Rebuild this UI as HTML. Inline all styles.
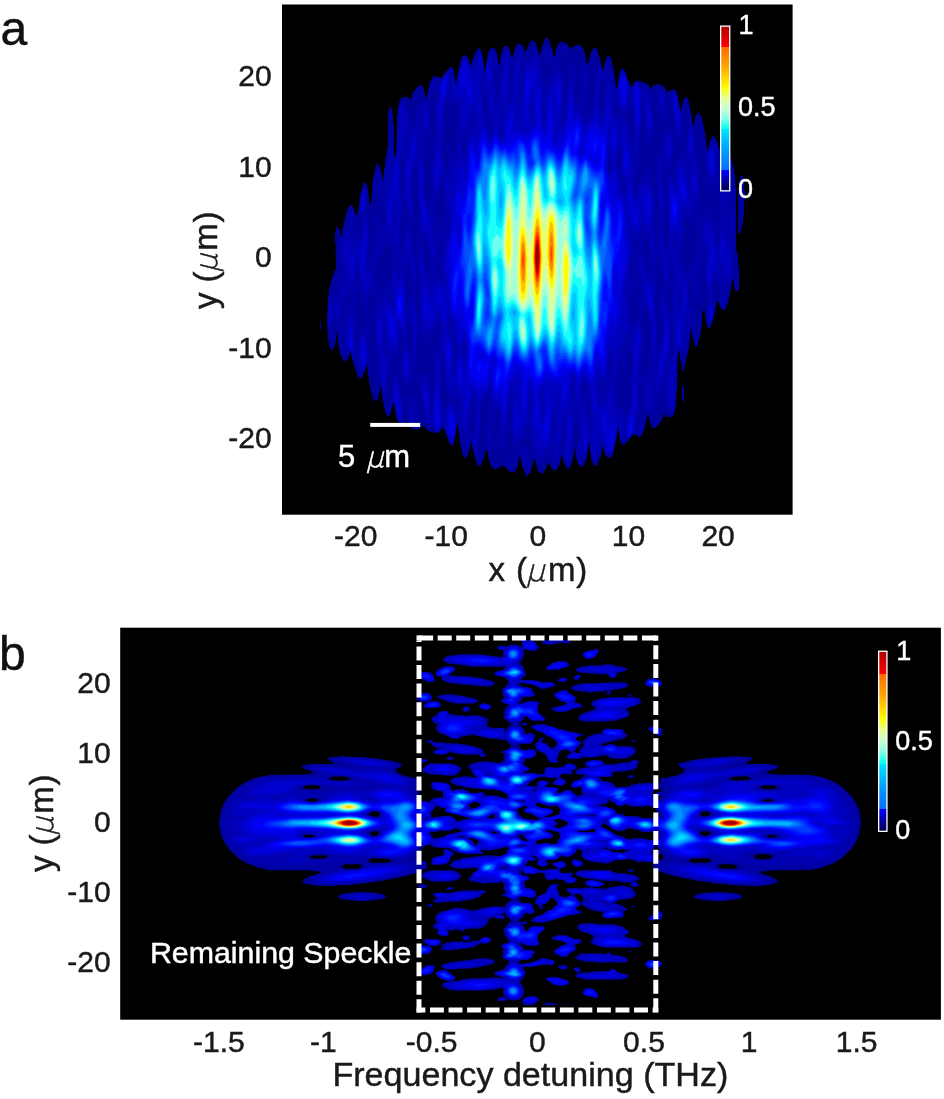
<!DOCTYPE html>
<html lang="en"><head><meta charset="utf-8"><title>Figure: focus intensity and remaining speckle</title>
<style>
html,body{margin:0;padding:0;background:#fff;}
body{width:944px;height:1099px;overflow:hidden;}
svg{display:block;}
svg text{font-family:"Liberation Sans",Arial,Helvetica,sans-serif;}
</style></head><body>
<svg width="944" height="1099" viewBox="0 0 944 1099">
<defs><clipPath id="clipa"><rect x="282" y="4.5" width="510.6" height="510.2"/></clipPath><clipPath id="clipb"><rect x="120.2" y="627.7" width="820.7" height="392"/></clipPath></defs>
<rect x="0" y="0" width="944" height="1099" fill="#fff"/>
<rect x="282" y="4.5" width="510.6" height="510.2" fill="#000"/>
<rect x="120.2" y="627.7" width="820.7" height="392" fill="#000"/>
<g id="heat-a" fill-rule="evenodd" clip-path="url(#clipa)"><path fill="#00009c" d="M528 476l-2 0-1-3-1-1 0-2-1-1 0-2-1-1-0.2-3-0.8-1-0.3-4-0.7-1-1 1-0.5 2-0.5 5-0.9 1-0.1 2-1 1 0 1-2 2-3 0-2-0.8-6-6.2-3 3-2 0-1 1-3 0-3-3 0-1-1-1 0-2-1-1 0-3-1-1 0-4-1-3-2 2 0 4-1 1 0 2-1.9 3-0.1 2-2 2-2 0-1-3-1-1 0-2-1-1-0.3-3-0.8-1-0.5-4-0.7-1-0.3-5-1.4-3-2 10-1 1 0 2-2 3-2 0 0-1-1-1 0-2-1-1-0.1-3-0.9-1-3-24-1.4 2-0.4 5-2.1 10-0.9 2-1.2 1.2-1 0-2.2-3.2-4.9-13-1.9-2-0.7 3-2.3 2.4-5 0.6-1-1-2 0-1-1-3-1-4-5-2 3-1 0-1 1-2 0-1 1-1-1-2 0-1-1-1 0-1-1-0.1-1-1.9-2 0-2-1-1-3 3-5 0.1-3-7.1-1.5-11-1.5-2-1 1 0 4-1 1 0 3-1 1-1 3-1 0-3-5 0-3-1-1-0.1-4-0.9-1-2-17-1 1 0 4-1 1 0 4-1 1 0 2-2 2-1 0-2-3-0.2-2-1.8-4-0.1-3-0.9-1 0-4-1-1-0.2-6-0.8-1-0.5-7-0.8-3-0.7-1-1 6-1 3-1 1 0 2-1 1-2 0-2-2 0-1-2-3 0-2-1-1 0-2-1-1-1.6-7-0.8-1-0.6-6.5-1.4 1.5-0.4 3-2.2 3 0 1-1 1-2 0-1-1 0-1-2-3-2.2-8-1.2-14-0.6-1-0.6 1-0.4 8-1 1 0 3-1 1-1 3-2 0 0-1-1-1 0-2-1-1 0-4-1-1-1.1-22 0.5-1 0.6-21 0.7-1 0.3-7 1-1 0-4 1-1 1-5 1-1 0-1 1-1 0-2 2-3-0.4-26-0.9-1 0.3-10 1-1 0-3 1-1 1 0 1 1 0 2 1 1 0.1 3 1.9 2 1-9 0.8-1 0.2-5 1-1 0-3 1-1 0-3 1-1 0-2 2-3 0-1 1-1 1 0 2.1 2 1.9 5 0.1 2 0.9 1 2-2 0-5 0.8-1 2-15 0.7-1 0.2-3 0.9-1 0.3-3 1.1-2 1 0 2 3 0.2 3 0.8 1 0.3 6 0.7 1 0.1 7 0.9 1 1-1 0.6-2 1.2-21 0.7-1 0.5-6 0.8-1 0.2-4 1-1 0-2 1-1 1 0 1 1 0 1 1 1 0 2 1 1 0.1 3 0.9 1 1 9 0.4-1 0.6-13 0.6-1 1.4-12 0.7-1 0.3-6 0.9-1 0.1-36 1-1 0-3 1-1 1 0 0 1 1 1 0 4 1 1 0.2 11 0.8 1 0 21 0.4 8 0.6 1 1.4-2 0.6-39 0.7-1 0.3-7 0.7-1 1.2-6 3.1-3 5 0 2 3 1-1 0-2 1-1 0-2 1-1 0-1 3-3 0-1 1-1 1 0 2-2 1 0 2 2 0 1 1 1 0.1 3 0.9 1 1 8 4-19 1.9-4 2.1-2 2 0 1 1 2 0 1 1 2-0.3 1.7-3.7 6.3-7.1 1 0 2 2.1 1 3 2 14 2-15 0.8-1 0.2-4 1-1 0-3 0.9-1 0.1-2 1-2 2-2 1 0 4 4 2 8 1-6 0.9-1 0.1-2 1-1 0-2 4-7 1 0 2.1 2 0.9 3 1.4 9 0.6 1 1 9 3-18 2-5 2-2 3 2 1.1 2 1.9 7 0.4 6 0.6 1 0.7-1 0.3-6 0.8-1 0.2-3 1-1 0-2 1-1 0-2 2-2 2 0 1 1 2 4 1.3 6 0.7 1 1-1 0-2 0.9-1 0.1-3 1-1 0-2 1-1 0-1 2-2 3 0 2 2 1 3 2 2 1-1 0-2 1-1 2-5 1-1 3 0 2 2 0 2 1 1 0.1 2 0.9 1 0.4 5 0.6 1 2-3 0-3 1-1 0-2 1-1 0-2 1-1 1-3 1-1 2 0 1 3 1 1 1 5 1 1 0.2 3 0.8 1 0.3 4 0.7 1 1-1 0.5-2 0.5-5 0.8-1 0.2-2 1-1 0-1 2-2 3 0 4 2 1 1 0 1 3 3 1-1 0-1 1 0 3-2 4 0 3 3 0 1 1 1 0 2 1 1 0 3 1 1 0.4 6 0.6 1 2-3 0-3 1-1 1-5 1-1 0-1 3-3 2 2 0 2 1 1 0 2 1 1 0.1 2 0.9 1 1.6 11 1.4 2 2-10 1-1 1-3 2-2 3 5 0 4 1 1 0.3 5 0.7 1 2 17 1 0 0.4-1 1.6-12 1.9-6 1.1-1.1 2.3 2.1 2.7 6 1.1 4 0.9 1 0.2 2 2.8 4 1.6-4 1.4-1.5 2-0.7 3 0.2 1 1 3 0 1 1 1 0 4 4 0 1 1 1 1-1 0-1 2-2 2 0 1-1 5 1 3 3 1 3 1 1 1 0 2-2 2 0 1-1 1-0.1 2.1 2.1 1.9 5 2 13 1 0 1-1 0-4 1-1 0-2 1-1 0-2 1-1 2 0 0 1 1 1 0 2 1 1 0 3 1 1 0.2 4 0.8 1 2 16 1-1 0-4 1-1 0-4 2-3 0-1 2 0 1 1 0 1 2 3 1.2 7 0.8 1 0 4 1 1 0.1 6 0.9 1 0.5 8 0.8 4 0.7 0.9 2-10.9 1-1 0-1 2-2 3 3 0 1 2 3 0 2 1 1 0 3 1 1 0.1 3 0.9 1 0.5 5 0.8 1 0.7 8.6 1.4-1.6 0.3-4 1-1 1.3-4 1-1 2 0 1 1 0 2 1 1 0 2 1 1 0.3 3 0.7 1 0.4 6 0.6 1 0.4 12 0.6 1 0 62 1 1 0 3 1 1 0.4 11 0.9 1-0.3 22-2 3-2-2 0-2-1-1-0.2-5-1.8-2-1 10-0.9 1-0.1 5-1 1 0 3-1 1 0 2-1 1 0 2-1 1-1 3-2 0.1-2.1-2.1-1.9-4 0-2-1-1-1.9 2-0.1 4-0.7 1-0.3 4-1.8 8-3.2 8-2 0 0-1-1-1-0.2-3-0.8-1-0.2-5-0.8-1-0.1-5-0.9-1-1 1-0.6 2-0.4 8-2 16-0.8 1-0.2 4-1 1 0 2-1 1 0 1-1 0-1-1 0-2-1-1 0-2-1-1-2-13-2 21-0.7 1-0.3 4-0.8 1-0.2 3-1 1 0 4-1 1 0 3-1 1 0 3-1 1 0 2 0-2-1-1 0-4-1-1-0.2-5-0.8-1-0.5-7-0.5-0.9-1.3 1.9-0.7 39-0.7 1-0.3 13-0.6 1-0.3 4-2.1 5-1 0.1-1 0.9-5 0-2-3-1 1 0 3-1 1-1 3-3 3 0 1-1 0-2 2-3 0-1-1 0-2-1-1-2-11-1.6 6-1.4 9-3 7-2 2-1 0-3-2-2 0-1-0.8-4.6 5.8-0.2 1-4.2 4.1-1 0-2-2.1-1-3-2-13.9-2 15.9-0.7 1-1.3 8-1.9 5-2.1 2.1-2-0.1-2-2-2-4-1-6-0.6 1-0.4 5-0.9 1-0.1 3-2 3 0 2-1 1-1 3-1 1-1 0.1-2.1-2.1-0.9-3-1-4-0.4-5-0.6-1-1-9-3 18-0.7 1-0.3 2-1 1 0 1-2 2-2-0.9-2.2-3.1-1.8-7-0.4-6-0.6-1-0.6 1-0.4 6-0.8 1-0.2 3-1 1 0 2-1 1 0 2-3 3-2-2-3-6-0.2-4-0.8-1-1 1 0 2-0.9 1-0.1 4-1 1-1 3-2 2-3 0-2-2-1-3-2-2-1 1 0 2-1 1 0 2-2 2 0 1-1 1-3 0-2-2 0-2-1-1 0-2-1-1-0.4-5-0.6-1-2 3 0 3-1 1-1 5zM739 235l0-1-1-1 0-43 1-1 0-8 1-1 0-3 1-1 0-1 1 0 1 1 0 2 1 1 0.1 10 0.9 2 0 9-0.7 1-0.3 16-1 1 0 6-1 1 0 3-1 1-1 5zM320 332l0-12 0 1 1 1 0 7-1 1zM683 403l0-3-1-1 0-13 1-1 0-3 0 4 1 1 0 15z"/>
<path fill="#0000ab" d="M549 68.7l-1 0.1-1-1.3-1.8-6.5-0.4-10 1.2-6.2 1.3 0.2 3.7 5.8 2.1 7.2-0.1 3.4-1-0.2zM566 55.3l-3.3-2.3-1.4-3 0.2-2 2.5-3.6 1 0.1 1 1.1 1.9 6.4-0.9 2.8zM540 466.7l-2-1.9-1-2-1.7-7.8-1.1-2-5.2-29.3-1 1-2.8 15.3-1.2 0.7-2-1-0.9 0.3-1.1 2.2-0.9 4.8 0.6 3-1.3 9-1.4 4.3-1.1 0.7-0.7-4-0.3-12-4.5-16 1.6-19.6-3-6.3-1 2.7-0.5 14.2-3.2 28-1.3 2.1-1 0.6-1-0.3-3-13.4-0.2-7 1.4-15-0.2-5.2-1-2.6-1.2 0.8-2.1 4-1.8 8-0.4 7 1.3 14-0.3 6-1.5 3.5-2-1.1-2-3.4-1.5-8 0-8 1.5-18 2-10-1-5-2-2.1-2-0.1-1 0.5-2 4.7-1 7.9-1.3 25.1-2.7 11.4-1 7.6-1-0.3-1-1.9-3-16.8-1 9-1 2.7-1 0.7-0.4-0.4-1.6-4.3-2-2.2-1 0.3-1 3.5-2-7.6-2-16.5-1 1.1-2.5 15.7-1.5 4.2-1 1.2-1 0.1-1.2-1.5-3.8-11.2-4-8-1.1 6.2-1.9 3-2-0.5-5-4.9-3 0.1-2.3-1.7-2-5-0.7-8-3.6-23-0.3-12 0.9-3.2 1-0.7 3 0.4 1.3-1.5 1.7-4.6 0.6 0.6 1.3 36 1.1 6.7 1 0.2 1-6 1.7-29.9-1.1-23 1.4-5 2-0.2 1.1-1.8 1.9-10.7 0.4-8.3-0.4-3.4-1-2.1-1 0.4-1 2.6-3 13-2 2-2-1.4-1.2 0.9-1.1 3-1.7 10.7-1-0.4-1-4.4-2-18.3-3.3-14.6 1.1-16-1.8-26.3-1 2.7-0.5 7.6-0.1 26 0.6 7.4 2.3 7.6 0.3 5-1.8 16-1 20-1.8 4.4-2.1 1.6-0.8 11-3.1 3.8-2 3.6-1 0.2-2.3-6.6-2.3-11-0.1-9 2.1-18-1.4-6.6-1-2.4-1 0.4-1.5 13.6-1.5 5.9-1 1.7-1 0.3-3-3.2-1.5 3.3-3.5 22.4-2 24-2.3-8.4-1.7-13.5-1-1-1.4-18.5-2.3-13-1-19-0.2-21-2.1-14.9-1-2.4-3 4.5-1.4 5.8-0.7 8-0.9 2.3-1-1.3-2-6.9-3.9-19.1-1.1-12.9-1-1.1-1 1.9-0.3 5.1 0.5 15-1.1 17 0.6 13-0.9 15 0 21-0.5 2-1.3-0.5-1-2.9-1-6.5-1.7 1.9-0.3 1.6-1 0-0.7-1.6-1.1-16-3-9 0.2-6 2.3-12 1.3-4.1 2-2.8 0.8-4.1-0.1-7-0.7-3-1-1-2.6 11-3.1 4-0.6 3-0.6 22 1.4 9 0.5 15-1 2-1-0.8-1-2.5-1-4.9-2-28.2-1 12.8-0.5-6.4-1.5-4.9-2.1 6.9-2.9 5.4-1-1.3-0.6-12.1 0.6-12.7 1-7.3 1-3.2 1-1.2 1-0.2 2 3.8 2-0.7 1 4 1.8-24.5 1.2-3.6 1 0.7 0.6-1.1-0.6-5 0.1-10 1.5-21 1.3-7 1.1-2.2 1 2.2 1 0.5 1-1.7 1.2-5.8 0.2-10 1.6-4 1 0.1 1.1 1.9 1.3 5-0.3 8 1.2 5 3.7 6.2 1 0.5 1-1.2 1.2-16.5-2.4-7-0.2-5 1.8-13 1.6-5 1-0.9 1 0.6 1.2 2.3 1.3 7-1.8 17 1.9 8 2.2 15 0 7-1.8 14 0.2 4 0.8 2 1-0.2 1-1.5 2.6-10.3 2.5-7 0.5-6-1.7-12 0-6 1.1-4.4 1-1.6 2-1.3 1 1.8 1.3 13.5 1.7 3.5 1 0.6 0.5-1.1 0.9-9-0.3-12-1.1-3.1-2-0.2-1-2.7-2.3-19-0.1-6 0.7-3 0.7-0.4 2 4.5 1 9.2 1-13.5 2-14.3 5-14.5 1 0.5 3 13.9 1-1.2 1.8-37.2 1.4-16 1.7-6 1.1-0.6 1 0.7 4.2 5.9 1.6 7 1.6 13 0.6 2 1 0.1 2-4.3 3-15.8 1-2.9 3-4.1 2-7.4 1 0.7 1 2.8 1 6.1 5-21.8 2-3.3 1 0 0.8 0.9 1.2 3-0.2 4-1.5 5-3.4 5-0.9 5 1.2 31-4.7 7-1.2 3-0.6 4-0.5 43 1.8 9.2 3 7.5 1-0.5 2.2-9.2-0.8-28 2-16 0.2-14 1.6-10 0.5-27 0.7-4 1.7-5-0.1-2.6-1.9-7.4 2.9 0.4 6-9.9 6-4.2 1 0.8 2 5.3 2 13.3 1.6-11.7 5.4-18.9 1-0.9 1 0 3 3.1 2 4.5 1 5.3 1-4.3 5.8-12.8 1.2-2.1 1-0.3 2 5.4 3 21.1 2-16.1 2-6.9 1-1 4-1.6 2 2 1.2 4.5 0.8 7.9-3.2 3.1-0.5 9 1.7 12 1 2.6 1 0.4 2-2.7 1-6.7 0.8-13.6-0.4-9 0.5-3 2-5 2.1-3.4 1-0.5 1 0.5 1 1.6 2.2 8.8 0.2 5-1.4 6.7-0.2 5.3 0.2 5.8 1 0.1 2.3-19.9 1.7-8 2-4.8 1-1 2 0.7 4 7.6 5 3.3 1-0.5 1-2.2 3-9.5 1-0.5 1 0.9 2 4.9 1 5.6 1.1 0.5 4.9 29.5 1 0.8 3-15.4 1-1.3 3 0.7 1-1.8 1-4.5-0.6-4 1.2-9 1.4-5 1-0.8 1 0.7 0.5 2.1 0.3 12 0.8 5 4.1 12-1.7 13.2 0 8.8 3 6.2 1.4-23.2 2.6-22.3 1-2 2-1.2 1 2 2.4 13.5-1.1 21 0.7 6 1 0.6 2.8-3.6 1.5-5 0.8-10-1.2-19 1.1-5 1-0.5 1 0.4 2 2.8 0.7 4.3 0.9 1 0.6 3-0.1 8-1.6 19-2 10 1.1 5 2.4 2.3 2-0.3 1-1.2 1.5-4.8 2.2-31 4.3-18.7 2 5 2 11.6 1-8.8 1-2.9 1-0.7 0.8 0.5 1.2 4.7 2 3.3 1 0.4 1-1.5 1-0.3 1.3 6.4 1.7 14.5 1-1.1 3-17.6 1.1-2.8 0.9-1.1 1-0.1 2 2.8 4 12.6 3 6.1 1.6-7.3 1.4-2 2 0.1 5 5.4 4 0.4 1 0.7 1.6 2.4 1 3 4.8 33 0 10-1.4 3.8-1 0.4-2-0.7-1.2 0.5-1.4 3-1.4 6.2-1-0.5 0.1-33.7-1.1-11-1-3.5-1.2 4.5-2 33 0.2 11 1.2 10-1.2 4.7-1 1.2-2 0.7-1 2.4-1.9 18 0.9 5.5 1 0.7 1-1.4 4-15.6 1-1.2 3 1.1 1-1.7 2-12 1-0.3 1.1 3.9 1.9 17.6 3.2 15.4-0.6 22 1.4 20.5 1 2.5 1.2-14 0.1-25-0.3-4.6-2.3-9.4-0.5-5 1.5-16 0.3-17 1-5.2 2-2.6 1.5 1.8 1.5 5.5-0.3-17.5 3.5-8 0.6-3-0.5-3-1.3-2.3-1-0.9-3 0.3-2-2.7-3-18.1-1.4-4.3 0.7-2 0.7-0.6 7-1.1 1.5 1.7 1.2 4 1 12 1.5 8 0.4 8 4.7 21 0 6-2.4 19 1.1 5.6 1 2.9 1 1 1-2.5 0.8-11 1.8-7 1.4-1.7 3 3.2 1-0.4 1-2.5 3.3-19.6 1.8-23 0.9-0.7 1.4 5.7 1.6 12.5 1-0.9 0.1 0.4 1.9 22.6 2.4 13.4 0.9 38 2.3 17 0.4 1.3 1-0.7 2.9-5.6 1.1-5 1-10 1-0.3 2 5.9 4.5 20.4 1.5 14.9 1-0.2 0.5-6.7-0.4-14 1.2-17-0.6-14 1.3-32.4 1-0.6 1 2.8 1 8.5 1.6-2.3 0.4-3.2 1-0.9 0.6 1.1 1 3 0.4 7.4 0.9 3.6 1.1 2.1 1 0.6 0.7-2.7 0.3-8.7 1 0.9 0.5 2.8 1.8 20 0.6 15-1.2 23-2.4 11 0.6 15-2.1 27-0.8 3-2-2.5-1 0.2-0.9 2.3-1 6 0.2 10-1.3 3.9-1 1-1-0.4-1-1.8-1.3-4.7 0.8-10-1.2-6-3.3-4.7-1-0.7-1.2 0.4-1 4-0.7 12 2.9 10-2 12.3-1 3.4-2 2.7-1-0.6-1-1.8-1-5 1.9-17-2.2-9-2.1-13 0-6 1.6-15-0.2-3.7-1-1.2-1 1-1 2.9-1.6 8-2.6 8-0.2 5 1.2 10 0 7-1.2 5-2.6 2.9-1.1 0.1-0.7-2-1.2-14.5-2-4.3-1-0.7-0.3 1.5-0.7 8.2 0.2 11.8 0.8 4.1 3 0.9 0.3 1 2.4 19 0.2 8-0.9 1.7-1-0.5-1-1.9-2-13.7-1.9 19.4-2.1 9.9-5 6.5-1-0.8-1-2.5-1-4.7-1 0.7-1.3 14.9-1.6 41-1 6-1.1 2.3-1 0.1-1-0.9-3.4-5.5-1.8-8-1.8-12.9-1-1.4-1 0.7-1.2 2.6-3.8 18.7-1 2.2-3 3.6-2 7.1-2-4.1-1-6.1-4.8 20.6-1.2 2.4-1 0.8-1-0.4-1.9-2.8 0.1-1 0.8-0.8 1.5-6.2 3.5-4.6 0.8-5.4-1.8-24.8-1-4.8-1-0.5-1 2.4-0.5 4.7-0.8 25-2.3 10 1.3 5-0.5 1-1.2-0.6-1 0.7-6 8.9-3.1 1-2.9 2.1-1-0.6-2-4.6-2-13.4-2.7 17.5-2.7 11-1.6 3.6-1 0.7-1-0.2-3-3.4-2-4.7-1-5.4-1 4.3-5.5 14.1-1.5 2.7-1 0-2.2-6.7-2.8-19-3 19.7-2 3.4-2.6 1.9-1.4 0.5-1-0.8-2-5.1-1.1-8.6 0.1-1.4 1-1.1 3-1.8 0.3-9.7-1.3-10.4-1-3.4-1-0.8-2 2-1 4.5-1.1 13.1 0.2 13-2 6-2.6 5-1.5 1-1.7-2-2.3-10 1.8-13-0.8-10.7-4.9 29.7-2.1 5.1-1 0.8-1-0.2-1.7-1.7-2.3-6.1-5-2.7-1 0.1-1 1.4zM593 61.1l-1 0.6-1.1-2.7 1.1-3.8 1-1.4 1.1 1.2zM600 111l3-3.2 2-11.5 0.2-14.3-0.8-3-0.4-0.7-1-0.2-1 1.2-1 3.1-1 7.5-0.6 13.1zM520.2 92l0.5-1 0.2-5-0.2-5-0.7-1.9-0.3 8.9zM678 141.4l-1.1-0.4-1.1-3-1.8-16.8-2.6-13.2-0.2-11 1.3-4 1.5-2 1 0.3 1.6 3.7 3.4 17.4 1.6 2.6 0.4 2-0.5 17-1.5 5zM486.3 116l0.7-4.2 0-10.8-1-6.4-1-1.8-1 4.2 0 10.1 1 7.4 1 2.2zM447.1 170l1-5-0.7-15 0.6-8.3 1-2.1 1.1 1.4 2.3 12 1.6 3.6 1-0.8 1-5.4 1.1-20.4 1.7-12-1.2-9-0.6-1.1-3-0.4-2-1.3-1.3-2.2-1.7-5.2-1-0.3-3 8.4-1 5.6-0.3 19.5-1.4 15 0.4 9 1.3 8.8 1.7 5.2zM619.4 116l2.6-3-4-7.4-2-1.7-1.2 2.1 0.4 5 2.8 5.3 1 0.3zM632.1 151l0.9-4 1.1-19-0.1-12.2-1-9.8-4-1.2-3.6 11.2 2.8 10 2.8 21.9zM702 128.7l-1.5-3.7 0.5-1.9 1 2.8zM490.8 132l0.5-2-0.3-3.7-1-1.7-1-0.1-0.6 1.5 0.6 4.5 1 1.7zM465.2 155l0.8-4 0.1-5-0.1-3.4-1-2.7-2 2.8-0.5 4.3 0.5 5.7 1 3zM707 196.5l-1-1.7-0.9-5.8 1-15-0.9-27 0.8-1.7 0.5 4.7 1.5 4.1 2-10.6 1-1.5 1-0.2 3 3.2 1.6 5-0.9 28-0.6 3-1.1 2.2-4 1.6-0.8 1.2-1.2 9.8zM620.1 168l1-13-0.1-3-1-3-1 1.3-1 3.9-0.6 6.8 0.6 5 1 2.7 1 0.1zM403.1 192l0.9-6.3 0.7-21.7-0.4-6-0.3-1-1-0.3-1 1-1.1 3.3-0.6 14 0.7 12.8 1 3zM665.6 192l1.4-7.8 0.5-10.2-1.5-8.5-2-6.7-2 24.2 2 7.8 1 1.6zM611.3 167l0.7-2-1-4.4-2.2 5.4 1.2 1.6 1 0.2zM417 258l1-25 1.5-13 0.1-6-1.8-20-0.8-22.3-1-4.5-1-0.3-2 2.6-1 3.8-0.8 9.7 0.3 8 2.3 16 0.1 9-1.9 7.5-2.3 3.5 3.3 22.7 3 9 1-0.2zM372 200.4l1-18.2 1-5.5 1-2.2 1 0 0.4 5.5-1.8 14-1.2 5zM439.1 235l1.4-12 3.5-9.8 0.8-5.2-0.8-15.5-1-5.9-1-1.5-1 1.1-5.4 14.8 1.3 18-0.7 12 0.8 3.1zM726.3 226l0.8-1 1.5-12 2.4-0.9 1-1.1 0.5-2 0.4-6-0.9-8.9-1 1.5-1 4.3-1.6 11.1-0.4 1-2 0.9-1 2.5-0.2 7.6zM403.3 245l0.7-2.3 1.3-14.7 0.7-1.9 2.2-2.1 0.1-1-2.3-20.3-1-4.1-1-1.5-3.4 35.9 0.4 8.2 1 3.5 1 0.8zM689.1 273l2.4-10 3.5-6 1.5-4 2.9-15-0.3-4-2.1-2.9-1.3-4.1-0.2-16-0.5-2.2-1-0.5-1 2.4-2 15.8-1 2.3-4-11.7-1-1.4-0.7 1.3 0.1 15-3.6 23 0.4 6 1.8 5.7 5 6.3 1 0.5zM667.3 248l1-4 0.4-6-1.1-24-0.6-3.5-1-0.2-2.6 8.7-0.7 8 2.3 18.7 1 2.6 1 0.3zM690 246.3l-0.5-5.3 0.5-5.8 0.9 2.8 0.2 3zM429.4 277l0.8-2 0.5-6-0.6-13-4.1-16.8-1-2-1-0.4-1 2.7-0.2 5.5 3 25 1.2 5.3 1 1.6zM650.4 277l1.3-4-0.2-7-3.2-25-1.3-3.8-1-1-1.2 0.8-0.7 4 0.2 15 3.7 17.4 1 2.8 1 1.1zM637.2 250l1.5-4-0.4-4-1.1-2-3.2-2.9-1 0.8 0 1.1 1.7 10 1.3 1.7zM442 258l1.1-4 0.2-8-0.3-2.9-2-4-0.8 2.9 0 11 0.8 5.5zM380.6 304l3.1-21-0.5-11 0.8-6.6 1 2.4 0.2 3.2-0.6 12 4.4 12.8 1-1.8 0.4-15 3.4-19 0-5-1.8-6.3-2-3.1-3-2.2-1 0-0.8 1.6-2.2 7.5-3 3.4-1.7 3.1-2.7 13 0 6 3.3 10 0 15 1.1 1.9zM633 328l5.5-13 0.3-2-1.5-20 0.9-11-0.2-1.7-2-3-0.6-2.3-1.4-21.1-1 0.1-1 2.1-1.2 10.9 1.2 7.6 2.5 6.4 0.2 6-1.2 6-3.2 9-0.6 6 1.3 16.3 1 3.7zM660.2 347l2.1-5 1-12-0.3-6.9-2.3-16.1-0.1-8 1.4-6.5 1-2 2-1.5-4-26.2-3-7.3-1.4 12.5-0.2 14-1.4 19 1.7 18 0.9 25 0.6 3 0.8 0.8zM440.1 277l0.9-0.7 0.1-1.3-1.4-8-0.8-2-0.9-0.7-1 0.1-1.5 2.6 0 5 1.5 2.7zM399.1 273l0.2-5-1.3-2.9 0 5.7zM408.4 305l2.6-8.7 0.7-7.3-1.7-17.7-1-4.5-1-1.7-1 0.8-0.5 2.1-0.9 8 1.3 26 1.1 3.7zM670 315l1-4 2.8-29-0.4-8-1.4-4.2-1 1.2-1.5 15-1.5 3.7-1.8 2.3 1.8 16.5 1 4.8zM645.3 377l2.9-4 1.6-6 0.7-41-1.5-9.7-3-8.4-1-1.2-1 2-1.8 8.3 1.1 25-2.1 23 1.1 11 0.7 1.3zM699 334.3l-0.7-0.3 0-4 2.7-15.5 0.5 4.5-0.5 7-1 6zM363 372.2l-1 0-2-1.5-1.9-3.7 0.7-30 1.2-5.4 1-1.2 3-1 1-1.4 2-11.2 1 0.5 1 2.9 0.6 4.8-0.7 15 0.6 26-0.5 4.5-1-0.3-0.6-4.2-1.4-3.5-1 5.8zM410.4 353l2-22-1.4-7.1-2-4.5-1.1 2.6-1.3 17 1.4 7.9 2 7zM671.2 357l0.8-0.3 1-1.8 1.1-8.9-0.1-15.2-1-5.8-1-1.5-1 1.6-1.1 17.9 0.1 11zM455.1 364l0.9-2.5 1.1-8.5-1.1-6.3-1-1.8-1 2.3-0.6 11.8 0.6 5.5zM626 417l3-7.9 1.5-7.1 0.3-20 1.2-14-1-14.6-1-5.1-1-2.7-1-0.7-1.2 4.1 0.3 17-1.1 6.5-1 1-1-2-3-14-1-0.9-1 2.1-1 10.3-0.2 17-1.7 10 0.9 8 1 1.3 3 0.7 2 2.1zM464.1 352l1.4-4-1.5-2-1 0.8-0.5 2.2 0.5 2.7zM610.1 375l1.6-3 0.4-4-0.7-7-1.4-3-1.1 2-0.7 9 0.6 6 0.2 0.5zM446.1 409l3.5-10-3.2-10-3.4-24.6-1-0.9-1.7 26.5 0.7 15.4 1 2.8 4 1.4zM401 422.4l-1 0.5-1-0.8-1.3-3.1-2-8-1.7-10.7-1.5-4.3 0-10 0.7-7 1.8-4.8 2-1.3 1.5 3.1 1.5 13.4 3.5 16.6 0.1 10zM587.2 393l0.1-3-1.3-4.9-1-2.8-1-0.3-1 2 0.5 5 3.5 4.8zM374 391.9l-1.1-0.9-0.9-3.1 0-2.8 2 4zM413 424.2l-2 0.2-1-1.1-1.6-5.3-0.4-10-1.5-8 0.5-5.3 3 2.4 3-1.4 1 0.1 2 5 3.1 20.2-1.1 1.9zM589.5 416l0.6-4-0.1-7.9-2-8-0.6 4.9 0 9 0.6 4.7 1 2.2zM459.1 409l0.3-3-1.1-4-2.3-3.2-1 0.2-2.2 2 0.2 1 4 7.1 1 0.8zM472.2 435l1.8-6.3 1-11.6 0-13.4-1-0.8-3 4.7-1.6 14.4 0.4 12 1.2 2zM554 438l1.1-11-1.1-6.5-0.8 1.5-0.1 5 0.3 10zM528 469.1l-1-0.5-4-5.6-2.2-8 0.2-2.5 1 0.8 2.4-7.3 1.6-2 1 0.8 1.4 3.2 1.2 7-0.1 9-0.5 3.2zM481 459.3l-0.6-1.3 0.2-2 0.4-2.2 1-1.2 1 1.1 0 1.3-1 3.3zM511 469.2l-1 0.5-1-0.4-1.6-3.3-0.8-4 0.4-1.9 1-1.1 3 1.7 1.8 3.3 0 2z"/>
<path fill="#0000ba" d="M565 50.8l-1.3-1.8 0.3-0.9 1-0.2 0.8 2.1zM567 462.2l-1-0.8-1.1-3.4 1.4-12 0.3-9-0.2-23-0.4-2.9-1-1.3-2 1.7-1 3.1-2 26.4-4 17.3-1-1.4-0.2-4.9 2-23 0.2-17 1.6-10-0.6-7.8-1 0-0.7 1.8-1.2 11-3.1 6.7-0.6 3.3-1.3 25-0.8 5-1.3 1.7-4-1.5-1 1.3-3 9.2-1 0.7-1-0.8-1.7-5.6-1.5-13-1.8-4.8-1.3-6.2-0.3-7 1.6-13 0-7-1-9.3-1-3.2-1-0.5-1 1.9-0.4 3.1-1.1 21-2.5 13.4-1 3.2-2-0.5-1 0.8-4 11.5-1-0.3-1-2.5-2.3-10.6 1.6-33-0.4-5-1.6-4-1.3-0.3-2 5.3-1.3 8-1.7 21.2-1 4.5-2 3.6-1-0.2-0.7-3.1-1.3-21.1-1-2.3-1-0.1-2 1-1-0.1-1-1.3-3-12.6-1-1.9-3 4.6-4 2.6-1.5 3.2-1.2 6-2.1 29-2.4 9-0.8 8.4-1-0.1-1-4.2-0.2-5.1 1.7-5 0.8-5 1.4-22-0.3-9-1.4-6.9-1-2-1-0.5-1 1.3-3.3 20.1-1.7 18.6-1 2.5-2.2-2.1-2.2-5-0.5-5 1.1-12-0.3-8-0.8-3-3.7-6-2.4-10.3-1 2.7-1 8.6-1 2.5-1 0.1-1-1.3-2-6.1-4-36.1-2.6-8.1 0.9-17-0.6-7-1.2-5-1.5-2.3-1-0.1-1 1.3-2.7 13.1-1.3 3-1 0.1-2-2.1-1 0.1-3 4-1-1.3-2.3-9.8-1.1-9 0.3-19-1.9-28 0.1-11 0.9-1.9 2 7.1 2.5 19.8 3.1 8 2.4 8.5 1 1.4 1-1.2 1.4-10.7 1.6-3.7 2-0.1 5 5 1.2-0.2 0.8-2-1.2-19 2.9-29 0.3-1.3 2-1.8 1-3 0.8-8.9-0.5-5-2.3-4.3-1-6.1-1.4-16.6 0.3-7 1.1-1.3 3 1 0.5-0.7 1.5-14.8 1 0.1 2 3.3 1-0.5 2-21.9 1-5.2 3 16.9 2 5.3 1 0.9 1-1.1 0.9-5 1.4-20 1.2-6 0.5-1 1-0.1 4 5.8 1 0.6 1-1.3 1-5 0.1-6-1.1-11.8-1-5.9-1-1.4-2 1.6-3.8 5.5-2.4 10-1.8 4.6-2 2.8-1 0.1-0.3-0.5-0.7-4-0.9-23-1.1-3.8-2-3-3 3.1-1-0.2-1-2-0.5-5.1 0.3-13-0.4-3-1.2-3 0.8-0.7 1 0.2 2 4.4 2 13.6 1-8.8 4.6-18.7 1.4-3.7 1-1.1 1 0 2 2 2 3.4 2 8.2 0.7-0.8 0.3-2.4 1 8.2 1 2.8 1-0.4 1-4.6 2-19.6 1-2.3 1-0.5 1 1.8 1.2 6-2.1 27 1.8 14 1.1 15.5 0.9 4.5 5.1 15.6 2 0.6 1-1.5 1.2-4.7 1-23-0.2-1-1.4 4-1.6 1.8-1-0.9-0.3-1.9-1.1-17-2.6-19 1.4-14 1.6-4.8 1-0.8 0.7 0.6 0.6 4 3.2 44 0.5 1.8 2-1.3 1.5 2.5 1 26 0.4 3 1.1 1.7 1-0.1 1-2.8 1.9-21.8-0.3-5-2.5-8-0.3-7 2.1-29 1.8-11 0.9-1 1.4 0.2 0.4 0.8 1.5 5-1.5 10-0.5 9-0.1 24 1.2 3.4 2-1.3 1.4-4.1 1.6-24 4-18.8 1-0.5 0.5 2.3 0.1 5-1.9 23-0.1 16-1.7 10 0.1 4 1 3 1.3-2 1.1-10 2.6-5.3 1-3.9 2-30.2 1-1.8 1-0.1 3 1.9 1-0.4 4-11.2 1-0.2 1 1.4 1.2 4.8 1.3 13 2.5 7.6 0.7 4.4 0.2 7-1.4 18 0.5 6.5 1 5.2 1 1.8 1-0.7 1-4.7 0.7-18.1 2.3-12.2 1-3.6 1-0.9 1 0.8 1-0.5 3.6-13.6 1.4-2 2 5 2 10-1.8 33 0.5 6 1.3 3.4 1 0.6 1-1 1-2.7 2-11.2 1.7-21.1 1.3-4.9 1-1.6 1-0.4 1.1 2.9 0.8 17 1.1 5.7 1 0.7 3-0.9 1 0.8 1.6 3.7 2.4 10.4 1 0.3 2.4-3.7 3.6-2.5 1.4-2.5 1.3-5 2.2-29 2.8-10 1.3-8.6 1 3.6 0.2 4-1.7 8-1.2 15-0.4 13 0.8 9 1.3 4.5 1 1.3 1-0.4 1-2.5 2.8-15.9 2.2-19.9 1-1.3 2.9 3.2 1.3 5-1.2 15 0.4 8 0.6 2.2 3.5 5.8 3.1 13-4.1 27 4.5 27.3 5 8.9 1-2.4 0.9-10.8-0.7-4-2.7-5-1.1-4 0-26-2.1-11 1.2-13 0.5-2.2 1-1.2 1 0.5 1 1.8 1.5 5.1 4.3 36 2.2 6.5-0.7 18.5 1.7 11.7 1 1.8 1 0.6 1-0.5 4-15.9 1-0.9 3 1.8 3-4.3 1 0.3 2.6 10.4 1.3 10-0.4 19 1.9 30-0.4 9.7-1-0.5-1-3.2-3.1-23-5.9-16.1-1-0.1-1.9 12.2-1.1 3.1-1 0.6-2-0.6-5-6.1-1 0-1 2.2 1.5 14.8-0.1 6-2.6 29-0.6 2-2.2 2.8-1 8.2 0.3 4 1.9 4 0.9 4 2 20-0.1 8.9-1 1.6-3-0.6-1 0.6-1 9.5-1 2.5-3-4.5-1 1.2-2 30.4-1 3.3-2.2-20.9-1.8-5.3-1-1.4-1-0.1-1 2.8-1.8 20-1.2 7.1-1 1.7-1 0-4-5.1-1 0.3-1 4-0.3 7 1.1 14 1.1 5 1.1 0.8 5.4-4.8 4.1-15 1.5-2.7 1-0.8 1 0.6 1 21.9 1 6.4 2 4.2 1-0.3 2-2.7 1-0.3 1.4 2.7 0.1 22-0.5 0.2-1-1.1-1-2.6-2-14.1-2 15.1-3.8 15.5-1.2 2.6-1 0.7-2-1.2-3-4.9-1.9-8.2-1-1-1.1-5.2-1-1.2-1.5 4.4-2.1 21-1.4 3-1 0.1-1-2.1-1.1-6 2-28-3.3-32-4.6-15.4-1-1.3-2 0.3-1.7 5.4-0.8 11-2.1 13-0.4 1.3-1 1-0.4-0.3-0.9-3-0.7-25-0.8-3-1.2-0.9-1 0.9-0.4 2-1.7 23 0.5 4 2.3 8-0.3 14-2 23-2 10zM585 85.9l-1-5.3-0.3-6.6 0.3-3.5 1-0.3 1 2.7 0.4 5.1-0.4 5.2zM624 111.1l-1.5-1.1-1.6-3-3.6-12 0.7-8.5 1.6-8.5 1.4-4.5 1-1.5 1-0.3 1 0.9 1.5 3.4 3.5 13-1.9 15-1.4 5zM437 190.2l-1 0.8-1-1.1-0.5-1.9-1.6-15 4.5-36-0.6-30 2.6-12 1-11 3.6-8.1 1-1.1 2-0.7 2.3 0.9-1.3 5.2-1.4 14.8-3.9 15-0.5 20-1.5 13 1.5 29-3.2 13zM432 88.1l-1 0.3-0.2-2.4 1.2-3.1 1-1 0.8 1.1zM637 152.8l-1 0-1-6 0.1-24.8-1.1-22.6-1.1-8.4 1.1-5.8 1-1.6 1-0.2 2 1.5 2.7 4.1 0.3 5-1.1 29zM661 106.3l-1-0.2-0.6-2.1-0.1-5 1.8-6 0.9-0.9 1 0.1 1.4 2.8-0.1 3-1.3 5.1zM651 133.3l-3-0.5-1.3-4.8-1.3-27 0.6-7 1-0.4 3.3 14.4 1.8 14 0.3 8-0.4 2.3zM679 134.7l-1-0.1-1.1-2.6-3.8-25-0.7-10 1.6-3.6 1 0.2 1.8 4.4 4.2 20-0.2 11-0.8 4zM533.1 125l0.8-6-0.9-18.3-1-3.6-1 0.7-0.8 3.2-0.3 7 1.9 17zM426 129.2l-1 0-0.9-2.2-0.7-7 0.2-11 1.4-6.9 1 4.8 1-4.7 0.9 0.8 0.9 11-0.4 10-0.9 3zM399 253l-4-8.1-1.9-7.9 0.2-4 2.2-8 1.2-9 0.3-11-1-3.5-1 0.2-1 1.7-1 4.1-0.8 10.5-0.3 15-0.4 2-1.5 1.4-1-0.3-1-1.5-0.9-3.6-0.4-17 1.1-16 4.2-15 1.2-21 0.8-1 1 4.1 1-1.4 0.3-1.7 1.7-28.4 2.7-9.6-0.8-15 1.1-4.9 1-0.8 2.6 3.7 2.8 13 0.5 6-0.6 4-2.7 5-1.6 12.7-3 7.3-0.6 4-0.2 32 2 14-2.5 28 0.1 9 1 10zM696 200.2l-3.3-2.2-1.4-4-0.3-14 1.3-20-1.3-2.3-3-1.2-0.7-2.5 2.1-27 0.6-4.1 1-0.9 2.8 16-0.1 20 2.8 9 1.1 9 0.2 18-0.8 5.2zM411 216.9l-1-0.9-1-3.5-3.3-23.5 0.1-22 1-8 2.4-7 1.6-13 3.6-8 2.6-8.9 1 0.7 0.1 5.2-1.8 25-1 6-3.3 8-1.5 12-0.1 11 2.2 19-0.5 6zM669 164.6l-1-0.9-1.2-4.7-1.6-14 0.6-9 1.2-3.1 1-0.6 1 0.9 1.3 3.8 1.4 10-0.6 9zM712 179.3l-2-1.7-1.4-3.6-1.4-13 2.2-13 1.6-3.4 1-0.2 1 1.1 1.6 4.5 0.7 9-0.8 16-0.9 3zM610.5 174l1.5-3 1.7-7-1.8-8-0.9-10.3-3 9.1-1 11.2 1 6.1 2 2.2zM434 256.2l-1-0.2-7-23.4-2-2.4-2.3-0.2-0.6-1-0.2-16-1.9-18-0.6-19 0.7-13 0.9-4.6 1-2 1 0.4 0.4 1.2 1 7-0.3 27 5.9 25 2.5 6 1.5 16.3 2.1 11.7-0.2 3zM661 211.9l-3.4-26.9 1-9 0.1-16 0.3-2 1-1 1 3.2 0.4 5.8-1.3 16 2.9 20-0.4 5zM673 410l-1 0.3-2.1-3.3-3.1-18 0.4-4 2.9-6 1.6-13 2.8-7 0.6-4 0.2-33-2.1-13 2.7-32-1.3-14-1.1-3-2.5-3.4-0.8-3.6 0.8-10-1.5-13 0-21-1.2-20 0.7-8.6 1-2.6 1 1.1 3 8.4 1 1.4 1 0 0.3-0.7 0.5-4-0.1-16 1.1-5 1.2-1.3 3 5.8 1 0.9 2-1 1 2 2 21.1 2.4 8.5 0.4 6-0.8 8-1 1.6-5-8.2-2-1.5-1 0.7-0.6 9.4 2.3 16-1.7 12.8-1 1.7-1-1.2-2-10.2-1-1.9-1 0.3-1 1.9-2 7.3-1 1.3 3.7 16 4.3 9.4 1.8 7.6-0.1 4-2.1 9-1 9-0.4 11 0.8 4.1 1 0.2 1-0.9 1.3-4.4 0.9-8 0.5-17 1.3-4.3 1-0.2 1 1.1 0.9 2.4 0.8 10-0.5 19-1.4 8-3.4 12-1.1 19-0.3 0.7-1-1.4-1-3.9-1 0.8-1.5 10.8-1.1 24-1.5 10 0.4 12zM726 202l-3 0.8-1-0.7-0.2-1.1-1.2-27 0.4-12.7 1 1.8 1 9.2 2-6.2 1 0.1 0.5 1.8 0.6 9 1.9 14-1 7.2-1 2.8zM373 194.3l0-7.7 1-5.9 0.6 3.3zM364 213.1l-1 0.3-1-1.3-1.7-7.1 1.6-12 1.1-2.8 1-0.7 1.7 2.5 0.5 4-0.8 12zM352 216.5l-1-1-0.5-2.5 0.5-1.5 1-0.2 1.1 2.7zM365 294.2l-1-1.3-3-11.7-2-19-1-4.3-1-0.9-1 2.1-2.7 22.9-0.3 1.7-1 1.1-2.7-5.8-2.1-13-2.2 0-1-1.8-1.1-6.2-0.2-6 0.3-11.6 1-7.3 3 6.2 1 0.2 2-1.9 1.3 8.4 1.7 2.6 1 0.3 1-0.5 3-6 2 0.3 1-0.6 1.8-6.1 1-16 0.2-1.1 1-0.5 2 7 1.4 12.6-2.3 23-0.1 7.7 1 2.4 2 0.1 1.3 0.8 0.9 5-0.5 6-1 4-2.7 5.2zM710 294.3l-1-0.7-1-3.3-1.9-13.3 2.1-22-0.1-9-1.1-2.3-3-0.7-0.7-5 0.4-6 1.3-5.3 3-5.6 1-1.4 1-0.1 2 5.2 1.7 7.2 1.8 19 0.5 3.3 1 2.1 1-0.7 1-4.6 2-18.6 1-3.2 1 0.8 2.2 4.9 1.8 9.6 3 3.2 1.7 9.2-0.6 18-1.1 6.1-2-5.7-1-1.2-1-0.1-1 1.1-1-0.8-1.5-7.4-1.5-1.3-1 0-3 5.9-1 0.6-2-0.1-1.7 2.9zM732 228.7l-1 0.1-0.4-0.8-0.2-4 0.6-3.3 1-1.4 1-0.2 0.7 1.9 0 3-0.6 3zM414 281.5l-1-0.6-2.6-19.9-3.9-10-0.3-14 0.8-4.9 1-0.9 1 1.4 1 4 1.5 17.4 3.1 13 0.2 6zM667 283.8l-1-0.4-1.2-3.4-2.2-21-2.7-11-0.1-9 1.2-5.5 1 3.7 2.1 15.8 3.5 7 0.7 3 0.2 15-0.5 3.9zM403 269.5l-2.6-13.5-1.3-3 0.9-0.5 0.3 1.5 2.7 3.1 1 2.8 0 6.4zM653 356.5l-1-1.9-0.7-7.6 0.3-24-5.6-24.1-3.1-9.9-1.6-15-1.9-11 0.4-5 1.2-2.4 1 1.4 6 23.4 2 3 2-0.1 1-1 0.9 1.7-0.1 17 1.9 19 0.3 18-1 12.9-1 4.3zM384 393.6l-1-1.3-2.2-14.3-0.2-21-2.6-9.5-0.8-5.5-0.6-23 0.4-3.2 1-2.3 4 0.8 0.8-1.3 1-12 1.2-3.7 1 0.7 2.6 6 2.4 3.7 2 1.5 1-1.8 0.2-10.4-2-9-0.4-5 1-9 1.2-4.2 1 0.2 0.3 1 2.7 11.2 1 0.2 1-1.3 3-8.9 1 3.9 1 10.9-0.1 18 0.9 14-0.1 9-0.7 5.3-1 1.5-4-9.3-1-0.8-1 1-0.4 20.3-1.3 5-1.3 0.5-3-6.5-1-0.4-2 0.9-0.2-0.5-2.8-22.6-1-2.9-1-0.7-1.4 34.2 1.4 2.6 3 0.4 0.6 5-2.6 29zM342 294.6l-1-0.9-0.1-4.7 0.8-3 1.3-1.3 1 1.2 0.1 4.1-1.1 3.9zM723 305.3l-1-0.4-1.1-2.9 1.1-3.8 1-0.5 1.1 5.3zM329 326.2l-1-1.7 0-11.2 1-10.1 1-3.8 1-0.4 0.8 5-0.1 7-1.1 10zM415 356.2l-1-0.6-0.7-4.6 1-17-3-22 0.7-7.4 1-4.6 1-1.9 1.1 16.9 2.1 14-1.4 11-0.1 11zM657 394.4l-1-2.1 0-5.1 2.5-27.2 1-5 3.1-8 1.3-11 0.2-11-2.1-21 0.8-5 1.2-0.7 1.8 5.7 3.2 22-0.4 23-0.7 6-2.9 9-1.5 12-3.8 8zM338 319.4l-0.9-11.4 0.9-7.9 1 0 0.6 3.9 0.1 9-0.7 5.3zM711 321.2l-1 0.4-0.5-0.6-1.2-3 0.8-12 0.9-4.1 1-1.4 1 0.6 1 2.2 1.1 5.7-1.1 7zM336 314.6l-0.8-6.6 0.8-4.5 0.8 5.5zM454.4 377l4.4-26-2.4-12-1.5-13-4.9-10.5-1-1-1 5.3-0.5 9.2 0.9 4 3 6 0.8 4-0.2 25.7 2 9.2zM353 358.1l-1-2.1-1-6.1-1 0.5-1 2.2-1.1-1.6-0.4-14-1.5-14 1-5.8 1-1.6 1-0.1 3 0.5 0.5 3 1.3 23-0.1 13zM629 437.6l-1 0.2-1-0.8-0.6-2 1.3-15 3.6-13 0.8-6 0.1-17 1.4-16-1.4-27 3.8-14.1 2-3.5 1 0.1 1 2 1 5 0.8 10.5-4.4 37 0.3 30-2.7 12.5-0.7 8.5-3.3 6.4zM363 369.7l-1-0.7-1.6-4-1-8 0.5-17 1-4 1.1-1.1 2.5 1.1 1.5 3 1.7 17-0.2 5-0.5 0.6-1-1.8-1 6.2-1 2.7zM464 368l3-12.2 0.5-7.8-0.5-4.9-1-2.3-2-1.7-1 1.6-2.4 9.3 1.5 5zM341 350.4l-1.4-5.4-0.1-4 0.5-1 1.6 6 0.1 3zM407 381l-1 0-1.7-4-1.6-11 1.3-12.9 1-3.6 1-0.3 2.3 8.8 1.1 11-0.5 8zM439 430.4l-2-0.6-3.5-4.8-0.3-5 3.4-56 0.4-3.7 1-1.4 1 2.4 0.6 6.7-0.3 23 2.2 29-0.8 7-0.7 2.4zM400 420.7l-1-0.7-2-5.9-3.4-18.1 0.2-12 1.2-4 1-0.7 1 1.1 0.9 3.6 3.9 25 0.3 8-1.1 2.8zM428 423.1l-1-2-2.7-14.1-2.1-17 0.1-7 0.7-1.7 2-0.8 2 0.8 1.1 6.7 1.2 26-0.3 5.7zM649 410.8l-1-4.1-1 3.4-1.3-14.1 0.9-8 1.4-3 1-0.7 1 1.1 0.6 2.6 0.4 8-0.5 9zM543.2 416l0.9-3 0.4-7-1.9-16-0.6-1.4-1 0.9-0.4 2.5 0.4 12.6 1 10.7 1 1.2zM584 458.5l-0.8-2.5-2.4-38 0.6-10 1.6-5.4 1 0 0.5 2.4 1.2 13 2.9 17-1.6 16.3-1 4.4zM452 441.4l-1 0.1-1.7-2.5-4.3-14 3.1-17 1.1-3 0.8-1.1 1-0.2 2.7 4.3 3.2 11-2.1 15-1.4 5zM413 421l-1 0.7-1-0.5-1.1-2.2 1.1-5.1 2-4.3 1-0.8 0.9 2.2 0.1 3zM490 443.4l-1-1.4-0.7-5 0.7-8.4 1 0.3 0.5 6.1 0.1 6zM580 459.2l-1-0.1-1-1.7-0.4-2.4 0.4-1.9 2.2 4.9zM510 466.1l-1-0.6 0-2 1 0.4 0.6 1.1z"/>
<path fill="#0000ca" d="M490 83.1l-1-1.1-1-3.5-1-6.5 0-6.3 1-5.5 1-2.1 1 3 0.6 6.9 0.1 9zM470 105.3l-2.2-0.3-1.1-2-0.7-13.3-1-3.4-1 1.5-2 6.6-1 0.6-1.3-2-1.1-4 0-6 3.4-18 2-3.9 1 0 2 2.2 3 6.7 2 13.9 2.2 10.1-1.1 7-1.1 2.4zM505 96.7l-1-1.2-0.3-1.5-0.2-7 1.5-15.9 1-3.2 0.3 21.1-0.3 4.6zM527 124.9l-1-0.3-1-2.2-2-9.4 2.5-38 0.5-2.8 1-1.5 1 0.3 3 2.8 1-0.1 3-6.1 0.9 3.4-1.4 17-0.5 1-1-0.3-1 0.6-2.4 6.7-1.1 9 0.3 15-0.8 3.9zM624 107.3l-1.6-1.3-1.5-4-1.4-7-0.5-6 0-5 1-5.4 1.3-3.6 1.7-1.5 1 0.8 1.6 3.7 2 10-0.8 12-1.3 5zM440 128.9l-1-2.4-1-8.8 0-9.1 2.2-10.6 0.9-14 2.3-6 1.6-1.9 1-0.3 1.3 1.2-0.8 13-1.2 6-3.8 11zM558 116l-1-0.2-0.1-0.8-1.8-23 0.9-9.6 1-3.6 1-1.1 1 1.4 1.2 3.9 0.8 8-1 15.1zM637 133l-3.3-43 1.1-4 1.2-0.9 2 1.5 1.4 2.4 0.5 7-0.6 26-1.3 8.5zM539 447.8l-0.7-4.8 0.9-15-1.2-2-1-0.1-2 1.9-1 0.2-1-4 1.2-22-0.7-9-1.5-8.2-1-2.4-1-0.4-1 1.1-1 3.1-1.5 24.8-1.5 6.6-1 1.1-1.3-2.7-0.9-6-1.6-16 0.3-17-0.5-3.8-1-1.3-1 0.2-1 1.4-2 7.4-1 0.4-2-1.4-1 0.5-1 1.9-2.6 12.7-1.9 22-1.5 5-1-0.2-0.6-2.8-1.2-17-0.8-4-0.4-0.9-1 0-3 1.7-1-0.8-1.8-5-1.6-12-0.6-1.9-1-0.2-3.2 9.1-1.8 2-3.5 2-2.5 6.7-1-0.6-1.6-6.1-2.4-5.5-1-0.9-1 0.4-1.2 3-4.8 28.7-1 2.1-0.8-4.8 0.2-18 2.9-18 0.7-35-2-9-1-1.7-1-0.2-1 1.6-3 9.4-1-1-1.3-7.1-0.6-14-1-2-3.2-3-2.4-8-1.2-9-1.1-18-2.3-10-0.5-7 1.6-16.5 3-9.4 2-11.4 3.3-39.7 3.7-9 1-14.6 1 0.5 4 9.6 1-0.6 1.1-3.9 1.6-22 1.3-7.6 1-1.5 1 0.2 2.3 3.9 1.7 5 1 0.9 4-20.1 1-1.8 1 0.4 2 2.3 4 11.9 1 0.6 1-0.2 3.2-8 0.8-6 1-2.6 1 1.4 0.9 8.2 1.1 3 2 3.1 2-0.5 1.4-2.6 1.1-13 1.5-8.2 1.9-4.8 3.1-3 1 0.8 0.5 3.2 0.5 17 1 0.4 2-1.9 2-0.3 3 4.1 2 1.1 5-3.2 5-1.9 1.3-2.3 0.4-4-1.2-18 0-15 2.5 0.6 3-3 1 1.7 0.3 3.7-0.9 14 0.1 9 2.4 15 1.1 1.5 1-0.4 1.5-4.1 1.5-24 1-4.9 1-1.7 1 0.8 1.1 3.8 2.5 17-0.6 19 0.8 4 1.2 0.7 1.5-1.7 1.8-6 0.7-0.9 2 1.5 1-0.2 2-4.2 2.5-13.2 1.5-19.2 1-4.4 1-1 1 2.9 1.9 20.7 1.1 0.9 3-1.8 1 0.3 1 1.3 1.5 5.3 1.5 11.4 1 1.4 1-0.9 3-8.3 4-2.8 1-1.6 3-9.2 3.9 14 1.1 1.5 1 0.2 0.6-0.7 1.1-3 2.3-12.4 3-10.4 0.7 15.8-2.5 18-0.8 34 1.6 7.8 2 3.4 1.7-2.2 2.3-7.6 1-0.3 1 3 0.8 5.9 0.5 13 0.7 1.5 3 2.4 1 1.7 2.5 9.4 1 9 0.6 15 2.4 12 0.4 6-1.7 18-3.2 10.4-1 5.6-3.7 41-1.3 5-2.8 5-1.2 13.7-1-0.4-3-6.8-1-0.9-1 1.7-0.8 4.7-2.1 24-1.1 3.8-1 0.8-2.2-2.6-2.8-7.8-1 1.2-3.2 22.6 2.2 13 0 10.9-1 0.7-1.2-3.6-1-20-3.8-5.8-2.7-9.2-1.3-1.9-1-0.1-1 0.9-2.6 7.1-1.4 7.2-1 0.9-1-3.2-0.4-5.9-1.6-4-2-2.3-2 1.4-1 2.9-0.6 11-1.4 8.5-2 5.1-3 2.7-1-0.1-0.9-3.2-0.1-15-1-3.2-4 3.1-1-0.3-3-4.1-2-0.7-4 2.7-5 1.7-2 2.8-0.4 5 2 30 0.4 1.5 1 0.4 2-3.9 1.4-6 0.7-8-0.4-15 1-3 1.3-1 1 1.1 1.5 4.9 1.2 8-1.6 13-0.8 21-0.8 6-0.5 1.4-1 0.5-4-3.3-1 0.7-2 5.6zM679 129.7l-1-0.4-1-3.7-3-21.7-0.5-6.9 0.5-1.1 1-0.1 1.1 2.2 3.9 19 0.1 8zM480 118.9l-1.3-7.9 0.3-8.9 1 1.5 0.8 6.4 0 6zM650 127.6l-1 0.4-1-1.3-1-5.5-0.3-14.2 0.3-2.5 1-0.1 2 7.6 0.7 6 0.2 6zM403 115l-2-5.5 1-2.8 1 1.3zM464 119.5l-1-3.4 0-5.2 1-4.2 1-0.3 0.7 1.6 0 4-0.7 5.6zM426 118.6l0-7 1 1.3 0.1 2.1-0.1 1.6zM614 158.1l-1-2.1-0.6-4-0.8-17 0.6-7 0.8-2.7 1-0.9 1 0.6 1.2 3 1.3 11-1.5 13.9-1 4.1zM691 150l-1.2-1-0.6-5 0.8-11.3 1-3.1 1 2.7 0.8 9.7-0.6 6zM669 157.8l-1-0.9-0.5-1.9-1.1-8 0.4-7 1.2-2.6 1 1 0.8 2.6 0.7 6-0.3 7zM410 207.5l-3.4-22.5-0.2-13 1.2-9 3-6 1.4-14.8 2-4.2 1 0.6 0.2 1.4-0.2 8.5-1 6.7-2.9 6.8-1.7 21 0 11 1.6 12zM626 174.3l-2-2.5-1.1-7.8 0.5-11 1.6-12.5 1 0.4 1.8 6.1 1.2 10-0.7 13-0.8 3zM712 175.2l-1-0.8-1.3-3.4-1.1-10 0.4-8.9 1-3.8 1-1.1 2.5 4.8 1 7-0.5 12.2-1 3.5zM437 182.6l-1.1-1.6-0.7-8 2.8-21.6 1 0.7 0.9 12.9-0.9 9.4-1 5.9zM396 193.5l-1 0.4-1.3-0.9-0.2-5 0.8-18 2-4 0.7-6.3 1.1 6.3 0.2 14-0.7 9zM725 187.9l-2-3.4-1.2-5.5-0.6-9 0.8-4.4 1 11.9 2-8.7 1 1.2 0 16zM672 232.5l-1-1.2-0.5-5.3-0.6-39 1.1-1.9 4 7.8 2 1.3 1-0.1 0.5-5.1-0.9-17 0.4-3.6 1-1.5 3 6.8 2 1.5 1 2.1 2.2 18.7 0.1 6-0.3 1.1-1 0.4-2-1.2-3-3.5-1-0.7-0.5 0.9-0.8 26-0.6 1-3.1 1.8zM421 184.4l-1-1.9-0.2-4.5 0.2-5.8 1-4.6 1 1.6 0.3 6.8-0.3 6.3zM695 193.2l-1.8-3.2-0.8-6 0.3-9 1.3-5.2 1 0.3 1 3.6 0.6 7.3-0.2 9-0.4 2.3zM637 229.1l-2-2.1-5-10-1.5-5-0.7-7 0.1-8 1.1-7.3 1-0.9 3.1 14.2 1.9 3.2 3 2.3 1 2.5 0.2 13-1 4zM649 224.8l-2-2.7-3.1-15.1-0.9-2.3-2-1.2-0.5-3.5 0.5-5.4 1-1 2 5.5 4-9.9 1 0.5 2 6 1 8.3-1.7 18-0.3 1.7zM428 229.3l-4-4.1-1.3-3.2-2.1-25 0.4-6 5.4 20 1.9 16zM363 209.7l-1-1.7-1.1-6 1.1-6.7 1-2.5 1-0.6 1 1.8 0.1 8-0.8 6zM389 228.4l-1.2-5.4 0.1-11 1.1-8.1 2-4.9 0.5 3-0.6 18-0.9 7.2zM459.1 233l-0.1-6.2-0.8 2.2 0.8 4.4zM680 236.1l-0.8-6.1 0.8-1.8 0.6 3.8zM363 272.2l-1 0.5-1-4.5-0.8-14.2 0.4-3 3-9 1.4-12.7 1 0.2 1 6.3 0 5.2zM709 283.8l-1.2-3.8-0.2-8 3.3-34 0.1-0.8 1-0.4 1.6 8.2 0.8 16-3.5 11zM722 258.3l-1-0.6-0.5-1.7-0.1-6 1.1-10 0.5-2.1 1-0.8 1.3 3.9 0.3 8-0.8 6zM345 258.2l-1.2-5.2 0.2-9.5 1 0.7 0.7 1.8 0.8 4-0.3 6zM730 271.2l-1.6-3.2-0.8-5 0.3-6 1.1-2.8 1 1.2 0.8 6.6zM352 276.9l-1-0.5-0.7-2.4-0.4-8 1.1-8 1-1.8 1 0 0.9 2.8 0.1 5-1 10zM666 275l0-6.7 0.5 3.7zM396 346.2l-1 0-2-5.4-3-3.2-0.9-2.6-2.7-25 0.6-1.6 1 0.5 6 6.7 1-0.1 1.3-24.5 0.8-2 2.9-3.1 2-3.4 1-0.3 1 7.8 0.3 35-0.3 1.7-1 0.3-3-5.5-2-1.7-1.4 0.2-0.5 4 0.7 17zM445 324l-1-1-3-13.4-1-1.7-3.3-2.9-1.1-3-0.2-11 0.6-3.6 1-1.6 1 0 1.1 1.2 4.9 8.7 1.4 4.3 1 14-0.4 6.5zM654 323l-1-1-5-19-1.4-13 0.4-3.9 4 2.8 1 2.3 2.1 24.8zM684 313.1l-0.8-3.1 0.3-13 0.5-7 1-3.5 1 1 0.3 1.5 0.3 9-0.6 7.9zM427 323l-1 0.9-1-1.2-1.4-4.7-0.9-6 0.3-10 2-13.8 1 0.5 1.7 3.3 3.3 15.2 2.3 2.8 0.7 3 0 4-1 4.3-1-0.6-2-5zM711 319.1l-1.1-0.1-0.5-4 0.6-8 1-2.5 1 0.6 0.7 1.9 0.5 5-1.2 5.2zM665 318.3l-1-9.9 1 2.6zM660 376.2l-0.8-3.2 0.4-8 1.4-7.1 2.4-4.9 2.6-34 2.1 12-0.2 15-0.9 5.5-3.1 5.5-1.7 16-1.2 2.5zM380 345.3l-1.3-3.3-0.9-9 0.1-9 1.1-3.9 1 0.1 1.1 1.8 1.2 8-0.5 10-0.8 4.2zM677 351.3l-0.9-8.3 0.2-12 0.7-6.4 1-2.9 1-0.8 1 0.3 0.8 2.8-0.6 20-0.2 2-0.6-3-0.4-0.4-1 0.9zM353 355.9l-1-1.5-1-6.2-1 0.5-1 1.9-0.6-2.6 0.3-16 0.3-2.4 1-1.3 1 1 1 2.6 0.8 5.1zM636 364.5l-1.1-5.5-0.3-13 1.4-11.2 1-3.4 1-0.6 1.3 4.2 0.5 7-2.8 20.3zM653 343.8l-0.3-9.8 0.3-2.9 1-0.6 0.4 8.5-0.4 3.6zM364 366.4l-1-1-2-4.4-0.8-5 0.2-11 0.6-4.1 1-1.8 1 0 1.6 2.9 1.3 8 0.3 6-1.2 7.8zM449 372.7l-2-4.3-1.5-11.4 0.7-13 0.8-3.4 1-1.2 1 0.3 1.4 2.3 1.1 7-0.5 12.7-1 7.8zM406 376.2l-1.5-4.2-0.7-7 0.7-7 0.5-1.8 1-0.5 1.5 5.3 0.7 8-0.8 6-0.4 0.9zM461 390l-1 0.3-1-1.1-0.8-2.2-1.3-10 0.8-12 1.3-7.4 1-2.3 1 0.7 0.9 4 1 15-0.2 10zM384 385.5l-1-0.4-0.6-3.1-0.8-9 0.4-6.2 1-3.1 1-0.5 1.2 1.8 0.3 4zM439 428.7l-2-0.5-1.7-2.2-0.9-6 0.6-25 2-13.1 1 2 2.7 39.1-0.7 4.1zM629 436.3l-1.6-1.3 0.5-10 1.2-7 3.6-10 1.1-22 0.2-1.5 1-1.1 1.7 12.6-0.1 10-2.1 10-1 13-2.5 5.3zM400 418.4l-1-0.6-1.1-2.8-3.3-19 0-8 0.4-2.5 1-1 1.3 3.5 3.3 22 0.5 6zM427 411.1l-2-5.7-1.3-9.4-0.1-7 1.4-3.4 1 0.2 0.9 2.2 0.7 5 0.4 13zM672 406.8l-0.7-1.8-0.3-10.1 2.1 8.1-0.1 2.6zM610 407.1l-0.7-2.1 0.1-4 0.6-3.5 1-0.1 0.1 7.6zM517 435.1l-1-0.2-1-2.3-1.3-8.6 0.4-11 1.9-11.1 1.1 1.1 2.4 18-0.6 8zM452 439.5l-1 0.3-0.8-0.8-1.2-2.6-1.8-9.4 0.8-12.8 1.1-4.2 0.9-2 1-0.4 1.2 1.4 1.6 5 1.5 11-1 9zM610 452.4l-2-1.4-2.4-5-5.2-26 0.2-4 1.2-4 1.2-1.8 2-0.9 1.8 0.7 1 2 1.2 15.3 1-0.5 2-6.8 1-1.2 2 3.1 0.9 4.1-0.1 5-2.8 15-1.7 5zM569 443.9l-0.9-6.9-0.1-13 0.8-7 0.2-0.7 1-0.3 1.1 4 0.1 7-1.2 12.6zM585 455.6l-1-6.2-0.4-11.4 0.4-7.8 1-1.1 1.1 2.9 1.3 8-0.4 9.1-1 4.8z"/>
<path fill="#0000d9" d="M461 85.8l-0.1-4.8 2.1-15 0.9-3 1.1 0 1.3 4 0 7-4.3 10.9zM526 103.6l-0.1-22.6 1.1-5.3 1-0.3 2 3.6 0.6 5-3.6 18.7zM624 103.2l-1-0.5-1.1-2.7-1.5-11 0.5-11 1.1-2.4 1-0.5 1 0.8 1.4 3.1 1.2 8-0.6 11-1 3.9zM443 98.1l-1 0-0.4-2.1 0-12 2.4-5.9 1-0.9 1 0 0.5 3.8-0.7 9-0.8 3.9zM470 98.5l-1.2-1.5-0.9-6 0.1-9.6 1-1.7 1 2.9 1.2 9.4-0.2 4.8zM559 103l-1 0.4-1.4-9.4 0.4-7 1-2.2 1 1.3 0.9 5.9zM638 123.6l-1-0.5-1.1-10.1-0.4-16-0.8-7 0.3-2 1-1.1 1 0.3 1.3 1.8 0.7 6.8 0 19.2zM537 419.3l-1-0.4-0.8-2.9 0.2-17-0.8-7-1.9-10-1.7-4.1-1-0.1-1 0.9-1.9 5.3-0.9 7-0.6 15-0.6 4-1 0.3-1-5.9-0.9-13.4-0.2-18-0.8-3-1.1-1.1-2-0.6-2 0.9-4 4.6-2 3.6-3.2 14.6-1.8 20.3-1 3.2-1-3.5-1.4-20-0.6-1.2-3.8 4.2-1.2 0.3-1.1-1.3-1.2-4-0.8-17 0.5-4 2.2-7-1.6-3.3-1-0.3-1.5 1.6-0.8 10-3.7 13.3-2 3.5-4-0.6-2 3-1 0.5-5-8.2-1 0.1-3 2.4-1-19 0.9-18-0.9-7.8-2-9.2-2-4.4-1-0.2-2 7.1-1 1.7-0.3-4.2 0.9-12-1.8-3-3.8 0.3-1-0.5-2-4.3-1.8-12.5-0.7-23-2.5-8-0.2-5 1-10 3.2-10.3 3.8-21.7 0.7-20 0.8-7 1-3 1.7-1.2 1.2 1.2 1.8 4.5 1 0.7 1-2.5 4-18.2 1.1-22.5 0.9-5.8 1-2.4 1-0.2 1 1.2 3 10.8 1 1.2 1-2 2.7-16.8 2.3-5.6 1-0.1 1 1.2 3 9.4 1.7 2.1 1.3-0.3 3-7 1-1.7 1-0.3 4 6.6 1 1.1 2-0.4 3.3-3 0.7-13.6 2-7.6 2-2.7 1 3.9-0.5 12 1.5 3.9 1 0.2 4-4.1 1 0.2 4 3.8 2 0.2 2-0.7 7-4.8 2.1-2.7 0.9-4 0.1-5-1.4-17 0.3-4 1-1.8 1-0.2 1.1 3 0.5 20 2.4 13.3 1 2.8 1 0.8 2-2 1.5-4.9 0.9-7 0.6-15 1-3 0.8 2 1.7 17 0.2 18 0.4 2 1.9 2.1 3 0.1 3-2.3 2-2.7 2-5 3.3-16.2 1.7-17.9 1 0.3 1.1 17.6 0.9 4.4 1-0.2 2.1-3.2 1.9-1.5 1.6 1.5 1.2 4 0.9 8 0.2 11-2.8 9 0.9 2.7 1 0.9 1-0.2 0.9-1.4 0.5-10 4.4-14 1.2-2.2 1-0.5 3 0.1 3-5.3 5 9.3 1 0.3 1-0.7 2-2.6 0.4 0.6 1.1 19-0.9 19 1.4 9.9 2 7.6 1 1.8 1 0.4 3-7.2 0.3 0.5 0.5 3-0.8 10 0.4 4 1.6 2.4 4-0.9 1 0.9 1.4 3.6 1.9 14 0.6 23 2.1 6 0.6 6-0.7 9-3.4 12-4 23-1.5 24.9-1 2.8-1 0.8-1-0.3-0.8-1.2-2.2-5-1 0.8-4.5 20.2-1 21-1.5 8.7-1 1.3-1-0.5-0.8-1.5-3.2-11.4-1 0.5-0.8 2.9-1.9 14-2.3 7.2-1 0.5-1-0.6-3.2-9.1-1.8-2.9-1 0-1 1.1-3 7.5-1 1.1-2-2-3-5.8-1-0.6-1 0.2-3.6 4.4-0.9 14-1.5 5.3-2 2.8-1-1-0.2-2.1 0.1-13-0.9-2.7-1-0.8-5 4.5-4-3.6-3-0.7-9 6-1.8 2.3-1 4 0 6 1.9 16-0.5 5-0.6 1.8zM649 121.9l-1-2.1 0-8 1 1.7 0.3 2.5zM614 153.4l-1-4.4-0.4-9 0.4-6.4 1-3.1 1 0.5 0.8 3 0.5 7-0.9 9-0.4 2.2zM669 149.5l-1-0.7 0-4.1 1 1.2zM626 169.4l-1-0.2-0.8-2.2-0.4-5 0.7-9 1.5-4.5 1.3 2.5 0.7 7-0.5 7zM712 171l-1.2-2-0.8-6 0-6.4 1-3.1 1 0.3 1 1.9 0.6 4.3-0.3 8-0.3 1.8zM396 185.8l-0.9-3.8 0.1-6 0.6-6 1.2-0.5 0.2 10.5zM408 180.5l-0.5-5.5 0.5-5.9 0.9 0.9 0.1 2zM685 198.6l-1 0-1-0.9-2.6-5.7-0.8-9 0.4-5.6 3 1.7 1.7 3.9 1.1 11zM674 225.2l-1 0.6-1-0.9-0.5-3.9-0.3-24 0.8-4.2 4.9 5.2 1.3 6-0.7 15-1.5 4zM363 205.4l-1.1-5.4 1.1-4.9 1 1.5 0.2 3.4-0.2 3.3zM649 213.5l-1.1-0.5-0.7-6 0.6-8 1.2-2.4 1.1 2.4 0.7 6-0.8 6.2zM425 220.5l-1-1-1-6.3 0-4.9 1-0.7 1.6 7.4 0.1 3zM637 223.3l-1-0.6-1-2.8-0.6-3.9 0.6-2.4 1 0.1 1.3 2.3 0.4 4zM459.2 242l1.1-5 0.2-9-0.5-5.1-1-3.3-1-1-1.4 1.4-0.2 6 1.5 15 0.4 1 0.7 0.5zM711 260.1l0-2.9 1-3.7 0 4.7zM617.3 294l0.4-8-0.7-9.7-1-4.4-1 1-0.9 5.1-0.1 9 1 6 1 1.8zM402 320.1l-3.5-3.1-1.2-2-1-8 1.2-13 1.5-3.3 2-2 1-0.1 1 5.4 0.1 20-0.1 4zM439 299l-1-0.6-0.6-2.4 0.6-3.8 1.4 3.8zM651 308l-1-2.1-1.3-6.9 0.1-5 1.2-1 1 1.9 0.6 5.1 0.1 6zM426 315.8l-1-0.1-1.1-6.7 1.1-7 1-1.6 1 2.2 0.2 3.4zM711 317.1l-0.4-3.1 0.4-4.4 1 0.8 0.2 1.6-0.2 3zM395 336.8l-1 0-3-2.7-1.3-3.1-1.2-13 0.5-3.2 1-0.2 2.7 3.4 1.5 4 0.8 7zM678 340.9l-0.8-0.9-0.1-2 0.9-8.3 1 0.5 0.3 4.8-0.3 4.9zM666 346.6l-0.5-3.6 0.3-6 0.2-2.3 1-0.3 0 8.6zM352 352.8l-1-6.4-2.1 1.6 0.8-11 0.3-1.5 1-0.4 1 2.8 0.6 6.1 0.1 7zM364 359.1l-1 0.5-1-1.3-0.9-4.3-0.1-5 1-5.2 1-0.1 1.3 4.3 0.3 6zM449 364.7l-1 0.2-1-2.9-0.5-6 0.7-8 0.8-2.9 1-0.8 1.1 1.7 0.6 6-0.5 8zM460 384.7l-1.3-2.7-0.8-8 0.7-9 1.4-5.3 1 1.2 0.3 2.1 0.7 11-0.6 8zM406 370.2l-0.7-4.2 0.7-3.4 0.6 4.4zM468 396.2l-1 0.7 0-3.4 1-4.5zM438 427.2l-2.1-2.2-0.7-8 0.3-19 0.5-5 1-2.3 1.4 8.3 1.6 25-1 2.8zM426 403.2l-1.2-8.2 0.2-3.1 1-0.6 1 7.7zM517 428l-1 0.2-1.1-5.2 0.1-7.7 1-3.3 1 2.3 0.8 5.7 0 4zM547 439.5l-1-0.5-1.5-3-0.8-6 2.3-11.8 2-6.6 0.8 7.4 0 11-0.8 7.8zM451 438.2l-2.2-4.2-0.7-9 0.9-9.4 1-2.8 1-0.6 1 1.5 1.1 4.3 0.9 10-0.9 8-1.1 1.9zM606 431.5l-1 0.4-1-3.3-0.8-6.6 0.3-5 0.5-1.2 1-0.1 1 2.2 0.4 3.1zM629 435.1l-1-1.1 0.7-10 1.3-5.6 2-2.9 1.1 2.5 0 10-2.1 5.3zM610 450.6l-1-0.4-0.5-1.2-0.2-8 4.7-13.2 0.8 3.2-1.8 15-1 3.8zM586 450.7l-0.6-4.7 0.6-3.2z"/>
<path fill="#0000e8" d="M624 98l-1-1-0.6-2-0.9-7 0.4-9 0.5-2 0.6-0.4 1 0.7 1 2.2 0.6 5.5-0.3 9zM443 94.5l-0.9-3.5 0-7 0.9-3.1 2-2.6 0.8 1.7-0.4 8-1.4 5.7zM528 90.1l-1 0.4-0.2-3.5 0.2-4.1 1-1.9 0.7 4zM638 116.2l-1-0.6-0.5-6.6 0.5-18.8 1.2 11.8zM505 392.4l-1-1.4-1-4.9-1-1.9-1 0.6-4 7.4-1 0-1.2-2.2-1.1-7 0.1-8 0.9-6 2.2-7-2.9-5.8-1-0.1-1 0.8-1.9 3.1-0.9 9-2.6 11-1.6 3.4-1 0-3-3-3 3.5-1 0-3-6.3-1-0.7-2 1.1-1-0.4-1-4.2-0.5-7.4 1-17-0.2-5-4.3-27.2-3.5-10.8-1.5-7-1-0.5-1.4 9.5-1.6 3.4-1 0.6-1-0.4-1.5-3.6-1.4-9-0.4-11 2.2-28-1.8-7 2.9-22.2 1-1 2 15.4 1 3.2 1-0.5 1-2.6 1.1-9.3 0.1-9-0.7-7-3.7-12 0.3-11 0.9-2.5 1-0.2 3 7.3 1 0.2 1-2 4.9-23.8 0.5-19 1.2-8 0.4-1 1-0.6 1 1.4 3 11.9 1 1.1 1-1.2 0.8-3.6 2.1-15 2.1-5.7 1-0.4 1 1.1 2.7 8 1.3 2.1 1 0.4 1-0.5 3.6-8 1.4-1.1 1 0.7 3 5.8 2 1 3-1.8 3-0.9 2-3.8 3 1.3 1-0.3 4-5.2 1 0.1 4 3.3 5 1.6 3-4.7 5-4.1 3-5 3 11.8 1 2 1 0.3 2-1.8 1.1-2.2 2.9-9.4 1 3.1 0.6 14.3 2.4 2.9 5 3.5 1 0 2-3.2 3-8 4-14.6 1-0.6 1.9 6 1.1 0.1 3-6.7 2-2 1 0.7 1.1 2.9 0.9 11-0.6 7-2.6 9 2 5 1.2 1 2-1.5 1.4-2.5 0.6-8 4-14.5 1-0.6 3 2.5 1-0.6 2-3.8 1-0.4 4 7.2 3-0.9 0.7 1.1 1.3 12-1 18 0.3 4 4.7 28 3.5 10 1.5 7 1-2.5 1.2-7.5 1.8-3.1 1-0.2 1 1 1.3 4.3 1.2 10 0.2 12-2.6 26 2.1 8-1.7 15-1.5 6.9-1-0.8-1.8-16.1-1.2-2.2-1 1.4-1 4-0.7 7.8 0.7 15.4 3.5 11.6-0.5 11.1-1 1.8-1-0.8-2-5.6-1-1.2-1 0.8-5.6 25.9-0.4 18-1 8.1-1 1.9-1-0.4-3-11.5-1-2.3-1 0.1-1 2.5-2.4 17.6-1.6 4.8-1 1-1-0.4-3-8-2-2.7-1 0.1-1 1.1-3 7.4-1 1.1-1-0.2-3-5.6-2-2.1-4 2.5-3 0.5-2 2.6-3-0.5-4 5.2-1 0.6-5-3.9-4-1.6-1 0.8-2.4 4.3-5.2 4-2.4 3.6-1-0.7-2.3-8.9-1.7-3.2-2 1-1.4 2.2-2.6 8.8-1 0.9-0.8-16.7-2.3-3-5.9-3-2 2.7-4 9.8zM614 145.4l0-5.9 1 2.5zM626 163.7l-1-0.8-0.1-2.9 1.1-5.4 0.7 4.4zM593.2 160l-0.5-2-1.7-2.4-1-0.6-2 1.5 0.4 1.5 1.6 1.7 2 0.7zM597.8 162l0.2-3.4-2.6 1.4-0.3 1 0.9 1.5 1 0.4zM684 194l-1-0.3-1.3-3.7-0.2-4 0.5-2.1 1-0.1 1 2.2 0.4 5zM675 221.1l-1 0.6-1-0.8-0.8-5.9 0.1-14 0.7-3.1 1-0.3 2 1.8 0.7 1.6 0.9 6-0.6 9.1zM401 316l-2-1-1-1.7-1-7.3 1-9.5 1-2.5 1-1.1 1-0.1 1 3.2 0.4 9-0.4 8.7zM392 330.5l-1-0.9-1.1-4.6 0.1-5 1-0.7 1.5 2.7 0.8 4-0.3 3.8zM352 351.2l-0.3-6.2-0.7-0.7-1 0.4-0.2-0.7 0.2-2.5 1-1.6 1 4.1zM449 358.5l-1-0.2-0.2-3.3 0.2-3.2 1-2 0.6 4.2zM485.1 359l1.2-2-2.3-3.2-6-2.3-1 0.4-0.5 2.1 0.5 1.4 3-0.3 3 3.6 1 0.6zM460 378.2l-1-6.2 1-6.9 1 6.9zM438 425.6l-1-0.6-1-10.1 0-12.4 1-5 1 5.1 0.9 21.4zM451 436.5l-1.3-2.5-0.6-7 0.7-7 1.2-1.5 1 2.5 0.7 7-0.6 7zM630 433.6l-1 0.2-0.3-0.8 0.1-5 1-6 1.2-2.5 1 0.4 0.2 1.1 0.3 7zM547 434.2l-1-0.6-0.6-3.6 0.6-5.5 1-2.6 0.8 5.1z"/>
<path fill="#0000f7" d="M444 90.5l-1-0.2-0.2-6.3 0.2-2 1-1.9 1 0.1 0 6zM624 89.6l-1-2.2-0.1-2.4 0.1-2.3 1-1.4zM497 389.5l-1-0.1-1-2.2-0.7-9.2 1.1-8 2.7-8-3.1-7.1-1-1-1 0.1-4 4.4-1-0.5-5-6.9-4-3-2.3 0-1.6 2-0.9 3-1.5 18-1.7 2.9-1-1-1-9.9 1.2-16-3.4-31-4-12-1.8-15.3-1-2.7-1 1.3-1 3.4-1.5 14.3-1.5 3.5-1-0.2-1-2.2-1.1-6.1-0.4-14 1.4-14 3.1-14.9 3-4.9 2.2-9.2 0.6-15-1.2-19 3.4-4.1 2.7-15.9 3-11 0.3-19 1-6.8 1-1 1 1.5 2.4 10.3 1.6 2.4 1-0.9 1-3.2 1.9-15.3 2.1-6.3 1-0.5 1 1.1 3 7.7 2 1.5 2-2.2 3-7.1 1-0.5 5 7.3 5-1.5 3 1.2 5-3.4 3.2-5.3 1.8-1 6 4.3 3 3.2 1-1 3-7.5 6-4.7 1.2 0.7 2.8 11.1 1 1.7 1 0 4-3 2.4 4.2 5.6 4.7 2 2.8 2 0.4 1-0.7 1-2.5 6-17 1-1.5 3 4.4 1-1.3 3-8.9 1-1.8 1-0.5 1 1 0.8 2.9 0.5 9-1 7-2.8 8 3.5 7.8 1 0.4 3-3.2 1-0.7 1 0.1 4 5.1 5 4.4 2 0.9 1-0.5 1.5-2.3 0.7-3 1.2-19 1.6-3 1 0 1 3.2 0.5 7.8-1.2 17 3.4 29 3.9 12 2.4 17.9 1 1.5 1-1.8 1-4.8 1.2-12.8 0.8-2.3 1-0.6 1.2 1.9 1.2 6 0.6 11-0.8 13-3.7 19-3.5 7-1.2 5-1.1 16 0.9 19-0.5 2-2.1 2.4-1 2.4-2.4 15.2-3 11-0.2 18-0.7 6-0.7 2-1-0.4-3-11.8-1-1.6-1 0.1-1.6 4.7-2.3 17-2.1 4.4-1-0.3-3-7.2-2-2.3-2 1.3-4 8.6-1-0.2-3-5.6-2-1.9-4 2-4-1.6-1 0.5-4 3.3-2.8 5-1.2 1.1-1-0.2-5-4.1-3-3.5-1 0.2-3.4 8.5-6.6 4.2-1-1.5-3-10.8-1-0.8-4 2.6-3.5-4.7-4.5-3.5-3-3.2-1-0.2-1 0.5-1 2.1-7 19.1-1 0.8-2-4-1-0.5-3.4 8.9zM595 155.1l-2-1.4-3-5.2-3 2.9-0.3-3.4 2.3-11 1-0.6 2 2.9 1-0.2 4-5.3 1 1 0.8 3.2 0.1 6-1.5 8-1.4 2.5zM603.1 211l2.8-10-0.9-2.8-1-1.1-1-0.2-1 2.1-0.5 5 0.5 4.8 1 2.6zM675 218l-1.1 0-1-5 0.1-9 1-3.4 1 0.1 1 1.5 0.9 4.8-0.4 7zM455 249.3l-1-0.4-0.6-4.9 0.6-6.1 1-0.3 0.5 6.4zM620 277.6l-1.1-6.6 0.1-3 1-2.4 1 4.4zM400 313.1l-1-0.7-0.9-2.4-0.4-5 0.8-6 1.5-2.8 1.1 1.8 0.5 7-0.4 6zM471.1 317l0.9-0.9 0.7-4.1-0.7-8.6-3.7 9.6 0.2 1zM485 378.8l-1-0.4-2-3.4-1 0.3-3 3.6-1 0-0.9-1.9-0.6-5 0.6-6 1-4 1.9-2.6 2 0.9 3 4.5 1-0.2 2-2.6 1-0.2 0 4.7-2 10.3zM630 432.6l-0.6-0.6 0.1-4 0.5-3.3 1-1.9 0.9 5.2-0.9 3.3z"/>
<path fill="#000aff" d="M576 149.2l-1-0.1-1-2.1-0.6-6 2.4-11 1.2-2.7 1-0.6 1 1.6 0.5 2.7 0 7-1.5 7.7zM538 379.2l-2-0.6-0.7-1.6-3.3-14.1-1-0.2-2 3.2-2 0.9-7-4.4-4-5-2 0.2-7 17.7-1 1.4-1-0.4-0.9-3.3-0.5-9-0.9-3-0.7-0.8-3 0.4-1-0.9-3-7.2-1-0.8-1 0.4-3 4.1-1 0.4-1-0.5-5-7.2-5-3.7-2 0.8-2.8 4-0.6 3-0.5 12-1.1 4.4-1-1.6-0.1-8.8 1.4-9-1.9-14-0.5-10 0.3-3 2.8-2.9 1.1-4.1 0.5-9-1.1-11-0.5-1.1-2.3 12.1-2.7 4.2-1-0.7-1-2.2-1.6-6.3-1.3-21-1.1-3.8-1 0.3-1 2.7-2 9.1-1.4 12.7-0.6 2.2-1 0.3-1.2-4.5-0.7-10 0.6-10 1.3-8.6 5-14.7 2.1-8.7 1.1-14 0-20 2.8-7.7 2.8-18.3 3.1-9 0.1-21.1 1-2.5 1 1.8 2 8.9 1 1.9 1 0.3 1-0.9 1-2.4 3-20 1-2.2 1-0.5 5 8.9 1 0.2 1-0.7 4-8.6 1-0.6 1 0.8 3 5.6 1 0.7 4-1.3 4 2.7 1-0.2 5-4.3 2.6-5.5 1.4-1 5.6 4 3.4 5.9 1-0.5 3-10.4 2-2.1 4-1.3 1 1.4 3 13.9 1 1.5 3-3.8 2-0.4 7 4.6 3 4.7 3-0.4 6-16.2 1-1.7 1-0.3 1.4 4.1 0.5 9 1.1 2.2 3-0.4 1 0.6 4 8.7 1 0.2 3-3.8 1-0.6 1 0.2 8 9.3 3 1.9 2-1.4 2.2-3.9 1-17 0.8-3.6 1-0.2 0.9 8.8-1.5 13 1.8 13 0.6 11-0.8 3.6-2 0.7-1 1.7-1 5-0.2 7 1 13 0.2 0.6 2.9-13.6 2.1-4.8 1 0 1.9 3.8 1.5 6 1.4 21 1.2 3.8 1-1.1 2-7.7 2-16.9 1-2.1 1 1.4 0.7 3.6 0.6 9-0.6 10-1.5 10-5.2 15.9-2 9.9-0.9 31.2-2.7 7-2.4 17.1-3.7 10.9 0.2 17-0.5 5-1 0.1-2.5-10.1-1.5-1.9-1.3 0.9-1.3 3-2.2 17-1.2 4-1 1.3-1-0.3-3-6.4-2-1.9-2 1.5-4 8.5-1-0.1-1-1.4-3-5.6-1-0.4-4 1.7-4-3-1 0.3-4 3.6-3 6-1 1.1-1 0.1-4.8-4-3.2-5.7-1-0.4-1 1.8-2.5 9.3-1.5 1.9zM596 150l-1 0.9-1-0.9-0.5-3 0.5-3.4 2-3.5 1 1.1 0.1 1.8zM675 214.5l-1-0.8-0.4-4.7 0.4-4.4 1-0.9 1.1 5.3zM400 309.6l-1-0.8-0.4-3.8 0.4-3.6 1-1.2 0.7 4.8zM478 373l-0.4-5 1.4-4.3 1 0.2 0.5 1.1 0.3 3-0.8 3.1-1 1.6zM497 386.8l-1-0.4-0.7-2.4-0.2-8 1.9-8.4 1-1.7 1-0.5 1.7 3.6 0.1 5-1.6 8z"/>
<path fill="#001fff" d="M577 144.1l-1 0.7-0.4-0.8-0.5-4 0.9-5.9 1-2.8 1-0.3 0.6 6zM540 376.5l-2 0.2-2-2.5-3-15.9-1-1.7-1 0.3-3 6-2 0.7-6-3.5-3-5.3-1-0.5-2 0.1-4 11.4-2 4-1.4 1.2-0.9-1-1.5-9-1.2-2.8-1-0.8-3 0.6-1-1-3-7.9-1-0.4-1 0.9-2.6 4.4-1.4 0.9-2-1.8-4-6.8-3.6-3.3-2.4-0.4-4 3-1-0.8-1.4-5.8-0.5-8 0.6-4 2.3-5.6 1-6.8 0.3-30.6-0.3-1.6-1 1.3-1 3.4-2.7 17.9-1.3 2.6-1 0.7-1-1-1-2.6-1.2-6.7-0.5-23-2.9-7-0.7-3 2.5-20 1-26 0.8-3.8 2.2-4.2 1.8-19 1-3.2 1-1.2 1.2 1.4 0.8 3.9 1-1.6 1-17.6 4-3.1 1-1.9 2.6-17.7 1.4-4.4 1-0.6 1 1 3 5.7 2 1 2-2.5 3-6.7 1-0.7 1 0.7 3 5.6 1 0.5 4-1.3 4 3.8 1 0.1 6-4.2 2-5.9 1-1.2 1-0.1 3 1.8 1.9 2.4 4.1 10.4 1-2.2 2-13.2 2-3 2-0.7 1.5 0.7 1 2 2.5 13.5 1 3 1 0.6 3-5.5 1-1 2-0.2 5 2.7 4 6.5 2 0.1 1-0.6 5-13.7 2-2 3 11.5 1 1.1 3-0.6 1 0.5 3 8.1 1 1.3 1-0.3 4-5.5 2 1.1 5 7.5 4 3.7 2-0.1 3-2.9 1-0.2 1 1.7 1 4.3 0.6 8.4-0.5 4-2.6 6-1 6-0.5 9 0.1 21 0.9 1.5 2-6.5 2.3-15 1.7-3.6 1 0.1 1.9 4.5 1.1 6 0.5 23 2.9 8 0.3 3-2.4 19-1.2 26-1.1 3.7-1 0.4-0.5-1.1-1.5-13.1-1-3.9-1-0.5-1.6 7.5-0.4 7 0.4 6 0.6 1.6 3 0.1 0.5 2.3-0.1 9-0.9 7-1.5 4.7-1 0.5-2-4.7-1.8 17.5-4.2 4.7-1 2.6-3 19.9-1 1.5-1-0.3-3-5.5-2-1.6-2 1.7-3.8 8-1.2 0.3-4-6.8-5 1.2-3-3.3-2-0.5-5 3.4-2.6 6.7-1.4 1.3-3-1.7-2-2.3-4-10.2-1-0.2-2.1 14.1-1.3 3zM469.7 232l1.3-6 0.3-6-0.3-6.3-1-1.3-2.4 1.6-0.8 4 1.2 12.7 1 2.2zM618 242.8l-1-1.2 0-2.8 3-19.5 0.9 3.7-0.4 8-0.5 5.2zM454 296.1l-0.6-7.1 0.6-9.5 1-5.7 1-2.8 1-0.9 0.7 1.9-0.3 6-2.4 15zM497 382.4l-0.9-2.4 0-3 0.9-4.8 1-1.8 1 1.6 0.1 3-1.1 5.7z"/>
<path fill="#0036ff" d="M540 374.5l-2-0.3-1.3-2.2-2.7-14.8-2-4.1-1 0.2-1 1.6-2 5.1-2 1.4-2-0.5-3-1.9-1.6-2-2.4-5.2-3-0.2-4 12.1-2 3.3-1 0.3-3.3-10.3-1.7-1.8-2 0.3-1.3-0.5-3.7-9.5-1 0.2-3.3 6.3-1.7 1.4-2-2-3-6.3-3-3.6-3-1.3-5 1.9-0.8-1.1-1-8 1.8-7.3 1.2-8.7 1.2-37-0.4-2.2-1-0.7-1 1.9-1.9 8-2.1 15.7-1 2.5-1 0.5-1.7-3.7-0.9-6 0.2-24-2.9-11 2.3-34.4 1-2.8 3 12.5 1 2 1-0.9 0.6-2.4 1.4-8.8 3.2-47.2 0.8-3 3-4.4 1-2.8 1.9-14.8 1.1-3.9 1-0.7 1 0.8 3 5 1 0.8 1-0.1 2-2.7 3-6.5 1-0.7 1 0.8 3 5.4 1 0.3 4-1.4 4 4.6 1 0.1 3-2.1 3 0.7 1-0.5 2-8.5 1-1 1 0 2 1.2 1.7 2.4 4.1 16 1.2 1.9 1 0.2 2-2 0.2-1.1-1.8-7 0.3-10 1.3-4.7 2-1.8 1.5 0.5 1.3 2 2.9 15 1.3 3 1 0.6 1-0.8 3-6.5 2-0.7 3 1 1.9 1.4 4.1 7.5 2 0.1 1-0.8 4-12.1 2-2.5 1 0.9 3 9.2 1 0.9 3-0.4 1 0.7 3.2 9.5 0.8 0.6 1-0.9 3-5.8 1-0.8 1 0.1 5 8.2 3.1 3.6 2.9 1.3 2-0.6 2-1.5 1 0.3 1 2.5 0.5 6-2.5 9.6-1 8.3-1 34.4 1 2.9 1-0.8 2-6.6 2.9-18.8 1.1-2 1 0.3 1.5 3.7 0.9 7-0.2 22 2.6 12-1.8 28.8-1 7.1-1-0.7-3-12.1-1-0.7-1 2.2-1 5.4-1 9-2.7 42-1.2 4-3.4 6-2.2 16-1.3 4-1.2 0.2-3-4.8-2-1.5-2 2-3 6.8-1 1.4-1 0-4-6.7-4 1.6-1-0.2-3-3.9-2-0.6-3 1.8-3-0.7-1 1.9-1.3 6.7-0.7 1.2-2 0.1-2-1.7-1.4-2.6-3.6-14-1-2-1-0.6-1.2 0.6-0.8 2 1.2 8-0.5 10-1.3 4zM469 204.1l-0.7-3.1 0.7-6.2 1 3.2zM605 319.1l-0.4-3.1 0.4-4.3 1 2.3z"/>
<path fill="#004fff" d="M539 372l-1-1-1.1-3-2.3-13-2.6-5.1-1-0.1-1 1.3-3 7.3-2 0.7-3-1.4-1.6-1.7-3.4-7.6-2-0.4-1 0.5-3.8 12.5-2.2 3.1-1-0.5-3.4-9.6-1.6-1.3-3-0.8-3-11-1-0.7-1 1.5-3 7.6-2 2.2-2-2.2-3-7.7-1.8-2.6-8.2-2.2-0.8-3.8 1.8-19.5 1.3-35.5-1.3-5.3-1-0.7-1 2-2.4 10-2.1 16-0.5 1.6-1 0.7-1.3-3.3-0.6-6 1-29-2.1-6.4-0.3-4.6 0.3-15.3 1-5.1 1 1.7 2 8.9 1 1.7 1-0.8 1-3.7 2.9-23.4 1.8-34 1.2-5 3.7-7 2.4-16.5 1-1.2 1 0.5 3 4.5 1 0.6 1-0.3 5-9.3 1-0.6 4 6.2 1-0.1 3-1.7 1 0.2 4 5.1 1 0.2 3-1.5 1 0.3 3 3.7 1.2-2.1 1.8-10.5 1-1.2 1 0 2 2 1 2.5 3 14.7 1 1.8 2 0.5 2-2.3 1.5-3.5-1.8-7-0.4-6 0.7-5.1 1-2.1 1-0.5 1 0.4 1 1.6 2.7 13.7 1.3 3.5 2 2.5 1.3-1 2.7-6.7 1-1.1 2-0.3 2 0.8 2 1.8 4 8.3 2 0.2 1-1.3 4-12.6 1-1.4 1-0.2 4 9.4 1 0.7 3 0.2 1 1.3 3 11.3 1-0.4 1-1.9 3-7.1 1-1 1 0.1 6 11.3 2 1.5 6 1.8 1 1-1.7 25.3-1.2 31 0.9 4.6 1 1.7 1-0.8 2.3-8.5 2.6-18 1.1-2.6 1 0.4 0.4 1.2 1.1 6-1 29 0.5 4 1.7 5 0.3 4-0.6 16-0.4 3.2-1 0.8-3-11.4-1-0.6-1.2 3-2.8 21-2.3 38-1.4 5-3.3 6-2 15.6-1 2.7-1 0.2-3-4.3-2-1.1-2 2.3-3 6.7-1 1.3-1-0.1-3-5.8-1-0.7-4 2.2-1-0.5-4-5.1-4 1.2-3-3.6-1-0.1-1 2.4-1.2 8.7-0.8 2.1-1 0.4-2-1.4-1-2-3.4-15.1-1-2-1.6-0.7-2 1.7-2.1 4 1.9 6 0.5 7-1.3 6.9-1 1.1zM587.5 205l1.7-6-0.2-3.2-1-0.6-1 0.8-1 3 0 3.3 1 3.6zM589.6 235l0.5-2-0.2-3-2.9-10.6-1-0.5-0.4 5.1 1.4 7.3 1 3.3 1 1.2zM487.5 320l1.4-2 0.4-2-1.1-14 1-9-2.2-11.5-1-2.6-1-0.1-0.6 4.2 3.4 18-2.8 13-0.1 4 1.1 2.5z"/>
<path fill="#0069ff" d="M540 368.9l-1-0.1-1-1.7-2-12.1-4-7.9-1-0.3-1 1-3 8.2-2 1.2-2-0.7-2-1.8-4-9.4-2-0.6-1 0.8-4 13.8-2 2.3-1-1-3-8.5-4.5-3.1-1.4-5-0.9-13 3.4-12-0.6-3.3-1 0.2-1 1.2-1.7 3.9-0.9 11-3 11-2.4 6-1 0.6-2-2.6-3-10.7-1-1.8-4 0.9-3-1.5-1-2.9-0.2-6 2.5-45-1.3-8.4-2-5.4-1 1-3.6 16.8-1.4 12.2-1 1.3-0.8-5.5 2.3-31 0.5-3.9 2-6.2 3.4-30.9 1.8-35 1.2-5 3.9-7 2.3-15 0.4-0.8 1 0.1 3 4.2 1 0.4 2-2 3-6.5 2-2.1 4 6.3 3-2.2 2-0.1 4 5.6 4-0.6 0.8 0.7 2.2 4.3 1 0.7 1-1 1-2.8 1.6-10.2 1.4-2 1 0.4 1.7 3.6 3.3 15.8 2 1.6 2-1.3 3.4-7.1 0.1-2-1.5-5-0.6-5 0.6-4.4 1-1 1 0.8 1 2.9 1.7 9.7 3.3 7.1 1 0.9 1-0.3 1-1.6 2.6-7.1 2.4-1.2 2 0.8 2 2.1 4 9.4 2 0.2 1-1.8 3.7-12.5 1.3-1.9 1 0.2 3.1 7.7 1.9 1.9 3 1.1 1.3 4 1.3 15-3.7 11-0.1 3 1.2 1.3 1-0.7 2-3.9 0.5-10.7 4.3-14 2.2-4.1 1 0.1 1.3 2 3.7 11 1 1.1 3-0.3 2 0.6 1.6 1.6 0.9 3 0.1 6-2.4 44 0.8 5.9 2 6.4 1 0.2 1-3.6 2.7-11.9 2.3-15.3 1 0.8 0.6 5.5-2.3 29-3.1 15-3.2 29-1.7 33-1.3 5.7-3.8 6.3-2.2 16-1 0.9-3-4-1-0.8-1 0.1-2 2.8-3 6.6-1 1.2-1-0.2-3-6-1-0.4-4 2.8-1-0.6-3-4.7-1-0.7-3 0.6-1-0.4-3-5.2-1 0.1-1.9 4.9-1.4 9-0.7 1.4-1 0.1-1-1-1.4-3.5-2.6-13.6-1-2-2-0.6-2 2.1-3.1 6.1 2.4 11-0.3 4.7zM589 242l1-1.3 1.3-6.7-2.5-18 2.4-19-0.2-7.4-1-2-4 4.5-1.4 2.9-0.5 3 0.7 10-0.2 14 2.4 15.4 1 3.6zM486.1 326l3.7-5 1.3-4-1-8-0.1-15.4-3-19.3-1-2.3-1 0.3-1 2.8-0.9 5.9 2.4 18-2 16-0.2 7 0.7 4.5 1 0.5z"/>
<path fill="#0085ff" d="M579 360.3l-1-0.4-3-6.5-1 0.1-3 3.4-1 0.2-1-0.7-3-5-1-0.7-3-0.2-1-1-2-5.1-1-1-2 2.7-3 13.3-1 1.1-1-0.8-1-2.6-3-14.9-1-1.5-1-0.5-2 1.1-6 10.8-1-0.3-4-7.4-1-0.4-1.5 2-2.5 7.7-2 1.8-2-0.6-2-2.2-4-10.6-2-0.8-1 1.2-4 14.8-1 1.7-1 0.3-1-1.3-2.8-8-3.9-3-1.3-4-0.3-11 3.4-15-0.5-3-1.6-2.3-1 0.4-4.8 8.9-0.4 10-1.5 9-2.3 6.9-1 0.7-1-0.9-1.9-6.7-0.3-7 1.2-4 5.7-9 0.1-1-1.9-9-0.3-15-2.6-25.6-1-4.4-1-0.8-1 0.3-2.8 14.5 2.3 20-1.8 15-0.8 14-0.8 3-1.1 1.6-2 0.4-1.7-2-0.8-4 0-8 1.1-23 1.5-16-4.7-24-0.7-11 0.5-10 2.1-17 1-29 1.7-7.5 4.5-5.5 1.5-13.8 1-0.7 2.8 3.5 1.2 0 2-2.6 4-8.3 1-0.2 0.9 1.1 2.1 4.9 1 0.7 3-3.3 1-0.5 1 0.5 4 5.9 4 0.5 3 6.7 1-0.1 1-1.5 1.8-5.8 1.4-8 0.8-1.9 1 0 1.8 4.9 2.2 12 1 2.5 2 1.3 2-1.6 5-10.7 1-0.3 1 1 3 6.4 1 1.1 1 0 1-1.5 2.8-8.2 2.2-1.5 2 0.8 2 2.4 4 10.7 2 0 4.7-15.4 1.3-1.7 1 0.4 3 7.7 1 1.2 3 1.4 1.6 4 0.5 6-0.3 6-3.5 15 0.7 3.3 1 1.7 1 0.4 5.3-9.4 0.1-9 1.3-8 2.3-7.7 1-1.3 1 0.1 1.1 1.9 1.3 5 0.4 8-1.4 4-5.4 8.5-0.4 1.5 1.4 3 0.7 4 0.2 17 2.8 24 1.3 4.6 1 0.6 1-1.7 2.3-12.5-2.3-19 2-17 0.6-13 0.8-3 1.6-1.7 2 0.4 1 1.5 0.8 3.8 0.1 8-1 24-1.5 15 1.6 9.8 3.3 13.2 0.6 10-0.5 11-2.2 19-1 27-1 6-1.2 3-4.1 3-0.5 1-0.4 12-1 3.3-1-0.4-2-3-1-0.3-1 0.6zM604 248.7l-0.3-5.7 1.3-6.1 0.5 1.1 0 4-0.5 4.2zM470 274.2l-0.7-2.2 0.7-5.2 0.6 2.2z"/>
<path fill="#00a4ff" d="M579 357.3l-1-0.7-3-7.3-1 0.6-3 4.7-1 0.2-1-0.9-3-5.2-4-2.3-3-8.8-1 0.3-2 4.5-4 13.8-1-0.4-1-3.3-3-13.7-1-1.3-1-0.3-2 1.5-4 8.3-2 2.6-1-0.2-1-1.4-3-6.7-1-0.7-1 0.6-3 9.8-1 1.9-2 0.6-2-1.5-1.2-2-3.8-11.9-1-1.4-1 0-1 1.8-4 16.2-1 1.8-1 0.1-3-8.4-4-3.7-1.1-3.5 0-9 3.3-15-0.1-3-1.1-3.7-2-3.2-1 0.6-3 7.4-1 1.5-1 0.4-1-1.1-0.9-2.9-3.1-48.6-2-9-2-0.5-1 3.4-1.5 12.7-2.1 9 2.4 10 0.7 7-2.4 27-0.7 4-1.1 2-1.3 0.3-1-1.3-1-8 0.7-19 1-12 1.9-10-4.9-24-1.2-14 2.5-24 0.8-27 1.2-6.3 1-1.7 1-0.5 1 0.5 0.9 2 2.1 14.8 1 1.3 1.3-6.1 1.5-23 7.2-15.1 1 0.1 0.6 1 2.4 6.2 1 0.2 3-4.7 1-0.6 1 0.5 3 5.3 4 2 0.7 1.1 2.3 8.1 1 0.7 3-6.9 3-12 1-0.9 1 2 3 14.5 1 2.2 2 1 2-2.1 4-8.8 2-2 1.7 2.2 2.3 5.6 1 1.4 1 0.3 1-1.2 3-10 2-1.7 2 0.8 2 2.8 3 10 1 2.5 1 0.7 1-0.7 1-2.6 4-15 1-1 1 0.8 2.7 7.3 3.9 3 1.2 4-0.1 8-2.9 12-0.6 5 0.8 4.2 2 4.6 1 0.4 1-1.5 2-5.7 2-2.8 1 0.5 1.4 3.3 0.7 6 0.1 12 2.8 31.4 1 5.1 1 1.7 2 0.6 3.8-23.8-2.5-13 0-10 2.5-24 1.2-2.7 1-0.4 1.2 1.1 1.2 6-0.3 14-0.9 16-2 13 4.4 22 1.4 15-0.4 8-2.1 17-0.7 26-1.8 8-1 1-1-0.1-1.3-2.9-1.7-12.8-1-3-1 0.9-1 7.8-1.4 21.1-5.6 12.6zM583 187.4l-0.9-2.4 0.2-5 1.3-7 1.4-3.1 1 0.3 1 2.8 0.3 6-1.3 5-2 2.9zM489 344.7l-1.5-3.7-0.2-6 1.6-5 2.1-2.5 1.1 1.5-0.1 6-1 6-1 2.9z"/>
<path fill="#00c5ff" d="M579 354.2l-1-1.3-2-7.6-1-1.1-4 8-1 0.2-1-1-3-5.4-3.3-3-2.7-10.5-1-1.3-1 1.1-6 18.8-1-0.2-4-15.4-1-1.3-1-0.2-2 1.9-4 9.3-2 2.4-1-0.3-1-1.5-3-7.8-1-1.3-1 0.3-3 11.3-2 3.4-2-0.5-2.1-3.2-4.9-17.6-1-0.1-1 3.1-3 14.9-2 5.5-1.2-0.8-2.8-8.5-3-2.2-0.7-1.3-0.6-3 0.2-5 2.9-13 0.5-6-2.3-8.2-2-3.5-1 0.7-4 11.1-1 0.3-1-1.5-0.8-4.9-0.4-12-1.4-15-0.4-17.4-3-15.9-2-5.2-1 0.5-0.1 1-1.8 24-1.1 4.6-1 1.5-1-1.2-2.4-9.9-2.3-19 0.2-9 2.2-17 0.2-21 1.1-8.7 1-2.1 1 0 1.3 3.8 1.7 15.1 2 8.5 1 1.8 1-1.6 0.5-3.8 0.1-15 1.2-20 1.8-6 4.4-9.2 1.3 1.2 2.7 8.7 1-0.6 3-6.8 1-0.7 1 0.6 3 5.5 3 2.2 1 1.6 3 11.4 1 0 1-2.4 5-17.2 1-1.4 1 2 3 12.8 2 3.1 2-0.8 5-11.3 2-1.8 1.6 2.1 3.4 8.7 1 0.8 1-1 3-12 2-2.2 2 0.8 2 3.3 4 15.1 1 1.5 1-1.2 1-3.5 3-13.7 1-2.8 1-0.8 1 1.4 2 6.4 4.1 3.2 0.7 3 0 4-3.3 15-0.4 6 2.9 9.9 1 2.1 1 0.3 3.4-10.3 1.6-2.3 1 0.6 0.9 2.7 2.9 47 3.2 16.4 2 4.2 1-4.3 1.4-20.3 1.6-5.9 1 0 3.4 13.9 1.9 16-0.3 9-2.2 17-0.2 20-1.1 9-0.5 1.8-1 0.9-1-1.1-0.7-2.6-1.5-14-2.8-11.9-1 0.5-1 5.4-0.1 16-1.3 19-4.6 12.8-1 1.8zM594 228.1l-1.7-6.1-0.4-8 2.1-22.2 1-4.3 1-0.8 1.1 1.3 0.7 5-0.3 16-1.5 15.6-1 3.3zM501.3 208l0.7-2.4 0.5-8.6-0.5-4.5-1-0.6-1 2.9-0.4 7.2 0.4 5 1 2zM561.7 203l-0.3-3-1.4-1.8-1 0.9-0.8 2.9 1.8 2 1-0.1zM479 327.4l-1 0.1-1-2.5-0.4-11 1.4-21 1-5.3 1-1.7 1 1.2 1 3.7 0.7 8.1-2.2 23zM573.6 321l0.6-1 0.6-5-0.8-9.9-1 0.8-0.9 8.1 0.3 5 0.6 2.2zM515.6 316l1-4-1.6-1.9-1.8-0.1-0.8 2 0.6 2.6 1 1.8 1 0.6zM489 339.1l0-2.8 1-1.4 0 3.4z"/>
<path fill="#00e8ff" d="M580 349.9l-1 0-1-2.9-1.4-11 0.1-31-0.9-10-0.8-2.4-1-0.5-1 1.7-1 4.6-1.3 14.6 0.1 12 2.6 8 0.4 3-0.8 7-2 5.9-1 0.3-1-1.2-2-4.1-3.3-3.9-2.7-11.4-1-3.1-1-1.2-1 1.1-3.4 14.6-2.6 6.1-1-0.5-4-13.9-2-2-1 0.5-1 1.9-4 11.1-2 2.3-1-0.4-1.4-3.1-3.2-11-1.1-12-1.3-3.3-1 0.1-0.6 2.2 1.5 12-1.6 13-1.9 6-1.4 0.7-1-0.6-1.5-2.1-1.5-4.1-2.3-12.9-0.3-9 1.3-8-2.7-4.7-2-1.6-2 0.3-1 1-1.8 4 0.2 2 3 8 0.6 6-2 15.9-2 5.9-1-1.2-2-8.2-3.1-2.4-0.4-5 3.1-15 0.4-5-4.7-16-1.3-1.4-2 4.3-3 10.8-1 0.3-0.7-2-2.3-28 0-19-4.8-29 0.2-6 2.3-9 0.7-5-0.6-19 0.7-16 2.1-8 2.4-5.4 1-0.9 1 1.4 0.6 2.9 1.6 13-0.5 26 0.8 10 1.5 3.6 1-0.4 1-2.9 2-17.4 0-10.9-0.9-4-1.8-4-0.5-4 1.2-8 1-3.1 1-1 1 0.7 2.8 5.4 3.2 3.7 3 12.7 1 2.1 1 0.2 1-2.4 2.5-12.3 2.5-7.1 1-0.7 1 1.9 3 11.3 2 3.5 1 0.2 2-3.2 4-11.2 1-1.3 1-0.3 2 3.7 2.6 9.2 0.9 5 0.5 10 1 2.7 1 0.6 1-0.6 0.5-1.7-1.5-13 1.3-13 1.7-5.7 1-0.9 2 0.8 2.9 6.8 2.3 14 0.2 7-1.5 8 2.1 4.1 3 2.4 2.4-1.5 1.9-4-0.4-3-3-8-0.4-4 1.1-11 2.4-9.8 1-0.2 2.2 8 0.8 1.1 2 0.2 1 1.6 0 3.4-3.5 16.7-0.1 4 5.6 18.1 1-0.3 1-2.1 3-12.3 1-1.4 1 1.2 2.5 28.8 0.4 18 4.6 29-0.2 6-3 15 0.5 18-0.7 16-1.6 7zM480 269.6l-1-0.9-2-8-2-18.7 0.3-7 2.3-16 0.1-21 0.3-4 1-3.2 1 0.9 0.4 2.3 3 28-1.3 38-0.9 7zM595 223.1l-1 0.2-0.9-3.3-0.3-7 1.7-18 0.5-2.9 1-1.7 1.1 3.6 0.1 10-0.9 13zM575.8 251l-0.8-5.3-1-1.2-0.4 2.5 0.4 3.3 1 1.7zM595 323.1l-1.1-4.1-2.6-29 1.2-37 1.1-7 0.4-1.2 1-0.4 1.3 3.6 1.8 9 1.4 16-2.6 23-0.1 21-0.8 5.1zM500.8 268l-0.8-4-0.7 1 0.7 4zM479 323.5l-1 0.1-0.6-2.6-0.2-9 0.8-13.5 1-5.9 1-1.8 1.3 3.2 0.4 7-1.7 18z"/>
<path fill="#1efffa" d="M525 347.1l-1 0.5-2-1.9-2.7-9.7-0.9-12 0.5-5 1.4-5-0.3-1-4-7.5-2-1.9-2 0.2-4 3.9-1 0.2-1-0.7-1.3-3.2-2-15 0.5-20-1.2-6.7-2-5.2-1 0.2-2.9 4.7 2.5 10 1.2 12-3.8 18.7-1 3.2-1-0.8-2.4-24.1 0.6-19-4.3-28 0.3-5 2.3-10 0.4-5-1.2-20 0.6-15 2.7-8.7 1-1.5 1 0.2 0.9 5 0.7 10-0.8 21 0.2 18 0.9 3 3.1 2.8 1-0.4 1-2.7 1-5.4 2-22.3 0.2-14-2.1-9 0.9-4.8 1 0.9 1.9 3.9 3.1 3 4 15.7 1 2.7 1 1 1.1-2.4 2.5-17 2.4-6.5 1-0.3 1 1.9 4 14.1 2 3.3 1-1 4-15.3 2-3.7 1-0.1 1.7 3.6 1.6 7 1.7 18.2 1 2.6 2 1 2.1-1.8 1.3-3-1.9-12-0.2-8 1.3-9 1.4-2.3 1-0.1 2 2.4 1 2.6 1.9 10.4 0.3 10-1.7 9 3.5 6.7 2 2.6 2 0.2 5-4.7 1 0.2 1 1.3 1 2.9 2.1 17.8-0.6 18 1.5 8.3 1 2.9 1 1 3.9-6.2-3.2-11-0.9-10 0.6-5 3.6-16.1 1-1.6 0.2 0.7 2.6 23-0.1 19 4.2 28-0.3 6-2.8 15 1.1 21-0.7 14-2.2 7.4-2 2.7-1.2-3.1-0.7-10 0.4-21-0.3-21-1.2-3.8-2-2.1-1-0.1-1 1.6-1.6 8.4-1.9 23 0 11 2.1 10-0.6 5.9-1 0.9-2.6-4.8-3.1-4-3.3-14.1-2-4.9-1 0.5-1 3.7-2.5 15.8-1.5 4.2-1 1.1-1-0.8-4-14-2-4-1 0.3-1 2.7-4 14.5-2 2.4-1-0.7-2.7-9.7-1.9-18-1.3-3-1.1-0.6-2 1.4-1.6 3.2 2 17-0.7 9zM566 191l-2-2.5-0.6-3.5 0.5-8 1.1-2.4 2.2 11.4-0.2 3.4zM595 217.6l-1-1.3-0.1-6.3 1.1-11.7 1-2.5 0.4 11.2zM480 265.5l-1-0.6-1.5-5.9-1.8-17 0.3-6.4 4-26.4 1.5 11.8 0.2 31-0.5 9zM595 313.2l-1.9-20.2-0.2-31 0.6-10 0.5-2.6 1-0.9 1 1.9 1.4 6.6 1.4 15-0.4 7-2.8 17zM479 318.2l-1-0.8 0-10.4 1-8.5 1-1.6 0.5 8.1zM509 342.7l-2.5-13.7 0.5-5.9 1-1.7 1 0.2 1 1.4 1.4 6-0.4 8.2-1 4.6z"/>
<path fill="#6effee" d="M553 197.8l-1 0-1.6-2.8-2-11 0.4-11 1.2-3.5 1-0.3 1 0.8 1.8 4 1.4 9-0.2 9.7-1 3.7zM538 340.2l-1 0.6-1-1-1.2-3.8-2.1-21-1.7-6.2-1-1-1-0.1-5 5.8-1 0.4-2-1.7-5-10.3-2-2.5-2 0.5-4 3.3-1-0.3-1-1.6-1.3-9.3 0.1-20-3.8-21.9-1-1.9-4 8.5-2 0.9-1.4-3.6-0.7-8 0.7-6 3.4-4.5 1-0.7 1 0.3 2 3.9 1-0.3 1-3.6 2-14.4 2.9-31.7 1.1-4.8 1-0.4 1 1.6 5 20.5 1 1.9 1-0.8 1-4.4 2.2-22.6 1.8-5 1 0 1.3 3 2.9 12 1.8 17.1 1 0.2 1-1.7 1-5.9 1.8-17.7 1.2-5 2-3.9 1 0.1 0.5 0.8 1.2 4 2.2 22 2.1 5.9 2 0.3 4-4.8 2-0.9 2 2.3 6 11.8 1 0.5 1-0.3 3-3.2 2-1.1 1.4 1.5 1.6 10 0 21 4 27-3 17.8-4 42.9-1 0.9-1-1-5-20.8-1-2.4-1-0.1-1.5 5.7-2.3 21-1.2 3.7-1 0.9-0.5-0.6-1.5-3.6-2.5-10.4-1.5-14.7-1-3.9-2 5.3-2.2 21.3zM493 203.5l-1-1.7-1-5.8-0.3-10 1.3-9 1-1.8 1 0 1 5.2 0.2 8.6-1.2 11.6zM580 249.1l-2.3-5.1-1.2-9 0.4-8 2.1-8 1 0.3 1 4 1.2 10.7-0.5 11-0.7 3.6zM480 260.3l-1 0-1-3.2-1.4-12.1 0.4-8.8 1-4.1 1-1.5 1 4.4 0.8 13-0.1 7zM596 282.5l-1-0.9-1.2-15.6 0.2-10 1-2.7 1 1.7 1 4.8 0.9 9.2-0.3 7zM583 286.1l-2-7.8-1-0.7-3-0.1-1.5-2.5-1.5-5 4-11 2-3.5 1-0.6 1.7 6.1 2 17-0.5 6zM495 296.5l-2-8.1-0.7-8.4 0.4-9 1.3-5.4 1 0 1.7 3.4 1.4 10-0.7 10-1.4 5.9zM581 338.8l-1-1.9-0.6-8.9 1.6-19.4 1 0.1 1 4.4 0.9 11.9-0.9 10.1-1 2.7zM525 344l-1 0.9-2-1.9-2.4-10 0-11 1-4 1.4-1.8 1 0.3 1 1.8 2 9.7 0.3 9z"/>
<path fill="#a5ffd7" d="M553 193.8l-1 0.2-1-1.6-1.6-8.4 0-8 0.6-2.7 1-1.2 1 0.7 1 2 1.3 7.2-0.1 8zM538 337.4l-1 0.5-1.6-3.9-2.1-22-2.3-7.8-1-0.7-1 0.4-4 5.7-2 1.5-1-0.4-2-3.1-5-13.2-1-1.3-1 0.5-4 4.5-1-0.1-1-1.7-0.8-7.3 0.2-14-2.9-18-0.8-11 3.3-40.4 2-12.9 1-1.4 1 1 1 2.7 4 24 1 1.7 1-1.4 1.8-10.3 1.8-26 1.4-4.4 1 0.1 1.8 5.3 1.6 8 1 21 0.6 4.3 1 1.9 2-2.6 1-4 2.2-27.6 1.3-6 1.5-3 1 0.4 1 2.9 2 21.7 1 4.9 1.9 4.1 1.1 0.4 1-0.6 4-5.7 2-0.9 1 0.8 2 3.6 5 13.9 1 0.5 4-5.9 1-0.5 1.5 1.4 1 7 0.1 16 3.1 27-3.6 45-1.1 8.1-1 3.1-1-0.2-1.4-4-3.6-20.9-1-2.8-1 0.3-1 3-1.4 9.4-1.6 21.9-1 4-1 1-2-4.7-1.5-7.2-1.5-24.8-1-3.7-1-0.1-1 1.5-1.4 5.1-2.1 27-1.1 6zM493 190.5l-0.6-3.5 0.6-3.9zM580 244.1l-1.4-2.1-0.9-6 0.3-6.9 1-3.8 1 0.2 1.3 7.5-0.3 8zM479 254.4l-1.1-5.4 0.1-8.4 1 0 0.6 5.4 0.1 5zM596 273l-1-4.1 0-8.3 1 0.8 0.4 3.6zM495 290l-1-2-0.9-9 0.6-7 0.3-1.3 1-0.8 1.3 3.1 0.7 7-0.7 7zM524 341.7l-1-0.1-1-1.6-1.7-8 0.2-8 0.5-2.5 1-1.3 1 0.4 1 2.2 1.3 7.2-0.1 8zM582 330.2l-0.9-3.2 0.9-4.1z"/>
<path fill="#ceffb3" d="M552 188.4l-1-2.5-0.4-4.9 0.4-3.1 1-0.2 1.2 6.3-0.2 3.2zM538 333.1l-1 0.1-1-3-1.8-20.2-2.2-10.9-1-2.1-1-0.5-1 1-4 8.6-2 1.6-1-0.5-2.2-4.2-2.1-8-1.4-17 0.3-33 3.5-33 1.8-27 1.1-0.8 2 7.5 1.1 27.3 0.9 6 1 3.9 1 1.4 2-3.1 1-4.1 1.9-15.1 1.1-20.1 1-5.5 1-1.7 1 1.2 0.4 2.1 1.9 20 2.7 11.7 1 1.4 1-0.1 4-7.9 2-2.4 1 0 1.3 1.3 2.6 7 1.9 14 0.5 36-0.7 12-3.1 26-1.6 24-0.9 2.1-1-1.4-0.9-3.7-0.9-6-0.4-19-0.8-8.3-2-7.3-1 0.1-2 5-1 5.6-1.3 11.9-1.1 20zM510 288.9l-1 0-0.5-3.9 1.1-10-2.6-4.8-1-4-1.4-9.2-0.6-9 2.5-37 1.5-10.2 1-1.9 1 0.9 0.6 2.2 1.3 8 2 33-0.4 11-2.3 20 0 10zM565 235.9l-1-1.4-0.2-3.5 0.2-3.1 1-2.9 1 0.8 0.3 4.2-0.3 3.8zM566 314.5l-1 0.2-0.7-1.7-1.4-7-2.6-35 2.3-24 1.4-6.8 1-0.2 2 1.5 1 3.4 1.7 10.1 0.8 11-2.5 37.1zM523 336.3l-1.3-4.3 0.3-5.7 1 0.3 0.9 4.4 0 3z"/>
<path fill="#eaff73" d="M538 325.8l-1-0.4-1.8-17.4-4.2-25.4-1-0.9-3.8 17.3-1.2 3.1-2 1.8-2-2.4-1.7-6.5-1.2-18 0.6-36 1.2-13 2.5-17 0.6-14 0.8 5-0.2 10 0.6 7 4.8 27.7 1-0.8 1-3.3 1-6.9 2.7-24.7 1.3-18.1 1-4.1 2.5 18.2 4.5 24.5 1-0.5 3.7-17 1.3-2.6 1-1 1 0.1 2 3.4 1.4 6.1 1 19-0.7 37-3.2 27-0.5 9.6-1 2.1-0.7-19.7-4.3-26.8-1-0.8-1 2.1-1 5.3-3.2 28.2zM509 268.3l-1-0.8-1-2.6-1-4.9-1-13 2-31.7 1-6.3 1-2.1 1 1.8 1.1 7.3 0.8 26-0.8 19-1.1 6zM566 306l-1-0.1-1.4-7.9-1.1-26 1.1-20 1-5 0.4-1.1 1-0.4 1 1.6 1.4 5.9 1.1 14-1.5 25.9z"/>
<path fill="#fffa00" d="M537 306.7l-2-8.9-1.5-10.8-1.4-29 1.5-27 2.4-19.3 1-4 1 1.1 1 4 1.8 11.2 1.8 32-2 31-2.6 18.6zM552 288.3l-1-1.3-1-3.6-1.2-6.4-1.8-21 0.8-29 1.2-8.1 2-4.2 1 0.2 1 1.6 1.2 4.5 1.1 22-0.6 31-1.2 10zM509 261.6l-1-0.2-1-3.2-0.9-12.2 0.9-19.2 1-8.2 1-1.8 1.1 6.2 0.5 19-0.4 13zM524 299.1l-1 0.5-1-0.9-1.5-4.7-0.9-8-0.4-13 0.7-33 1.1-9.2 1-3.8 1-0.7 1 2.1 1.8 8.6 1.8 22-1 29-1 7zM566 296.4l-1-1.2-0.6-5.2-0.5-18 0.5-14 0.6-4.5 1-1.8 1 1.5 1 5.3 0.4 9.5-1 19z"/>
<path fill="#ffbd00" d="M537 295.4l-1.3-3.4-1.3-9-1.3-26 1.3-24 1.6-11.4 1-3 1 0.1 1 3.1 1.1 7.2 1.5 28-1.6 26-1.4 9-0.6 2.4zM552 278.9l-1-0.4-1.2-4.5-1.6-17 0.8-25.6 1-7.5 1-2.4 1 0.3 1.3 5.2 1.1 20-0.5 21-0.9 8zM524 292.1l-1 0.8-1-1.6-0.7-3.3-1.2-20 0.7-24 1.2-7.9 1-1.3 1 1.7 1.2 5.5 1.1 15-0.6 23-0.7 8z"/>
<path fill="#ff8000" d="M537 288.3l-1-2.2-1.2-8.1-1-21 1-20 1.2-8.4 1-2.9 1 0.3 1.7 8 1.2 23-1.2 22-1.7 8.4zM551 271.1l-1.3-6.1-0.5-11 0.6-15 1.2-7 1 0.6 0.8 5.4 0.7 15-0.6 13-0.9 4.9zM523 283l-1.3-6-0.8-16 0.6-13 0.5-3.6 1-2.4 1 1.6 0.9 5.4 0.5 11-0.6 15-0.8 6.2z"/>
<path fill="#ff4300" d="M538 282l-1 0.7-1-2.7-1.7-19 0.7-19 1-7.7 1-3 1 0.2 1 3.8 1.4 17.7-0.5 17zM551 262l-0.6-8 0.6-8.4 1 1.8 0.2 6.6-0.2 6.3zM523 270.5l-1-10.5 1-9.7 1 2.7 0.3 7-0.3 7.2z"/>
<path fill="#ff0500" d="M537 278l-1.5-7-0.7-14 0.6-13 1.6-8 1 0.3 1 4.5 0.9 16.2-0.9 15.8-1 4.6z"/>
<path fill="#cc0000" d="M538 273.1l-1 0.7-1-3.8-0.7-9 0.3-13 1.4-7.8 1 0.5 0.5 2.3 0.9 10-0.2 12z"/>
<path fill="#990000" d="M537 270.2l-1-5.1-0.3-8.1 0.3-8.1 1-5.1 1 0.6 0.3 1.6 0.8 11-0.9 11-0.2 1.4z"/></g>
<g id="heat-b" fill-rule="evenodd" clip-path="url(#clipb)"><path fill="#000099" d="M519 1000.1l-8 0.3-4-1.3-2 1.6-7 0-0.7-1.7 2.7-1.7 4 0 1 1 0.8-0.3-2.8-4-0.1-6-0.9-0.3-1 0-1 0.9-4 0.1-1 0.8-7 0.2-1 0.8-34 0-1-0.9-4-0.1-3-1.9-1-0.1-2.5-2.5 2.5-2.5 3-0.1 1-0.9 8-0.1 1-0.9 4-0.1 1-0.9 5-0.1 1-0.9 21-0.1 1-0.9 10-0.1 1 1 3.8-0.4-0.9-1-3.9-0.3-1-0.9-2-0.1-1-1-1 0-0.7-1.7 1.7-1.6 3-0.2 1-0.9 3.7-0.3 0.3-2 4.8-5 0-1-3.1-3-1.7-0.3-1.7-1.7 0.9-1-0.4-5 1-3-2.5-1 0-1 1.7-1.7 2-1 3-0.3 0.9-1 0-1-4-5-0.9-5 0.2-2 1.7-3 5-5 0-1-3.9-3-2.2-4-0.8-0.3-2.4 1.3 0 1 1.4 0.3 1.7 1.7-0.7 1.7-9-0.1-0.6-0.6 0.9-1-0.3-0.4-1 0-1 0.9-2 0.1-2.4 1.4-0.1 3-1.9 2-0.1 1-1.5 0.6-2 1.9-2 0.1-1 0.9-15 0.2-0.4 1.3-1.6 1.6-3-0.9-1-1.1-5 0-1 0.9-6 0.1-0.3 0.4 2 2-0.1 2-0.6 0.6-7 0.1-2-1-1.7-1.7 0-1 1-1-0.3-1.4-3-1-2.5-2.6 2.5-2.6 2.5-0.4-2-3 0-4 2.5-2.6 4-2 2 0 1-1 3 0 1-0.9 3-0.3 1-0.9 12 0.2 1 0.9 3 0 1 1 6 0 1-1 3 0 1-1 3-0.1 1-0.9 6-0.1 1-0.8 7-0.1 1 0.9 4.8-0.3 1.2-3 3-3 1.9-1 0.1-1-1-1.2-2-0.1-1-0.9-2-0.1-1-1-2-0.1-0.6-0.6 0.6-0.6 3.9-0.4-2-5-0.1-5-1.8-1.7-2-1-1 1.4-12-0.1-1 0.9-4 0-1-0.9-4-0.1-1-0.9-5-0.1-2.6-2.5 0.1-1 3.5-2.6 0.3-1.4 1.7-1.7 1-0.1 2-1.9 1-0.1-0.1-2.2-6.9-0.4-1 0.9-15 0-1-0.9-2-0.1-2.5-2.5 3.5-3.5 1-0.1 1-0.9 2-0.1 1-1 2 0 1-1 4 0 1-0.9 8-0.2 1-0.8 6-0.1 1-0.9 14 0 1 0.9 4-0.2 3-1.9 2-0.1 1.2-1.2 0.1-2 1.6-3-0.9-1-2-0.3-1 0.9-3 0.1-1 0.9-3 0-1 0.9-6 0.2-1 0.8-6 0-1-0.9-2 0-0.3 1.4 3 2-0.7 0.7-19 0-1-0.9-4 0-5-1.6-6-3.5-13-0.2-1-0.9-2-0.1-2-2.8-1 1-2 0.1-1 0.9-2.9 0.3-3.1 6-2.9 4-0.1 2 2 1.9 2 0.1 1 0.9 3 0.1 2 1 0.1 6-7.1 4-2 0.1-1 0.9-2 0.2-4 1.8-3 0.2-1 0.8-3 0.2-1 0.8-4 0.2-1 0.9-3 0.1-1 0.8-5 0.3-1 0.8-4 0.1-1 0.8-6 0.3-1 0.8-6 0.2-1 0.7-7 0.3-1 0.7-8 0.3-1 0.7-14 0.3-1 0.7-19 0-1-0.7-7-0.3-1-0.8-3-0.2-2-1-1-1 0-2 7-4 2-0.2 4-1.8 3-0.2 0.9-0.8-1.9-1.8-7-0.2-1-0.7-40-0.1-11-2.1-4-1.8-2-0.2-3-1.8-2-0.3-7-3.9-4-3-8.1-8.1-4.9-7-3-7-2-11 0-4 0.7-1 0.2-5 0.8-1 0.3-3 3-7 3.9-6 10.1-10 6-4 11-5 7-1.4 1-0.7 4-0.2 1-0.8 38-0.3 1-0.6 5-0.2 1-0.8 0-1-4-1.8-2-0.1-1-0.9-2-0.2-2.1-2 0.1-1 1-1 5-0.2 1-0.8 24 0 1-1-4-2-2.1-2 0.1-1 2-1 10-0.3 1-0.7 3 0 2 0.7 18 0.3 1 0.6 16 1.4 1 0.6 11 1.4 9 3 0.1 1-2.1 2-3.9 2 0 2 1.9 1.8 6 2.9 11 2.3 2 1 4 4 0 4-2 3 0.1 7 3 4 4.9 0.3 1 1 2 0 0.5-2.3 2.5-1.6 2 0 1-1 7.3-0.4-0.3-5.3-1 0-1-0.9-5-0.1-3.7-2.7 0-1-1-1 0-3 1.7-0.7 10 0 1 0.9 3 0.1 2.7 1.7 1 2 0 3 1.3 0.6 5-1.6 5-0.1 4 1 6 3.3 6 0 1-0.9 4 0 1.7 1.7-1.7 0.7 0 0.7 12 0 1 0.9 4 0.1 1 0.9 2 0.1 1 0.9 4-0.3 0.2-1-1-1-0.2-2.2-5-2.1-1-0.9-2-0.1-1-0.9-3-0.1-1-0.9-1 0.8-7 0-1-0.8-12-0.3-1-0.8-7-0.1-1-1-7-1.1-1-0.9-2-0.1-1-0.9-1-0.1-1.5-1.5 0-2 4.5-2.6 6 0 1-0.9 8 0 1 0.9 7-0.1 0-0.5-3-1.1-2.7-2.7 0.2-3-1.5-0.5-2.5-2.5 0-1 1.5-1.5 1-0.1 1-0.9 2-0.1 1-0.9 3-0.1 1-0.9 11 0 1 0.9 4 0 1 0.9 2 0 4-1.5 1.9-1.8 0-4 1-3-3.9-0.4-0.6-0.6 0.6-0.6 3-0.1 1-1 1.9-0.3 4-3 0-2-1.9-1-4-4.3-6 0-1-1.1-9 0-1-0.9-5-0.2-1-0.9-3-0.1-1-0.9-3-0.1-1-0.9-3 0-1 0.9-5 0.1-1 0.9-3 0.1-3 2.1-6-0.1-7-4-5-1.1-2.6-2.5-1-1 0.1-4 1.9-2-3.4-0.5-3.6-3.5 0.1-2 3.5-2.5 2-0.1 1.3-2.4 2.7-1.7 7 0.1 0.6 0.6 0.4 2.4 5 0 1 1 8 0 1 1 2 0 1-0.9 12 0 1 0.9 3 0.1 1 0.9 2 0.1 1.5 1.5 0 6-0.9 1 0.4 0.4 1 0.1 1 0.9 3 0.1 1 0.9 5-0.1 1-0.9 1 0.9 4 0 0.7 1.7-1 1-0.1 1 1.2 0 2.2-4 3.9-3 0-1-7.6-7 1.4-1-0.8-3 1-4 3.3-5-3.2-0.3-2-1-1.7-1.7 0-1 0.7-0.7 2-0.1 0.7-1.2-1.8-3-0.1-4-0.6-1 5.8-6.2 0.8-1.8-4.8-5-8-1.3-1.7-1.7 0.7-1.7 1 0 1-1 2-0.1 1-0.9 3.7-0.3 0.2-2 1.8-2-0.7-0.3-1 0.9-35-0.1-1-0.9-5-0.1-1-0.9-8-0.1-1-0.9-5-0.1-3-1.9-1-0.1-0.5-0.5-0.1-2 2.6-2.5 3-0.1 1-1 6-0.1 1-0.8 25 0 1 0.8 8 0.1 1 0.9 6 0.1 1 0.9 3 0 0.9-0.3 0.1-6 0.7-1-3.7-0.3-1-1-1 0-0.7-0.7 0.7-1.7 7 0 1 0.5 3-1.9 7-0.3 3 0.3 4 3 0.2-0.9-0.9-1 0.1-3-1.6-2 2.2-1.1 4-0.2 7 1.2 4.7 6.1-0.1 1-3.6 2.6-6 0.1-1-0.9-2-0.1-1-0.9-1.7 0.2 0.8 1 0 6-2 4-1.8 2-0.1 1 3.9 5 1.6 7-1.7 1.2-2.8 3.8 13.8 0.4 1 0.8 4 0.2 1 0.9 12 0 1.7 1.7 0 2-0.7 0.7-3 0-1 0.9-3 0.1-1 1-5 0-5-3-5-1-1-0.9-5-0.1-1-1-4.9 0.3 2.9 3 0.3 1 5.7 0.3 1 0.9 2 0.2 1.6 1.6 0.1 2 2 2 0 1-1.7 1.6-9 0.4-3.9 5 0 1 0.9 1 3-1.7 2 0 1-1 10 0.1 1 0.9 1 0 0.6 1.7-1.9 2 0.1 5 1.2 2.3 5.7 4.7-0.1 2-0.6 0.6-13 0-5-4.8-0.8 0.2-1.1 3-5 5 0.1 1 1.8 1 3 3 2 5 1 0.2 1-0.9 5 0.1 1.7 1.6 0 1-1 1-0.1 3-1.6 2.7-1 0-1 1-7 0-1-0.6-2.9 1.9 0 2 4 3 3.9 0.2 1-0.9 6 0.1 1.7 1.6 0 4-2.7 2.6-2 0.1-1 1-4.7 0.3-0.2 2-2 3 1.9 2.3 3 1 1.7 1.7-1.7 1.7-2 0.1-1 0.9-2 0.3 3 1.2 10 0.1 1 0.9 6 0.1 2.3-2.3-0.9-1-0.1-1 2.7-2.7 7 0 1 1 1 0 1 0 1-0.9 5-0.1 3-3 2 0 1-1 5 1 2.7 2.7 0 1-1.7 1.6-3.3 0.4 0 2 1 1-1.7 1.7-1 0-1-1-7 0-2.3 2.3 0.3 2.3 2 0 3.7 2.7 0 2-3.7 2.7-3 0-1-0.9-3-0.1-2.7-1.7 2.7-2.7 1 0 1.3-1.3-0.3-1.3-10 0-1-1-4 0-5 1.1-5 2.9-1.7 0.3-0.3 2-3.8 3 8.8 0.3 1 1 1 0 0.3-4.3 1.7-1.7 2-0.1 1-0.9 1 0 1 0.9 3 0.1 1.7 1.7-2.7 2.7-1 0 0 0.6 1 0 1 0.9 8 0.1 1 0.9 2 0.1 0.7 1.7-2.6 2 0.9 0.6 4 0.6 4-2.9 5 0 1 1 1 0 5 5.1 1-0.9 3-0.1 1.5-1.4-0.1-1-1-1 0.4-4-2.8-1.2-1 0-1 0.9-4 0-1.7-1.7 0-2 2.7-2.7 1-0.1 1-0.9 2.8-0.3 3.2-3 2.9-1 0.4-1-7.3-0.5-2.6-1.5 0-2 4.6-2.6 3-0.1 1-0.9 4-0.1 0.5-0.3-1.1-1-2.1-1 0-2 1.7-1.6 3-0.2 1-0.9 3-0.1 6 0.1 1 0.9 2 0.1 0.7 0.7 0.3 2.4 12 0 1-1 3 0 1-1 9 0 2-2 5-0.1 1.7 1.7-0.7 1.7-1.3 0.3 0.8 3-3.5 2.5-3 0.1-1 1-4 0-1 0.9-11 0.1-2.3 1.4 1 1 0 1-1.7 1.7-12.8 0.3 1.8 0.9 3 3.4 4 0.1 1 0.9 3 0.1 1 1 1 0 1.6 1.6 0.4 2.2 11 0.2 1-1 2 0 1-1 2 0 1-0.9 4-0.1 1-1 9 0 1-0.9 3 0 1 0.9 3-0.1 2 1.9 1 0 0.9-0.2 0.1-2 1-1.1 1.5-3.9 1.5-1.2 1 2.1 4-1.9 8-1.3 6-2.9 1.9-1.8 0-2-3.9-2-2.1-2 0.1-1 2-1.1 6-1.2 1-0.7 4-0.3 1-0.7 14-1.4 1-0.7 32-1.9 1 0.7 10 0.3 2 1 0.1 1-2.1 2-4 2 1 1 24 0 1 0.8 5 0.2 1 1 0.1 1-2.1 2-2 0.2-1 0.9-2 0.1-4 1.8 0 1 1 0.8 5 0.2 1 0.6 38 0.3 1 0.8 8 1.2 1 0.7 3 0.4 3 1.6 2 0.3 6 3.1 6 4 10.1 10 3.9 6 3 7 0.3 3 0.8 1 0.2 5 0.7 1 0 5-0.7 1-0.2 5-0.8 1-0.3 3-1.7 3-0.3 2-2.9 5-2 3-8.1 8.2-5 3.9-7 3.9-2 0.3-3 1.8-2 0.2-4 1.8-8 1.2-1 0.7-42 0.3-1 0.7-7 0.2-1.9 1.8 0.9 0.8 3 0.2 4 1.8 2 0.2 7 4 0 2-1 1-2 1-3 0.2-1 0.8-7 0.3-1 0.7-10 0.1-24-1.1-1-0.7-16-1.3-1-0.7-6-0.2-1-0.8-6-0.3-1-0.8-4-0.1-1-0.8-5-0.3-1-0.8-3-0.1-1-0.9-4-0.2-1-0.8-3-0.2-1-0.8-3-0.2-4-1.8-2-0.2-1-0.9-2-0.1-6-2.9-1.1-1.1 0.1-6-1-0.4-12 0-1 1.1-2-2-4-0.2-1-0.9-3-0.1-1-0.9-2 0.2-1 0.9-10 0.1-3 2.7-3 0.1-1 0.9-4 0-1-0.8-7-0.2-1-0.8-5-0.2-1-0.9-2 0-2-1-3.6-3.6 1-5-2.4-1.4-2 0-1-0.9-1.3 0.3 1 1-1 2-5.7 4.7-5 0-1-0.9-1 0-4 1.5-1 1.5-2 0-1 0.9-8 0.1-1 0.9-1 0-0.3 0.3 1.3 1.3 1 0 1.7 1.7-1.7 1.7-3 0.1-1 0.9-1 0-1-0.9-2-0.1-1.7-1.7 0-3 1-1 0-1-2.3-2.3-1 0-1-1-2 0-0.3 0.3 1.3 1.3 1 0 2.7 1.7-2.7 1.7-5.9 0.3-2 5 5.9 0.3 7 4 7 0 1-1 12 0 0.7 1.7 2.3 2.3 7 0 1-1 1 0.1 1.7 1.6-1 1 0 2 4.3 1.3 0.7 1.7-2.7 2.7-5 0.9-1-0.9-2 0-3-3-5-0.1-1-0.9-2 0-1 0.9-7 0-2.6-2.6 0.9-1 0-1-2.3-2.3-6 0-1 1-11 0-3-3.6-0.8 0.9-0.1 3 0.9 1.2 3 0.1 1 0.9 2 0.1 1.7 1.7-1.7 1.7-3 1-1 1.3 2 6 4 0.3 4 2 1.6 1.7 0.1 4-1.7 1.6-3 0.1-3 0-1-1-4 0-1-0.6-2.9 1.9 0 2 4 3 6.9 0.3 2 1 0.7 0.7 0 2 0.9 1 0.1 2 1 1 0 1-1.7 1.6-5 0.1-1-1-1.7 0.3-1.3 3-3 3-1.8 1-0.1 1 1.9 1.3 5-0.9 1.6 1.6-0.6 0.6-4.9 0.4 2 2 1 2 0.2 3 0.7 0.2 2.3-1.2 0-1 2.7-2.6 13 0 0.6 0.6 0.1 2-5.7 4.7-1.2 2.3-0.1 5 1.9 2-0.6 1.6-2 1-10 0.1-1-1-2 0-3-2-0.9 0.3 3.9 5 0.2 2 8.8 0.4 1.7 1.6 0 1-2 2-1.7 3.6-2 0.2-1 0.9-7 0.3-1.9 2 0 1 1.9 1.2 3 0.1 1-1 5-0.1 1-0.9 5-1 5-3 3 0 2 0 1 1 3 0.1 1 0.9 3 0.1 0.6 0.6 0.1 2-1.7 1.7-12 0-1 0.9-4 0.2-1 0.8-11.9 0.4 2.6 6-1.4 2-0.2 2-3.9 5 0.1 1 1.8 2 2 4 0 6-2.1 3.1zM551 644.6l-5 0-1-1-2-0.1-1.4-1.5 1.4-1.2 4-0.9 6-0.2 13 0.2 4 0.9 0.4 1.2-1.4 1.5-4 0-1-0.9-6 0-1 0.9-5 0.2zM591 658.7l-4 0-2-1-2.7-2.7 0-1 3.7-2.7 2-0.1 1-0.8 4-0.2 1-0.9 3 0 1.7 1.7-0.1 1-4.6 5.6-2 0.2zM559 669.6l-11 0.1-2.6-1.7 1.6-1.7 3-1 2-1.9 2-1.1 2-0.1 1-0.9 8 0.1 2 0.9 2.6 2.7-1.6 1.7-2 0.1-1 0.9-2 0zM614 677.7l-3 0-2.7-2.7-0.3-1.4-2 0.1-1 0.8-4 0-1-0.8-11-0.2-1-0.9-9-0.1-3.5-2.5 1.5-1.5 1-0.1 1-1 2 0 1-0.9 5-0.1 1-0.9 14-0.1 1-0.9 10 0 3 1.9 5 0.1 1 0.9 3 0.1 1.6 1.5 0 1-2.6 1.6-2 0-1 0.9-5 0.1-0.5 0.4 1.2 1 0 2zM489 686.5l-6 0-1-0.9-10-0.1-1-0.8-11-0.2-1-0.8-7-0.2-1-0.8-3-0.1-1-1-2 0-1-1-1 0-1.6-1.6 0-1 1-1-5.4-1.4-1.6-1.6-0.1-1 3.7-3.7 4-2 2-0.1 1-0.8 6-0.1 2 1 1.7 1.7-3.7 3.7-4 2.1 0 0.6 6 0.1 1 0.9 16 0.1 1 0.8 6 0.1 1 0.9 4 0.2 1 0.9 3 0 1 1 3 0 3.6 2.6 0 1-1.6 1.6-3 0zM434 681.6l-7 0.1-4-2.9-1-0.1-3.4-3.7 2.4-2.7 8 0 2 1 2.7 2.7 0 2 0.9 1 0 2zM578 679.6l-3 0-1.6-1.6 2.6-2.7 3-0.9 1.7 1.6 0 1zM565 681.7l-6-0.1-0.7-1.6 1.7-1.7 2 0 1-0.9 1 0 1 0.9 2 0.1 0.6 0.6 0 1zM658 686.7l-9-0.1-2-0.9-1.7-1.7 0-2 2.7-2.7 2-0.1 1-0.8 4 0 1 0.8 2 0.1 2 1.1 2.2 2.6 0 1-1.2 1.5-2 0.3zM592 692.5l-3 0-1-0.9-8-0.1-1-0.9-4-0.1-1-0.9-2-0.1-1.5-1.5 3.5-2.5 2-0.1 1-0.9 4-0.1 1-0.9 20-0.1 1-0.9 22 0 3.5 2.5-2.5 2.5-2 0.1-1 0.9-4 0.1-1 0.9-5 0.1-1 0.9-7 0.1-1 0.9-11 0.1zM566 711.6l-10 0-4.6-2.6 1.6-1.6 4-0.1 1-1 3-0.1 1-0.9 2 0 2.3-1.3-0.3-1.3-6-2-5.7-4.7 0.1-2 0.6-0.6 6-3 6-0.1 1.6 1.7 0.4 1.3 1 0.1 2 1.8 3.6 1.8 0.1 3-1 1 0 1 6.3 2.3 1.6 1.7-2.6 1.7-5 0-1 1-2 0-3 1.9-2 0.1zM426 701.6l-6-0.1-2.5-1.5-0.5-1-0.2-4 1.2-3.2 1 0.6 4 0 1 0.8 5 0.1 2.7 2.7 0 3-0.7 0.7-1 1-3 0.1zM609 694.6l-2 0-0.6-0.6 0-1 1.6-1.6 2 0 0.6 0.6 0 1zM474 703.5l-19 0-1-0.9-4 0-1-1-2-0.1-3-1.9-3-0.1-1-0.9-1 0-1.6-1.6 0.1-1 0.5-0.5 4-0.1 1-0.9 11 0 1 0.9 6 0 1 1 4 0.1 1 0.9 4 0.1 1 0.9 3 0 3.5 2.6-1.5 1.6-2 0zM631 696.6l-2 0-0.6-1.6 0.6-0.6 2 0 0.6 1.6zM607 721.5l-24 0.1-1-1-2 0-1-1-0.6-0.6 0-2 2.6-2.5 1-0.1 3-2 2 0 1-1 2 0 1-1 2 0 2.4-1.4 0-1-3.9-3-0.1-2 2.6-2.5 2-0.1 1-1 3-0.1 1-0.9 5-0.1 1-0.9 29 0.1 1 0.9 2 0.1 2.5 2.5-1.5 2.5-1 0.1-3 1.9-2 0.1-1 0.9-3 0.1-3.5 2.4 0.1 1 1.9 2 0.2 4-0.7 0.7-2 0.1-3 1.7-2 0.1-1 1-2 0-1 0.9-9 0.2zM438 707.6l-13 0.1-1.7-1.7 3.7-3.6 2-1 9-0.1 2.7 2.7 0 1-0.7 1.7zM488 709.7l-4 0-2-0.9-2.6-1.8 0-2 3.6-1.7 3 0.1 1 0.8 2 0.2 1.7 1.6 0 2zM467 711.6l-2 0-2.7-1.6 0-1 3.7-2.7 2 0.1 1.6 1.6 0.1 2zM526 725.6l-2 0.1-1-1-2 0-0.7-0.7 0.7-0.7 6 0.1 0.6 0.6zM558 762.7l-7-0.1-2.6-2.6-2.1-5-1.3-1.3-7-3-1.6-1.7-0.1-2-1-1 0.1-3 3.6-1.6 0.4-0.4-1-1 3.6-2.6 1 0 0.6 1.6-2 2 0 1 2.4 1.3 2 0.1 5 4.9 3 0 1-1 0.4-1.3 1.9-2 0-2-1.3-0.3-5-5-3-0.1-2-0.9-3-3-2-1-2 0-5-3-1-0.1-1.7-1.6 0.7-1.7 3 0 1-0.9 9 0 1 0.9 3 0.1 1 0.9 2 0 1 0.9 2 0.1 4 1.9 3 0.1 1 0.9 3 0.2 1 0.9 3 0.1 1 0.9 4 0.1 1 0.9 4 0.1 1 0.9 2 0.1 0.6 0.6-0.6 0.6-4 0.1-3.3 2.3 0 1 1.3 1.2 3.7 1.8 0 2-7.1 8 2.4 0.4 1 0.8 2.4-0.2 0-3 4-4 0-2-0.9-1 0-1 5.5-5.6 1 0 1-1 2 0 1-1 3 0 1-0.9 5-0.1 0.3-2.4 1.7-1.7 2-0.1 1-0.8 2 0 1 0.8 11 0.1 2.7 1.7 0.3 2.4 2 0.1 1.5 1.5-3.5 3.5-2 0.1-1 0.9-2 0.1-1 0.9-4 0.1-1 0.9-4 0.1-1 0.9-3 0.1-3.4 2.4 1 1 1.4 0.2 1-0.9 2-0.1 1-0.8 5-0.1 1 0.9 2 0.1 2 1.1 14 0.1 3.6 2.5 0 3-4.6 4.5-1 0.1-3 1.9-2 0.1-13-0.1-5-2.9-2 0-4 0-1 0.9-5 0.1-1 0.9-10 0.1-1-0.9-1 1-2 0-1 1-11 0-1.7-1.7 2.7-2.7 1 0 1.3-1.3 0.1-1-4.4-2.3-4 0.1-1 0.8-2.3 0.4-0.1 1-0.9 1-0.1 3-1.9 2 0 2 2 2zM662 735.2l-3 0.5-1-0.9-2-0.1-5-3.9-1-0.1-1.7-1.7 0-1 3.7-1.6 2 0 1 0.8 4 0.1 3.4 2.7zM635 741.6l-3 0-0.6-0.6 2.6-1.6 1.6 1.6zM485 756.7l-4 0-2-2.1-18-0.1-1-0.8-5-0.2-1-0.9-3 0-1-1-1 0-1 2-3 0.2-1 0.8-5 0-1-0.8-4-0.2-0.7-1.6 1.7-1.7 2-0.9 5.4-0.4-2.4-0.4-1-1-3-0.1-3-1.9-1-0.1-1-2.8-4-0.1-0.6-0.6 2.6-1.6 4 0 0.6 0.6-0.9 1 0.3 0.4 11 0.1 1 0.9 14 0.1 1 0.9 6 0.1 1 0.9 4 0.1 1 0.9 3 0 1 1 2 0 1 1 2 0.1 2.5 2.5-0.9 3 2.4 0.3 0.7 0.7zM453 759.7l-5-0.1-1.7-1.6 2.7-1.6 1 0 1 0.9 2 0.1 0.6 0.6zM424 762.6l-6-0.4-0.3-2.2 2.3-0.7 6 0 1.6 1.7-0.6 0.6-2 0.1zM455 775.5l-12 0-1-0.9-11 0-1-1-3 0-1-1-1 0-2.6-2.6 0-1 3.6-3.6 1 0 3-1.9 21-0.1 1 0.9 3 0.1 1 1 2 0.1 3.5 3.5-2.5 3.6zM633 777.7l-4 0-0.7-1.7 0.7-0.7 4 0 0.7 1.7zM346 780l3-0.3 0.9-0.7-1.9-1.7-3-0.8-11-0.1-3 0.8-1 0.8 0.1 1 0.9 0.7 5 0.9 9 0zM745 780l4-0.3 0.9-0.7 0.1-1-1-0.8-3-0.8-11 0.1-3 0.8-1.9 1.7 0.9 0.7 4 0.8 9 0zM314 789l5-0.3 1.9-1.7-2.9-1.6-6-0.2-6 0.2-2.9 1.6 0 1 0.9 0.8 5 0.2 1 0.6 3 0zM772 789l3-0.2 1.9-1.8-2.9-1.6-6-0.1-5 0.1-2.9 1.6 1.9 1.7 4 0.3 1 0.6 4 0zM657.9 801l1.9-2 1.1-3-2.9-0.2-1 0.9-1-0.9-1-0.1-0.7-1.7 0.7-0.7 2-0.1 1-0.9 3-0.3 0-2-1-1-0.1-1-0.9-0.2-2.3 0.2-5.1 5 3 4 0 2-1 1 0 1zM534.3 791l3-2-1.3-0.3-3.3 2.3zM317.9 801l1.1-1-4-1.6-4 0-4 0.9-0.8 0.7 1.8 1.5 6 0.2zM658 817l0.9-1 0-2-2.9-4-0.2-2-1.8-0.2-1-1-2-0.1-1-1-4 0-1 0.9-13 0-1-0.9-3-0.1-3-1.8-2 1.9-5 0-3-2.5-4-1.2-4-3.2 0.7 1.2 0 2-2.7 2.7-1 0-1-1.1-3 2-2.5 0.4 7.5 0.3 1 0.9 2 0.1 1 0.9 3 0.1 3.8 2.7 0.2 1.8 6 1.2 4 2.2 12 0.2 1 0.9 3 0.6 14 0zM772.9 801l0.1-1-1-0.7-6 0-2.9 0.7 0.1 1 0.8 0.5 6 0.1zM525.2 802l-0.2-1.2-2.8 0.2 0 1zM472.2 809l0.8-0.8 2 0 1-0.9 2-0.1 3.3-2.2-1.3-0.4-3-2.8-3 0-1 0.9-2 0.1-1.8 1.2 0.9 2 0 3zM550.3 817l0.7-0.7 3-0.1 1-0.9 3-0.1 1.3-1.2 0.9-5-1.9-2-0.3-1.7-3 0.9-7-0.1-7-2.3-1-1-3-0.1-1.3 1.3 0 1 1.3 1.2 1 0.1 1 0.9 2 0.1 1 0.9 7 0.1 1 0.9 2 0.1 1.7 1.7-2.7 2.8-7.3 3.2zM458.5 821l0.5-0.5 3-0.1 1-0.9 4-0.2 1-0.8 4.3-0.5-4.3-0.3-1-0.9-3-0.1-1-0.9-3 0-1-1-11-2-3.7-2.8 1.6-2-5.9-0.4-1-1-3-0.1-1-0.9-0.3 2.4-4 4 0 3 1 1-1 1 0.3 0.6 9-0.4 1-0.9 10 0 1 0.9 1 0.1 2.7 2.7 0.3 1.5zM540.2 819l2.1-1-4.3-0.3-6-3.9-2-0.1-1-0.9-3-0.1-1-0.9-1-0.1-0.7-0.7 3.7-3.7 1.2-0.3-2.2-1.2-2 0-5 3-1.9 0.2 0.1 2 2 4 2.8 2.7 2 0.9 5 1 9 0.2zM378.9 816l0.9-1-0.1-2-2.7-1.5-5 0-2.9 2.5 0.1 1 2.8 1.6 6 0.1zM707 816l2-0.3 1.8-1.7-2.8-2.5-5 0-2.8 2.5 1.8 1.9 2 0.7zM494.9 818l-2-4-0.9-0.2-3 2.9-3.3 1.3zM595.2 816l-0.2-1.2-10.5 0.2 8.5 0.5 1 0.8zM560.3 828l6.7-2.8 1.3-1.2 0-1-1.3-1.2-3-1-1-1-2-0.1-1-0.9-3 0-1 0.9-2 0.1-0.3 1.2 3.3 1.3 0.7 1.7-2.7 1.7-1 0.1-0.2 1.2 2.2 0.3 1 0.9zM653.3 840l0.7-0.7 2.9-0.3 1.9-3 0-1-2.8-2.8-14-0.1-5-2.4-3-0.1-1-0.9-7-0.1-1 2.1-8 0-1-0.9-2-0.1-1-0.9-1 0-2-2-4-1.8-2-1.9-2.4 2.9 0.4 1.2 7 3.1 4 2.9 1 0.1 2 2.3 6 0.4 6 3.3 4 0 1-0.9 11 0 1 0.9 3 0.1 1 0.9zM435.4 839l0.6-0.6 2 0 1-1 4-0.1 5-3 4-0.1 1-0.9 3-0.1 1-0.9 3-0.1 1-0.9 2.3-0.3-2.3-0.5-3-1.9-2-0.1-1-0.8-2 2-2 0.1-1 0.9-8 0.1-1-0.5-4 1.8-7 0.2-0.3 1.7 5.3 5.4zM595.2 832l0-2-1.2-1.2-2 0-1 0.9-3 0.1-1 0.9-10.3 0.3 2.3 1.2zM556.2 844l2-2 0.1-2 2-2-1-5-1.3-1.2-3-0.1-1-0.9-3-0.1-1-0.9-3.7 0.2-1 1 1.7 0.3 5 2.9 0.8 0.8-0.1 2-0.7 0.7-2 0.1-1 0.9-7 0.1-1 0.9-2 0.1-1 0.9-1 0.1-1.3 1.2 0 1 1.3 1.3 4-0.1 1-0.9 7-0.1 1 1zM498 834l-6-3.3-1.3 1.3 1.3 1.2 2 0.1 1 0.9zM378.7 835l0.2-2-1.9-1.7-5 0-1.9 1.7 0 1 1.9 1.7 4 0.1zM709 835l1.8-1 0-1-1.8-1.7-7-0.1-1.7 1.8 0.1 1 1.6 1.5 4 0.4zM313.8 837l0.1-1-0.9-0.8-3-0.8-5 0.9-1 0.7 0.1 1 0.9 0.5zM464.2 836l-6.4 0 0.2 0.8 6 0zM527.3 841l0.9-1-1.2-0.3-4-4.5-3 0.1-0.9 0.7-0.1 1 3 3.2 1 0 1 1zM776.9 837l0-1-0.9-0.7-6-0.1-3 0.2-0.8 0.6 1.8 1.5 8 0zM476.4 845l1-1 0-1 2.1-2-3.5-2.2-3-0.1-1-0.9-3.8 0.2 4.9 3 1 2 0.1 2zM525.2 846l-0.2-1.2-2.8 0.2-0.1 1zM662 859l1-1 0-1-1.1-3-5.9-0.3-1.7-1.7 0.7-0.7 4.9-0.3-3-5-2.3 0 0 2-3 4 0 1 3.4 2.4 2.7 2.6 0.3 1.2 3 0.7zM622.4 853l6-3-4.4-0.8-4 1.1-8-0.2-3-0.9-3-2-2.4 1.8 4.4 0.3 5 2.9 7 0.1 1 0.9zM442 864.7l-10-0.1-0.6-0.6 0-2 0.9-1 0-2 1.7-1.7 2-0.1 1-0.9 4-0.1 2-0.9 1.3-1.3 0-2-1-1 0.7-1.7 3 0 1 1 5 2 0.7 1.7-4 4 0 3-3.7 2.7-3 0.1zM766 859l4-0.3 2-1.7 0-1-3-1.7-7 0-5 0-3 1.7 0 1 2 1.7 4 0.3 1 0.6 4 0zM324.9 858l2.1-1 0-1-1-0.7-14 0.1-2 1.6 2 1.6 12 0.1zM389 862l2-1-0.1-1-0.9-0.7-4-0.9-14-0.1-2 0.8-1.9 1.9 2.9 1.8 17-0.1zM709 862l2-1-0.1-1-0.9-0.8-3-0.9-13 0.1-4 0.9-0.9 0.7-0.1 1 3 1.7 16 0zM579 866.7l-3 0-2-1-2.7-3.7 2.7-2.7 2 0 1 0.9 2 0.1 2 1 1.7 1.7 0 2-0.7 0.7-2 0.1zM561 868.7l-3 0-5.7-4.7 2.7-1.7 3-0.1 1-0.9 3 0 1 1 1 0 1.7 1.7 0 2-1.7 1.7-2 0zM360 868l1.9-1 0-1-2.9-1.8-13 0.1-1 0.7-2 0.1-1 0.9 0 1 1 0.9 2 0.8 10 0.1 4-0.2zM736 868l2-1-2-1.8-2-0.2-1-0.7-12 0-2.9 1.7 0 1 2.9 1.6 14 0.1zM633 871.6l-4 0.1-0.7-1.7 0.7-0.7 4 0 0.7 0.7zM451 881.6l-19-0.1-1-0.9-2-0.1-1-0.9-1 0-1-1-2 0-1.6-1.6 0-3 3.6-2.6 3 0 1-0.9 24 0 3 1.9 1 0.1 2.5 2.5 0 2-2.5 2.5-2 0.1-1 1-3 0.1zM631 882.5l-8 0-1-0.9-4-0.1-1-0.9-7 0.9-1-0.8-9-0.2-1-0.8-13-1.2-1-0.8-3-0.1-1-1-2 0-1-1-1 0-1.6-1.6 0-1 1.6-1.6 2 0 1-0.9 30-0.2 3 2.1 3 0.1 1 0.8 9 0.1 1 0.9 4 0.1 1 1 3 0.1 1 0.9 1 0 2.5 2.6-1.5 1.5-2 0.1-1 1-3 0zM600 886.7l-9 0-1-0.9-2-0.1-2.7-1.7 0-2 0.7-0.7 2-0.1 1-0.9 5 0 2 0.9 4 0.1 1 0.9 2 0.1 0.7 0.7-0.1 2-0.6 0.6-2 0.2zM637 886.7l-4 0-2.7-1.7 0-1 1.7-1.6 4-0.1 2.7 1.7 0 1zM426 887.6l-8-0.4-0.1-2.2 5.1-0.7 1 1 3 0.1 0.6 0.6zM544 922.6l-7 0-1-0.9-4-0.1-0.7-1.6 1.7-1.6 6-3.1 2 0 2-1 3-3 2-0.9 3-0.1 5-4.9 1.3-0.4 0-2-1-1 0-1-2.3-2.3-2-1-1 0.9-1 0.1-0.4 1.3-2.6 2.7-5.4 2.3 0 1 2 2-1.6 1.6-3.6-2.6 1-1-1.4-1.3-2-0.1-0.6-0.6 0-3 0.9-1 0.1-2 1.6-1.6 7-3.1 1.3-1.3 1-3 2-2 0-1 2.7-1.7 6 0.1 0.6 0.6-1.9 2 0 2 1.9 2 0.1 3 1 2 2.3 0.4 1 0.9 4 0 4.4-2.3 0-1-1.4-1.3-1 0-2.7-2.7 1.7-1.6 11-0.1 1 1 1-0.8 2-0.1 1-1 10 0.1 1 0.8 7 0.2 1 0.9 1 0 1-0.9 3-0.1 1-0.9 3-0.1 1-1 6 0 1-0.9 3 0 1 0.9 4 0 1 1 2 0.1 2.6 2.5 0 1 1.9 3 0 1-3.5 3.5-5 0.1-1 0.9-8 0.2-2 2-2.3 0.3 0.3 1.4 3 0.1 1 0.9 2 0.1 3 1.9 1 0.1 2.5 2.5-0.5 1.5-3.3 1.5 0.9 1 0.1 3-2.7 1.7-11 0.1-2 0.8-4-0.9-1.7-1.7 0-1 0-1 2-2-0.3-0.4-7-0.1-1-0.9-3-0.1-1-0.9-2-0.1-3-1.9-1-0.1-4.5-3.5 0-2 2-2 0-1-0.1-1-1.9-2-0.1-1-1.4-1.3-4 0.1-1 0.8-2.4 0.4 1.4 0.4 3.6 3.6 0.1 1 3 3 0 1-0.7 1.7-3.3 1.3-1 1 0 1 3.3 2.3 3 0.1 0.6 0.6-0.6 0.6-1 0.1-1 0.9-4 0.1-1 0.9-5 0.2-1 0.9-3 0.1-1 0.9-2 0.1-1 0.9-3 0.1-4 1.9-2 0-1 1-2 0-1 0.9-4 0.1zM452 889.7l-5 0-0.7-0.7 1.7-1.6 5 0 0.6 0.6zM444 902.5l-10 0-0.5-0.5 0-2 2.5-1.5 2.5-0.5-3.5-1.3-1.7-1.7 0.1-1 0.6-0.6 5-0.2 1-0.8 4 0 1 0.8 4 0.2 1-0.9 4-0.1 1-0.9 6-0.2 1-0.8 17 0 1 0.8 1-1 3 0 1.7 0.7-0.7 1.7-2.4 0.3 0 1-2.6 2.6-1 0-3 1.9-3 0.1-1 0.9-5 0.2-1 0.9-5 0-1 0.9-15 0.1zM368 901l-12 0-1-0.6-9-0.4-1-0.7-4-0.3-2-0.9-1.1-1.1 0-1 3.1-2 4-0.3 1-0.8 16-1 16 1.1 1 0.7 4 0.3 3.1 2 0 1-1.1 1.1-2 0.9-4 0.3-1 0.7-9 0.4zM724 901l-12 0-1-0.6-9-0.4-1-0.7-4-0.3-2-0.9-1.1-1.1 0-1 3.1-2 4-0.3 1-0.7 16-1.1 16 1 1 0.8 4 0.3 3.1 2 0 1-1.1 1.1-2 0.9-4 0.3-1 0.7-9 0.4zM607.4 902l-2.4-0.3-1-0.9-1.5 0.2 2.5 1.4zM432 906.7l-3-0.1-2.6-1.6 0.6-0.6 5 0 0.7 1.6zM634 907.6l-2.6-1.6 0.6-0.6 2 0 0.6 0.6zM654 920.6l-5-0.9-0.7-1.7 7.7-5.6 2-0.2 1-0.9 3 0.5 0.5 4.2-1 2-2.5 1.7-4 0.1zM638 947.5l-34 0.1-1-0.9-4-0.1-1-1-2 0-3-2-1-0.1-1.5-2.5 2.9-3 0.1-2-4.5-2.4-5-1.1-3-1.9-1-0.1-2.6-2.5 0-2 1.6-1.5 5-1.1 12 0.1 1 0.9 18 0.1 1 0.9 4 0.1 3 1.9 1 0 2.5 2.6 2.1 1 0.1 2-0.7 0.7-2.4 0.3-0.1 1-0.9 1 0.4 0.4 1 0.1 1 0.9 2 0.1 1 0.9 3 0.1 1 0.9 2 0 3 2 1 0 1.6 1.6 0 2zM468 940.6l-2 0.1-2-1-1.7-1.7 0-1 2.7-1.6 2 0 2 1 0.6 0.6 0 2zM567 956.7l-6-0.1-6-3-0.7-1.6 0-1 2.7-2.7 1-0.1 4-2.8 2-0.1 2-1 0.3-1.3-2.3-1.3-2 0-1-0.9-3-0.2-1-0.9-4-0.1-1.6-1.6 0.6-0.6 1-0.1 1-0.9 2-0.1 1-1 9 0.1 1 0.9 2 0.1 3 1.9 2 0.1 1 0.9 5 0 1.7 1.7-0.7 1.7-6.3 2.3 0 1 1 1-0.1 3-5.6 2.8zM450 950.5l-3 0-1-0.9-5-0.1-0.5-1.5 2-1-0.1-2 1.6-1.5 2-0.1 1-1 5 0 1-0.9 3-0.1 7 0.1 1 0.8 4 0.1 1-0.9 3-0.1 1-0.9 5 0 1 0.9 1-2 4-2.1 4 0 2.7 1.7 0 2-1.7 1.6-3 0.2-1 0.9-2 0-2-1-2 1.8-1 0.1-5 2.9-5 0.1-1 0.9-7 0.1-1 1-8 0zM438 945.7l-9-0.1-2-1.8-1-0.1-2.7-2.7 1.7-1.7 13 0.1 2 0.9 0.7 1.7 0 1zM418 955.2l-1.1-2.2-0.2-2 0.3-3 1-1.5 2-0.3 1-0.9 5 0.1 1 0.8 3 0.1 1.7 1.7 0 3-2.7 2.7-6 0.1-1 0.9-3-0.1zM630 952.6l-1.6-1.6 0.6-0.6 2 0 0.6 0.6zM625 962.5l-12 0-1-0.9-1 0-1 0.9-15 0-1-0.9-10-0.1-1-0.9-3 0-1-1-2-0.1-1.6-1.5 0.1-1 1.5-0.6 3-2.9 23 0 1 0.9 2 0 2-2 1 0 2 2 2 0.1 1 0.9 6 0.1 1 0.9 2 0 1 1 2 0.1 2.5 2.5zM455 969.5l-9 0-1-0.9-2 0-1.6-1.6 0-1 1.6-1.5 2-0.1 1-1 2 0 1-0.9 5-0.2 1-0.8 7-0.2 1-0.8 7-0.1 1-1 6 0 1-0.9 11 0 1 0.9 3 0.1 1.6 1.5 0 1-1.6 1.6-1 0-1 1-2 0-1 0.9-4 0.1-1 0.9-4 0.1-1 0.9-6 0.1-1 0.9-15 0.2zM655 968.6l-4 0-1-0.8-2-0.1-2.7-2.7 0-2 1.7-1.7 3-1 8 0 1 0.9 2 0.3 1.2 1.5-0.7 2-1.5 1.6zM429 974.7l-8 0-1.7-1.7 0-2 2.7-2.7 1-0.1 4-2.9 7 0.1 0.6 0.6 0 2-0.9 1 0 2-2.7 2.7zM564 969.6l-1 0-1-0.9-2 0-1.7-1.7 0.1-1 0.6-0.6 6 0 2.6 1.6-0.6 1.6-2 0.1zM579 972.6l-3-0.9-2.6-2.7 1.6-1.6 3 0 2.7 2.6 0 1zM622 979.5l-38 0-1-0.9-3 0-1-1-2-0.1-1.6-1.5 0-1 1.6-1.6 3 0 1-0.9 11-0.1 1-1 16-0.1 2-2 3 0 2.7 1.7 0.3 1.4 2 0 1 1 4 0.1 1 0.9 2 0.1 1.5 1.5-0.5 1.5-1 0.1-1 1-3 0zM452 980.7l-6-0.1-1-0.8-2-0.1-4-2-3.7-3.7 0.1-1 1.6-1.6 2-0.2 1-0.9 6 0.1 5 3.8 1 0.1 3.6 3.7-1.6 1.7zM565 985.6l-8 0-1-0.8-2-0.1-4-3-3-1-0.7-1.7 1.7-1.7 10 0 1 0.9 2 0.1 1 0.9 3 0.1 1 1 2 0 1.6 1.7-2.6 2.7zM597 997.7l-3 0-1-0.9-4-0.2-1-0.8-2-0.1-2.7-1.7-1-1 0.1-1 2.6-2.7 2-1 4 0 1 0.9 2 0.2 4.6 5.6 0.1 1zM532 1005.1l-8 0-1.3-1.1-0.3-3 0.9-2 2.7-1.7 2-0.1 1-0.9 6 0.1 2 0.9 1.6 1.7 0 1-3.1 3-0.5 1.2zM566 1005l-19 0.2-2-0.1-2.1-1.1 2.1-0.4 1-1 3-0.1 2 0.1 1 0.9 5 0.4 1 1 6 0.1 1-1.1 4.1 0.1-2.1 0.2z"/>
<path fill="#0000a5" d="M535 650.4l-6 0.1-5.9-2.5-1.3-7 3.2-0.8 4 0.1 6 1.7 1.6 3 1.9 2 0 1-1.5 1.5zM551 644.4l-5 0-1-0.9-2-0.2-1-1.3 5-1.6 6-0.3 13 0.4 2.9 0.5 1.2 1-1.1 1.3-1 0-3 0-1-0.9-6 0-1 0.9-5 0.2zM516 745.4l-2 0-4-1.9-4-4.1-7 0.1-1-1-9-0.2-1-0.8-5-0.2-1-0.8-3-0.2-1-0.9-3-0.1-1-0.9-3 0-1 0.9-5 0.2-1 0.8-3 0.1-3 2.1-6-0.1-7-3.9-5-1.2-3.4-3.3 0.1-4 1.9-2-0.6-0.6-3-0.1-3.3-3.3 0-2 3.3-2.3 2-0.1 1.4-2.6 2.6-1.5 7 0 1 3.1 5 0.1 1 0.8 8 0.1 1 1 1 0 1 0 1-0.9 12 0 1 0.9 3 0.1 1 0.9 2 0.1 1.3 1.3 0 6-1 1 0.7 0.7 1 0 1 0.9 3 0.1 1 0.9 5-0.2 1-0.8 1 0.8 4 0.1 0.6 1.5-1.2 2 1.6 1 1.3-3 1.7-1.9 7-4.1-5-2.3-6.5-4.7 1.7-1-0.4-4 0.9-3 3.4-4-1.1-1.3-3-0.2-3.6-2.5 0.6-1.5 2-0.2 1.1-1.3-1.5-3-0.5-4-0.7-1 6.4-6-0.4-1 0.6-1.9-4.1-4.1-8.9-1.5-1.5-1.5 0.5-1.5 2-1 7-1.5 2.2-4-1.2-0.5-1 1-35-0.2-1-0.8-5-0.2-1-0.8-8-0.2-1-0.9-5-0.1-3-1.9-1-0.1-0.3-2.3 2.3-2.3 3-0.1 1-0.9 6-0.2 1-0.8 23-0.1 2 0.1 1 0.8 8 0.2 1 0.8 6 0.2 1 0.8 3 0 1.7-0.5-0.4-4 0.9-3-4.2-0.5-2-1-0.5-0.5 0.5-1.5 7-0.1 1 0.7 4.8-2.1 6.2 0 4.1 2 2.1 3 0.5 3-0.5 3-3.8 7 3.7 5 1.1 4 1.4 2 0 1-2.1 1-3.4 4 14.9 0.6 1 0.8 4 0.2 1 0.8 12 0.1 1.5 1.5-0.5 2.5-7 1.1-1 0.9-4 0-6-2.9-5-1.1-1-0.9-5-0.1-1-0.9-6.7 0.4 4.5 4 6.2 0.5 1 0.9 2 0.1 1.4 1.5 0.2 2 1.9 2 0 1-1.5 1.5-10.1 0.5-4.4 5-0.2 1 1 1 1.7 0.1 3-1.6 5-1.1 8 0.1 2 1 0.5 1.5-2 2 0.1 5 1.4 2.5 5.5 4.5 0.1 1-0.6 1.4-13 0.1-5-4.8-1.3 0.3-1.7 3-2 2-6 3 7 4 2.4 3 0.8 3 1.8 0.4 1-0.9 5 0 1.5 1.5 0 1-0.9 1-0.2 3-1.4 2.5-3 1-6 0.1-1-0.7-1.2 0.1zM591 658.6l-4-0.1-2-0.9-2.5-2.6 0-1 3.5-2.6 2-0.1 1-0.8 4-0.2 1-0.8 3 0 1.5 1.5 0 1-1.9 2-0.1 1-2.5 2.4-2 0.3zM559 669.4l-11 0.1-2.4-1.5 1.4-1.5 3-1.1 2-1.9 5-2 8 0.1 2 0.9 2.4 2.5-1.4 1.5-2 0.1-1 0.9-2 0.1zM614 677.6l-3-0.1-2.6-2.5-0.4-1.5-2 0-1 0.8-4 0-1-0.8-11-0.2-1-0.8-9-0.2-3.3-2.3 1.3-1.3 1-0.1 1-0.9 2-0.1 1-0.9 5-0.2 1-0.8 14-0.1 1-0.9 10 0 3 1.9 5 0.1 1 0.9 3 0.1 1.3 1.3 0 1-2.3 1.3-2 0.1-1 0.9-5 0.2-0.7 0.5 1.2 1 0 2zM489 686.3l-6 0-1-0.9-10-0.1-1-0.8-11-0.2-1-0.8-7-0.2-1-0.8-3-0.1-1-0.9-2-0.1-2-1.1-1.3-1.3 0-1 1-1-5.7-1.5-1.5-1.5 0-1 3.5-3.6 4-2 2-0.1 1-0.8 6 0 2 0.9 1.5 1.6-3.5 3.5-4.4 2.5 0.4 0.7 6 0 1 0.8 16 0.2 1 0.8 6 0.2 1 0.8 4 0.2 1 0.8 3 0.2 1 0.9 3 0.1 3.4 2.3 0 1-1.4 1.3-3 0.1zM434 681.4l-7 0.1-4-2.8-1-0.1-3-3.6 2-2.6 8 0.1 2 1 2.5 2.5 0.1 2 0.9 1zM578 679.4l-3 0-1.5-1.4 2.5-2.5 3-0.9 1.5 1.4 0 1zM565 681.5l-6 0-0.5-1.5 1.5-1.5 4-0.9 1 0.8 2.4 0.6 0.1 1zM658 686.5l-9-0.1-2-0.8-1.6-1.6 0-2 2.6-2.5 2-0.2 1-0.8 4 0.1 1 0.7 2 0.2 2 1.1 1.9 2.4-0.9 2.2zM592 692.3l-3 0-1-0.8-8-0.2-1-0.9-4-0.1-1-0.9-2-0.1-1.3-1.3 3.3-2.3 2-0.1 1-0.9 4-0.1 1-0.9 20-0.2 1-0.8 22 0 3.3 2.3-2.3 2.3-2 0.1-1 0.9-4 0.1-1 0.9-5 0.1-1 0.9-7 0.1-1 0.9-11 0.2zM566 711.5l-10-0.1-4.5-2.4 1.5-1.4 4-0.2 1-0.9 3-0.1 1-0.9 2-0.1 2.5-1.4-0.5-1.5-6-2-5.6-4.5 0.6-2.4 6-3.1 6 0 2 2.9 6.4 3.6 0.1 3-1 1 0 1 2.5 1.4 2 0.1 2 1 1.4 1.5-2.4 1.5-5 0.1-1 0.9-2 0.1zM609 694.4l-2.4-0.4-0.1-1 1.5-1.4 2.4 0.4 0 1zM426 701.5l-5 0-3.2-1.5-0.7-4 0.9-3.5 11 1 2.5 2.5 0.1 3-0.6 0.6-1 0.9-3 0.2zM474 703.3l-19 0-1-0.9-4-0.1-1-0.9-2-0.1-3-1.9-3-0.1-1-0.9-1-0.1-1.3-1.3 0-1 4.3-0.4 1-0.9 11 0 1 0.8 6 0.2 1 0.9 4 0.1 1 0.9 4 0.1 1 0.9 3 0.1 3.3 2.3-1.3 1.3-2 0.1zM631 696.4l-2 0-0.4-1.4 2.4-0.4 0.4 1.4zM607 721.3l-24 0-1-0.9-2-0.1-1-1-0.3-2.3 2.3-2.3 4-2 5-1.1 1-0.9 2-0.1 2.7-1.6 0-1-4-3 0-2 2.3-2.3 2-0.1 1-0.9 3-0.2 1-0.8 5-0.2 1-0.8 28-0.1 4 1.1 2.3 2.3-1.3 2.3-4 2-2 0.1-1 0.9-3 0.2-3.7 2.5 0 1 2 2 0.3 3-0.6 1.5-2 0.1-3 1.7-5 1.1-1 0.9-9 0.2zM438 707.5l-13 0-1.5-1.5 3.5-3.4 2-1 9-0.2 2.6 2.6 0 1-0.6 1.5zM488 709.6l-4-0.1-2-0.9-2.5-1.6 0-2 3.5-1.5 3 0.1 1 0.7 2 0.2 1.5 1.5 0.1 2zM467 711.4l-2 0-2-0.9-0.5-1.5 3.5-2.5 2 0 1.5 1.5 0 2zM526 725.5l-2 0-1-0.9-2 0-0.6-0.6 0.6-0.6 6 0.1 0.5 0.5zM558 762.5l-7 0-2.5-2.5-2-5-1-1-7.5-3.5-1.5-1.5-0.1-2-0.9-1 0-1 0.1-2 3.4-1.5 0.5-0.5-0.9-1 3.4-2.4 1 0 0.5 1.4-2.1 2 0.1 1 2.5 1.4 2 0.2 5 4.9 3 0 1-1 2.4-3.5 0-2-1.4-0.5-5-4.9-3-0.1-2-1-3-2.9-2-1-2-0.1-6-3-1.5-1.5 0.5-1.5 3-0.1 1-0.8 9 0 1 0.8 3 0.1 1 0.9 2 0.1 1 0.9 2 0.1 4 1.9 3 0.1 1 0.9 3 0.2 1 0.8 3 0.2 1 0.8 4 0.2 1 0.8 4 0.1 1 1 2 0.1 0.4 0.4-0.4 0.4-4 0.1-3.4 2.5 0 1 1 1 3.9 2 0 2-7.1 8 3.6 1.4 2.6-0.4 0.1-3 3.9-4 0.1-2-1-1 0-1 5.3-5.3 1-0.1 1-0.9 2-0.1 1-0.9 3-0.1 1-0.9 5-0.1 0.4-2.6 1.6-1.6 2-0.1 1-0.8 2 0 1 0.8 11 0.2 2.5 1.5 0.5 2.7 2 0 1.3 1.3-3.3 3.3-2 0.1-1 0.9-2 0.1-1 0.9-4 0.1-1 0.9-4 0.1-1 0.9-3 0.1-3.7 2.6 1 1 1.7 0.3 1-0.9 2-0.1 1-0.8 5 0 5 2.1 14 0.1 3.4 2.3 0 3-4.4 4.3-4 2-4 0.1-11-0.1-5-2.9-2-0.1-4 0.1-1 0.9-5 0.2-1 0.8-10 0-1-0.7-1 0.9-2 0.1-1 0.9-11 0-1.5-1.5 5-4 0-1-4.5-2.4-4 0-1 0.9-2.5 0.5-1 2 0 3-2 2 0 2 2 2zM661 735.3l-2 0.2-1-0.9-2-0.1-5-3.9-1-0.1-1.5-1.5 0-1 3.5-1.4 7 0.9 3.1 2.5-0.1 4.4zM505.4 738l-0.4-1.6-1.5 1.6 0.5 0.4zM635 741.4l-3.4-0.4 2.4-1.4 1.4 1.4zM485 756.5l-4 0.1-2-2.3-18 0-1-0.8-5-0.2-1-0.9-3-0.1-1-0.9-1 0-1 2.1-3 0.1-1 0.9-5-0.1-1-0.7-4-0.2-0.6-1.5 1.6-1.6 2-0.9 5.7-0.5-0.7-0.6-2-0.1-1-0.9-3-0.1-3-1.9-1-0.1-0.3-2.3-0.7-0.5-4.4-0.5 2.4-1.5 4 0.1 0.4 0.4-0.9 1 0.5 0.7 11 0 1 0.9 14 0.1 1 0.8 6 0.2 1 0.9 4 0.1 1 0.9 3 0.1 1 0.9 2 0.1 1 0.9 2 0.1 1 1 1.3 1.3-0.9 3 2.6 0.5 0.5 1.5zM516 898.5l-5 0.3-1-1.1-2-0.1-1-1-2-0.1-1-1-2.5-0.5 5.4-1-1.9-3.8-0.3-6.2-4.7-3.2-1.2 0.2 0.8 1-0.6 0.6-12-0.2-1 0.9-4 0-1-0.9-4-0.1-1-0.9-5-0.1-2.3-2.3 0-1 3.3-2.3 0.5-1.7 1.5-1.5 4.3-2.5 0.5-1-0.8-1.1-7-0.4-1 0.8-15 0-1-0.9-2-0.1-2.3-2.3 3.3-3.3 2-1 2-0.1 1-0.9 2-0.1 1-0.9 4-0.2 1-0.8 8-0.2 1-0.8 6-0.1 1-0.9 14 0 1 0.9 4-0.3 3-1.9 2-0.1 1.3-1.3 0.1-2 1.7-3-1.1-1.1-2-0.3-1 0.9-3 0-1 0.9-3 0.1-1 0.8-6 0.2-1 0.8-6 0-1-0.9-2 0-0.4 1.6 2.9 2-0.5 0.5-19 0.1-1-0.9-4-0.1-1-0.9-5.4-1.7-2.7-2-1.9-0.4-13-0.3-1-0.9-2-0.1-2-2.7-1 0.9-2 0.2-1 0.9-4.3 0.4-5.7 7.7-6.5 5.3 0.1 1 10.6 3 2.8 2-0.2 2-2.2 2-7.6 3.5-22 5.8-27 4.4-28 2.3-20-0.6-7-1.8-1.6-1.6 0.2-1 2.3-2 3.1-1.5 11.2-3.5 0.7-1-0.9-0.7-5-0.9-14-0.7-29 0-10-1-7.4-1.7-8.3-3-6.3-3.3-6.8-4.7-6.2-6-3.9-5-5.1-10.5-1.9-11.5 0.3-5 1.6-7.5 4-8.7 6-7.9 9-7.9 10.8-6 9.3-3 13.9-1.8 31-0.2 11.8-1 0.4-1-1.3-1-6.5-2-3.6-2-0.5-1 1.1-1 4.6-1 13-0.2 29.5 2.2-16.5-5-4.1-2-0.5-1 2.6-1.3 7-0.7 14 0.3 16 1.3 18 2.9 7.4 2.5 0.5 1-0.6 1-5.3 3-0.7 1 2.5 2 6.1 3 12.2 4 3.9 2.2 1.8 1.8-1.2 1-3 6 2.4 7 3.8 4 6.2 0.4 1 1 2 0.1 0.6-0.5 0.1-2 2.3-1.4 2-0.1 1-0.8 7-0.2 0.4-0.5-0.4-5.4-2-1-5-0.1-3.6-2.5-0.9-2 0-3 2.5-0.6 9 0.1 1 0.8 3 0.2 2.5 1.5 1 2 0.1 3 1.4 1 5-1.5 5-0.1 4 1 4.2 2.6 7.8 0.3 1-0.8 4 0 1.5 1.5-2 1 0.5 0.6 12 0.1 1 0.8 4 0.2 1 0.8 2 0.1 1 0.9 5 0.5-1.6-3-0.4-2.4-6-2.9-2-0.1-1-0.9-3-0.1-1-0.9-1 0.8-7-0.1-1-0.7-12-0.4-1-0.8-7-0.1-1-0.9-7-1.2-1-0.9-2-0.1-2-1-1.3-1.3 0-2 4.3-2.3 6-0.1 1-0.9 8 0 1 0.8 7 0 0-0.9-3-1.1-2.5-2.5 0.2-3-1.7-0.7-2.3-2.3 0-1 1.3-1.3 1-0.1 1-0.9 2-0.1 1-0.9 3-0.1 1-0.9 11 0 1 0.8 4 0.1 1 0.8 4-0.3 3-1.1 1.8-2 0-4 0.8-3-5.1-1 3.5-0.6 1-1 2-0.3 1-1 7-2.7 3 1 4 2.6 5 0.4 1-0.9 6 0 1.5 1.5 0 4-1.5 1.5-4 2-5 0-0.8 2.5-2.2 2.9 1 0.3 2 2.2 3 1.1 1.5 1.5-1.5 1.5-6.1 1.5 2.1 1.2 12 0.3 1 0.9 6 0.1 2.5-2.5-1-1 0-1 2.5-2.5 7 0 1 0.9 1 0 2-0.9 5-0.1 3-2.9 2-0.1 1-0.9 5 1 2.5 2.5 0 1-1.5 1.5-3.5 0.5 0 2 1 1-1.5 1.5-1 0-1-0.9-7 0-2.4 2.4-0.1 2 0.5 0.4 2 0.1 3.6 2.5 0 2-3.6 2.6-7-1.1-2.5-1.5 5-4-0.5-1.4-10-0.1-1-0.9-4-0.1-5 1.1-5 3-2 0.4-1.8 3-2.8 2 9.6 0.5 1 1 1 0 0.5-0.5-0.1-4 1.6-1.6 4-0.9 1 0.8 3 0.2 1.6 1.5-2.6 2.5-1.4 0.5 0.4 0.4 2 0.9 8 0.2 1 0.9 2 0 0.6 1.6-2.7 2 3.1 1.3 2 0 4-2.9 5 0 2 1.1 5 5.1 1-0.9 3-0.1 1.7-1.6 0-1-1-1-0.2-3 0.5-1.4-2-1.6-3 1.6-4-0.1-1.5-1.5 0-2 2.5-2.6 2-1 3.5-0.4 3.5-2.8 4.2-1.2-1.2-0.1-1-1.4-7-0.2-2-1-0.4-1.3 0.4-1.3 4-2 3-0.2 1-0.8 4-0.2 0.7-0.5-3.2-2-0.1-2 1.6-1.4 3-0.3 1-0.8 9 0 3.5 1.5 0.5 2.6 12 0 1-0.9 3-0.1 1-0.9 9 0 2-2.2 5 0 1.6 1.5-0.6 1.5-1.5 0.5-0.2 1 1 1 0 1-3.3 2.3-3 0.1-1 0.9-4 0.2-1 0.8-11 0.2-2.5 1.5 1 1 0 1-1.5 1.5-13.8 0.5 3.2 2 1.6 2.4 5 0.2 1 0.9 3 0.1 2 1.1 1.3 1.3 0.1 2 0.6 0.3 11 0.2 1-0.9 2 0 4-1.9 4-0.2 1-1 9 0 1-0.8 3 0 1 0.9 3-0.1 2 1.8 3-0.2 0.9 0.9-1 1-3.4 1-5.1 5 3 4 0 2-0.9 1-0.1 1 5.6 0.2 4-4.2 2.4-7-0.4-1.6-2.4-3.4-0.4-3-1.2-0.2-0.5-0.8 1.3-3 1.2-0.3 1 3.3 4-2.5 11.1-3.5 7.7-4 0.9-1-0.7-1-5.3-3-0.6-1 0.9-1.2 8-2.5 17-2.7 17-1.4 15-0.1 6 0.9 1.6 1-0.5 1-4.1 2-16.5 5 29.5-2.2 14 0.3 3.6 0.9 1.1 1-0.5 1-3.6 2-6.5 2-1.3 1 0.4 1 11.8 1 31 0.2 8.6 0.8 8.8 2 8.1 3 5.6 3 5.5 4 8.3 8 5.1 7.5 3.7 9.5 1 6 0.1 6-0.9 6-1.9 6.2-2.3 4.8-4 6-9.1 9-6 4-5.9 3-8.3 3-7.4 1.7-10 1-24-0.2-16 0.7-7.5 0.8-1.4 1 0.7 1 9.9 3 5.8 3 1.1 2-0.6 1-4 1.7-7 1.1-11 0.4-27-1.7-32-4.8-22.5-5.7-9.1-4-2.6-3 0.2-1 2-1.6 11-3.2 0.5-1.2-6.5-5.3-5.7-7.7-3.8 0-0.1 2-3 4 0 1 4.6 3.5 1.5 1.5 0 1 2.4 1 0 1-0.9 0.9-19-0.5-1 1.1-2-2-4-0.2-1-0.9-3-0.1-1-0.8-2 0.2-1 0.9-10 0-3 2.7-3 0.2-1 0.8-4 0-1-0.8-7-0.2-1-0.8-5-0.2-1-0.8-2-0.2-2-1-3.3-3.3 1-5-2.7-1.6-2-0.1-2-0.9-0.4 0.6 0.9 1-0.9 2-5.6 4.6-5 0-3-1.5-3 1.9-1 1.6-2 0.1-1 0.9-8 0.1-2.4 1.3 3.9 3-1.5 1.5-3 0.2-1 0.8-4-0.9-1.6-1.6 0.1-3 1-1 0-1-2.5-2.4-1-0.1-1-0.9-2 0-0.4 0.4 1.4 1.4 3.5 1.6-2.5 1.5-6.6 0.5-0.8 3-1.5 2 6.9 0.5 7 3.9 7 0 1-0.9 12 0 0.6 1.5 2.4 2.4 7 0 1-0.9 1 0 1.5 1.5-1 1 0 2 2.5 0.5 2.5 1.5 0 1-2.5 2.5-5 1-1-0.9-2-0.1-3-2.9-5-0.2-1-0.8-2 0-1 0.9-7 0-2.5-2.5 0.9-1 0.1-1-2.5-2.5-6 0.1-1 0.9-11 0.1-2.6-2.6-0.4-2 1-1-2.8 3-0.2 3 1 0.1 1 1.2 3 0.1 1 1 2 0.1 1.5 1.5-1.5 1.5-3 1.1-1.1 1.4-0.3 1 1.6 5 4.8 0.5 4 2 1.5 1.5 0 4-1.5 1.4-4 0.1-2 0-1-0.9-6-0.6-1 0.9zM453 759.5l-5 0-1.5-1.5 3.5-1.4 1 0.8 2 0.2 0.5 1.4zM424 762.5l-5.7-0.5-0.1-2 2.8-0.6 5 0.1 1.5 1.5-2.5 0.6zM455 775.3l-12 0-1-0.8-11-0.2-1-0.9-3 0-2-1-2.4-2.4 0-1 3.4-3.4 4-1.9 21 0 1 0.8 3 0.2 1 0.9 2 0.1 3.3 3.3-2.3 3.4zM489 774l-4-0.5-0.4 0.5 0.4 0.9zM633 777.5l-4 0.1-0.6-1.6 0.6-0.6 4 0.1 0.5 1.5zM350.3 780l2.5-1-0.7-1-7.1-1.8-11-0.1-6.6 0.9-0.9 1 3.5 1.7 6 1.1 9 0.1zM748.9 780l3.3-1 1.2-1-0.8-1-6.6-0.9-11 0.1-7.1 1.8-0.6 1 7.7 1.8 9 0zM320.8 789l3.5-1-0.2-1-6.1-1.9-8-0.2-7 1.1-1.8 1-0.2 1 2 1.2 7 0.7zM776.9 789l2.2-1 0.2-1-1.4-1-3.9-0.9-11 0-4.4 1.9 0.3 1 2.1 0.9 6 1zM534.5 791l3-2-1.5-0.5-3.5 2.5 0.5 0.4zM657 796.6l-2.6-1.6 0.6-1.6 2-0.1 1-0.9 2 0.1 2.8 1.5 0.1 1-0.9 0.8-4-0.1zM313.9 802l3.1-0.3 4.2-1.7-1.1-1-7.1-0.9-6 0.8-1.9 1.1 0.8 1 2.1 0.7zM658.9 818l1.1-1 0.5-2-3.9-7-2.6-0.4-4-2-4-0.1-1 0.8-13 0-1-0.8-3-0.1-3-1.8-2 2-5 0-3-2.8-5-2.2-2-2.5-1.4 0.9 1 1 0 2-2.6 2.5-1 0-1-1.1-3 1.9-2.7 0.7 7.7 0.4 1 1 2 0 1 0.9 3 0.1 3.6 2.6-0.6 2.3 6 1 3.1 1.7 13.9 0.6 1 0.9 4 0.7 5-0.3 8 0.9zM774.1 801l0.5-1-4.6-1.2-6 0.3-2 0.9 0.2 1 3.8 0.9 6-0.2zM525.3 802l-0.3-1.3-3 0.2-1-0.9 0 2zM472.4 809l3.6-1.6 2-0.1 3.4-2.3-4.4-3.3-3 0-1 0.9-2 0.1-2.5 1.3 0.9 3-0.3 2zM550.4 817l0.6-0.6 3-0.1 1-0.9 3-0.1 1.4-1.3 1-5-2-2-0.4-2-4 0.9-5-0.1-8-2.1-1-1-3-0.1-1.4 1.4 0 1 1.4 1.3 1 0.1 1 0.9 2 0.1 1 0.9 7 0.1 1 0.9 2 0.1 1.6 1.6-2.6 2.6-7.4 3.4zM458.7 821l3.3-0.5 1-0.8 4-0.2 1-0.8 4-0.2 0.4-0.5-4.4-0.4-1-0.9-3-0.1-1-0.9-3-0.1-1-0.9-11-2-3.6-2.7 2.3-2-6.7-0.7-1-0.8-3-0.2-1-0.9-0.4 2.6-4 4-0.1 3 1.1 1-1 1 0.4 0.9 9-0.6 1-0.9 10 0 2 1 2.6 2.6 0.4 1.7zM538 820l4.4-2-4.4-0.4-6-3.9-2-0.1-1-0.9-3-0.1-2.6-1.6 3.6-3.6 1.4-0.4-2.4-1.3-2 0-8.2 4.3 2.1 2-0.1 2 1.2 2.2 4 2.4 5 1.2zM378 817l2.3-1 0.3-2-1.6-1.9-2-0.9-5 0-4.2 2.8 0.1 1 4.1 1.8zM709.2 816l2.2-1 0.6-1-0.5-1-3.5-1.8-5 0-2 1-1.4 1.8 0.4 1.5 2 1 4 0.3zM495.8 818l-1.5-2-0.5-2-1.8-0.3-3 2.9-3.4 1.4 0.4 0.5 3 0zM595.4 816l-0.4-1.4-10.7 0.4 0.7 0.5 8 0.2 1 0.8zM429.7 818l-7.7 0-1-1.1-1 0.1 3 1.4zM560.4 828l6.6-2.7 1.4-1.3 0-1-1.4-1.3-3-1.1-1-0.9-2-0.1-1-0.9-3 0-1 0.9-2 0.1-0.4 1.3 3.4 1.4 0.6 1.6-3.6 1.6-0.4 1.4 2.4 0.4 1 0.9zM653.4 840l0.6-0.6 4.2-0.4 1.8-4-0.9-2-1.1-0.9-3-0.6-11 0.4-6-2.1-4-0.4-1-0.9-7-0.1-1 2.1-8 0.1-1-0.9-2-0.1-2-0.9-3-3-4-2.6-1.4-3.1-2 0 2.3 2-0.4 2-2.1 2 0.2 1 9.4 4.4 2 1.9 1 0.1 2 2.5 6 0.7 5 2.7 5 0.2 1-0.9 10 0 2 0.9 3 0.1 1 0.9zM435.6 839l2.4-0.5 1-0.9 4-0.1 5-3 4-0.2 1-0.9 3 0 1-0.9 3-0.2 1-0.9 2.4-0.4-0.4-0.6-2-0.1-3-1.9-2-0.1-1-0.7-2 2-2 0-1 1-8 0-1-0.6-5 1.8-6 0.2-0.4 2 5.4 5.6zM595.4 832l0-2-1.4-1.4-2 0.1-1 0.9-3 0.1-1 0.9-10.4 0.4 2.4 1.3 14 0.2zM556.3 844l2.1-2 0-2 2-2-1-5-1.4-1.3-7-1.1-1-0.9-4.3 0.3-0.7 1 6 2.4 1.7 1.6-0.1 2-0.6 0.6-2 0.1-1 0.9-7 0.1-1 0.9-2 0.1-1 0.9-1 0-1.4 1.4 0 1 1.4 1.4 4-0.1 1-0.9 7 0 1 0.8zM377.1 836l2.7-2-0.4-2-1.4-1-6 0-3.3 2 1.1 2 2.1 1zM499.3 835l-0.3-1.3-5.3-2.7-1.7-0.4-1.4 1.4 1.4 1.3 2 0.1 1 0.9 3-0.1 1 1.1zM707.9 836l3.6-2 0.5-1-0.5-1-2.5-1.2-5-0.7-3 0.7-0.9 1.2-0.1 2 2 1.8zM314.5 837l0.8-1-1.3-1-4-0.9-5 0.7-2.5 1.2 0.4 1 2.1 0.7 6 0.1zM527.4 841l1-1-1.4-0.4-3.7-3.6 0.7-0.9 2 0.2 0-1.1-8 0.6-1 1.1-2.1 0.1 0 1 1.1 0.1 1 0.9 2 0.1 5 3.2zM778.4 837l0.4-1-0.8-0.5-4-0.9-5 0.2-3.4 1.2 0.4 1 4 0.9 6-0.1zM476.6 845l1-1 0-1 2.1-2-3.7-2.3-3-0.1-1-0.9-4 0.2-1-1.2-2 0.2-1-1.2-6.4 0.3 0.4 1.1 6 0.2 4 1 4.1 2.7 1.9 4.1zM605 841l0.6-1-3.1 1 0.5 0.4zM521.1 847l0.9-0.9 3 0.2 0.4-1.3-4.4 0-0.8 2zM622.6 853l6-3-3.6-0.3-1-0.8-5 1.1-6-0.2-7-2.9-2.6 2.1 4.6 0.4 5 2.9zM442 864.5l-10 0-0.4-2.5 0.8-1 0.1-2 1.5-1.5 2-0.1 1-0.9 4-0.1 2-1 1.4-1.4 0-2-0.9-1 0.5-1.5 3-0.1 1 1 5 2.1 0.5 1.5-3.9 4 0 3-3.6 2.6-3 0.1zM662 853.7l-6-0.1-1.6-1.6 0.6-0.6 6-0.3 1.9 1.9zM771 859l3.9-2 0.2-2-3.1-0.8-11-0.4-8.8 0.2-4.1 1 4.3 3 4.6 1.4 8 0.5zM324.2 859l10.1-2-7.4-2-6.9-0.6-8 0.6-3 1-0.9 1 1 1 2.9 0.9 6 0.5zM388.5 863l4.8-1 1.9-1-0.8-1-3.5-1-4.9-0.8-8-0.3-11 0.9-2.8 1.2-0.4 1 1.2 1.5 4 0.8 10 0.3zM711.9 863l3.3-1 0.6-1-0.3-1-2.5-1.3-5-0.7-14 0.2-8.4 1.8-0.8 1 5.2 1.8 5 0.5zM579 866.5l-3 0-2-0.9-2.5-3.6 2.5-2.5 2-0.1 1 0.9 2 0.1 2 1 1.6 1.6-0.1 2zM561 868.5l-3 0-5.5-4.5 2.5-1.5 3-0.1 1-0.9 3 0 2 0.9 1.5 1.6 0 2-1.5 1.5-2 0.1zM357.6 869l4.6-1 1.8-1 0.5-1-0.3-1-1.2-0.9-3-0.7-13 0.1-7 0.8-3.2 1.7 0 1 2 1 5.2 0.9zM735.6 869l5.6-1 1.6-1-0.8-1-4-1.4-12-1.2-8 0.4-2 1.1-0.5 1.1 0.5 1 1.8 1 3.2 0.9zM633 871.5l-4 0-0.5-1.5 0.5-0.5 4 0 0.5 0.5zM451 881.3l-19 0-6-2.9-2-0.1-1.4-1.3-0.1-3 3.5-2.5 3 0.1 1-0.9 22-0.1 2 0.1 4 2 2.3 2.3 0 2-2.3 2.3-2 0.1-1 0.9-3 0.2zM631 882.3l-8 0-1-0.9-4-0.1-1-0.9-7 0.9-1-0.8-9-0.2-1-0.8-13-1.2-1-0.8-3-0.2-1-0.8-2-0.2-2-1-1.4-1.3 0-1 1.4-1.3 2-0.1 1-0.9 30-0.2 3 2.1 3 0.1 1 0.8 9 0.2 1 0.8 4 0.2 1 0.8 3 0.2 2 1 2.3 2.3-1.3 1.3-2 0.1-1 0.9-3 0.1zM600 886.5l-9 0-1-0.8-2-0.1-2.5-1.6 0-2 3.5-1.6 5 0 9 2.1 0.4 2.5zM637 886.5l-4 0-2.5-1.5 0-1 1.5-1.5 4 0 2.5 1.5 0 1zM426 887.4l-6 0.1-1.7-0.5-0.2-1 0.9-1.2 4-0.3 1 0.9 3 0.2 0.4 0.4zM544 922.4l-7 0-1-0.8-4-0.1-0.5-1.5 1.5-1.5 6-3 2-0.1 2-1 3-2.9 2-1 3-0.1 5-4.9 1.4-0.5 0-2-1-2-2.4-2.5-2-1-2 1-0.5 1.5-2.5 2.5-5.5 2.5-0.1 1 2 2-1.4 1.4-3.4-2.4 1-1-1.6-1.5-2.4-0.5-0.1-3 1-1 0-2 1.5-1.5 7-3 1.5-1.5 1-3 2-2 0-1 2.5-1.5 6 0 0.5 0.5-2 2 0 2 1.9 2 0.1 3 1 2 2.5 0.6 1 0.8 4 0 4.6-2.4-0.1-1-5-4 1.5-1.5 11 0 1 0.9 1-0.7 2-0.1 1-0.9 10 0 1 0.8 7 0.2 2 0.9 1-0.9 3-0.1 1-0.9 3-0.1 1-0.9 6-0.1 1-0.9 3 0 1 0.9 4 0.1 1 0.9 2 0.1 2.3 2.3 0.1 1 1.9 3 0 1-3.3 3.3-5 0.1-1 0.9-7 0-3 2.3-2.5 0.4-0.2 1 0.7 0.6 3 0.1 1 0.9 2 0.1 3 2 1 0 2.3 2.3-0.3 1.3-1 0-2.5 1.7 0.9 1 0.1 3-2.5 1.5-11 0.2-2 0.8-4-0.9-1.6-1.6 0-1 0-1 2.1-2-0.5-0.6-7-0.1-1-0.9-3-0.1-1-0.9-2-0.1-4-2-4.3-3.3 0-2 2-2 0-1 0-1-2-2-0.1-1-1.6-1.4-4 0-1 0.9-2.6 0.5 1.6 0.5 3.4 3.5 0.2 1 2.9 3 0.1 1-0.6 1.5-3.5 1.5-0.9 1 0 1 3.4 2.5 3 0.1 0.4 0.4-0.4 0.4-1 0.1-1 1-4 0.1-1 0.8-5 0.2-1 0.9-3 0.1-4 1.9-3 0.1-4 1.9-2 0.1-1 0.9-2 0.1-1 0.9-4 0.1zM452 889.5l-5 0-0.5-0.5 1.5-1.4 5-0.1 0.5 0.5zM444 902.3l-10 0 0-2.6 4.7-1.7-3.7-1.4-1.6-1.6 0.2-1 5.4-0.7 1-0.7 4 0 1 0.8 4 0.2 1-0.9 4-0.2 1-0.8 6-0.2 1-0.8 17 0 1 0.8 1-1 2-0.1 2.5 0.6-0.5 1.5-2.7 0.5 0 1-2.3 2.3-4 2-3 0.2-1 0.8-5 0.2-1 0.8-5 0.2-1 0.8-15 0.1zM371 900l-11 0.4-10-0.7-7.4-1.7-1.5-1 0-1 1.9-1.2 5-1.3 14-1 14 1.1 5 1.2 1.8 1.2 0 1-1.8 1.2zM727 900l-11 0.4-10-0.7-7.4-1.7-1.4-1 0-1 1.8-1.2 5-1.2 14-1.1 14 1 5 1.3 1.9 1.2 0 1-1.9 1.2zM516 1000.1l-6-0.3-4-2.3-2.5-4.5 0.2-5-1.7-0.5-1 0-1 0.9-4 0.1-1 0.8-7 0.2-1 0.8-34 0-1-0.8-4-0.2-3-1.9-1-0.1-2.3-2.3 2.3-2.3 3-0.1 1-0.9 8-0.1 1-0.9 4-0.1 1-0.9 5-0.2 1-0.8 21-0.2 1-0.8 10 0 1 0.8 4.4-0.5-0.6-1-4.8-0.5-1-0.9-2-0.1-2-1-0.5-1.5 1.5-1.5 8-1.5 4.1-6 0.9-0.9 1.1-0.1-0.1-1-1.2-1-2.5-2-2.3-0.4-1.6-1.6 1.3-2-0.4-3 0.8-4-2.1-0.4-0.6-1.6 3.6-2.6 3-0.3 1-1 1.6-0.1-4.9-6-1.3-7 4.6-5 6-3-7-4.1-2.2-2.9-0.8-2.5-2 1.9-1.6 0.6 0.1 1 1.5 0.5 1.5 1.5-0.5 1.5-9-0.1-0.4-0.4 0.9-1-0.5-0.6-2 0.9-2 0.1-2.7 1.6 0 3-1.9 2-0.1 1-1.3 0.4-2 1.9-2 0.1-1 0.9-15 0.2-2 2.9-3-0.9-1-1.1-5 0-1 0.9-6 0.1-0.4 0.6 1.9 2-0.5 2.5-7 0-3.5-2.5 0-1 0.9-1-0.4-1.6-3-1.1-2.3-2.3 2.3-2.3 2-0.1 0.7-0.6-2-3-0.1-3 0.1-1 2.3-2.3 4-2 10-2.3 1-0.9 12 0.2 1 0.9 3 0.1 1 0.9 5 0 2-0.9 3-0.2 1-0.9 3-0.1 1-0.8 6-0.2 1-0.8 7 0 1 0.8 4-0.1 1.4-0.4 1.6-2.9 2-1.9 6-2.8 3 1 4 2.6 8 0.5 2.5 1.5 1 5 1 1 0 1-1.5 1.4-5 0.1-3-1.4-1.2 2.9-1.8 2-7 4 4 1.7 3 2.2 2.3 3.1 0.7 3 1 0.3 2.4-1.3 0.1-1 2.5-2.5 13 0.1 0.5 2.4-5.5 4.5-1.4 2.5-0.1 5 1.9 2-0.4 1.5-2 1-10 0-1-0.9-2-0.1-3-1.9-2.5 0.4 3.8 4 1.4 3 9.3 0.6 1.5 1.4 0 1-1.9 2-1.6 3.4-2 0.2-1 0.9-8.3 0.5-2.4 2 0.2 1 1.3 1 2.2 0.3 9-0.9 1-0.9 5-1.1 5-2.9 3-0.1 2 0.1 1 0.9 3 0.2 1 0.8 3 0.1 0.5 2.5-1.5 1.5-12 0.1-1 0.8-4 0.2-1 0.8-12.8 0.6 1.9 4 1.5 1 0 1-6.2 9 3.8 7 0.3 5-0.7 2-1.7 2-2.1 1.3zM607.6 902l-2.6-0.4-1-0.9-1.7 0.3 2.7 1.6 2 0.1zM432 906.5l-3-0.1-2.4-1.4 5.4-0.5 0.5 1.5zM634 907.4l-2.4-1.4 2.4-0.5 0.5 0.5zM654 920.4l-5-0.9-0.5-1.5 7.5-5.5 2-0.1 1-0.9 2.7 0.5 0.5 4-0.9 2-2.3 1.5-4 0.2zM527 923.4l-6 0.6-0.9-1 0.9-0.6 2 0 1-0.9 2 0 1.4 1.5zM638 947.3l-34 0-1-0.8-4-0.2-1-0.8-2-0.1-4-2.1-1.3-2.3 2.9-3 0.1-2-4.7-2.6-5-1.1-4-2-2.3-2.3 0-2 1.3-1.3 2-0.1 1-0.9 4-0.1 10 0.1 1 0.8 18 0.2 1 0.8 4 0.2 4 2 2.3 2.3 2.2 1 0 2-0.5 0.5-2.7 0.5 0 1-1 1 0.7 0.6 2 1 2 0.1 1 0.8 3 0.2 1 0.9 2 0.1 4 2 1.3 1.3 0.1 2zM468 940.5l-2 0-2-1-1.5-1.5 0-1 2.5-1.4 2 0 2 0.9 0.4 2.5zM567 956.5l-6 0-6-3.1-0.6-1.4 0-1 2.6-2.5 1-0.1 4-2.9 4-1 0.5-1.5-2.5-1.4-2-0.1-1-0.9-3-0.1-1-0.9-4-0.2-1.5-1.4 0.5-0.5 1 0 1-1 2-0.1 1-0.9 9 0 9 3.9 5 0.1 1.5 1.5-0.5 1.5-2 1-2 0.1-2.5 1.4 0 1 1 1-0.1 3-5.4 2.6zM450 950.3l-3 0-1-0.9-5-0.1-0.3-1.3 2-1 0-2 1.3-1.3 2-0.1 1-0.9 5-0.2 1-0.8 3 0 7 0 1 0.8 4 0 1-0.8 3-0.1 1-0.9 5 0 1 0.9 1-2.1 4-2 4-0.1 2.6 1.6-0.1 2-1.5 1.4-3 0.3-1 0.8-2 0-2-0.9-2 1.7-1 0-5 3-5 0.2-1 0.8-7 0.2-1 0.8-8 0.1zM438 945.6l-9-0.2-2-1.7-1-0.1-2.5-2.6 1.5-1.5 13 0 2 1 0.6 1.5 0 1zM422 954.5l-4 0-0.9-3.5 0.2-3 0.7-1.2 3-1.3 5 0 1 0.8 3 0.2 1.6 1.5-0.1 3-2.5 2.5-6 0.2zM630 952.4l-1.4-1.4 0.4-0.4 2.4 0.4zM625 962.3l-12 0-1-0.9-1 0-1 0.9-15 0-1-0.8-10-0.2-1-0.9-3-0.1-1-0.9-2-0.1-1.3-1.3 0-1 1.3-0.3 3-3 23 0 1 0.9 2 0 2-2 1 0 2 2.1 2 0 1 0.9 6 0.1 1 0.9 2 0.1 1 0.9 2 0.1 2.3 2.3zM455 969.3l-9 0-1-0.9-2-0.1-1.3-1.3 0-1 1.3-1.3 2-0.1 1-1 2-0.1 1-0.8 5-0.2 1-0.8 7-0.2 1-0.8 7-0.2 1-0.8 6-0.1 1-0.9 11 0 1 0.9 3 0.1 1.3 1.3 0 1-1.3 1.3-1 0.1-1 0.9-2 0.1-1 0.9-4 0.1-1 0.9-4 0.2-1 0.8-6 0.2-1 0.8-15 0.2zM655 968.4l-4 0-3-0.9-2.6-2.5 0-2 1.6-1.6 3-1 8 0.1 3 1.3 0.8 1.2-0.5 2-3.3 2.5zM429 974.5l-8 0.1-1.5-1.6 0-2 2.5-2.6 1-0.1 4-2.8 7 0.1 0.4 2.4-0.8 1-0.1 2-2.5 2.5zM564 969.4l-4-0.9-1.5-1.5 0-1 0.5-0.5 6 0 2.5 1.5-0.5 1.4-2 0.1zM579 972.4l-3-0.9-2.5-2.5 1.5-1.4 3 0 2.5 2.4 0 1zM622 979.3l-38 0-1-0.9-3-0.1-1-0.9-2-0.1-1.3-1.3 0-1 1.3-1.3 3-0.1 1-0.9 11-0.2 1-0.8 15-0.2 1-0.1 2-1.9 3-0.1 2.5 1.6 0.5 1.6 2 0.1 1 0.8 4 0.2 1 0.9 2 0.1 1.3 1.3-0.3 1.3-1 0.1-1 0.9-3 0.1zM452 980.5l-6-0.1-1-0.7-2-0.1-4-2-3.5-3.6 0-1 1.5-1.4 2-0.3 1-0.8 6 0.1 6 3.9 3.5 3.5-1.5 1.6zM565 985.4l-8 0.1-1-0.9-2-0.1-4-2.9-3-1.1-0.6-1.5 1.6-1.5 10 0 4 1.8 3 0.2 1 0.9 2 0.1 1.4 1.5-2.4 2.5zM597 997.5l-3 0-1-0.8-4-0.2-1-0.8-2-0.1-2.6-1.6-0.9-1 0-1 2.5-2.6 2-0.9 4-0.1 1 0.9 2 0.3 4.5 5.4 0 1zM534 1004l-4 0.8-5-0.1-2-1-0.4-2.7 0.8-2 2.6-1.6 2-0.1 1-0.8 6 0.1 2 0.9 1.5 1.5 0 1zM505 1000.5l-7 0-0.5-1.5 2.5-1.5 4 0 2.8 1.5zM554 1004.4l-5 0.4-4.3-0.8 1.3-1 4-0.2 2 1 2.8 0.2z"/>
<path fill="#0000b1" d="M535 650.2l-6 0.1-5-1.8-1.4-2.5-0.1-4 1.8-1 3.7-0.2 4 0.6 3 1.4 3.3 4.2-0.1 1-1.2 1.3zM551 644.2l-5 0-1-1-1.8-0.2 0.4-1 1.4-0.5 6-0.9 13 0.5 4.4 0.9 0.1 1-1.5 0.1-2-0.1-1-0.9-6 0.1-1 0.8-5 0.4zM516 722.1l-4-0.4-4-2.7-3-0.6-1.4-1.4 2.4-1-0.5-3 0.6-3 1.9-2.9 2.6-2.1-1.6-0.2-1-1.2-3-0.3-3.4-2.3 0.4-1.4 2-0.1 1-1.3 1.1-0.2-1.7-3-0.4-3-1.5-2 1.5-1.7 1.5-0.3 2.5-2.5 3-1.5-2-0.2-0.5-0.8 1.5-1.9 1-0.1-3-1.7-2.2-2.3-9.8-1.7-1.4-1.3 0.4-1.3 2-1 7.8-1.7 3.5-5-1.3 0.9-2-0.6-1 1-35-0.3-1-0.7-5-0.2-1-0.8-8-0.3-1-0.8-5-0.2-4-2-0.1-2 2.1-2 3-0.2 1-0.9 6-0.2 2-0.7 24 0 1 0.7 8 0.2 1 0.8 6 0.2 1 0.8 5-0.5 1 0.8-0.9-5 1.6-4-0.7-0.2-1 0.9-4-0.4-2.3-1.3 0.3-1.3 7-0.2 2 1.1 3-1.6 4-0.7 4 0.8 3 1.9 1.5 3 0.1 4-1.1 3-3.7 5 4.4 5 1.1 3 2.2 3-0.1 1-2.9 1-2.5 3.1-3.3 1.9 2.3 0.3 1-1.1 13 0.4 7 1.2 1 0.7 12 0.2 1.3 1.3 0 2-3.3 0.4-1 0.8-3 0.2-1 0.9-5 0-5-2.8-5-1.2-1-0.8-5-0.2-1-0.8-9 0.4 0 0.6 5.7 3.5 7.3 0.6 1 0.9 2 0.3 1.2 1.2 0.2 2 1.9 2 0 1-1.3 1.2-11 0.7-2 2.4-4 2.6 1 2.1 4 0.3 3-1.6 2-0.1 2-1 9 0.1 2 1 0.2 1.3-1.9 2 0.2 5 1.5 2.6 5.4 4.4-0.4 2.2-13 0.1-5-4.7-2-0.4-1.3 2.8-1.7 1.9zM591 658.4l-4 0-2-1-2.3-2.4 0-1 3.3-2.4 7-1.1 1-0.8 3 0 1.3 1.3 0 1-1.8 2-0.2 1-2.3 2.2-2 0.4zM559 669.2l-11 0.2-2.2-1.4 1.2-1.3 3-1.2 2-1.7 5-2.1 8 0.1 2 0.9 2.2 2.3-1.2 1.3-2 0.2-1 0.8-2 0.2zM614 677.4l-3 0-2.4-2.4-0.6-1.8-2 0.1-1 0.7-4 0-1-0.7-21-1.2-3-2.1 3-2.1 2-0.1 1-0.9 5-0.1 1-0.8 14-0.1 1-0.9 10 0 3 1.8 5 0.2 1 0.8 3 0.2 1.1 1 0 1-2.1 1.1-2 0.1-1 0.8-5 0.2-1 0.8 1.3 1 0 2zM489 686l-6 0-1-0.8-10-0.2-1-0.7-11-0.3-1-0.7-7-0.3-1-0.7-3-0.2-1-0.9-2-0.1-2-1-1.1-1.1 0-1 1-1-5.9-1.8-1.3-1.2 0-1 3.3-3.4 4-2 4-1 5 0.1 2 0.9 1.3 1.4-3.3 3.3-4.5 2.7 0.5 0.9 6 0.1 1 0.7 16 0.3 1 0.7 6 0.2 1 0.8 4 0.2 1 0.9 3 0.1 1 0.9 3 0.1 3.1 2.1 0 1-1.1 1.1-3 0.1zM434 681.2l-6 0.2-3-1.1-4.5-3.3-1.2-2 0.4-1 1.3-1.4 2-0.1 6 0.1 2 1 2.3 2.4 0.2 2 0.7 1zM578 679.2l-3 0-1.3-1.2 2.3-2.3 3-0.9 1.3 1.2 0 1zM565 681.3l-6 0-0.3-1.3 1.3-1.3 4-0.9 1 0.8 2.2 0.4 0.1 1zM658 686.4l-9-0.2-2-0.8-1.4-1.4 0-2 2.4-2.3 3-0.9 3-0.2 4 1 2 1.3 1.4 2.1-0.6 2zM592 692l-3 0-1-0.8-8-0.2-1-0.8-4-0.2-1-0.9-2 0-1-1.1 3-2 2-0.1 1-0.9 4-0.2 1-0.8 20-0.2 1-0.8 19-0.1 3 0.1 3 2-2 2-2 0.1-1 0.9-4 0.2-1 0.9-5 0.1-1 0.8-7 0.2-1 0.8-11 0.2zM566 711.3l-10-0.1-4.3-2.2 1.3-1.2 4-0.2 1-0.9 3-0.2 5.7-2.5 0.1-1-0.8-0.7-6-2-5.4-4.3 0.4-2.2 6-3.1 6 0 2 2.9 6.2 3.4 0.1 3-1 1 0 1 2.7 1.6 2 0.1 2 1 1.2 1.3-2.2 1.3-5 0.2-1 0.8-2 0.1zM609 694.2l-2.2-0.2-0.1-1 1.3-1.2 2.2 0.2 0 1zM426 701.2l-5 0.1-2.8-1.3-0.8-4 0.9-3 2.7-0.4 3 0.9 5 0.2 2.4 2.3-0.4 3.4-1 0.9-3 0.3zM474 703l-19 0-1-0.8-4-0.1-6-2.9-3-0.2-2-0.9-1.1-1.1 0.1-1 4-0.2 1-0.8 11 0 1 0.7 6 0.2 1 0.9 4 0.2 1 0.8 4 0.1 1 0.9 3 0.1 3 2.1-1 1.1-2 0.1zM631 696.2l-2 0-0.2-1.2 2.2-0.2zM607 721l-24 0.1-1-0.9-2-0.1-1-1-0.1-2.1 2.1-2 4-2.1 5-1.1 1-0.9 2-0.1 2.9-1.8 0-1-3.9-3-0.1-2 2.1-2 2-0.2 1-0.9 3-0.2 1-0.8 5-0.2 1-0.8 26-0.1 3 0.2 1 0.8 2 0.1 2 2.1-1 2-7 3.1-3 0.1-4 2.8 0.1 1 1.9 2 0.4 3-0.4 1.3-7 1.9-1 0.9-2 0.1-1 0.8-9 0.3zM438 707.3l-12 0.1-1-0.1-1.3-1.3 3.3-3.2 2-1 8-0.3 1 0.1 2.4 2.4-0.1 2zM488 709.4l-4-0.1-2-0.8-2.3-1.5 0.1-2 4.2-1.3 5 1.1 1.4 1.2 0 2zM467 711.2l-2 0-2-0.9-0.3-1.3 3.3-2.3 2 0 1.2 1.3 0.1 2zM530 743.3l-7 0.2-1-0.7-6 1.1-4-0.4-4-2.7-1.3-1.8-1-3-0.7-0.2-0.4 1.2-1.2 1 2.4 1-0.8 0.4-6-0.1-1-1-9-0.2-1-0.8-5-0.3-1-0.8-3-0.2-1-0.8-3-0.1-1-0.9-3 0-1 0.8-5 0.2-1 0.9-3 0-3 2.2-6-0.1-7-3.9-5-1.3-2.1-2-1-1 0.1-4 1.9-2-0.9-0.9-3-0.1-3.1-3 0.1-2 3-2 2-0.2 2-3.2 2-1 2-0.1 5 0.2 1 3.1 5 0.1 1 0.9 8 0 1 1 1 0 2-0.8 12 0 1 0.8 3 0.1 1 1 2 0.1 1.1 1-0.1 6-0.9 1 0.9 0.9 2 1 3 0.1 1 0.8 5-0.2 1-0.8 1 0.8 4 0 0.4 1.4-1.2 2 1.8 1.3 0.9-0.3 1.4-3 1.7-1.8 3-1.8 3-0.5 3 0.5 3 1.7 2.5 2.9 0.9 3 2.6 0.5 1-0.8 5 0.1 1.3 1.2 0 1-0.9 1-0.2 3-0.9 2zM526 725.3l-2 0-1-0.9-2.4-0.4 6.4-0.2zM558 762.3l-7-0.1-2.2-2.2-2.1-5-1-1-7.7-3.7-1.3-1.3-0.1-2-0.9-2 0.1-2 3.2-1.3 0.8-0.7-1-1 3.2-2.2 1 0 0.2 1.2-2 2 0.1 1 2.7 1.6 2 0.2 5 4.9 3 0 1-1 2.6-3.7 0-2-1.6-0.7-5-4.8-3-0.2-2-1-3-2.9-4-1.1-6-3-1.3-1.3 0.3-1.3 3-0.1 1-0.8 9 0 1 0.8 3 0.1 1 0.9 2 0.1 1 0.8 2 0.2 4 1.8 3 0.2 1 0.8 3 0.3 5 1.8 4 0.2 1 0.8 4 0.1 1 1 2 0.1-4 0.6-3.6 2.6 0 1 1 1 3.6 1.7 0.4 1.3 0 1-3 3-0.2 1-4 4 3.8 1.5 2.9-0.5 0-3 4-4 0-2-0.9-1 0-1 5-5.1 2-1 2-0.1 1-0.9 3-0.1 1-0.8 5-0.2 0.6-0.8 0-2 1.4-1.4 3-0.8 2-0.1 1 0.7 11 0.3 2.3 1.3 0.7 2.9 2 0.1 1 1-3 3-2 0.1-1 0.9-2 0.1-1 0.9-4 0.1-1 0.9-4 0.2-1 0.9-3 0.1-2 0.9-1.9 1.9 1 1 1.9 0.5 4-1.7 5-0.1 5 2.1 14 0.2 3.1 2 0 3-4.1 4-4 2-7 0.2-8-0.2-5-2.9-2 0-4 0.1-1 0.8-5 0.3-1 0.8-10 0-1-0.7-4 1.9-11 0-1.3-1.3 5-4 0.1-1-4.8-2.6-4 0.1-3.7 1.5-1 2 0 3-2 2 0 2 2 2zM660 735.2l-4-0.9-5-3.8-1-0.2-1.3-1.3 0-1 3.3-1.2 7 0.9 2 1.3 0.9 2-0.4 3zM635 741.2l-3.2-0.2 2.2-1.2zM485 756.4l-4 0-2-2.3-18 0-1-0.8-5-0.3-1-0.8-3-0.1-1-0.9-1 0-1 2-3 0.3-1 0.7-5 0-1-0.6-4-0.3-0.4-1.3 1.4-1.4 2-0.8 5.9-0.8-3.9-1.8-3-0.2-4-2 0-2-1-0.7-4.2-0.3 2.2-1.3 4 0.1-0.7 1.2 0.7 0.9 11 0.1 1 0.8 14 0.1 1 0.8 6 0.3 1 0.8 8 1.1 4 1.9 2 0.2 2 2 0 1-0.9 1 0.1 1 2.8 0.7zM514 898.8l-3-0.2-1-1-2-0.2-1-0.9-5.3-1.5 5.3-0.8 0.1-1.2-1.4-3 0.1-6-0.5-1-5.2-3-1.5 1 0.8 1-0.4 0.4-12-0.2-1 0.8-4 0-1-0.8-4-0.2-1-0.8-5-0.2-2.1-2 0.1-1 3-2.1 0.7-1.9 1.3-1.3 4.5-2.7 0.6-1-1.1-1.4-7-0.3-1 0.7-15 0-1-0.9-2-0.1-2-2 3-3.1 2-0.9 2-0.2 4-1.9 4-0.2 1-0.7 8-0.3 1-0.7 6-0.2 1-0.8 14-0.1 1 0.9 4-0.4 3-1.8 2-0.2 1.5-1.4 0.1-2 1.6-3-1.2-1.3-2-0.3-1 0.9-3 0-1 0.8-3 0.2-1 0.7-6 0.3-1 0.7-6 0-1-0.8-2-0.1-0.6 1.9 1.6 1.6 1 0.1 0 0.6-19 0.2-1-0.9-4-0.1-1-1.3-4-1.2-3.1-2-2.9-0.6-13-0.4-1-0.8-2-0.2-2-2.6-4 2.1-5.8 0.5-8.2 8.6-5 2.6-5 1.3-6 0.2-18-1.4-14-0.1-6.4 0.8-2.6 3-4 0.8-15 0.3-16 2.5-44 1.1-8-0.4-10.1-2.3-13.9-6.7-4.5-3.3-4.3-6-5.2-4.5-2-3.5-2.4-8 0.1-4-1-5 0.9-7 3.8-10 5-5 2.8-5 9.8-8.3 6.1-3.7 5.9-2.5 8-1.8 8-0.9 34-0.7 9 0.4 10 2.7 8 1.2 8 0.1 12-0.8 3-0.7-0.5-1-1.9-1-7.6-1.7-23.8-1.3 0-1-1.8-1-8.9-3-3-2 0.4-1 3.1-0.9 8-0.4 13 0.9 24 3.1 11.3-0.7-1.3-1-23.6-5-5.7-2-1.2-1 0.6-1 5.9-0.9 13 0.1 15 1.3 14 2.4 6.4 2.1 0.8 1-1.2 1.3-9.4 2.7 0.7 1 23.8 9 3.2 2 1.1 2-0.2 1-4.1 4 0 1 2.9 3.5 2.4 4.5 5.6 4.9 1-0.7 6 0.4 1 1 2 0.1 0.9-0.7 0.1-2 2-1.1 2-0.1 1-0.9 7-0.1 0.6-0.8 0-5-0.6-0.6-2-0.9-5-0.2-3.4-2.3-0.9-2 0-3 2.3-0.4 9 0.1 1 0.8 3 0.2 2.3 1.3 1 2 0.2 3 1.5 1.1 8-1.2 4 0.5 5.1 2.6 2.9 0.4 6 0.1 1-0.8 4 0 1.3 1.3-1.9 1 0.6 0.8 12 0.1 1 0.8 4 0.2 1 0.8 2 0.1 1 0.8 5 0.6-1.5-3.2 0-2-6.5-3.4-6-1.2-1-0.8-1 0.6-7 0-1-0.6-20-1.5-1-0.8-7-1.2-1-0.9-2-0.2-2-1-1-1 0-2 4-2.1 6-0.1 1-0.8 16 0.7 0.5-0.7-0.5-0.5-3-1.2-2.3-2.3 0.3-3-2-1-2.1-2 0.1-1 1-1 2-1 2-0.1 1-0.9 3-0.2 1-0.8 11 0 1 0.7 4 0.1 1 0.8 3-0.3 1 0.5 2.3-0.8 2.5-1 0.8-1-0.1-5 1-3-5.7-1 3.2-0.4 1-1 5-1.5 1-0.9 4-0.4 4 1 3 2.2 1-0.7 4 0.2 1-0.8 2-0.1 4 0.1 1.3 1.3 0 4-2.3 2.2-2 0.2-1 0.9-5.7-0.3-1 3-1.5 2 0.2 1.2 7.4 4.8-1.4 1.4-6.3 1.6 0.2 1 2.1 0.9 1-0.6 9 0.3 2 0.1 1 0.8 6 0.1 2.6-2.6-0.9-1 0-1 2.3-2.3 7 0 2 0.9 2-0.9 5-0.1 3-2.9 2-0.2 1-0.8 5 1 2.4 2.3 0 1-1.4 1.2-3 0.2-0.7 0.6 0.1 2 0.9 1-1.3 1.3-1 0-1-0.9-7 0-2.6 2.6-0.1 2 0.7 0.6 2 0.1 3.4 2.3 0 2-3.4 2.4-7-1-2.4-1.4 5.1-4 0-1-0.7-0.6-10-0.1-1-0.9-5-0.1-4 1.2-5 3-2.9 0.5-2.1 3.2-5.8 2.8 2.8 0.3 1-1.1 10 0.5 1 1 1 0 0.7-0.7-0.1-4 1.4-1.4 4-0.9 1 0.8 3 0.2 1.4 1.3-2.4 2.3-1.6 0.7 0.6 0.6 2 0.9 8 0.1 1 0.9 2 0.1 0.4 1.4-2.6 2 0.1 1 3.1 1 2-0.6 4-2.8 5 0 2 1.1 5 5.1 1-0.8 3-0.2 2-1.8-1.2-3 0.5-4-2.3-1.1-3 1.5-4-0.1-1.3-1.3 0-2 2.3-2.4 2-1 3-0.4 1 0.6 2-2.2 3-1.5 4-0.8 5 0.3 0.2-0.6-8.2-0.3-1-1.4-7-0.3-2.1-1 0-2 4.1-2.1 3-0.2 1-0.8 4-0.2 1-0.7-3.3-2-0.1-2 1.4-1.2 3-0.4 1-0.8 9 0 3.3 1.4 0 2 0.7 0.9 12-0.1 1-0.9 3-0.1 1-0.9 9 0 2-2.1 5-0.1 1.4 1.3-0.4 1.3-1.7 0.7-0.2 1 1 1-0.1 1-3 2-3 0.2-1 0.9-4 0.1-1 0.8-11 0.2-2.6 1.8 0.9 1 0.1 1-1.4 1.3-15.6 0.7 3.9 2 2 3 5.7-0.1 1 0.8 3 0.2 2 1 1.1 1.1 0 2 0.9 0.4 11 0.4 1-0.9 2-0.1 4-1.8 4-0.2 1-1 9 0 1-0.8 7 0.7 2 1.8 3-0.1 0.6 0.6-0.9 1-3.4 1-5.2 5 3.1 4 0 2-1 2 4.8 0.2 1.9 0.8 5.7-5 2.4-4.5 2.9-3.5 0-1-4.1-4-0.2-1 1.1-2 3.2-2 23.8-9 0.7-1-9.4-2.7-1.2-1.3 0.8-1 7.4-2.3 14-2.3 16-1.3 12 0 4.9 0.9 0.6 1-1.2 1-5.7 2-23.6 5-1.3 1 11.3 0.7 24-3.1 13-0.9 8 0.4 3.1 0.9 0.4 1-3 2-8.9 3-1.8 1 0 1-21.8 1.1-6.2 0.9-5.2 2 0 1 3.4 0.6 11 0.7 9-0.2 8.1-1.1 7.9-2.4 9-0.5 34 0.7 15.1 2.2 5.6 2 2.3 2 9 4.6 4.5 3.4 10.5 13.5 3 6.5-0.1 4-3 2 3.1 2 1 2 0 2-1.9 3 1.5 2 0 2-5 11-6.9 9-5.7 4.6-6 2.8-14 4.5-14 1.8-48 0.5-26.2-3.2-3.8-1.2-5.5-3.8-3.5-0.9-32 2.6-5 0-6-1.5-5-2.6-6-5.7-3-3.9-1 0.8-3.8 0.2 0 2-3.1 4 0 1 4.9 3.7 1.3 1.3 0 1 2.3 1-0.6 1.7-19-0.6-1 1.2-2-2-4-0.3-1-0.8-3-0.1-1-0.9-4 1.3-9 0-3 2.6-3 0.1-1 0.8-4 0-1-0.7-7-0.3-1-0.7-5-0.3-5-1.9-3.1-3.1 1-5-2.9-1.8-4-1-0.5 0.8 0.8 1-0.9 2-5.4 4.4-5 0-1-0.8-3-0.7-2 1.4-1 2.2-2 0.1-1 0.9-8 0.1-2.6 1.4 4 3-1.4 1.3-3 0.2-1 0.8-4-0.9-1.4-1.4 0.1-3 1-1 0-1-2.7-2.6-2-1-2 0-0.6 0.6 1.6 1.6 3.3 1.4-2.3 1.3-7.5 0.7-0.9 3-6.6 6-0.5 2 0.4 2 2.1 0.4 1 1 3 0.2 1 0.9 2 0.1 1.4 1.4-1.4 1.3-3 1.2-2.4 2.5 1.5 3 0.3 3 1.6-0.6 4 0.3 4 2 1.2 1.3 0.1 4-1.3 1.2-4 0.2-9-1.6-1 0.9-5 1.2zM453 759.3l-5 0-1.3-1.3 3.3-1.2 1 0.8 2 0.2zM424 762.2l-4.9-0.2-0.2-2 7.1-0.3 1.3 1.3-2.3 0.4zM455 775l-12 0-1-0.8-11-0.1-1-0.9-3-0.1-2-1-2.1-2.1-0.1-1 3.2-3.1 4-1.9 21-0.1 1 0.8 3 0.2 1 0.9 2 0.2 3 3-2 3.1zM486.6 775l2.4-0.4 0.3-0.6-4.3-0.8-0.5 0.8 0.4 1zM633 777.3l-4 0.1-0.4-1.4 4.4-0.3zM504.1 780l0.3-3-1.4 0.9-2 0-1-1-0.9 0.1 1.7 2 1.2 0.1 1 1zM663 782.1l-2.2-1.1-0.1-1 1.3-1.8 1 1.6zM324.1 794l14.9-4.6 26 1.2 4.8-0.6 4.2-1.7 7.4-1.3 1.4-1-3.1-1-8.7-1.1-2 0.6-3 2.4-3 0.6-13 0.6-13-0.3-17-3-9-0.5-9 1.1-3.5 1.6-0.5 1 1 1.6 3 1 19.7 0.4-7.4 3 4.7 0.6zM710.7 787l2.4-2 0-1-1.1-0.7-8.5 0.7-6.8 2 1.9 1 4.4 0.4zM778.2 790l3.2-1 1.4-1-0.1-1-4.7-1.9-9-0.8-8.2 0.7-4.7 2-0.1 1 1.3 1 4.2 1 9.5 0.6zM534.6 791l1.4-0.4 1.7-1.6-1.7-0.7-3.7 2.7 0.7 0.6zM657 796.4l-2.4-1.4 0.4-1.4 4-1 3.3 1.4-0.3 1.2-4 0.3zM316.8 802l4.1-1 3.3-2-4.2-1.2-9-0.3-6 1-1.7 1.5 1.1 1 3.6 1zM659.6 819l2-2 0.5-2-3.8-6-1.3-1.1-3-0.4-4-2-4-0.2-1 0.8-2 0.1-11-0.1-1-0.8-3-0.2-3-1.6-2 1.9-5 0-2.8-2.4-0.2-0.8-4-1.8-2-2.4-1-0.1-1.6 1.1 1 1 0 2-2.4 2.3-1 0-1-1.1-3 1.9-2 0.1-1 0.8 1 0.6 7 0 4 1.8 3 0.1 3.5 2.5-0.5 2.9 4 0.4 3.8 1.7 15.2 0.8 5 2 5-0.4 9 1.3zM771.8 802l3.8-1 0.8-1-2.4-1.2-5-0.5-6 0.6-2.5 1.1 0.3 1 3.1 1zM525.5 802l-0.5-1.4-3 0.1-1-0.8-2.1 0.1 0.1 2 4 0.5zM472.5 809l5.5-1.6 3.6-2.4-4.6-3.5-3 0.1-1 0.9-2 0.1-1 0.9-2 0.4 0.1 5.1zM550.5 817l3.5-0.5 1-0.9 3-0.1 1.6-1.5 0.9-5-2-2-0.3-2-8.2 0.4-9-1.9-1-0.9-3-0.1-1.5 1.5-0.1 1 1 1 2.6 1.4 2 0.1 1 0.9 7 0.1 1 0.9 2 0.2 1.4 1.4-2.4 2.5-7.6 3.5 0.6 0.5zM459 821l8-1.3 1-0.8 4-0.1 0.6-0.8-4.6-0.6-1-0.8-3-0.1-1-0.9-3-0.1-1-0.9-11-2.1-3.4-2.5 2.4-2.1-7-0.8-1-0.9-3-0.2-1-0.8-0.6 0.8 0 2-4 4 0 3 1 1-1.4 1.8-8-0.1-1-1-2 0.1-1.1-0.8 2.1 2.6 3 0.7 10-0.9 2-0.9 5 0 1-0.9 10 0 2 1 2.4 2.4 0.6 1.9 2-0.1zM538.2 820l4.4-2-0.6-0.5-4 0-6-3.9-2-0.2-1-0.8-3-0.2-2.5-1.4 3.5-3.4 1.5-0.6-2.5-1.4-2 0-5 3-2 0.2-1 1-3.1-0.8 2.1 2 2 0.2 0.8 0.8-0.8 3.6 1 1.4 3 0.2 2 1.9 2 0.1 1.2 0.8 9.8 0.5zM381.2 817l0.8-2-1-2-4-2.1-5.4 0.1-5.5 3-0.1 1 5 2 6 0.7zM707.6 817l3.6-1 2.1-1 0.6-1-0.7-1-3.2-1.6-5-0.8-4.9 1.4-1.6 2 0.2 2 1.5 1zM497 818l-1.6-2-0.6-2-2.8-0.4-3 2.8-3.6 1.6 0.6 0.7 3 0zM595.5 816l-0.5-1.5-11 0.5 1 0.7 8 0.3 1 0.7 1 0.1zM240 819l-1-0.9-1.6 0.9 1.6 0.6zM560.6 828l6.4-2.5 1.5-1.5 0-1-1.5-1.5-4-2-2 0-1-1-3 0-1 0.9-2 0.1-0.5 1.5 3.5 1.5 0.5 1.5-3.5 1.5-0.5 1.5 2.5 0.6 1 0.9zM653.6 840l6-1 1.9-4-1.5-3-2-1.1-2-0.3-11 0.9-4-0.9-2.9-1.6-4.1 0.2-2-0.9-6-0.2-1 2.2-8 0.1-1-0.8-2-0.1-2-1-2.8-2.5-0.2-1-3-2-1.2-2 0-2-3.3 1 2.1 2-0.3 2-2.2 2 0.3 1 9.6 4.6 4 2.9 1 1.9 6 0.8 5 2.9 1-0.5 4 0.1 1-0.8 5-0.1 6 0.1 1 0.8 3 0.2 2 0.9zM435.9 839l2.1-0.3 1-0.8 4-0.2 5-3.1 4-0.2 1-0.8 3-0.1 1-0.8 3-0.2 1-0.9 2.6-0.6-0.6-0.9-2-0.1-3-1.8-3-0.8-2 2-2 0.1-1 0.9-8 0.1-1-0.7-6 1.6-5.2 0.6-0.4 2 5.6 5.8zM595.5 832l0-2-1.5-1.5-6 1.1-1 0.8-10 0.1-0.6 0.5 2.6 1.4 14 0.2zM709.5 836l3.6-2 0.9-1-0.2-1-4.7-2-4.1-0.7-4-0.3-2.2 1 0.4 4 1.8 1.7 4 1zM378.4 836l1.6-1 1-2-0.5-2-1.5-1.1-7 0.3-3 1-2.1 1.8 1.5 2 3.6 1.5 3 0.3zM556.5 844l2-2 0.1-2 1.9-2-0.9-5-1.6-1.5-7-1-1-0.9-5.3 0.4 0.3 1.2 6 2.3 1.5 1.5-0.5 2.4-2 0.1-1 0.9-7 0.2-1 0.8-2 0.2-2 0.9-1.6 1.5 0 1 1.6 1.6 4-0.1 1-0.9 7-0.1 1 0.8zM499.5 835l-0.5-1.9-4.3-2.1-2.7-0.5-1.6 1.5 1.6 1.4 2 0.2 1 0.8 3 0 1 1.1zM312 838l3.9-1 1-1-0.5-1-3.4-1.3-5-0.5-5 1.3-2.2 1.5 0.5 1 3.5 1zM527.5 841l1-1-1.5-0.6-3.5-3.4 0.5-0.7 2 0.1 1-1.3 2 0 0-0.4-11 0.2-1 1.9-2.3 0.2-0.1 1 2.4 1.1 2 0.1 5 3.2zM777.4 838l3.5-1 0.4-1-3.3-1.6-5-0.5-6 0.6-2.8 1.5 0.6 1 3.2 1zM476.8 845l1.1-2 2.1-2-4-2.4-3-0.2-1-0.8-4 0.1-1-1.1-2 0.1-1-1.1-6-0.1-0.5 0.5 0.5 1.2 6 0.6 4 1.2 3.1 2 2.9 4.2zM605.5 842l1.1-2-1.6-0.2-1 0.9-1.8 0.3zM521.3 847l0.7-0.7 3 0.1 0.5-1.4-2.5-0.5-4 0.5-1.4 2zM622.9 853l6-3-3.9-0.5-1-0.7-10 0.7-4-1.1-3-2-3.8 2.6 0.8 0.6 4-0.1 5 3 7 0.1 1 0.8zM442 864.3l-10-0.1-0.2-2.2 0.8-1 0-2 1.4-1.4 2-0.1 1-0.8 4-0.2 2-0.9 1.6-1.6 0-2-0.9-1 0.3-1.3 3-0.1 6 3 0.3 1.4-3.9 4 0 3-3.4 2.4-3 0.2zM662 853.3l-6 0.2-1.4-1.5 6.4-0.6 1.4 1.6zM767.5 861l4.5-0.6 4-1.4 1.7-1 2.6-3 4.6-2-0.9-0.7-11 0.9-22-0.2-6 0.7-2.7 1.3 6.7 3.4 6 2 7 0.8zM326.8 860l17.2-1.6 2.3-0.4 0.4-1-26.7-3.5-10 1.2-3.8 1.3-0.8 1 1.6 1.4 5 1.4 7 0.6zM272.8 857l5.5-1-4.3-0.4-5.2 1.4 1.2 0.6zM289.8 856l-2.8-0.6-4.5 0.6zM804.6 858l-1.6-0.7-2.3 0.7 2.3 0.6zM579 866.3l-3 0-2-0.9-2.4-3.4 2.4-2.4 2 0 1 0.9 2 0.1 2 1 1.4 1.4 0 2zM561 868.3l-3 0-5.3-4.3 2.3-1.3 3-0.2 1-0.8 3-0.1 2 1 1.4 1.4 0 2-1.4 1.3-2 0.2zM337 884l-18-0.6-5.3-1.4-1.2-1-0.2-1 1.9-2 2.8-1.4 11.9-3.6 2.9-2-2-1 2.2-0.4 25-0.1 7.8-1.5 6.2-3.2 19-1 10-1.1 10 0.7 4 1.2 2 1.4-0.4 2-4.7 3-7.9 2.9-10 2.6-28 5.1zM754 884l-23-0.7-30-3.9-15-3.1-11.8-3.3-7.1-3-3.1-2.8-0.2 1.8-1.8 0.6-1.8-2.6 2.8-2.6 0.9 0.6 0.1 1.3 1.1-1.3 2.4-1 8.5-1.3 32 1.9 3 0.7 4.2 2.7 5.8 1.3 8 0.6 16-0.5 5.2 0.6-2 1 2.9 2 12.8 4 3.8 3-0.7 1.5-3 1.3zM417 865.9l-0.9-0.9 0.9-1.4 0.7 1.4zM505.5 869l0.9-1-2.3-3-1.1 0.8-2.6 0.2 1.3 3zM571 883.3l-5-1-3-2.9-5-0.2-1-0.8-2 0-1 0.8-7 0.1-2.2-2.3 0.9-2-2.7-2.7-6 0.2-1 0.8-11 0.1-2.5-2.4-0.3-2 2.8-2.8 6 0.4 7 3 1 1 7 0 2-1 10 0 1 0.1 0.4 1.3 2.6 2.6 7 0 1-0.9 1 0 1.3 1.3-0.9 1-0.1 2 4.7 1.7 0.3 1.3-2.3 2.3-2 0.2zM633 871.2l-4 0.1-0.4-1.3 4.4-0.3zM451 881.1l-19-0.1-6-2.8-2-0.1-1.1-1.1-0.1-3 3.2-2.3 3 0.1 1-0.8 21-0.2 3 0.2 4 2 2 2 0.1 2-2.1 2-2 0.2-1 0.9-3 0.2zM631 882l-8 0-1-0.8-4-0.2-1-0.8-7 0.8-1-0.7-9-0.3-1-0.7-13-1.3-1-0.7-6-1.2-3-2-0.1-1.1 1.1-1.1 2-0.1 1-0.8 30-0.3 3 2.2 3 0.1 1 0.7 9 0.2 1 0.8 4 0.2 1 0.9 3 0.2 2 0.9 2 2.1-1 1-2 0.2-1 0.9-3 0.1zM600 886.3l-8 0.1-4-1-2.4-1.4 0.1-2 3.3-1.4 5 0 9 2.1 0.2 2.3zM637 886.3l-4 0-2.3-1.3 0-1 1.3-1.2 4-0.1 2.3 1.3 0.1 1zM426 887.2l-6 0.1-1-0.3-0.2-1 0.5-1 3.7-0.3 1 0.9 3 0.2zM544 922.2l-7 0-1-0.8-4-0.1-0.3-1.3 1.3-1.2 6-3.1 4-1.1 3-2.9 2-0.9 3-0.3 5-4.8 1.6-0.7 0-2-2.6-3.7-3-2-2 1-0.8 1.7-2.2 2.3-5.8 2.7 0 1 2 2-1.2 1.2-3.2-2.2 1-1-1.8-1.7-2.2-0.3-0.1-3 0.9-1 0.2-2 1.2-1.3 8-4 1.7-3.7 1.9-2 0.1-1 2.3-1.3 6.3 0.3-2 2 0 2 1.9 2 0.1 3 1 2 3.7 1.5 4 0.1 4.8-2.6 0-1-5.1-4 1.3-1.3 11 0 1 0.9 3-0.8 1-0.9 9 0 2 0.8 7 0.3 2 0.8 1-0.8 3-0.2 1-0.9 3-0.1 1-0.9 6-0.1 1-0.8 3 0 1 0.8 4 0.1 1 0.9 2 0.2 2.1 2 1.9 4 0 1-3 3-5 0.2-1 0.8-7 0-3 2.4-2.7 0.6-0.3 1 1 0.9 3 0.1 1 0.9 2 0.1 3 1.9 1 0.1 2 2 0 1-3 1-0.7 1 0.9 1 0.1 3-2.3 1.3-11 0.3-2 0.7-4-0.9-1.4-1.4-0.1-1 0.1-1 2.1-2-0.7-0.8-7-0.2-1-0.8-3-0.2-1-0.8-2-0.2-4-2-4-3 0-2 1.9-2 0.1-1-0.1-1-1.9-2-0.1-1-1.9-1.6-4 0.1-3.8 1.5 1.8 0.8 2.3 2.2 1.1 2 3 3 0 1-0.4 1.3-3.6 1.7-1 1 0 1 3.6 2.6 3 0.2 0 0.4-1 0.1-1 0.9-4 0.2-1 0.8-5 0.3-1 0.8-3 0.2-4 1.8-3 0.2-7 2.8-2 0.1-1 0.8-4 0.2zM452 889.3l-5.3-0.3 1.3-1.2 5 0zM444 902l-10 0 0-2 1-0.1 1-0.9 2-0.1 1-0.9-4-1.6-1.4-1.4 0.2-1 7.2-1.3 8 1.1 1-0.8 4-0.2 1-0.8 6-0.3 1-0.7 17 0 1 0.7 1-1.1 4.4 0.4-0.4 1.3-2.9 0.7 0 1-2.1 2.1-4 1.9-3 0.2-1 0.8-5 0.3-1 0.8-5 0.2-1 0.8-15 0.1zM372 899.1l-9 0.6-10-0.5-6-1.2-1.8-1 0-1 1.7-1 4.5-1 10.6-0.7 10.5 0.7 4.5 1 1.8 1 0 1-1.8 1zM728 899.1l-9 0.6-10-0.5-6-1.2-1.8-1 0-1 1.8-1 4.5-1 10.5-0.7 10.6 0.7 4.5 1 1.7 1 0 1-1.8 1zM607.8 902l-2.8-0.6-1-0.9-2 0.5 3 1.9 2 0zM448 935.2l-7 0.1-2-0.9-1.3-1.4 1-3-0.7-0.9-3-1-2-2.1 2-2.1 2 0 1-0.9-2-3-0.1-2 0.1-2 2-2.1 4-2 6-1.2 1-0.8 3-0.4 1-0.9 12 0.4 1 0.8 3 0.1 1 0.9 4 0.1 6-1.2 1-0.8 3-0.2 1-0.8 6-0.2 1-0.8 7 0 1 0.8 5-0.4 1 0.5 1.3-2.8 1.7-1.7 3-1.8 3-0.5 3 0.5 3.9 2.5 1.1-0.7 6 0.3 3 1.1 1.4 5.3 0.9 1 0 1-1.3 1.2-5 0.1-1-0.8-2.7-0.5-1.5 3-1.8 1.9-3 1.7-3 0.5-3-0.5-3.9-2.6-1.9-3-0.5-4-0.7-0.2-0.4 3.2-3.5 2 0.1 1 1.8 0.6 1.4 1.4-0.4 1.3-9-0.1 0.7-1.2-0.7-0.9-4 1-2.9 1.9 0 3-2 2-0.1 1-1 0.1-2 1.9-2 0.1-1 0.9-15 0.3-1 0.7 0 1.2-1 1-1 0-3-2.1-5 0.1-1 0.8-6 0.1-0.6 0.9 1.9 2zM432 906.3l-3-0.1-2.2-1.2 5.2-0.3zM634 907.2l-2.2-1.2 2.2-0.3zM654 920.2l-5-0.9-0.3-1.3 7.3-5.3 2-0.2 1-0.8 1.9 0.3 1 3-0.9 3-2 1.3-4 0.2zM527 923.2l-6 0.5-0.7-0.7 4.7-1.3 1 0.1zM537 945.2l-10 0.1-1-0.9-2-0.1-3-1.8-3 0.3-2-1.3-3 0-3-1.8-2.8-2.7-1.1-2-0.5-4-1.1-1 0-1 2-1 3.5-3.7 5-1.5 3 0.6 3 1.7 2.3 2.9 1 3 1.7 0.4 2.6-1.4 0.1-1 2.3-2.2 13 0 0.4 2.2-5.4 4.3-1.5 2.7-0.2 5 1.9 2 0.1 1zM638 947l-33 0.1-9-2-4-2.1-1-2 2.9-3 0.1-2-5-2.8-5-1.2-4-2-2.1-2 0-2 1.1-1 2-0.2 1-0.8 6-0.1 8 0.1 1 0.7 18 0.3 1 0.7 4 0.3 4 1.9 2 2.1 2.3 1-0.3 2.3-2.9 0.7-0.1 1-0.9 1 0.9 0.9 4 1 1 0.9 6 1.1 5.1 3.1 0 2zM468 940.2l-2 0.1-2-1-1.3-1.3 0-1 3.3-1.2 3 0.9 0.2 2.3zM567 956.3l-6-0.1-6-3-0.4-1.2 0-1 2.4-2.3 5-3 4-1 0.8-0.7-0.1-1-5.7-2.5-3-0.2-1-0.9-4-0.2-1-1.4 2-1 2-0.2 1-0.9 9 0.1 9 3.7 5 0.2 1.4 1.3-0.4 1.3-2 1-2 0.1-2.7 1.6 0 1 1 1-0.1 3-5.2 2.5zM450 950l-3 0-1-0.8-5-0.2 0-1 2-1-0.1-2 1.1-1.1 2-0.1 1-0.9 9-1 7 0.1 1 0.7 4 0.1 1-0.9 3 0 1-0.9 5 0 1 0.9 1-2.1 5-2.2 3 0 2.4 1.4 0 2-1.4 1.2-3 0.4-1 0.7-4-0.8-8 4.5-5 0.3-1 0.7-7 0.2-1 0.9-8 0.1zM438 945.4l-9-0.2-3-1.8-2.3-2.4 1.3-1.3 1-0.1 12 0.2 2 0.9 0.4 1.3 0 1zM516 961.1l-2 0.6-2-0.2-4.6-2.5-3.4-0.6-1.5-1.4 1.6-2 0.7-6-0.8-1.2-2.4-0.8 0-1 1.4-1.4 2-1 3-0.3 1-1 6-0.3 5.4 4 2.4 4 10.2 0.8 1.3 1.2 0 1-1.9 2-1.4 3.2-2 0.3-1 0.8-9 0.2zM422 954.3l-3-0.1-1-0.7-0.6-3.5 0.8-3 2.8-1.3 5 0.1 1 0.6 3 0.3 1.4 1.3-0.1 3-2.3 2.3-6 0.3zM625 962l-12 0-1-0.8-2 0.8-15 0-1-0.7-10-0.3-1-0.8-3-0.1-1-1-2-0.1-1.1-1 0.1-1 1-0.1 3-2.9 23-0.1 1 0.9 2 0 2-2 1 0 2 2.1 2 0.1 1 0.8 6 0.2 1 0.9 2 0 1 1 2 0.1 2 2zM455 969l-9 0-1-0.8-2-0.1-1.1-1.1 0-1 1.1-1 2-0.2 4-1.8 5-0.3 1-0.7 7-0.3 1-0.7 7-0.2 1-0.9 6-0.1 1-0.8 11-0.1 1 0.9 3 0.2 1.1 1 0 1-1.1 1.1-2 1-2 0.1-1 0.8-4 0.2-1 0.9-4 0.1-1 0.8-6 0.3-1 0.7-15 0.3zM517 999.2l-5 0.4-5-2.2-2.7-4.4 0.3-5-2.6-0.7-2 0.9-4 0.1-1 0.7-7 0.3-1 0.7-34 0.1-1-0.9-4-0.1-4-2-2-2.1 2-2 3-0.2 1-0.8 8-0.2 1-0.8 4-0.2 1-0.8 5-0.2 1-0.8 21-0.2 1-0.8 10-0.1 1 0.8 5-0.5 1 0.9-1.3-2.1-5.7-0.7-1-0.8-2-0.2-2-1-0.3-1.3 1.3-1.3 8.8-1.7 1.8-3 2.4-2-0.7-1 0.7-0.7 5-0.3 2.7 1 7.3 0.5 1-0.8 5-0.2 1-0.8 5-1.2 6-2.9 4 0.1 1 0.9 7 1.1 0.3 2.3-1.3 1.3-12 0.2-1 0.7-4 0.3-2 0.8-12.8 0.7 2 4 1.8 0.4 0.5 1.6-7.7 9 4.2 6 0.8 4-0.6 3-1.2 2zM655 968.2l-3 0.2-4-1.1-2.4-2.3 0-2 1.4-1.4 4-1.1 7 0.1 2.8 1.4 0.6 2-1.3 2zM429 974.3l-8 0.1-1.3-1.4 0-2 2.3-2.4 5-2.9 7 0.1 0.2 2.2-0.7 1-0.2 2-2.3 2.4zM564 969.2l-4-0.9-1.3-1.3 0.1-1 6.2-0.3 2.2 1.3-0.2 1.2-2 0.2zM579 972.2l-3-0.9-2.2-2.3 1.2-1.2 3 0 2.3 2.2 0 1zM622 979.1l-38-0.1-1-0.8-3-0.1-1-0.9-2-0.2-1.1-1 0-1 1.1-1.1 3-0.1 1-0.8 11-0.3 1-0.8 15-0.1 1-0.2 2-1.9 3-0.1 2.3 1.4 0.7 1.8 2 0.1 1 0.9 4 0.2 1 0.8 2 0.2 1 1 0 1-2 1.1-3 0.1zM452 980.3l-5 0-4-0.9-4-2-3.3-3.4 0.1-1 1.2-1.2 3-1.1 6 0.1 6 3.9 3.3 3.3-1.3 1.4zM565 985.2l-7 0.1-4-1-4-2.8-3-1.2-0.4-1.3 1.4-1.3 10-0.1 4 1.9 6 1.2 1.2 1.3-2.2 2.3zM597 997.3l-3 0-1-0.8-7-1.1-2.4-1.4-0.9-1 0-1 2.3-2.4 2-0.9 4-0.1 3 1.2 2.3 2.2 0.2 1 1.7 2 0.1 1zM531 1004.1l-4 0.2-3-0.8-1.2-2.5 0.8-2 2.4-1.4 5-1 4 0.2 3.2 2.2 0.1 1-3.3 2.9zM505 1000.4l-7-0.1-0.3-1.3 2.3-1.3 4-0.1 2.6 1.4z"/>
<path fill="#0000c0" d="M534 650.1l-5 0-5-1.8-1.2-2.3 0.3-3 1.9-1.4 3-0.2 4 0.7 3 1.5 3 3.4 0 1-1 1.1zM550 644.1l-3.2-0.1-1.9-1 1.2-1 3.9-0.6 6.5 0.6zM517 680l-2 0.6-3-0.1-4-2.1-2-2.4-1 0.6-5-0.5-1-0.7-3-0.3-1.1-1.1 0.1-1.1 2-1 8.5-1.9 1.8-3 3.4-3-0.7-0.1-1 0.9-1-0.2-1 0.9-2-0.4-1 0.9-31-0.3-22-3.3-3.5-1.4-0.9-2 2.9-2 4.5-1 18-0.7 10 0.2 17 2.4 5-0.3 1 0.7 0.8-0.3-1-3 0-2 2.2-4.5 4-2.2 3-0.4 3 0.5 3.8 2.6 0.9 2 0.3 3-1.3 4-4.7 5 4.5 4 4.8 7-0.3 1.2-3.3 0.8-1.7 2.2zM504 649.5l-4-0.4-2-1-0.1-1.1 7.1-0.3 1.8 1.3zM591 658.2l-4 0-2-1-2-2.2-0.1-1 3.1-2.2 7-1.2 1-0.7 3 0 1.1 1.1-0.1 1-1.9 3-2.2 2zM558 669.2l-9 0.1-2.7-1.3 0.7-1.1 3-1.2 2-1.7 5-2 7.8 0 2.2 0.9 2 2.1-1 1.1zM445 676.8l-5-0.7-3-1.1-1-1-0.1-1 3.1-3.2 4-2.1 7-1 2 0.2 2.2 1.1 0.8 1-2 2.2zM614 677.2l-3 0-2.3-2.2 0.3-2.1-8 0.3-16-1.4-4.4-0.8-1.2-1 0.6-1 3-1.2 9-1.1 24 0.7 4.4 0.6 2.3 1-0.1 1-2.2 1-5.4 1.1-0.8 0.9 1.9 1 0 2zM433 681.2l-5 0-3-1.1-4.3-3.1-0.8-1 0-2 1.1-1.2 3-0.2 5 0.2 2 1 2.1 2.2 0.9 3 0 1.8zM577 679l-2-0.1-1-0.9 2-2.1 3-0.9 1.1 1 0 1-2.1 1.9zM487 685l-33-2.3-7.1-1.7-2.7-2 0.4-1 1.4-0.7 4-0.6 24.1 1.3 13.6 3 3.8 2-0.5 1.1zM565 681l-6 0-0.1-1 1.1-1.1 2-0.1 1-0.8 3.9 1 0.1 1zM658 686.2l-9-0.2-3.2-2 0-2 2.2-2.1 3-0.9 3-0.2 4 1 1.9 1.2 1.1 2-0.7 2zM546 688.1l-5 0-5-2.8-6-2-5-0.3-1-0.7-9 0.4-1 1.1-5-0.3-0.3-0.5 1.3-1.6 1-0.1 8 0.2 1-1 11 0.2 8.9 1.3 1.1 0.7 12 0.2 1.1 1.1-0.1 2.1-7 1.1zM594 691l-10-0.4-6.4-1.6-1.8-1 0.4-1 1.9-1 9.9-1.7 17-0.4 7 0.5 7-0.6 4.4 1.2-0.6 1-2.8 1.1-15.6 2.9zM517 721.1l-5-0.3-3-1-1-1-3-0.5-1.2-1.3 2.4-1 0.1-4 1-3 2.7-2.8 2.4-1.2-3.4-0.5-1-1.1-3-0.3-3.2-2.1 0.2-1.2 2-0.2 1-1.1 2-0.5-1.5-2-0.8-3-2.1-3 1.4-1.5 2.3-0.5 2.7-2.3 4-1.3 3 0.4 3.7 2.2 8.3 0.8 3 1.2 1 1.3 0.2 1.7 1.9 2 0 1-1.1 1-10 0.6-1.4-0.6-2.4 3-3.2 1.8-0.2 1.2 1 2 4.2 0.5 3-1.6 5-1.1 8 0.2 2 1 0 1-1.9 2 0.2 5 1.7 2.8 5.2 4.2-0.2 1.9-1 0.3-12-0.2-5-4.6-1 0.2-1-0.7-0.6 0.1-2.5 4zM566 711l-9 0.1-5-2.1 1.3-1 3.7-0.2 1-0.8 6-1.3 2.9-1.7 0.3-1-1.2-0.9-6-2.1-5.2-4 0.2-2 6-3 6-0.1 2 2.9 6 3.3 0.1 2.9-1 1 0 1 2.9 1.8 4 1.1 0.8 1.1-1.8 1.1-5 0.2-1 0.8-2 0.2zM426 701l-5 0.1-2.3-1.1-0.9-4 1.2-2.8 2-0.4 3 0.8 5 0.3 2.2 2.1-0.2 3.2-1 0.9zM609 693.6l-1 0.2-1-0.8 2-0.9 0.8 0.9zM472 702.2l-8 0.5-9.6-0.7-11.8-4-0.8-1 2.3-1 2.9-0.3 10 0.5 17.3 3.8 0.3 1zM611 720l-24 0.5-4-0.8-2.1-1.7 1-2 3-2 14.8-5-0.4-1-4.3-2.5-1.3-1.5 0.9-2 3.4-1.6 9-1.9 7.7-0.5 17.3 0.2 4 0.7 2.2 1.1 0.8 1-0.2 1-2.6 2-13.5 4-1.1 1 3.7 4 2.7 0.6 0 2.5-3 0.9-3 0-5 2.1zM438 707l-11 0.3-2-0.2-1.1-1.1 2.1-2.2 3.1-1.8 7.9-0.3 1 0.1 2.2 2.2-0.1 2zM488 709.2l-3 0.1-3-1-2-1.3 0-2 4-1.1 5 1.1 1.2 1 0 2zM466 711l-3-0.9-0.1-1.1 3.1-2.1 2 0.1 1 1 0 2zM505 739.3l-6-0.2-1-1.1-11.7-1-13.3-3.3-13 1.9-0.1 1.4-1.9 1.1-5.9-0.1-13.4-7-1-3 2.2-4-4.8-3-0.9-2 1.8-2 2-0.8-0.1-2.2 1.1-1.2 4-1.1 5 0.3 0 3.2 12 1.5 2.5-0.7 2.5 1.2 9-0.5 7 1 2.7 1.3 0.6 1 0.1 4-4.4 3.4-5 0.6-1.4 1 1.4 0.5 4-1.3 3-0.1 12 1.3 5-1.2 1 0.6 4 0 0.2 1.2-1.6 2 3.1 2 0.1 1-2.6 3 0.8 0.8 1-0.2 0.5 0.4zM526 725l-2 0.1-1-0.9-2.2-0.2 6.1 0zM558 762.1l-7-0.1-2-2-2.1-5-1-1-7.9-4-1-1-1.1-4 0.1-1.8 4-2.1 1 0.3 1 1.4 4 1.3 5 4.9 2 0.1 1-0.2 1.8-1.9 2-3 0-2-1.8-1-5-4.7-3-0.3-2-0.9-3-2.9-4-1.1-6-3.1-1.1-1 0.1-1 3-0.2 2-0.8 7.1 0 7.9 1.9 7 2.8 3 0.2 1 0.8 8 2 9 1.3 1 0.9 1.2 0.1-3.2 0.2-3.8 2.8 0 1 1 1 3.8 1.9 0.2 1.1 0 1-3 3-0.2 1-4.6 4 4.6 1.7 4.6-0.7-0.5-2 0.4-1 5.9-5-1-3 2.9-4 4.7-2.3 9-1.4-0.2-3.3 1.2-1.2 3.1-0.8 13.9 0.9 2.1 1.1-0.1 2.9-1 1.6-2 1.2-3 0.3-2.5 2-16.6 5-0.8 1 1 1 2.9 1.1 7-2.1 5-0.1 5 2.2 12 0.4 3 1.1 1.1 1.4-0.3 2-1.8 1.8-8 3.3-6 0.4-4-0.4-6-3.1-3-0.5-11 2.7-6 0.5-5-0.5-4 1.9-8 0.1-3-0.1-1.1-1.1 5.1-4 0-1-5-2.7-4 0-3.9 1.7-1 2-0.1 3-1.9 2 0 2zM530 743.1l-7 0.2-4-1.1-4 1-4-1-2.8-2.2-1.6-3-0.2-3 1-3 3.6-3.3 5-1 3 0.9 3 2.4 1.2 2 0.6 3 1.2-0.6 2 0.3 1-0.8 5 0.1 1.1 1 0 1-0.9 1-0.3 3-0.8 2zM659 735.1l-3-1.1-6-3.9-1.1-1.1 0-1 4.1-1 6 0.9 1.6 1.1 0.8 3-0.6 2zM542 740l-2 0.9-0.7-0.9 0.7-1.1 2-0.8 1 0.9zM432 742.2l-4.8-0.2 1.8-1 3.6 0zM473 754l-11-0.5-13-3-1 2.5-4 1-9-0.8-1-0.2-0.2-1 3.2-2 8.3-1-9-4 0.3-1 19.4 0.5 18 3 4.2 1.5 2.2 2-0.4 1-1.5 1zM514 898.6l-3-0.2-1-1-5-1.3-1-1-2-0.1 5-0.6 0.9-1.4-1.7-4 0.5-5-1.4-2-5.3-2.2-1.6 1.2 0.6 1.2-7-0.2-2-0.6-6 0.2-10-1.8-1.6-0.8-0.1-1 0.8-1-0.2-3 5.7-4 0.7-1-1.3-1.7-18-0.1-4-0.6-2.7-1.6-0.1-1 2.4-2 4.9-2 5.5-1.3 21-2.3 10 0.7 4-0.5 3-1.9 2-0.2 1.6-1.5 0.1-2 1.7-3-1.4-1.4-2-0.4-1 0.8-15 2.3-9-0.6-0.7 2.3 2.7 2.1-19 0.2-1-0.8-4-0.1-1-1.7-4-1.2-2.2-1.5-15.8-1.6-3-1.1-1.1-1.3-1.9-0.8-4 2.1-5 0.4-1.5-0.7-2.5 3.2-7 5.8-5 2.3-5 1.2-8 0.1-29-2.5-13 0.7-10-0.6-17-2.8-6-0.3-16.9 3.9 0 1 1.5 1 6.6 3-4.2 0.8-10-0.3-8.3-1.5 0.8-1 7.5-1.2 4.7-1.8-5.7-2.1-20 0.5-12 2.3-7 0-6-1.5-3.8-2.2-1.9-3 2.1-4-1.3-1-8.1-2.2-3.2-2.8-0.3-2 1.5-1.6 10.3-1.4 0.1-1-9.2-3 5.8-1.1 1.7-0.9-0.2-1-2.5-1.2-7.4-1.8-1-1 0.3-2 2.1-0.8 7 0 2-1.2 2.3-3-2.3-0.7-9 0.2-1.5-1.5 0.2-2 3.6-3-1.5-3 0.2-1 3.3-3 5.7-1.8 13-2 7.1-2.2-13.1-1-2-0.7-0.3-0.3 1.4-2 0.9-3 1.8-2 12.3-6 5.9-1.5 7-0.9 36-0.7 22 3.5 15 0 4.4 0.6 2.1 1 0.1 1-1.6 0.6-5 0.8-10-1.2-10-0.1-15-1.4-12 0.6-5 1.2-2.8 1.5-1.2 4-4 2.5-22.1 3.5 10.1 3 5.2-1 6.8-2.9 5-0.4 6 1.2-0.3 2.1 2 2 6.3 1.4 7-0.1 6.6-1.3 4.8-2 0.3-1-1.5-2 1.9-1 11.9-3.3 10-0.7 13 1.4 19-3.6 15-1.3 5 1.1 5 2.4 2.3 2 2.5 4 6.9 5 1.3 0.2 1-0.8 6 0.4 1 0.9 3 0.6 1.4-0.3-0.4-2 2-1.6 9-1.4 0.8-1-0.1-5-0.7-0.7-2-1-5-0.3-3.2-2-0.8-2-0.1-3 5.1-0.3 6 0.2 6 2.1 1.1 2 0.2 3 2.7 1.7 3-1 4-0.4 5 0.9 3.2 1.8 3.8 0.5 6 0.1 1-0.7 4 0 1.1 1.1-1.9 1-0.7 1 0.5 0.5 9-0.5 18 3.4 0.3-0.4-1.6-3-0.1-2-6.6-3.6-6-1.2-1-0.7-1 0.5-7 0-1-0.6-6-0.1-14-2-9-2.8-2.3-1.5-0.3-1 2.6-1.9 4-0.9 18-0.3 0.7-0.9-0.7-0.7-3-1.2-2.1-2.1 0.1-2.4 1.2-0.6 0.5-1-2-2 0.5-1 4.8-2.5 4-0.9 13 0.5 1 0.7 3-0.2 1 0.5 5-1.4 1.2-0.7 0.5-1-0.5-5 0.9-3-6.1-1 3-0.2 1-1 2-0.4 4-2.1 3-0.1 7 2 1 1 1-0.7 4 0.2 1-0.8 2-0.1 4 0.2 1.1 1 0 4-2.1 2-2 0.3-1 0.8-6.4-0.1-1.1 3-1.5 1.8 1 1.6 1 0.2 2 2.1 3 1.2 1.2 1.1-1.2 1.2-6 1.4-1.7 1.4 2.7 1 2-0.6 8 0.3 3 0.2 1 0.8 6 0.1 2.8-2.8-0.8-2 2-2.1 7 0.1 2 0.7 2-0.7 5-0.2 3-2.9 2-0.2 1-0.8 5 1 2.2 2.1 0 1-1.2 1-3 0.2-0.9 0.8 0.1 2 0.9 1-1.1 1.1-1 0-1-0.9-7 0-2.8 2.8-0.2 2 1 0.8 2 0.1 3.2 2.1 0 2-3.2 2.2-3-0.1-6.2-2.1 5.1-4 0-1-0.9-0.8-10-0.1-1-0.9-5-0.1-4 1.2-5 3-3.6 0.7-1.1 2-2.3 1.9-6.6 2.1 5.6 0.4 1-0.9 10 0.4 1 1 1 0 0.9-0.9-0.1-4 1.2-1.2 4-0.9 1 0.7 3 0.3 1.2 1.1-4 3 0.8 0.8 2 0.8 8 0.2 1 0.9 2.2 0.3 0 1-2.2 1.5-1 1.8 4 0.8 2-0.6 4-2.7 5 0 2 1.1 5 5.2 9.7-2.1 0.5-1-4.8-3-0.5-2 1.2-2-1.1-1-2-0.3-3 1.5-4-0.1-1.1-1.1 0-2 2.1-2.3 2-0.9 3-0.4 1.7 0.6 1.8-2 2.5-1.4 7-0.8 6 2 2.4 3.2 4.3 0 6.3 1.8 1.5 1.2 0.5 2 2 0.6 11 0.4 11-3 1-1 1-0.1 2 0.7 14-0.7 2 1.7 3 0.1 0.3 0.3-1.3 1.4-2 0-4 3.3-1-0.3-0.9 0.6-1.4 2 3.6 4 0.2 2-0.9 2 1.4 0.5 4-0.1 1 0.8 2 0.1 7.2-5.3 3.8-5.3 4-2.3 6-1.9 31 2.6 5-1.5 3.5-4.6 1.5-0.9 5-1.1 19-0.4 22-2.9 14 0.2 20 1.2 7.3 0.9 2.7 1-0.1 1-1.2 1 0.3 1 13 1.7 8 3.4 4.9 4.9 3.8 10 3.4 2 3.4 5-0.3 2-5.3 2-1.2 1 0.7 1 6.6 3 1.3 2-0.4 1-1.9 1.3-4 1.1-12.9 0.6 0.7 1 2.2 0.8 11-0.6 3.7 0.8 1.1 1 0.2 1-1 1.7-4.7 3.3 1.2 3-1.4 3-5.1 2.4-21.9 3.6-1.2 1 4.1 0.6 13-0.2 3 0.6 0.4 1-1.4 2-3.2 2-4.8 1.7-6 1-7 0-3.9-0.7-4.1-2-4-0.3-14 1.9-1-0.6 0.3-1 4.5-3 0.3-1-3.1-0.2-16 1.5-21-0.6-9 0.6-4 0.9-3.5 1.8-0.6 1 0.3 1 1.8 1.5 1.8 0.5-0.8 0.2-8-0.8-5.3-3.4-7.7-2-3 0.4-9 3-23 1.3-7-1.4-5-2.3-7-5.8-3-4.2-2 1.6-3-0.1-1 0.5-1 2.8-3.2 3.2 1 2 4.2 2 2.1 2 0 1 2.3 1-0.4 1.5-18-0.7-13-2.8-4 1.4-9-0.1-5 2.5-5 0.5-13-1.5-5.8-1.8-2.6-2-0.4-2 3.7-4-1.5-1-9.4-2.1-0.7 1.1 0.8 1-0.9 2-5.2 4.2-5 0-4-2.2-2.7 2 0.4 1-0.7 1.4-2 0.1-1 0.8-8 0.1-2 0.8-0.8 0.8 4 3-1.2 1.1-3 0.3-1 0.7-4-0.9-1.2-1.2 0-1 0.1-2 1-1 0-1-2.9-2.8-2-1-2 0-0.8 0.8 1.8 1.8 3.1 1.2-2.1 1.1-8.3 0.9-0.3 2-1.4 2-6.9 5-0.3 1 1.1 3 3.1 0.6 1 1 6 1.3 1.2 1.1-1.2 1.1-3 1.2-2 2.3-1 0.4 1.4 3 0.3 3 6.3-0.1 4 2 1 1.1 0 4-1.1 1-3.9 0.2-9-1.5-1 0.8-5 1.2zM485 756.2l-4 0-1.2-1.2 2.2-1 3 0.9zM453 759.1l-5-0.1-1.1-1 3.1-1 1 0.8 1.9 0.2zM382 767l-10-0.4-14-2.1-10-2.5-2.1-1-0.4-1 3.5-0.9 5-0.2 16 1 13.8 2.1 6.3 2 0.7 1-2.8 1.4zM701 767l-8-0.4-2.5-0.6-1.3-1 0.7-1 6.3-2 13.8-2.1 16-1 5 0.2 3.5 0.9-0.4 1-2.1 1-8 2.1-14 2.3zM423 762.1l-3-0.1-0.3-2 6.3 0 1 1zM611 776.1l-16 0.6-1-1-8-0.3-1-1.3-5-0.6-2.3-1.5 0.4-1 1.5-1 2.6-1 10.6-2-3.8-0.4-3.1-1.6 0.1-2.2 5-2 8-0.1 4 1.3 0 2.4-2 0-0.8 0.6 0.8 0.9 6-0.8 9 0.1 8-1.5 7 0.7 0.4-0.4-0.9-1 0.3-1 2.2-1.2 4 0.1 1.2 1.1-0.1 1-1.1 0.3-1 1.1-3.3 0.6 1.1 1 0.1 1-3.3 2-5.6 1.2-9 0.4-5 1-0.4 0.4 1.6 3zM453 774l-6 0.5-16-1.4-5-1.6-1.6-1.5 0.1-1 2.5-2.3 6-2.5 10-0.3 7 0.5 6 1.8 2 1.3 1 1.5-1.5 3zM403 786.1l-6 0.4-20-4.3-20-5.5-25-2.8-13.3-3.9-1.8-1-0.3-1 4.4-1.1 9 0.1 12 1.3 18 3.2 19-0.2 9 1.1 15.2 5.6 5.4 3 0.6 2-0.7 1zM684 786.3l-4 0.3-6-1.3-2.5-1.3-0.7-2 1.8-2 4.2-2 11.2-4.4 8-1.9 7-0.5 16 0.4 21-3.6 11-1.1 9 0.1 3.4 1-0.3 1-1.8 1-12.3 3.7-27 3.1-17 4.8zM505.3 780l0.4-3-1.7-0.2-1 0.8-2 0.1-1-0.9-2 0.1-2-2.2-6 0.1-1-1.5-5-0.9 0.7 2.6 1.3 0.6 4-0.5 4 0.4 3 1.1 2.6 2.4 2.4 0.4 1 1zM633 777.1l-4 0.1-0.2-1.2 4.2-0.1zM781.2 791l6-2 1-1-0.6-1-1.8-1-3.2-1-13.6-1.3-11 1.1-3.6 1.2-2.1 2 0.3 1 2.4 1 6 0.9 14 0.7zM534.8 791l1.2-0.2 1.9-1.8-0.9-0.9-1 0-3.9 2.9 0.9 0.8zM657 796.2l-2.3-1.2 0.3-1.2 4-1.1 2.7 1.3-0.2 1-3.5 0.4zM800.2 796l4.8-1.9 0-1.1-3-0.3-5.9 3.3zM372.5 800l-1.3-2-4.2-1-4-0.1-0.8 1.1 4.8 2 3 0.5zM658.1 820l0.9-0.8 2.3-0.2 1.7-2 0.4-2-0.9-2-2.9-4-11.6-4.3-5 1-7 0.1-6-0.9-5-1.6-2 1.9-5 0-2.6-2.2 0.6-1.2-4-1.5-2.2-2.3-1.8-0.3-1.7 1.3 1 1-0.1 2-2.2 2.1-1 0-1-1.3-8.9 3.2 3.9 0.8 7 0 4 1.7 3 0.2 3.3 2.3-1.3 3.4 4 0.2 3.7 1.4 4.3 0.6 12 0.7 3 0.6 2 1.2 6-0.1 8 1.6 1 0zM773.8 802l3.5-1 1.1-1-2.4-1.5-7-0.7-7 0.7-2.9 1.5 0.4 1 4.5 1.3zM525.6 802l-0.6-1.6-3 0.2-1-0.8-6 0.2 1 1 2 0.1 1 1 5 0.5zM467.1 810l0.9-0.8 4 0.3 1-0.8 5-1.2 3.8-2.5-2.9-3-1.9-0.6-3 0.1-1 0.8-2 0.2-1 0.8-2 0.4-1 1.3 0.5 3-1 2zM550.7 817l3.3-0.4 1-0.8 3-0.2 1.7-1.6 1-5-2-2-0.4-2-1.3-0.8-7 0.7-9-1.5-1-0.9-3-0.2-1.7 1.7 0 1 0.9 1 2.8 1.6 2 0.1 1 0.9 7 0.1 1 0.9 2 0.2 1.2 1.2-2.2 2.4-7.7 3.6 0.7 0.7 6-0.1zM458.4 822l13.8-3 0.5-1-8.7-1.7-1-0.8-3-0.2-4-1.5-8-1.4-3.3-2.4 1.3-1.5 1.4-0.5-0.4-0.4-4.4-0.6-7.6-2.3-0.8 1.3 0 2-4 4 0 3 1 1-1.2 1.5-8 0-1-1-2 0-1-1-1.4 0.5 2.2 3 3.2 1.2 11-1.3 2-1.3 5 0 1-0.8 10 0 2 1 2.2 2.2 0.8 2.6zM538.4 820l4.3-2-0.7-0.7-4 0-6-3.9-6-1.2-2.3-1.2 3.3-3.3 1.7-0.7-2.7-1.6-2 0.1-8 4.1-1 0.1-1-0.9-2.2 0.2 0.7 1 1.5 0.2 1 0.9 2 0.3 0.6 0.6 0.1 1-0.9 1 0.1 2 1.1 1.2 3 0.2 2 1.8 6 1.5 7 0.3zM381.8 818l1.4-1-0.5-3-1.8-2-3.9-1.6-3-0.2-4 0.8-5.8 3-0.2 1 5 2 4.9 1zM703.2 818l6.6-1 5.6-2 0.7-1-3.2-2-3.9-1.4-4-0.4-3 0.5-3.9 2.3-1 3 1.9 1.7zM498.2 818l-1.9-2-0.4-3-0.9-0.1-1 0.8-2-0.2-3 2.7-3.7 1.8 0.7 0.9 3 0zM595.1 817l0.6-1-0.7-1.7-16.4 0.7 0.4 0.5 10.4 0.5zM650.5 841l2.5-0.4 1-0.8 6.8-0.8 2-4-0.5-2-2.3-2.2-2-1-12 1.3-4-0.7-4-1.6-1 0.5-2.7-0.3-1.3-0.9-7-0.5-1 2.5-8 0.1-1-0.8-4-1-2.6-2.4-0.4-1.6-2-1.4-1.4-2 0.5-3-4.7 2 1.9 2-0.2 2-2.4 2 0.6 1 12.7 6.7 1.3 1.3 0.7 1.8 5 0.6 6 2.9 1-0.5 13-0.5zM560.7 828l2.3-0.4 4-2 1.7-1.6 0-1-1.7-1.6-4-2-2-0.1-1-0.9-3 0-1 0.8-2 0.2-0.7 1.6 3.7 1.7 0.3 1.3-3.3 1.3-0.7 0.7 0 1 3.7 1.6 3 0zM435.1 840l3.9-1.4 6-1.1 1-1.6 2-1.1 4-0.2 1-0.8 7-1.2 1-0.8 2-0.2 1-1.4 0.8-0.2-4.8-1.4-4-2.1-3 2.7-2 0.1-1 0.9-8 0.1-1-0.6-10 1.4-1.4 0.9-0.3 2zM707.4 837l7.3-3 1.6-1 0.2-1-8.9-3-7.6-1.2-4.2 0.2-0.1 1 3.4 6 3.9 1.9zM376.9 837l2.6-1 2-2 1.1-4-0.3-1-4.3-0.3-7 1.1-3.8 1.2-1.8 1-0.4 1 2.1 2 3.9 1.8zM595.7 832l0-2-1.7-1.7-6 1.2-1 0.8-10 0.1-0.7 0.6 2.7 1.5 14 0.3 2-0.1zM556.6 844l2-2 0.2-2 1.9-2-1-5-1.7-1.6-7-1.1-1-0.8-6 0.5 1 1.3 6 2.3 1.4 1.4-0.4 2.2-2 0.2-1 0.9-7 0.1-1 0.9-4 1-1.8 1.7 0.1 1 1.7 1.8 4-0.2 1-0.8 7-0.2 1 0.8 6 0.1zM499.6 835l-0.6-2.4-3.3-1.6-3.7-0.7-1 0.7-2.1 0 1.1 0.1 2 2.4 2 0.2 1 0.9 3 0 1 1zM314.1 838l3.2-1 1.2-1 0.1-1-0.6-0.8-5-1.7-7-0.5-5 2.3-2 1.7 0.5 1 4.5 1.3zM781 838l2.8-1 0.1-1-3.8-2-5.1-1.1-8 0.6-3 1.3-1 1.2 1 1.2 5 1.2 7 0.2zM527.7 841l1-1-1.7-0.7-3.4-3.3 0.4-0.5 2 0 1-1.2 2 0 0-1.1-11 0.2-1 2.2-2.5 0.4-0.2 1 2.7 1.2 2 0.2 5 3.1 3 0.1zM842.8 835l-4.8-1.9-1-0.1-1.2 1 3.2 1.6zM478 845l2.3-3 0.1-1-4.4-2.5-3-0.2-1-0.8-4-0.1-1-0.9-2 0-1-1.1-6 0-0.7 0.6-0.1 1 0.8 0.4 7 1 3 1.1 3 2.4 0.9 2.1 2.1 1.3 2 0.3zM267.1 840l5-1-3.1-0.5-2.7 0.5zM606.2 843l0.5-2 2-2-0.7-0.1-1 1-2-0.3-3 1.4zM521.5 847l0.5-0.5 3 0.1 0.7-0.6-0.1-1-1.6-0.6-5 0.5-1 1-2 0.1-1.1 1zM624.8 853l6.2-2-0.1-1-5.9-0.6-3-1.1-5 0.9-4-0.4-4-1.6-2-1.8-3 2.6-4.8 2 0 1 0.8 0 3-1.7 5 0.4 5 2.9 7 0.2 1 0.7zM442 864.1l-10-0.1 0.8-5 1.2-1.2 2-0.1 1-0.8 4-0.2 2-0.9 1.8-1.8-0.8-4.1 3-0.1 6 3 0.1 1.2-3.9 4 0.1 3-3.3 2.2-3 0.2zM661 853.1l-5 0.2-1.2-1.3 5.2-0.4 1.2 0.4 0.4 1zM579 866.1l-3 0-2-0.9-2.2-3.2 2.2-2.2 1 0 6 2 1.2 1.2 0 2zM561 868.1l-3 0-5.1-4.1 6.1-2.1 3-0.1 2 1 1.2 1.2 0 2-1.2 1.1-2 0.2zM340 883l-16-0.3-5-1-2.3-1.7 1.5-2 4.3-2 15.5-4.5 23-1.9 14-4 25-1.1 6 0.8 3.2 1.7-0.6 2-3.1 2-8.2 3-9.3 2.4-23 4.2zM505.4 870l2.7-1 0.1-1-3-3-1.2-0.2-1 0.7-3.2 0.5 0.3 3zM752 883.1l-11 0-13-0.9-30-4.5-11.7-2.7-9.5-3-5.4-3-0.6-2 3.2-1.7 6-0.8 25 1 14 4.1 23 1.9 15.5 4.5 4.3 2 1.5 2-0.8 1-2.4 1zM662 869.1l-1.4-2.1 1.4-1.4 1 0.2 0.2 1.2-0.2 1.6zM571 883l-5-0.9-3-2.9-4.8-0.2-1.2-0.7-2 0-1 0.7-7 0-2-2 0.9-2-2.9-2.9-6 0.2-2 0.9-10 0-2.3-2.2-0.2-2 2.5-2.6 6 0.3 7 3.1 1 1 7 0 2-1 10 0 1 0.1 0.2 1.1 2.8 2.8 7 0 1-0.9 1 0.1 1.1 1-0.9 1-0.1 2 0.9 0.8 4 1.1 0.1 1.1-2.1 2.1-2 0.2zM632 871.2l-3-0.1-0.2-1.1 4.2 0 0 1zM629 881.1l-6-0.2-6-1.3-5 0.6-7-0.2-17-2.3-8-2.1-2.2-1.6 0.1-1 1.9-1 4.2-0.6 26-0.5 2 1 0 1.1 1 0.5 15.1 1.5 4.1 1 3.8 2 0 1-1.6 1zM446 881l-8.8 0-4.2-0.8-8.5-3.2-1.2-1-0.2-2 2.9-2 2 0.4 5-0.8 15-0.4 6 1 4 2.8 0 2-2.6 2-4.4 1.4zM600 886.1l-8 0.2-4-1-2.2-1.3 0.2-2 3-1.2 5-0.1 6 1.1 3 1.1-0.1 2.1zM637 886.1l-4 0-2.1-1.1 0-1 1.1-1 4-0.1 2.1 1.1 0.1 1zM425 887.1l-5 0-0.4-1.1 1.4-1.2 5.6 1.2-0.7 1zM543 922l-5.4 0-1.6-0.8-4-0.2-0.1-1 7.1-4.1 4-1.1 3-2.8 2-1 3-0.3 5-4.7 1.8-1 0-2-2.8-3.9-3-2-2 1-3 4-7 3.4-4-1.9 0-2.6 0.8-1 0.2-2 1-1 8-4.1 0.9-0.9 1-3 2-2 0-1 2.1-1.1 6 0.1-1.9 2 0 2 1.9 2.2 0.1 2.8 1.9 2.8 3 0.9 4 0 5-2.6 3 1.8 5.2 6.1-0.1 2-3.1 1.3-1.8 1.7 0 1 1.8 1.8 2 1 2.8 0.2-1.8 1-10 1.3-8 2.8-3 0.2-10 3.7-4 0.2zM452 889.1l-5-0.1 1.3-1 4.7 0zM609 918l-5-0.8-1.2-1.2 0-2 2.1-2 0.1-1 0.6 0-10.6-1.5-9.4-4.5-1-2 4.4-4-5.8-5-3.2-0.8-4 0.1-1 0.7-3 0.2-5-4.2 2-1.1 9 0 2 0.9 2-0.1 3-1.1 4-0.3 17 2.4 6.5-2.7 7.5-0.9 6 0.4 4.2 1.5 3.1 5 0 1-1.3 1.5-5 1.5-8-0.1-3 3.3-2 0.2-1 1-4 0.1-5-2.1-2-0.3-3-1.9-3.5 0.8-0.2 1 6.9 3 11.8 2.6 3.4 1.4 0.7 1-2.7 2 4.6 0.4 3 2.8 0 2.8-2 1.1-11 0.4zM485 892.1l-5 0.6-0.6-0.7 1.6-1.2 2-0.1 2 0.2zM461 900l-10 0.9-9-0.7-0.6-0.2 0.2-1 0.9-1-3.5-0.4-4-1.4-1.2-1.2 0.2-0.9 8-1.1 7 1.3 10-2.2 10-0.9 7.9 0.8 2 1 0.5 1-1.4 2-3 1.4zM372 898l-7 0.8-8-0.1-6-1-1.7-0.7 0-1 4.7-1.4 8-0.5 8 0.5 4.7 1.4 0 1zM728 898l-7 0.8-8-0.1-6-1-1.7-0.7 0-1 4.7-1.4 8-0.5 8 0.5 4.7 1.4 0 1zM517 918.1l-5-0.3-2.9-1.8-1.7-2-0.8-2-0.2-3 1.1-3 1.5-1.8 3-1.8 3-0.6 3 0.5 2.8 1.7 1.2 0.2 1-0.7 6 0.3 3.1 1.2 1.1 5 0.8 1 0.1 1-1.1 0.9-5 0.2-3-1.4-1.4 0.3-2.6 4zM432 906l-2.9 0-1.6-1 4.5 0zM542 908.7l-2-0.7 0-1.5 2 0.6 0.7 0.9zM448 935l-7 0.1-3.1-2.1 1-3-1.9-4 0.2-1 2.6-2-2.3-3-0.5-3 1.1-2 2.9-2 13-4.3 4 0.2 15 2.8 12-3.1 7-1.1 13 0 0.7 0.5-1.4 1-0.1 3-8.2 3.2-12 2.3-8-0.5-2 0.5-0.5 0.5 1.5 0.6 6 0.8 3.3 1.6 0.7 2-3 2.8-6 1.6-12 0.8-1.4 0.8 1.2 1-1.6 1-2.3-1 0.8-1-0.7-0.5-13 0.6-0.8 1.9 1.9 2zM659 919.1l-7 0.8-3-0.8-0.1-1.1 7.1-5 3-1.1 1.8 1.1 0.6 2-0.8 3zM504 918.1l-8.7-0.1 0.7-1.3 2-1.3 3-0.4 3.2 2zM526 923.1l-5 0.3-0.4-0.4 4.4-1 1 0 0.8 1zM537 945l-10 0.1-6-2.8-3 0.3-2-2.2-2 0.1-3-1.1-3.7-3.4-1.2-5-1.1-0.4-0.3-1.6 2.7-1 3.6-3.4 4-1 3 0.6 3 1.9 1.5 1.9 1.5 4.1 4-1.4 3-3.7 12.7 0 0.5 2-5.2 4.1-1.7 2.9-0.2 5 1.8 2 0.1 1zM634 947l-25.9 0-10.3-2-3.7-2-0.8-2 1.5-2 3-2 0.2-1-13.8-5-3.1-2-1-2 0.7-1 2.2-0.9 6-0.6 23 0.9 8.1 1.6 5 3 2.9 1 0.2 1-0.2 1.1-6 0.9-1.9 2 1.7 1 13.2 3.4 4.5 2.6 0.4 1-0.9 1.3zM468 940l-2 0.1-2-1-1.1-1.1 0-1 3.1-1 3 1 0 1.9zM567 956.1l-6-0.1-5.9-3-0.3-1 0-1 2.2-2.1 5-2.9 4-1.1 1.4-0.9-0.5-1-2.9-1.7-6-1.3-1-0.8-3.4-0.2-1.6-1 4-1.2 1-0.9 8 0 10 3.8 5 0.2 1.1 1.1-0.1 1.1-4 1.1-2.9 1.8 1 2-0.1 2.8-5 2.6-1.9 1.6zM485 943.1l-2-0.1-2.9-1-0.1-2 5-2.3 3 0.1 2.2 1.2 0 2-1.2 1zM438 945.2l-8.8-0.2-3.2-1.8-2-2.2 1-1.1 2-0.2 11 0.3 2 0.9 0.3 1.1-0.1 1zM460 948l-7 0.7-5-0.3-1.3-0.4-0.6-3 3.9-1.7 6-0.7 14 0.5 3.4 0.9 0.2 1-2.6 1.4zM516 960.2l-4 0.3-4-1.9-4-0.4-1.3-1.2 2.2-3-0.2-2 0.8-3-1.5-1.4-2.2-0.6 0-1 1.2-1.2 5-1.4 1-0.8 6-0.4 1 2 4.3 2.8 1.7 3 10.9 1 1.2 1-0.1 1-1.8 2-1.3 3-3.9 1.3-7 0.3-1.6-0.6zM422 954.1l-2.7-0.1-1-1-0.5-3 0.9-3 2.3-1.1 5 0.1 4 0.9 1.2 1.1-0.1 3-2.1 2.1-6 0.3zM619 961l-6-0.6-9 0.9-12-0.3-7.4-1-3.1-1-1.1-1 1.3-2 2.3-1 7-0.8 7 0.2 11 1 8 1.5 5.1 2.1 0.4 1zM514 999.1l-4-0.7-3.4-2.4-1.8-4 0.5-4-1.3-0.5-3-0.4-10 1.9-10 0.9-22-0.2-6-0.5-4-1.1-1.9-1.1-1-2 0.8-1 3.1-1.1 18-3.1 7-0.5 31-0.8 2.8 1.5-0.2 1 1.4 2 1.1-1-0.4-1-4.2-4-6.5-0.9-1-0.7-2-0.3-2-1-0.1-1.1 1.1-1 9.5-2 1.1-2 2.4-2.2 0.2-0.8-0.7-1 0.5-0.5 5-0.3 1 0.9 9 0.6 1-0.7 5-0.3 6-2 6-2.9 4 0.1 1 0.9 7 1.2 0.1 2-1.1 1-12 0.3-7 1.8-10 0.2-3.8 0.7 2.3 4 2.5 0.6 0.3 1.4-3.3 3.8-6 5.2 5.2 6 0.7 5-2 4-2.9 1.6zM457 968l-10 0.2-2.8-1.2-0.1-1 3.9-2 4.6-1 27.4-3.3 8.7 0.3 2.4 1 0.3 1-3.8 2-10.6 2.4zM654 968.2l-6-1.1-2.2-2.1 0-2 1.2-1.2 4-1.1 7 0.1 2.3 1.2 0.6 2-1.1 2-1.8 1.1zM429 974.1l-8 0.1-1.1-1.2 0-2 2.1-2.2 5-2.8 6.8 0 0.2 1.7-0.9 3.3-2.1 2.2zM566 968.1l-3 0.8-3-0.8-1.1-1.1 0.1-1 6 0 2 1-0.3 1zM580 971.1l-2 0.8-2-0.8-2-2.1 1.7-1 2.3 0.2 2.1 1.8zM602 979l-15-0.5-5-1-2.7-1.5 0.2-1 3.5-1 15.5-2 9.5 0 3-2.1 2-0.2 3 1.2 1 2.4 6.4 1.7 1.5 1-0.9 1.3-4 1.1zM452 980.1l-5 0-4-0.8-4-2.1-3.1-3.2 0.1-1 4-2.1 6 0.1 6 3.9 3 3.1-1 1.2zM564 985.1l-6 0-4-1-4-2.8-3-1.2-0.2-1.1 1.2-1.1 1-0.1 9 0 4 1.8 6 1.3 0.9 1.1-1.9 2.1zM597 997.1l-3 0-1-0.7-7-1.2-2.2-1.2-0.9-1 0.1-1 2-2.2 2-0.9 4-0.1 2.9 1.2 2.2 2 1.9 3 0.1 1zM532 1003.2l-4 0.5-3-0.6-1.9-2.1 0.7-2 2.2-1.2 5-1 4 0.3 3 1.9 0 1-2 1.8zM505 1000.2l-7-0.1-0.1-1.1 2.1-1.1 4-0.1 2.4 1.2z"/>
<path fill="#0000cf" d="M536 649l-5 0.9-5-0.8-2.1-1.1-0.7-2 0.4-2 1.4-1.4 2-0.5 6 1.2 3.9 2.7 0.2 2zM504 649.2l-5.3-1.2 0.1-1 6.2-0.1 1.5 1.1zM507 665.1l-3-1.2-15 1.4-17-0.5-18-3-3-1.3-0.8-1.5 1.1-1 4.7-1.2 18-0.8 12 0.5 15 2.3 3-0.8 1 0.6 1.5-0.6-0.9-2-0.2-3 1.3-3 1.3-1.5 2-1.2 3-0.8 3 0.3 2.7 1.2 1.8 2 0.8 3-0.4 3-1 2-3.9 3.3-3 0.7-2 1.7-3 0.6zM590 658.1l-2.5-0.1-2.5-1-1.6-2 0.6-2 6.1-2 4.9-0.9 2 0.4 0.4 0.5-0.4 2-2.2 3zM557 669.1l-8 0-1.8-1.1 2.1-2 5.4-3 2.3-0.6 6-0.3 3.5 0.9 1.2 1 0.3 1-0.9 1zM517 679.3l-3 0.7-3-0.5-2.5-1.5-1.8-2-5.3 0-4.2-1-1.7-1 0.2-1 4.7-2 5.8-1 1.1-2 2.7-2.4 3-1.3 2 0.1 4.6 2.6 5.5 7-0.1 1-4 0.9-1.8 2.1zM445 676.2l-5-0.3-2.3-0.9-1.3-2 2.6-3 4-2.1 7-0.9 4 1 0.5 1-1.5 2zM607 672l-8.7 0-13.1-2 0.2-1 1.6-0.5 7-0.7 19 0.8 2.7 0.4 0.8 1-2.8 1zM432 681.1l-4-0.1-6-3-1.7-2 0-2 0.8-1 3.9-0.3 3.6 0.3 2.2 1 1.8 2 0.9 3-0.5 1.8zM613 677.1l-3-1-1-1.1 0-1.2 3-1 3.6 1.2 0.4 1-0.5 1zM578 678l-2 0-0.3-1 1.4-1 1.7 0 0.3 1zM483 683l-12 0.2-15-1.2-5.3-1-2.2-1-0.5-1 4-1.1 21 0.9 6.5 1.2 5.1 2zM564 680.3l-2 0.4-2-0.7 1.2-1 1.8-0.2 1.3 0.2 0.4 1zM657 686.1l-6 0-3.9-1.1-1.1-1 0.1-2 2.2-2 3.7-1 5.8 1 2.4 2 0.2 2-0.6 1zM547 687l-4 1-13-4.8-6-1.1-9 0.3-1 1.1-5.1-0.5 1.1-1.3 1-0.1 8 0.2 1-0.9 11 0 10 2 9 0.2 2.9 0.9 0.1 1-1 0.8zM516 704.8l-7-0.6-1-0.9-4.8-1.3-1.1-1 0.3-1 5.5-2-1.6-2-0.9-3-2.6-3 1.2-1.2 3.2-0.8 2.8-2.1 3-0.8 3 0.4 3 1.7 8.5 0.8 2.6 1 3.1 6-2.4 1-10 0-1.8 2.3-3.3 1.7-0.2 2 1 2zM602 689l-8 0.9-6-0.2-4-0.8-1.9-0.9 0-1 4.9-1.4 10-0.5 8 0.4 1.9 0.5 0.7 1-1.4 1zM564 711l-5.1 0-2.7-1-1-1 1.3-1 7.5-2.1 5.9-2.9-9.2-3-4.7-2.9-1-1.1 0-1 2.4-2 6.6-1.9 2 0.3 2.9 2.6 5.3 3 0.8 2-3.1 3 0.3 1 5.8 1.3 1.9 0.7 0.5 1-2.5 1-2.9 0.1zM429 700.1l-7 0.8-2.8-0.9-1-3 0.8-3 2-1 8 1.3 1.8 1.7 0.3 2-0.2 1zM468 701.2l-5 0.3-5.8-0.5-7.9-3 2.7-0.8 4 0.4 12.6 2.4 0.2 1zM612 719.1l-22 0.4-4-0.6-1.5-0.9-0.3-1 1.7-2 4.5-2 18.7-4-8.1-2.3-3.7-1.7-1-2 3.7-2.3 7-1.5 9-0.5 16 0.6 2.9 0.7 1.3 1 0 1-1 1-2.2 1-20.9 5 7.9 2.4 1.7 1.6 0 1 1.3-0.6 3 0.1 1.5 0.5 0.5 1-0.8 1-2.2 0.6-2 0.1-2-0.9-4 2.2zM437 707l-10 0.2-1.3-0.2-1.1-1 1.4-2 4-1.9 7-0.2 2.1 1.1 1 2-0.5 1zM542 720l-9 0-7-4.7-2-0.6-1.3 0.3-2.7 3.8-4 1.8-3-0.2-3-1.4-1 0.6-1-0.9-3-0.6-0.8-1.1 1.8-0.5 1.2-1.5-0.3-2 0.6-3 3.5-3.7 2-0.8 3-0.1 1-1 4 0.3 8-2.6 5.1-0.1 3.4 1 0.1 1-1.4 3 0.9 4 1.6 3 5.1 4 0 1zM487 709.1l-5-1-1.6-1.1-0.4-1.1 0.7-0.9 2.3-0.7 5.3 0.7 1.7 1.3 0 1.7zM468 710l-3 0.3-1.1-0.3-0.2-1 1-1 2.3-0.6 1.1 0.6 0.4 1zM457 738l-3.6 0-2.6-1-5.8-3.7-3.2-1.3-2.1-2-0.1-3 1.8-3-2.4-1-0.8-1-0.2-3 1.3-2-0.9-3 0.7-1 2.9-1.1 5 0.1 1 1-1.5 3 0.5 0.3 16 1.8 12 0.4 4 1.1 2 1.6 0.7 1.8-1.7 1.7-8.6 2.3-1.4 0.9 0.9 3.1-0.7 1-6.2 2.1-6 0.6-0.5 0.3 1.3 1 0.1 1zM573 750.1l-6-1-4 0-6 1.5-0.8-0.6-0.2-2 2-4 0-2-7-5.9-4.1-1.1-3.9-3-5.1-2-4.3-3 1.6-1 2.8-0.2 10 0.7 19 5.4 10.2 2.1 1.1 1-2.6 2-0.8 2 4.5 3 0.6 1.4-2 2.6zM528 743l-5 0.1-4-1.2-5 0.5-3-1-2-1.6-1.7-2.8-0.2-3 1.1-3 2.8-2.6 5-1 3 0.9 2.2 1.7 1.3 2 0.6 3 0.9 0.3 5-0.9 3.9 0.6-1.2 6-0.7 1zM660 734.1l-1 0.6-4-1.6-4.6-3.1-0.9-1 0.2-1 4.3-0.6 5 0.8 1.9 2.8zM503 731l-3 0.4-2.5-1.4 1-1 3.5 0 2 0.7zM498 737.1l-5 0.1-7.6-1.2-6.3-2-2.7-2 1.1-1 3.5-1 8-0.3 10 1.6 0.4 0.7 3.6 1.9 2.2 0.1 0 1-1.2 0.9zM600 741l-6 0.5-1.3-0.5-0.4-1 1.1-2 1.7-1 3.9-1 6-0.5 0.3-0.5-1.3-0.5-1-1.6 0-1.9 1.1-1 3.9-0.7 11.8 0.7 2.5 1 0.6 1-0.9 2.5-2.1 1.5-7.5 1-3.4 2zM555 762l-3.7-1-2.4-3-2-4-8.4-5-1.6-3 0.2-2 2.9-1 3 0.5 3.3 1.5 3.7 4.8 3 0.9 3-0.4 1.3 3.7-2.4 5 1.2 2-0.4 1zM623 755.1l-7 0.2-12-3.4-5.7 1.1-4.5 2-5.8 0.4-2.1-0.4-2.1-4 1.4-2 3.8-1.5 5-0.2 6 1.5 5.1-2.8 5.9-1 4.9 1 2.1 2 9 0.1 3 0.7 1.8 1.2-0.1 2-1 1-2.7 1.2zM472 753.1l-7-0.1-10-1.9-6.1-2.1-1.9-2 4-1.3 8 0.2 12.5 2.1 4.9 2 0.6 1-0.8 1zM514 898.3l-3-0.2-5-2.1-1-1 2-0.3 1.7-1.7-1.8-4 0.7-5-0.8-2-4.8-2.2-2-0.2-1.9 1.4-0.1 0.9-6-0.9 0-1.6-6-1.7-11-0.1-2-2.6 1-1.6 4-2.6 1.5-1.8-1.5-2-3-1.1-14 0.1-3.4-1-0.6-1 0.6-1 3.7-2 5.7-1.5 20-1.9 8 0.5 6-1.4 3-1.8 2-0.3 1.8-1.6 0.1-2 1.7-3-1.6-1.6-2-0.4-16 2.4-4-0.1-4-0.9-1.9 2.6 0 1 1.8 2-16.9 0.1-6-0.9-1-1.9-5.4-2.3-6.6-1.4-8-0.8-2.7-0.8-1.2-1-0.1-1 1.9-2 4.1-1.6 6.5-1.4-0.5-1.4 2.4-1.6 3.6-0.3 1-0.7 7-1.2 5-2.2 3.3-0.6-6.6-2-3.6-2-0.7-2 1.3-1 5.3-1.8 8-1.5 20-0.2 7.4-1.5-2.2-2-0.5-3-1.7-0.3-1 0.8-2-0.1-7 5-7 0.4-4-0.2-2-1.2-4-0.4-12-3.4-8-1.4-3.1-2.2 1.1-1.3 1.6-0.7-0.6-0.6-10.9-3.4-2.1-2 0.3-1 1.7-1.1 10.5-1.9-2.5-0.8 0.3-4.2-1.3-1.9-2-0.9-7-1.2-1-1-0.5-4 0.6-1 3.9-0.1 4.8 0.1 4.5 1 2.7 1.6 1.1 4.4 2.9 2.1 7-1.3 4 0.6 3.2 1.6 4.8 0.7 10-0.2 1.1 0.5-2.5 2 0.4 2.1 4-1.1 5-0.2 19 2.8 0.5-0.6-1.7-3 0-2-6.8-3.7-7-1.9-15-0.4-3-1.2-10-1.4-7.6-2.4-1.3-1-0.1-1 1.4-1 4.6-1 11 0 4-0.7 0.8-1.3-4.5-3-1.3-2 2-2.5 3-0.6 3 0.4 1.5 1.7 2 4 1.5 1 4-0.4 4 0.5 3 1.3 1.6 1.6 3.4 0.8 1 0.9 2-0.2 1.3 0.5 0.4-5-3.7 1.4-2 0-1-0.8-2 0-2-2.1-6-0.4 0.2-1.1-3.9-3 0.2-1-5.5-2.4-0.8-0.6 0.1-1 3.7-1.2 15 0 1 0.5 6.3-1.3 1.3-1-0.7-5 0.4-4-3.5-1 7.2-3.4 4-0.2 3.3 1.6 2.7 0.4 1 0.9 1-0.5 9-0.5 1.7 0.7 0.7 1 0.2 2-1.3 2-4.9 2-2.4 0.1-1-0.6-2.1 0.5-2.1 4-0.1 1 1.3 1.6 6.5 4.4-3.5 2-3 0.4-1 1.1-2.6 0.5 4.6 1.5 2-0.9 9.8 0.4 4.3 1 0.6 1-7.7 4.1-4.3 0.9-1.7 2.5-3 1.9-6.2 1.6 7.2 0.7 1-0.9 7.2 0.2 2.1 1-3.8 3 1.5 0.9 2 0.1 2-1 5.7-4-3.6-2-0.1-2 1-1 4-0.8 3.3 0.8 1.4 1-0.7 1-3.6 2 0.4 1 3.2 0.8 7.1 0.2 3.6 1 0.3 1-3.3 3 0.3 0.8 3 1 7-3.8 5 0 5 4 0.8 1 0.2 2.3 9-1.6 11-0.4 5 1.2 2 2.2 0.7-1.7-6.7-3.5-2-2.1-7 0.2-3.8-1.6-1.5-2 0.6-2-1.3-1.9-5 1.9-3.1 0-1.5-1-0.3-1 0.8-2 3.1-2 5.5 0 2-2 2.5-1.2 6-0.5 5 1.5 1.5 1.2 1.2 2 2.3 0.6 1-0.3 5.5 1.7 1.7 1 0.6 2 4.2 0.7 8 0 5 0.9 11-3.2 7-0.4 6 0.7 1-0.8 6.9 1.1-0.9 1.2-4.2 0.8-1.8 1.2-1-0.2-5.3 3-0.3 1 4.7 4 0.4 2-0.8 2 3.3 0.7 4-0.1 2.8 1.4 0.2 0.9 3-2.9 7.1-4 1.8-3 2.1-1.9 6-2.1 7-0.6 12 0.7 6 1.2 8 3.1 3 0.5 5.4-1.9 4.2-4 0.7-4 2.7-1.5 22-1.1 17-2.1 15 0.5 9.2 2.2-3.2 0.7-21-1-10 0.5-6 1.4-9.9 4.4 0.7 1 5.5 1 25.7 2.4 4 1 5 2.9 9 0.7 9-0.7 7-2.2 1.5-2.1-0.4-3 2.9-1.8 6-0.4 6 1.1 4.2 2.1 3.5 4 0.5 4 2.3 4-1.1 4 1.3 5 0.2 4 1.9 2 6.5 3 1.6 2-0.9 1.1-4 1.3-15.9 0.6 1.9 0.5 4.5 3.5 0 4 6.9 6 0.1 1-0.8 1-6.7 2.4-28 3.8-31 3-13.9-1.2-1.6-1 1.6-3-4.7 0-16.8 2-3.9 1-0.8 2-1.9 0.9-1-0.9 0.1-2-2.6-1-10.7-2-10.4-1-2.9 1 0.2 1 4.3 2.1 2 1.9-0.1 1-1.9 2.5-6 1.5-16 0.9-6-0.7-5-1.7-10.8-7.5-1.5-2-0.7-3 2.7-6 0.3-2-1.2-2-2.8-2.5-3-0.7-7 1.7-4 0.2-8-2.1-1.5 0.4-5.5-1.9-5-0.4-1 0.3-0.3 2-0.7 0.5-7 0.5-5-1.8-2.4-2.2-0.6-2.3-2.5-2.7 0.5-3-1-0.2-4.8 2.2-0.5 1 1 2-2.1 2 0.4 1 2 1.8 7 3.1 5 3 1.5 2.1-0.5 1.3 5 0.3 3 1.1 2 1.5 2 0.4 1-0.6 3 0.5 11-0.5 8 1.9 4-1.9 6-0.6 0.8 0.6 0.2 3-3 2.4-6 0.4-1.6 3.2-3.7 3 0.1 1 5.2 3.1 2 0.5 2 2.4 3 0.9 0.2 1.1-5.2 0.2-2-1.2-4 0.5-6-0.3-5.8-1.2-2.2-1.2-6-0.9-3 2.1-10 0.2-4 0.6-3 1.3-4 0.2-13-1.5-3-0.9-2.7-1.9-0.2-2 1.9-1.4 4-0.9 6-0.2 7-2.6 4 0 5 2.9 7 0.2 6 1.1 9.4-2.1-0.3-1-4.1-2.2-6 0.4-3-1.3-6 0.8-5-1-2.6-1.7-1.3-2 0.4-3 2.2-2-1.7-0.3-1 0.9-2-0.2-1 0.8-8.1-0.2 6.1 2.2 2-0.1 2.9 1.9-0.4 2-1.5 0.8-2-0.1-6 1.4-10 0.5-11-1.5-0.9 0.9 0.6 2-0.7 2-5 3.9-5 0.1-4-2.2-0.9 0.2-2.1 1.6 0.5 1.4-0.5 1.2-2 0.2-1 0.7-8 0.2-3 0.9-0.8 0.8 3.7 2 0.6 1-1.3 1-3.2 0.7-4-0.7-1-1.4 1-2.2 2.9-1.4-6.9-4.5-3-0.6-1.6 1.1 3.5 3-1.9 1-6 0.7-1.2-0.7-0.2 3-1.6 2.2-3 2.2-5.7 2.6 2.6 4 4.1 0.9 1 0.8 2.7 0.3 3.7 2-6.6 5 1.2 6 2 0.5 1-0.6 1.9 0.1 4.1 1.3 2.1 1.7 0.2 3-1.3 1.3-2 0.5-10-1.3zM446 753.1l-7 0.5-4.2-0.6-0.7-1 1-1 3.6-1 6.3-0.3 2.4 1.3 0.3 1zM575 758l-5.1 0-1.8-1 1.7-2 3.2-1.5 9.5 0.5 1.6 1-3.3 2zM484 756l-2.6 0-0.9-1 3.9 0 0.1 1zM424 761.1l-3 0.8-0.6-0.9 0.2-1 2.4 0 1.5 1zM383 765.2l-7 0.3-9-0.7-10.1-1.8-4.5-2 6.6-1 13 1 6.2 1 6.1 2zM594 766.3l-6-0.6-1.6-0.7-0.4-1.8 1.7-1.2 6.3-1.2 5.6 0.2 3.4 1.8-0.5 1.2-2.5 1.1zM637 763.1l-2 0.7-2-0.1-1.6-0.7 0-1 2.4-1 1.9 0 2 1zM711 765l-11 0.5-3.8-0.5-0.5-1 6.1-2 10.2-1.4 10-0.6 5.6 1-4.5 2zM452 773l-7 0.4-11.3-1.4-2.9-1-0.8-1 0-2 1.4-2 4.6-1.3 8-0.2 7 0.9 4.1 1.6 1.7 2-0.8 2.1zM557 777l-8.7 0-3-1-0.6-1 2-2-0.6-3 0.6-1 2.3-0.7 8 0.6 6-0.9 3.9-3 3.1-0.6 3.4 0.6 2.2 2-0.3 1-5.7 2 0.9 3-5.5-0.6-3 0.6zM609 776l-14 0.3-1-0.8-8-0.4-1-1.9-3.9-1.2 0-1 4.8-2 16.1-2.7 9-0.4 4.7 1.1 0.3 1-0.8 1-5.5 2 0 1 1.8 3zM627 768.3l-5 0.7-2.9-1 0.2-1 1.6-1 4.1-0.5 3.2 0.5 0.8 1zM403 783.3l-6 0.7-12-1.6-21-6.1-28.5-3.3-8.9-2-2.9-1-1.1-1 4.4-1 10 0.7 22 4.8 18-0.8 9 0.6 7 1.9 8.9 3.8 2.5 2 0.2 1zM690 783.1l-10 0.8-3-0.6-1.6-1.3 1.1-2 3.7-2 7.4-3 6.4-1.7 9-0.6 18 0.8 22-4.8 10-0.7 4.4 1-1.1 1-2.9 1-8.9 2-27.5 3.1-17 5.1zM632 777l-2.8 0 0.1-1 2.9 0zM564 784l-2 0.9-2 0-6.5-1.9 0.5-1 3-1.8 3-1 3.3 0.8 1.5 1 0.2 1.6zM272 794l-7 0.4-5-0.4-2.3-1-1.1-2 0.2-1 2.2-1.6 7.7-2.4 5.2-3 5.1-1.2 28-1.2 11 0.4 6 1-15 0.7-11 1.6-6.6 2.7-1.8 3-1.6 1zM401 856.2l-7 0.7-15-0.9-6.2-1-4-2-0.7-1 0.9-1.7 8-3.3-2-0.6-4.3 0.6-6.8 4-5.1 2-8.8 1.5-10.7-0.5-6.7-1-6.2-2-2.4-2.2-4-0.5-24.3 0.7-8.7 3.2-17 1.1-9 1.5-5 0-4.3-0.8-2.7-1.2-1.7-1.8 0-1 1.7-1.6 12-3 8-4.2 10.8-2.2-0.7-1-4.1-1-11-0.5-4.2 0.5-0.8 0.6-0.8 2.4-6.2 1.9-9 0.5-6-1.6-1.3-1.8 1.3-1.4 4-1 8.8-0.6 0.6-1-5.9-3-0.3-1 1.3-2-0.5-1-4.6-3-0.2-1 3.4-2 2.4-3 4-2.4 9-3.2 12.8-2.4-28.8-2.4-3-1-1.2-1.6 2.4-2 5.8-1.5 19-2 8 1.5 4-0.3 14-2.5 4 0.2 11 3 9 0.2 8.6-1.6 6.4-2 4-3.4 4-1.6 11-1.3 4 1.3 1.4 3 3.8 2 10.8 3 4 0.1 3.8-1.1 0.4-1-9-5-0.6-1 0.9-1 6.1-2 6.4-1.1 13-0.4 6 0.9 3.8 1.6 2.3 2 1.8 3 9.1 5.6 2-0.2 1-0.8 6 0.4 1 0.9 5.3 2.1 0.7 2-0.3 1-3 3-1.9 3 1.6 2-0.4 1.1-8 0.1-1-0.9-2-0.3-3-2.6-0.7 1.6 0.4 2 3.3 3.3 4 0.6 4-1.1 6-0.5 2-1.5 5 0 1.8-0.8 4.2-0.1 4.6 0.1 2.4 1 1.9 2 0.2 6-2.1 3-2 0.2-1 0.8-8 0.2-1-0.7-10 1.2-1.6 1.3-0.3 2 4.2 5 0.2 1-0.8 2-5.7 2.2-1 0.9-5 0.4-2.3-1.5-2.7 3.8-5 3.7-5 3zM660 795.1l-3 0.8-2-0.8 0-1.1 4.6-1 1.1 1zM658.1 821l0.9-1.6 3-0.2 1.6-1.2 1.1-2-0.7-2.6-3.3-4.4-2.7-0.5-1-1-3-0.3-6-3.1-6 0.9-5 0.1-11-2.2-3.2 2.1-4.8 0-2.4-2 0.7-1-0.3-0.7-4-1.8-2-2.6-2 0.6-1.9 1.5 1 1 0 1-0.1 1-1 0.8-1 0.2-1-0.8-1-2-0.2 0.8-2.8 2-7.7 3 4.7 0.9 7.5 0.1 4.5 1.7 3 0.2 2 1 1.1 1.1 0.1 1-2.2 3-1 0.2 5-0.2 13 2.4 11 0.9 3 1.2 6 0 7 2 1 0.1zM710.1 801l3.4-2-0.5-1-3-0.1-6.1 1.1-3.2 1-0.1 1 4.4 0.8zM775.7 802l3.7-1 1.8-1 0.5-1-0.7-0.9-2-0.6-11-0.4-7 1-2.5 0.9-1 1 0.5 1 2 0.9 4 0.8zM525.8 802l0-1-0.8-0.7-3 0-1-0.7-6.2 0.4 1.2 1.2 2 0.1 1 1 6 0.4zM467.4 810l0.6-0.6 4 0.2 6-1.9 2-1 2.7-2.7-2-2-1.7-0.6-5-0.1-1 0.8-2 0.2-1 0.8-2 0.4-1.2 1.5-0.1 3-1.1 2zM550.9 817l7.1-1.2 1.9-1.8 1-5-2-2-0.9-2.4-1-0.7-7 0.5-13-2.3-1.9 1.9 0 1 0.9 1 3 1.7 2 0.2 1 0.8 7 0.2 1 0.8 2 0.3 1 1-2 2.2-7.9 3.8 0.9 0.9 6-0.2zM536.2 821l6.7-3-0.9-0.9-4 0-6-3.8-8-2.2 3-3.2 1.8-0.9-0.8-0.9-2-0.8-2 0-8 4.1-4-0.7-1.1 1.3 3.1 0.3 1 1 2 0.2 0.5 1.5-0.8 1 0 2 1.3 1.3 3 0.3 2 1.7 5 1 1 0.8zM382.3 819l1.7-0.6 0.9-1.4-1.1-3-2.8-2.5-4-1.6-3-0.2-4 0.8-8 3.5-0.4 1 9.8 3zM707.4 818l10.7-3 0.8-1-8.9-3.6-6-0.6-5.9 2.2-1.8 2-0.7 2 0.8 2 1.6 0.6zM813.9 815l-1.8-1-6.1-1-4 0-1.9 1 9.9 1.3zM595.6 817l0.2-2-1.8-1-15 0.6-2.6 1.4 11.6 0.5 7 1.3zM778 815l-7.5 0 4.5 0.5zM560.9 828l2.1-0.2 4-2 1.9-1.8 0-1-1.9-1.8-7-3-3 0-1 0.8-2 0.2-0.9 0.8 0 1 3.9 1.9 0.1 1.1-3.1 1.2-0.9 0.8 0 1 3.9 1.8 3 0zM824.2 825l-6.2-2.7-2.2 0.7 0.5 1 1.7 0.9zM378.5 837l3.2-2 2.3-3.8 3.1-3.2-0.4-1-3.7-0.1-11.6 2.1-9 3-0.1 1 1.5 1 6.2 3 4 0.8zM709.3 837l9.8-4 1-1-9.9-3-9.5-2-5.7-0.7-2.6 0.7-0.1 1 7.2 8 4.5 1.5zM594 833l1.8-1 0.1-2-1.9-1.8-7 1.8-10 0.2-0.9 0.8 2.9 1.7zM419.2 831l0.8-0.9 3 0.1 0-0.8-3 0.4-1.8 1.2zM499.8 835l-0.8-2.9-2.3-1.1-8.9-1 4.2 3.7 2 0.2 1 0.8 3 0.2 1 0.9zM556.8 844l2-2 0.2-2 1.9-2-1-5-1.9-1.8-7-1.1-1-0.8-6.2 0.7 1.2 1.5 6 2.3 1.2 1.2-0.3 2-1.9 0.2-1 0.9-7 0.2-5 1.9-2 1.8 1 2.5 1 0.5 4-0.2 1-0.8 7-0.2 1 0.8 6 0zM776.9 839l8.7-1 1.7-1-1.9-2-3.4-1.6-12.5-3.4-16.5 0.1-9.2 0.9 3.8 1 12.4 0.6 2 1-0.4 2.4 0.9 1 2.3 1 5.2 0.8zM315.9 838l4.4-2 1.4-2-0.1-1-10.1-2-7.5-0.1-3.4 1.1-3.8 4 0.5 1 1.7 0.7 5 1 6 0zM527.9 841l1-1-1.9-0.9-3.2-3.1 2.2-0.3 1-1.2 2-0.1 1-1.2 2-0.1 0-0.4-10 0.4-5-0.4 0.4 2.3-2.4 0.5-1.4 1.5 5.4 1.6 5 3.1 3 0zM480.3 845l1.8-3-6.1-3.6-8-1.2-1-0.9-2-0.1-1-0.9-6-0.1-1 1.5-2.2 0.3 12.2 2.6 3 2 1.2 2.4 2.8 1.5 5 0.1zM521.7 847l3.3-0.3 0.9-0.7-0.1-1-0.8-0.8-6 0.5-1 1-2 0.1-1.3 1.2 6.3 0.4zM441 864l-7.2 0-0.9-1 0.4-4 1.2-1 6.5-1.1 3-1.5 1.2-2.4-0.3-2 1.1-0.8 2.9 0.8 3.5 2 0 1-3.2 3-0.1 4-1.1 1.1zM660 853.1l-4 0-1-1.1 5.5 0 0.1 1zM823 855l-6 0.4-2-0.4-0.4-1 1.7-1 5-1 4 0 1.6 1zM581 865.1l-3 0.8-3.9-0.9-1.1-1-0.7-2 1.7-1.8 5 0.8 2.9 2 0.1 1.6zM563 867l-4 0.6-4.9-2.6-0.4-1 2.1-1 6.2-0.8 1.9 0.8 1.1 1.8-0.3 1.2zM508.8 870l2.2-1-5-4.2-2-0.3-1 0.7-3 0.2-1.3 1.6 0 3 1.3 0.2 1-0.8 5 1.1zM343 882l-16-0.3-4-0.9-1.4-0.8-0.1-1 4.5-2.8 8-2.3 10-2.1 19-1.9 14-3.3 18-0.3 5 0.7 1.8 1 0.2 1-0.9 1-3.6 2-13.4 4-20.1 3.8zM534 873l-9 0-2.1-2-0.1-2 2.2-2.3 6 0.2 8.4 4.1-0.6 1zM750 882l-21-0.6-25-3.6-18.8-4.8-6.3-3-0.9-1 0.2-1 1.8-1 5-0.7 18 0.3 14 3.3 19 1.9 10 2.1 8 2.3 4.5 2.8-0.1 1-1.8 1zM573 882l-3 0.6-3-0.6-3-2.6-7-1.3-9 0.4-1.8-1.5 0.7-3-1.8-2 0.6-1 3-1 7.6 0 1.7 0.6 3 2.9 2 0.8 3 0.4 4.1-0.7-0.8 3 5.8 2 0.4 1-0.7 1zM631 871.1l-1.3-0.1 0-1 2.2 0 0 1zM631 879.1l-6 0.6-8-1.7-6 1.3-8-0.3-17-2.6-4.1-1.4-0.9-1 1-1.1 7-1.2 19-0.7 3.2 1-0.2 2.3 16.8 1.7 3.1 1 1.2 1zM448 880l-6 0.3-6-0.6-8-3.8-1 0.1-0.8-1 0.8-1.3 1 0.7 4-1.5 14-0.8 6 0.7 3.7 2.2-0.1 2-1.1 1zM599 886.1l-8-0.2-4.8-1.9-0.2-1.3 3-1.7 3-0.2 8 1.2 2.4 1 0.6 1-0.8 1zM637 885.3l-3 0.6-2.4-0.9 0-1 3.4-0.7 2.2 0.7 0.3 1zM422 887l-1.2 0-0.3-1 0.5-0.6 3 0.6zM544 903l-4 0.9-2.7-0.9-0.3-2 1-2.2 1.7-1.8 7.4-4 1.9-3.9 2.6-3.1 3.4-0.9 0.8 0.9-1.2 2 2.5 4-0.5 3-0.6 0.8-6 1.2-2.7 4zM602 895.1l-3 0.8-5-1.1-5-0.3-5-2.1-2.4 0.6-8.6 0.4-3.1-1.4-1.6-2 2.4-1 5.3 0.1 4.5 0.9 2.5 1.4 1.5-1.4 2.5-0.7 8 0.4 4.9 1.3 1.2 1zM611 902.1l-5.8-1.1-4.2-2-0.7-1 3.7-2.7 7.9-2.3 0.8-3 4.3-1.4 9 0.5 1.9 0.9 0.8 2 2.1 2-0.8 1.6-2 0.9-10 0.1-0.1 2.4-1.9 1.9zM484 892l-3.4 0 1.1-1 1.3-0.1 1.2 0.1zM462 899l-11 0.7-3.7-0.7-0.8-1 2.1-2 2.3-1 10.1-2.3 10-0.4 3.6 0.7 1.4 1 0 1-1.1 1-2.3 1zM445 897.4l-7-0.6-2.8-0.8-1-1 0.7-1 5.1-0.6 6.7 0.6 1 2-0.7 0.9zM369 897.1l-9 0.8-5.3-0.9 0-1 9.3-0.9 5.3 0.9zM725 897.1l-9 0.8-5.3-0.9 0-1 9.3-0.9 5.3 0.9zM541 921.1l-5.4-0.1-1.9-1 4.3-3 6-2.6 3-2.4 4-1.1 7.1-5.9 0.2-1-2.1-5 0.8-2 9 0.9 7-0.8 6.8 5.9 0.2 1.1-0.6 0.9-4.5 3 0.7 2 2.5 2-1.1 1-11 2.1-15.3 4.9zM518 917.1l-5 0.3-2.9-1.4-1.9-2-1-2-0.1-3 2.1-4 2.8-1.9 3-0.6 5 1.5 8.2 0 2.8 1.1 2 5.9-0.2 1-4.8 0.5-5-1.3-1.8 3.8zM609 909.2l-6 0.2-5-0.8-6.4-2.6-2.6-2 0.7-1 1.3-0.4 5.2 0.4 12.7 4 1.5 1-0.6 1zM446 935.1l-4.4-0.1-2.5-1-0.6-1 0.9-4-1.1-4 0.7-1 2.5-1-2.2-3-0.6-3 2.4-3 11.9-4.8 4-0.2 3 1.7 4 0.5 5.1 1.8 1.9 1 0.4 1-1.2 3 0.7 1 8.8 2 1.8 1 0.5 1-0.5 1-2.5 1.4-7 1.4-16 0.7-9-1-1.4 3.5 2.4 4zM492 915.1l-10 0.5-3.7-0.6-2-1 0.3-1 3.4-2 10-2.5 7-0.3 3 0.5 2.9 1.3-0.2 1-3.4 2zM619 917l-12 0.6-3-0.7-1-0.9 0-1.8 3-2.6 5-1.2 8 0.3 3 1.8 0.9 2.5-0.7 1zM658 919.1l-6 0.4-2.2-0.5-0.3-1 5.5-4 4-1.7 1.6 1.7 0.3 2-0.9 2zM500 918l-2.3-1 3.3-1.1 2.2 1.1zM533 945l-5-0.3-7-2.6-3 0.2-1.5-1.3-0.5-1.4-3-0.1-2-0.8-2.9-2.7-1.2-4-0.9-1.4-1-0.3-0.2-1.3 3.4-1 2.8-2.6 4-1 2 0.2 3 1.6 2.3 2.8 0.6 3 1.1 0.3 4-1.5 2.8-2.8 2.2-1 7-0.1 3 0.5 0.7 1.6-5 4-1.6 3-0.9 4 1.4 3-0.2 1zM613 935.1l-5 0.8-14-2.7-6.6-2.2-3.1-2-0.6-1 1.3-1.5 3-0.6 18 0 10 1 4.4 2.1 0.5 1-0.7 2-2.2 1.5zM627 933.1l-4 0.2-1.9-1.3 0-1 0.9-0.6 2-0.1 3.2 0.7 0.8 1zM566 955.5l-3 0.3-5.5-1.8-2.5-1.9 0-1.1 2.3-2 4.7-2.6 8.8-2.4-6.8-2.9-7.4-2.1-1.2-1 0.9-1 2.7-1 5 0 11 3.9 2.7 0.1 2.6 1-0.5 1-2.8 1-5.8 1 3.1 3 0.6 2-1.9 2-3 1.2zM468 939.1l-1 0.5-2.2-0.6-1.1-1 0.3-1 4 0 0.5 1zM634 946l-19 0.6-8-0.4-9-2.2-1.5-1-0.6-2 2.1-1.9 4-1.6 5-1.3 4 0 23 4.9 3 1.7 0.5 1.2-0.8 1zM488 942.1l-5 0.6-2.3-0.7-0.7-1 2-2.1 3-1 2.7 0.1 2.3 1 0.1 1-0.3 1zM437 945.1l-7-0.2-3.9-1.9-1.4-2 1.1-1 1.2-0.1 10.2 0.1 2.3 1 0.6 1-1 2zM527 959l-7 0.4-1-0.6-6 1.1-4.8-1.9-1.2 0.5-3-0.5-1.1-1 2.7-3-0.1-3 0.8-2-2.3-1.6-1.9-0.4-0.1-1 3.2-2 2.8-0.4 1-0.8 6-0.3 1 2.6 4.2 2.9 1.3 3 1.5-0.5 7.7 0.5 2.5 1-2.2 5-0.9 1zM459 947l-6-0.2-1.7-0.8-0.1-1 2.7-1 5.1-0.3 6.8 0.3 2.8 1-1.6 1zM421 954l-2-1-0.5-1-0.2-3 1-2 1.7-0.8 4 0 4.5 0.8 1.4 1 0.1 2.5-2 2.2zM602 960l-13-0.7-3.1-1.3 0.1-1 3-1.1 7-0.2 9.5 1.3 2.5 1-0.5 1zM516 980.2l-2 0.6-2-0.3-3-1.8-2-2.1-6.4-0.6-4.8-2-0.2-1 5.6-2 4.8-0.2 1.4-2.8 2.6-2-1-2.2 5-0.3 1 0.8 9 0.6 6-1.1 13-4.7 8.3 1.9 1.6 1-0.1 1-1.8 0.7-7 0-11.7 2.3-12.3 0.7-1-1.1-1.3 0.4 2.5 2 1.6 3 3.2 0.9 0.1 1.1-3.1 3.6-1.5 0.4zM657 967.2l-4 0.8-4.7-1-2.2-2-0.1-2 1.1-1 3.1-1 7.8 0.1 1.8 0.9 0.7 2-1 2zM458 967l-7 0.4-2.3-0.4-1-1 1.2-1 3.3-1 15.8-1.7 6 0 5 1.7-1.8 1-4.9 1zM428 974.1l-6.8-0.1-0.9-1 0-2 1.7-2 5-2.6 5.6-0.4 0.9 1-0.9 4-1.8 2zM564 968l-2.6 0-1.3-1 2.9-0.5 1.5 0.5zM578 971.1l-2.2-1.1 0.5-1 1.7 0.1 1 0.8zM611 978l-18-0.1-6.2-0.9-1.5-1 2.4-1 10.3-2 10-0.1 3-2.7 2-0.3 2.5 1.1 0.5 0.8-1.1 2.2 5.2 2-0.7 1-1.4 0.3zM450 980l-4-0.3-5-1.6-4.1-3.1-0.3-2 1.1-1 3.3-1.1 4 0.1 2 0.9 6 4.1 1.5 2-0.5 1zM561 985l-6.3-1-6.9-4-0.5-1 1.7-1 8.4 0 9.7 3 0.9 1-1.6 2zM516 998.2l-5-0.1-3.5-2.1-2.1-4 0.2-3 0.9-2-0.5-0.3-1 0.7-4-1-14 2.4-13 0.5-18-0.9-4-1.1-1.4-1.3 0.4-1 2.1-1 16.9-3.4 24-0.5 10 1.6 1.4-0.7 0.6-2 2.4 1-0.2 1 1.8 2.3 4-0.3 2 0.7 3 2.3 1.5 2 0.8 3-0.8 4-1.8 2zM597 996.4l-2 0.5-9-1.9-2-1-0.6-2 1.6-2 2-0.8 4-0.2 2.4 1 2.3 2 1.6 3zM533 1002.3l-4 0.7-3-0.3-2.3-1.7 0.3-1.9 2-1.1 5-0.9 4 0.6 2 1.2 0.2 1.1-0.8 1zM504 1000l-5.1 0-0.1-1 4.2-0.8 3.1 0.8z"/>
<path fill="#0000de" d="M534 649l-4 0.3-4-0.7-2-1.3 0-2.4 1-1.3 2-0.6 5.9 1 1.8 1 1.5 2-0.3 1zM509 664l-5-2.2-11 2.5-18 0-18.5-3.3-2.1-1-0.3-1 1.9-1 4-0.6 19-0.8 12 1.2 12 2.7 1.8-1.5 2.4-1-1-2-0.2-3 2.3-4 1.7-1.2 3-0.7 4.6 0.9 2.1 2 0.8 2 0.1 3-0.8 2-2.8 2.9-4 1.3-2 2.1-1-0.1zM592 657.1l-2 0.7-3-0.3-2.5-1.5-0.6-2 0.8-1 2.2-1 8.9-1 0.6 1-1.3 3zM555 669l-4 0-2.3-1 0.4-1 7-4 5.9-0.5 3 0.5 1.5 1 0.2 1-1.3 1zM516 679.1l-4 0.1-2.6-1.2-2-2-3.8 0-4.6-1-1.9-1 0.1-1 4.4-2 5.2-1 1.2-2 3-2.2 2-0.6 3 0.3 3 1.8 5.6 6.7-0.6 1-2 0.4-1.2-0.4-1.8 2.5zM443 676l-4.6-1-1.2-1 0.2-2 2.2-2 4.1-2 5.3-0.8 4.2 0.8 0.7 1-1.4 2-5.6 4zM432 680.4l-3 0.3-5-1.9-3-2.1-0.2-2.7 1.6-1 2.6-0.1 2.4 0.1 2.6 1 2.4 3 0.5 2zM614 676.3l-2 0.3-1.5-0.6-0.9-1 0.2-1 2.2-0.6 2.7 0.6 0.7 1zM473 682l-7.2-1 0.1-1 6.1-0.2 4.8 1.2zM656 686l-4.1 0-4-1-1.3-1-0.1-2 2.4-2 2.1-0.5 3-0.2 3.2 0.7 2.7 2 0 2-0.6 1zM514 683.2l-4.4-0.2 0.4-1 8 0-3 0.2zM546 686.1l-4 0.3-14.5-4.4 3.5-0.4 5 0.4 6 1.9 6.7 1.1zM516 704.3l-6.6-0.3-6.1-3 0.3-1 1.6-1 3.5-1-1.8-2-0.9-3-1-0.4-2-2.6 1-1 3.9-1 2.1-1.5 3-0.8 3 0.4 3 1.9 1-0.6 6 0.6 3 1 1 1 1.7 4-0.4 1-5.7 1-2.6 0.1-1-0.6-1.8 0.5-2.2 2.3-3 1.3zM596 688.1l-6-0.1 1-1.1 7.3 0.1zM570 701.3l-5-0.3-3.3-1-5.2-3-0.8-2 1.3-1.2 3-1.2 5-0.2 7.1 3.6 1.9 2-1 2zM428 700.1l-5 0.5-3-0.5-1.3-2.1 0.3-3 2-1.6 8 1.6 1.1 1 0.6 2-0.7 1.1zM619 706.1l-8 0.7-6-0.4-4.8-1.4-1.3-1-0.2-1 0.9-1 3.4-1.3 9-1.2 18 0.8 2.7 0.7 0.4 1-3.6 2zM435 707.1l-7.7-0.1-1.7-1 0.1-1 3-2 3.3-1 4.3 0 2.3 1 1 2-0.7 1zM542 719.3l-3 0.6-5-0.4-5-3.2-5-1.8-2 0.5-1 2-2 1.8-3 1.1-6-1.1-1 0.5-1-0.8-2.4-0.5-0.5-1 2.7-2-0.3-3 1.3-3 3.2-2.5 4-0.5 1-1.4 7 0.4 5.1-2 3.9-0.2 1.4 0.2 1.1 1-0.4 3 2.3 6 1.6 1.9 3.1 2.1 0.7 1zM489 708.1l-2 0.7-3-0.2-2-0.7-1.4-1.9 0.9-1 1.5-0.4 4.3 0.4 2.4 2zM565 710.2l-5 0.2-2.2-1.4 3.7-2 8.5-2.3 6 0.2 1.3 1.1-5.3 1.3zM612 718.2l-17 0.6-6-0.8-1.6-1 0.2-1 3.1-2 11.3-2.5 10-0.5 4 0.8 2.2 1.2 0.3 1-1.1 2zM457 737.1l-2 0.4-2.7-0.5-11.1-7-0.1-3 2.4-3-3.5-1-1-1 1.3-4-1-4 0.8-1 3.9-1 3.1 1-2.3 4 0.1 1 1.1 0.7 3-0.5 22 1.4 5 1.1 2.3 1.3 0.2 1-1.1 1-8.5 2-1.6 1 0.2 4-1.5 1.3-5 1.4-6.3 0.3 2.5 2zM625 716.1l-2.4-0.1-0.5-1 1.9-1 2.1 0 1 1zM448.1 721l0-1-1.1-0.6-0.5 0.6 0.5 1.6zM529 742.1l-6 0.6-4-1-4 0.2-3-0.6-2.9-2.3-1.1-2-0.4-3 0.6-2 1.5-2 2.3-1.5 3-0.6 3 0.5 3.3 2.6 1.2 4 8.5 1-0.1 4zM573 748.2l-12 0.7-3-0.7-0.5-1.2 1.5-5-7-5.8-5-2-9.5-6.2 1.5-0.6 12 0.3 24 6.9 0.7 0.4-1.6 4 5.2 4-0.2 1-2.1 2.2zM659 734.1l-3.3-1.1-5.2-4 1-1 1.5-0.2 6 0.8 1.4 2.4-0.4 2zM618 736.1l-5 0.2-6-0.9-2.5-1.4-1.1-2 0.3-1 1.3-0.9 3-0.5 10 0.7 3 0.7 1 1-0.3 2-0.9 1zM498 736.1l-5 0.3-7-1.2-3.7-1.2-1.5-1-0.1-1 2.3-1 3-0.3 9 0.8 4.9 2.5 0.1 1zM553 757.5l-1 0.3-1.5-0.8-1-3-1.5-1.5-4.2-1.5-3.8-2.4-1.3-1.6-0.2-2 1.5-0.8 2 0 3.9 1.8 2.1 5 2 1.4 4.4 1.6 0.1 2zM622 754.1l-5 0-3.4-1.1-6.6-0.7-4-1.9-1.5-1.4 0.5-1 4.3-2 5.7-0.7 4 1.2 2 2.8 8-0.2 3 0.9 0.6 1-0.3 1-1.5 1zM470 752.1l-4.8-0.1-5.8-1-6.1-2-1-1 2.5-1 4.2 0.1 9 1.3 4.8 1.6 0.3 1zM514 898.1l-4.8-1.1-2.5-2 2.8-2-2-4 1.1-6-0.5-1-6.1-2.9-3 0.5-5-1.8-8.2-1.8-1.8-1.3-1 0-3 2.7-4-0.1-2.1-1.3-0.2-1 5.9-6-1.6-3.8-3-0.7-10 0.6-3.7-1.1 0.1-1 1.3-1 6.7-2 16.6-1.3 7 0.4 8-2.2 5-2.1 2-1.8 0.9-4 0.9-1-1.8-1.8-2-0.9-14 2.2-7-0.4-2.2-1.1-0.5-1 0.9-3-3.2-1.9-4-1.8-8-1.5-4-1.7-3-0.2-3 0.2-4 1.9 1 0.7 4 0.1 2 1 5 0.8 3 1.8 1.6 2.6 3.4 1.6 6.4 1.4-1.4 5.3-3 0.7-9 0-8-1-1-2.1-4.6-1.9-7.4-2.1-7.1-0.9-2.2-1-0.3-1 1.6-1.5 3-1.3 10.7-2.2-4.5-1 0.6-1 2.2-0.9 9-1.6 10.6-3.5-9-4-0.8-1 0.1-1 1.4-1 5.7-1.7 7-1.2 17 0.2 4-0.5 5-1.6-2.5-3.2 0-2-2.5-0.5-1 0.7-2 0.1-7 4.4-7 0.8-30-6.5-2.4-2 0.4-1.1 1.9-0.9-0.9-0.9-9-3.6-1.6-1.5 1.6-1.4 8-1.4 4.6-2.2-1.6-0.5-1 1.5-2.4-1-0.6-1 0.3-3-0.8-2-8.7-2-1.6-1-0.4-2 0.5-2 1.7-0.7 8.9 0.7 3.6 2-0.4 3 0.7 1 4.2 2.3 8-1.1 7 2.1 11 0.7 0.9 1-0.1 2 1.2 2.8 3.8-1.8 4.2-0.4 17 2.7 3-0.5 0.7-0.8-1.6-3-0.1-2-2-1.6-5-2.3-7-1.9-13.4-0.2-3.6-1.9-11.8-2.1-4.3-2 0.2-1 2.9-0.9 10 0 4-1 1-1.1 0-1.1-4.9-3.9-0.5-1 0.3-1 1.3-1 2.8-0.6 3 0.7 3.3 4.9 1.7 1.2 7 0.1 3 1.1 1.8 1.6 5.2 1.9 2-0.1 1 0.7 1-0.5 0.8-5-0.4-1-4.4 2.2-5-0.8-3-3.2-3.6-2.2-1.8-3-2.9-2 12.3-1.8 3 0.5 6.2-1.7 0.5-1-1.3-5 0.7-3-1.1-1.6-1.6-0.4 0.8-1 4.8-2.2 4-0.2 7 2.9 1-0.5 7-0.1 2.9 1.1 0.5 2-1.4 1.8-3 1.3-6.7 0.9-2.3 4 2 2.9 4.5 4.1-0.9 1-3.6 1.2-1 0.9-4.6 0.9 6.6 2 2-1.2 7 0.2 4.4 1 1.1 1-5.9 4-4.5 1-1.2 2-1.9 1.4-3 1.3-4 0.6-0.4 0.7 0.4 0.5 4 0.3 7-0.2 2.1 0.4-0.3 1-3.8 1-6 0-1.8 1 1.8 0.6 6 0 5.6 2.4 0.3 1-1 5 2.8 3-0.7 3 9 2.9 7 0.4 3.1 1.7-1.1 2-8 3.4-3 0.5-3.3-0.9-4.7-2.9-7.3-2.1 0.3-1 4.2-3 0.5-1-3.7-0.9-2 0.1-5 3-2 0.2-1 0.8-4-0.6-2.6 1.4 4.6 0.5 1 0.9 2 0.3 0.3 1.3-0.8 1 0 2 1.5 1.5 3 0.2 2 1.8 5 1 2 1.1 6-0.4 5-2.2 9-1.1 10.5-2.9 1.4-5-2.9-3.4-0.3-1.6-1.3-1-6.4 0.1-10-1.1-1-0.8-3-0.9-2.2-2.3-0.3-5 0.7-1 5.8-3.5 5-1.5 9.9 1 0.9 1-2.8 4 3.3 1 7.7-3.3 3-0.3 2 0.5 5.1 4.1-0.6 3 0.5 0.4 9-1.7 14 0.4 1.8 0.9 0.4 1-0.5 1-2.6 2-5.2 2-0.6 1 4.7 1.4 11 0.8 6.7 1.8 1.2 2-1.9 2.6-1.3 0.4 0.3 0.6 5-0.2 16 3.3 9 0.3 2 1 5-0.2 9 2.8 1-2.9 5-0.9 1.8-2.8-0.3-2-4.2-6-0.1-2 0.8-2 4-3.3 8.4-3.7 2.4-4 5.2-2 5-0.5 9 0.1 6 1.1 3.7 1.3 1.9 2-0.7 1-13.3 4 1 1 9.4 1.9 6-0.7 6.7-2.2 13.3-7.6 23 0.4 14 1.2 3.2 1-1.9 1-9.3 1.8-2.5 1.2-0.6 1 0.7 1 2.2 1 8.2 1.1 10.8-1.1 9.2-2 12-0.8 10.4-2.2 4.7-2 1.5-4 4.4-0.8 3.2 0.8 3.1 2 1.4 2 0.8 4 4 4-0.6 8-2.6 4 3.8 3 7.9 3.3 1.2 1.7-1.2 1-3 0.6-9 0-3.2-0.6-7.8-3.7-4.6 2.7 4.6 2.7 8 2.1 2.7 2.2-0.2 5 4 4 1 2-2.9 2-3.9 1-18.7 1.9-18 2.8-17 1.3-8.1-1-1.8-1-1.4-2-2.7-0.7-29 2-22-3.4-4 0-7 2.1-0.4 1 7.4 3.1 0.9 0.9 0.4 2-0.7 1-6.6 1.7-12 0.4-5-0.5-5-1.6-8-4.4-4-3.1-1.7-2.5-0.3-2 0.5-2 2.3-4 0.3-2-1.1-2-4-3.6-3-0.5-4 1.5-7 0.9-9-1.8-4-2.2-4-0.5-4.4 0.2-1.6 2.2-2 1-3 0.3-3.3-0.5-2.7-1-2.3-2-0.7-2.9-1.8-2.1 0-2 1.7-2-0.9-0.2-1 1-1-0.2-7 2.9-0.4 0.5 1.2 2-2 3 0.2 1 4 1.1 8.5 3.9 4.5 3.1 0 2.6 6 0.6 4 2.7 1-0.4 5 0.8 11-0.7 4 0.7 3 1.5 6.2-2.9 4.8-0.3 0.6 3.3-2.6 2.2-5 0.1-2-0.6-1.5 3.3-1.5 1.3-3 1.3-3 0.3-10-2.7-6 0.8-5-1.3-4 0.6-4-0.4-3-1.3-2.3-2.6 0.5-3 2.5-2-2.7-0.4-1 0.8-2-0.2-1 0.7-8-0.5-2.3 0.6 6.4 3 1.1 1-0.3 1-2.9 1.2-11 1.5-12-1-0.7 1.3 0.7 3-5 4-5 0.5-2-0.4-2-1.4-1 0.1-2 1.2 0 3-3.8 1-8.2 0.4-4-1-6.7-4.4-0.6-2 0.6-4 2.7-2.2 5-1.4 5.9-0.4 1.1 0.7 6 0 2.5-1.7 1.2-3 2.3-3-1-2 0-2.1-1-1.2-10-2.5-6 0.4-0.4 0.4 1.4 1.7 6 2.3 1 1 0 1-3 1.6-7 0.5-10 2.9 1.4 2-0.4 1.5-2.7 2.5 1.3 5-0.4 1-3.3 2-0.5 1 3.1 2 0.3 1-2 1-2.8 0.4-1-0.7-0.8 0.3 0.1 2-1.9 3-2.4 1.7-4 1.5-2 0.2-3-0.8-5-3.6-5 0.6-3.1 2.4 0.1 2-1.3 2 1.3-0.9 2 0.3 1-0.8 2 0.1 3 1.4 6-0.3 2 0.8 2 2.4 4.5 1 5 2 1 1-5.5 6 1.3 3 0.1 2 5.6 0.7 3.5 1.3 1.8 2-0.3 1.7-3 1.3-9-0.7zM444 753.2l-7.7-0.2-1.1-1 1.3-1 4.5-0.8 5.1 0.8 0.3 1zM577 757.1l-6 0-0.7-1.1 3.7-1.7 6.8 0.7-0.5 1zM599 765l-8 1-3.9-1-0.7-1 0.4-1 1.7-1 5.1-1 5.4 0.3 2.4 0.7 0.9 1-0.6 1zM374 763.3l-7 0-4.8-1.3 7.5 0 4.8 1zM715 763l-7 0.7-2.5-0.7 5.5-1.1 6.8 0.1zM571 768l-2.8 0-1.1-1 0.4-1 2.4-1 3.4 1 0.5 1zM451 772.2l-6 0.3-7-1-4-1.5-1.4-2 1.4-1.7 4-0.9 7-0.1 5 0.7 2.8 1 2.1 2-1 2zM609 775.2l-13 0.8-2-0.7-7-0.3 0.5-2-2.7-2 2.2-1.1 14-2.7 9.6-0.2 1.9 1-0.7 1-6 2 2.2 0.6 1.6 1.4 0.5 1zM555 776l-4.7 0-1.2-1 2.8-3-0.4-1 0.5-0.4 10-1.6 2 0.1 1.5 0.9-0.4 1-4.1 1.4-4 3zM397 782l-9-0.6-6.9-1.4-8-3-2.4-2 8.3-0.9 8.9 0.9 6.2 2 4 2 1.3 2zM686 782.1l-4-0.3-1.4-0.8 0.2-1 5.1-3 8.1-2.4 8-0.5 7.3 0.9-2.4 2-6.9 2.6zM644 804l-9 0.2-8-2.1-5 2.5-4-0.1-2.1-1.5 0.9-2-3.8-1.4-1.9-2.6-1.1-0.3-3.3 1.3-9.5-4-2.2-2.5-4 0.4-4-0.5-3.2-2.4-0.6-1 0.6-2-1.1-1-5.7 1.5-2 0-1.4-0.5-0.5-2 0.9-1.4 2-1.2 6.2-0.4 1.8-1.7 3-1.3 3-0.4 4 0.5 3 1.3 2 2.6 8.7 3 0.9 1-0.9 2 17.3 0.1 3 2.1 2 0.5 0 3.3 1 1.9 1 0.4 10-2 3 0.2 3 1.2 2 2.3-0.2 2-1.8 2.5zM562 784.1l-4.1-0.1-2.4-1 0.2-1 3.3-1.6 3 0.1 1.9 1.5-0.2 1zM542 785.1l-2-0.4-0.9-0.7-0.1-1 1.3-1 1.7-0.3 2.7 0.3 1.4 1-1.1 1.2zM643 791.1l-5-0.7-2.4-1.4-0.4-1 1.8-1.1 6-0.9 5 0 2.8 1 0 1-1.8 1.4zM659 787l-4 0.1-0.2-1.1 4.2 0zM270 792l-3.5 0-1.8-1 1.2-1 3.1-0.6 8-0.1 0 1.3-0.6 0.4zM395 856.1l-13-0.5-7.1-1.6-1-1 1.1-2 9-4-1-1-7-1.4-7.9 1.4-18.1 7.1-13.3-1.1-2.2-1-0.4-3-2.8-1-5.3-0.5-35 2-14 3.2-9 0.1-9 1.2-5-0.8-1.5-1.2 0.3-1 1.9-1 8.3-1.4 2-1 3.7-3.6 1.9-1 14.3-3 0.5-1-3.4-1.6-6-1.5-18-0.3-6.8-1.6-1.6-1-0.5-3-3.4-4 3.5-6 4.8-2.2 12-2.5 6 0.3 6 2.2 3 0.4 9-1.2 3.2-1-12.2-2.5-4-1.8-3-2.5-21 0-8.6-1.2-0.9-1 2.5-1.5 5-0.6 15 0.1 8 0.7 3-1.5 15-2.8 4 0.2 12 2.3 7.5 0.1 6.7-1 23.8-5.8 4 0.5 2.2 1.3 18.7 5 4.1 0.1 8.3-2.1 0.7-1-9.5-4-1.7-2 0.9-1 8.3-2.2 12-0.3 8 1.8 2.2 1.7 1.8 3.3 8 3.4 3.2 2.3 0.8 0.3 3-1.5 4.7 0.2 6.1 4 0.1 2-4.9 5.8-3 1.9-3.4 0.3-4.7-4-1.4 2-0.3 2 1 2 3.8 3.4 3 0.4 5-1.5 6-0.6 2-1.7 13-0.6 3.2 0.6 1.5 1 0.7 2-0.8 1-4.8 1 0.1 1 5.1 1.5 0.2 1.5-1.2 1.3-5 1.4-5 0.3-1-0.7-10 1-2 2.3-1.1 0.4 0 1 3.8 6-0.5 1-3.2 1.8-0.9 1.2-1.8 1-4.3 0.3-2-1.7-1 0.2-4 4.4-8 4.8-5 2.1zM659 795.1l-2.7-0.1 0.1-1 2.6-0.6 0.8 0.6-0.2 1zM526 802l0.2-1-1.2-0.9-3 0-1-0.6-6.5 0.5 1.5 1.3 2 0.2 1 0.9 6 0.5zM467.6 810l4.4-0.3 6-1.9 5.9-3.8-2.9-3.9-10 2.1-3.6 1.8-2.7 6 2.3 0.4zM660 808.5l-6-1.6-3.3-1.9-1.9-2 4.2-1.3 5 0.1 2 0.9 0.7 1.3 0.2 3-0.1 1zM385.8 819l0.2-3-2.1-3-2.9-2.1-4-1.4-3-0.2-4 0.7-10.1 4-0.6 1 16.7 4.2 7 0.8zM703.9 819l16.9-4 0.9-1-11.7-4.1-6-0.6-4 1.1-2.8 1.6-2.9 4-0.1 2 1.8 1.5zM819 817l1.8-1 0.1-1-2.7-1-12.2-1.9-7 0.1-11 1.6-21-0.1-8.4 1.3 18.4 1.8 21-1.7 18 2.3zM596.1 818l-0.1-3-0.7-1-1.3-0.5-15 0.9-3.9 1.6 1.9 0.8 6-0.2 6 0.6 6 1.5zM322.4 815l-19.3 0 5.9 0.5zM562 828l5-2.1 2.4-1.9 0-1-2.4-1.9-7-3-3 0-4.5 1.9-0.5 1.2 4.2 1.8 0 1-4.1 2 0.6 1 4.3 1.9 3 0zM706.6 838l18.9-6-30.5-6.9-3 0-1.7 0.9 0 2 4.7 3.9 3.6 4.1 3.4 1.6zM376.7 838l3.3-1.2 2.4-1.8 2.6-3.4 4.6-3.6 0.5-1-0.4-1-1.7-0.8-3 0.1-26.5 6.7 0.7 1 10.8 4.5 4 0.8zM595.6 833l0.8-4-0.4-1.2-4 0.4-6 1.8-9 0.1-2 0.9 4 1.8 15 0.8zM416.4 837l1.6-4-0.9-1 1.9-0.2 1-1.3 3 0 1.4-1.5-4.4-0.3-3 2.3-2.1 3 0.3 2 0.8 1.4zM784.5 839l6.3-1 0.3-1-4.7-3-5.4-2.4-11.3-2.6-25.4 1-6.5 1-2.4 1 21.6 1.6 2 0.6 3 3.1 6 1.7 8 0.4zM311 839l6.5-1 7.5-3.6 8.7-2.4-5.9-1-24.8-1.1-6.8 2.1-2.4 4 0.5 1 4.7 1.4 5 0.7zM500 835l-1-3.3-1.4-0.7-8.6-1.8-2 0.2-0.5 0.6 5.5 3.8 7 2.1zM530.4 841l-6.4-5 2-0.2 1-1 5-1.4 0-1-10 0.4-5-0.6 0 3-2 0.2-1 0.9-6.7 0.7 5.6 1 3.1-0.2 3 0.9 5 3.1 3 0.1zM248 840.1l-4 0.2-1.6-0.3-1.1-1 2.7-1.1 5.7 1.1zM606 846.2l-1.3-0.2-0.3-1 0.6-1.3 1.3 0.3zM521.9 847l3.1-0.1 1.6-0.9-1.6-1.9-2-0.1-4 0.6-1 0.9-2 0.2-1.6 1.3 6.6 0.5zM607 860l-15-0.8-3.8-1.2-1.6-2 0.7-1 1.7-0.7 7-0.3 5-2.5 5-1.3 2 0.3 5 2.5 11 0.9 3.2 2.1-0.9 2-2.1 1-14.2-0.1zM659 853.1l-2-0.1-0.1-1 2.5 0 0.2 1zM449 855.1l-2 0.7 0-1.9 1-0.8 1 0 1.1 0.9zM651 859.1l-5 0.6-6-0.7-3-1-1.6-2 0.3-1 2.3-0.8 5-0.4 4 1.1 4 2 0.8 1.1zM632 856l-1 0-0.7-1 2.2 0zM444 863l-8 0.5-1.2-0.5-0.7-3 0.5-1 1.8-1 9.6-1.5 2 2.7 0.2 1.8-1 1zM658 861.1l-3.4-0.1 0.3-1 1.1-0.3 2.4 0.3 0.2 1zM580 865l-4.4 0-1.6-1-0.8-2 1.8-1.2 4 0.7 2.1 1.5 0.3 1zM544 865l-3.5 0-1.3-1 0.1-1 1.7-0.9 3 0.4 1.9 1.5zM562 866.4l-4-0.2-2.1-1.2-0.2-1 2.5-1 4 0 1.3 1 0.2 1zM529 873l-4-0.6-1.6-1.4-0.3-2 1.9-2 6 0.4 3.8 1.6 2.4 2-2.2 1.3zM346 881l-14.7 0-4.4-1-1-1 2.1-2 9.7-3 25.3-3.4 15-2.9 6-0.3 6.8 0.6 3.4 1 0.3 1-5.2 3-10.4 3-16.9 3.2zM748 881.1l-16-0.2-20-2.6-18.4-4.3-5.4-2-2.7-2 0.3-1 3.4-1 6.8-0.6 6 0.3 15 2.9 25.3 3.4 9.7 3 2.1 2-1.1 1.1zM565 877.2l-3 0.6-5.9-0.8-2.7-1-3.8-4 2.1-1 4.3 0.4 4 2.8 4.7 1.8zM611 878l-7 0.3-9.8-1.3-5.8-1-3-1-0.5-1 6.1-2 17-0.3 1.2 0.3 0.6 1-0.3 2 2.3 1 0.7 1zM448 879.2l-5 0.3-5-0.5-2.4-1-2.6-3 2.6-1 10.4-0.9 5 0.6 2.4 1.3 0.4 1-0.8 1.3zM573 881.1l-3 0.8-2.4-0.9-0.3-1 1.7-1 2 0 2.6 1zM596 886l-7.4-1-1.7-1-0.4-1 0.7-1 1.8-0.6 4-0.3 5.9 0.9 2.7 1 0.6 1-0.9 1zM551 894.1l-1.6-0.1 0.8-3 0.8-1.2 2-0.1 1.2 1.3-0.1 2zM580 892.1l-6 0.5-3.5-1.6 0.6-1 5.9 0 3.1 1 0.4 1zM596 893.2l-7.7-0.2-1.9-1 0.1-1 3.5-0.7 5 0.6 2.2 1.1zM626 895.2l-7 0-2.9-1.2 0.4-1 1.5-0.6 5 0 2.9 0.6 1.4 1zM445 896.4l-6 0.1-2.4-0.5-1.3-1 1.1-1 7.6-0.1 2.3 1.1-0.4 1zM462 898l-8 0.3-2.1-0.3-0.6-1 3.9-2 8.8-1.7 6 0.1 2.2 0.6 0.5 1-4.2 2zM615 901l-4 0.7-4.6-0.7-4.3-2-0.5-1 5.4-3.2 4-0.7 4 0.4 2.5 3.5-0.9 2zM544 902.2l-4 0.5-1.3-0.7-0.2-1 2.5-3.2 6-2.8 0.6 1-1.3 4zM552 919.1l-5 0.5-9.3-0.6 2.2-2 3.1-1.3 4-2.8 5-2.1 7-5.7-1.4-5.1 1.4-1.6 13 0.2 4 1.5 3.1 2.9 0.2 1-0.8 1-4.4 3 1.5 4-0.6 0.4zM516 917.1l-4-0.6-2.3-1.5-1.5-2-0.5-4 2.3-4 2-1.3 3-0.6 4 1.1 8 0.1 2.4 0.7 1.1 1 0.4 5-4.9 0.7-3.5-0.7-2.1 4zM492 914.1l-8 0.3-2-0.4-1.3-1 2.4-2 7.9-2 5-0.1 3.4 1.1 0.2 1-0.9 1zM447 934.1l-2 0.8-2-0.1-2.9-0.8-0.7-1 1.1-3-1.5-5 1-1 3.6-1-2.7-3-0.7-3 1.3-2 1.5-1 5-1.7 4.4-2.3 3.6-0.4 1.2 0.4-0.1 1 0.9 0.5 7.3 1.5 2.4 2 0.1 4 1.2 1 8 1.7 1.9 1.3-0.5 1-2.1 1-8.3 1.2-13 0-8-1.5-2.3 5.3 2.2 3zM614 917l-8.7 0-1.6-1-0.3-1 0.6-1.4 2-1.4 7-1.4 5.4 0.2 3.3 2 0.3 2-1 1zM656 919.1l-4.4-0.1-1.1-1 5.2-4 3.3-1.1 1.4 2.1-0.3 2-1.1 1.4zM534 944.1l-4.8-0.1-6.2-2.6-5 0.5-1.2-0.9 0.2-2.2-4 0.1-3.3-1.9-1.5-2-0.7-3-2.5-2 0.1-1 3.8-1 3.1-2.4 4-0.5 4.1 1.9 1.5 2 0.8 3 1.6 0.5 5-1.8 5-3.2 5-0.4 3 0.6 0.8 1.3-0.7 1-3.1 2-1.6 2-2.3 6 0.3 3zM613 933.2l-7 0.5-10-1.2-7.2-2.5-1-1 0.2-1 4-1 15-0.2 7 0.8 3.5 1.4 0.5 1-0.4 1zM626 933l-2 0-1.8-1 0.5-1 2.9 0 1.4 1zM576 942.1l-6 0.2-8.4-2.3-3.7-2 0.9-1 2.2-0.5 4.8 0.5 6.2 2.8 5.2 1.2zM487 942l-4 0.3-1.4-0.3-1-1 1.4-1.9 2-0.6 3-0.3 2.3 0.8 0.4 1-0.6 1zM615 946l-7-0.3-6-1.2-3.2-1.5-0.7-1 0.2-1 1.7-1.3 3-1.1 9-0.5 15 1.9 5 1.4 2.8 1.6 0.1 1-2.9 1.3zM436 945l-3.7 0-3.3-0.9-2.2-1.1-1.2-2 1.8-1 4.6-0.2 3.8 0.2 3.1 1 0.7 1-0.6 1.6zM525 959l-5 0.2-3-0.8-4 0.9-3.8-1.3-2.2 0.3-3-0.8-0.6-0.5 0.5-1 2.3-2-0.1-3 0.8-2-3.8-2-0.1-1 1-1 5.3-2 5.7-0.2 1 2.9 3.5 2.3 1.4 3 5.1 0 5.3 1 0.4 1-1.7 4-1.1 1zM565 954.5l-3 0.2-3.1-0.7-2.9-1.6-0.3-1.4 4.3-3.1 5-1.9 5-0.3 2 0.7 1.8 1.6 0.2 1-1.9 2zM425 953l-4 0.6-1.3-0.6-1.1-3 1.2-3 1.2-0.6 4 0.1 3.4 0.5 1.7 1 0.6 1-0.7 2-2 1.4zM535 965.1l-7.5-0.1 15.5-4.5 5.4 1.5zM657 967l-4 0.7-4-0.7-1.7-1-1-2 1.6-2 3.1-0.9 7 0.4 1.3 0.5 0.8 2-1 2zM517 979l-2 0.8-3-0.2-3-1.7-1.7-1.9-1.3 0.5-4.1-0.5-4.6-2-0.1-1 5.8-2 3.5 0 1.7-3 3.3-2-1.5-0.4-0.8-1.6 4.8-0.3 1 0.8 6.4 0.5 0.4 1-1.8 0.2-1-0.9-2.8 0.7 3.3 2 1.7 3 3.1 1 0.3 1-2.6 3.3-2.3 0.7zM461 965.1l-6 0.8-0.7-0.9 4.7-0.5 2.9 0.5zM427 974l-4.6 0-1.4-0.7-0.5-1.3 0.5-1.7 6-3.5 3-0.5 2 0.3 0.8 1.4-0.8 3-2.1 2zM453 979l-4 0.8-6-1.1-4.7-2.7-1.3-2 0.3-1 1.2-1 3.5-1 4 0.7 7.5 5.3 0.4 1zM614 973.4l-4 0.1-0.3-1.5 1.3-1.2 3-0.1 1.3 1.3zM610 977l-11 0.1-5.2-1.1 1.1-1 3.1-0.8 6-0.5 6 0.6 2.9 0.7 1.3 1zM564 984.2l-4 0.3-3.9-0.5-7-4-0.4-1 2.5-1 3.8 0 10.4 3 1.2 1-0.2 1zM487 988.1l-9 0.6-9-0.3-10-1-2.1-0.4-1.3-1 1.2-1 11.2-2.9 8-1.1 18 0.5 4 1 2.2 1.5-0.6 1-2.4 1zM517 997.3l-5 0.5-3-1.2-1.6-1.6-1.5-4 1.3-4-1.2-0.7-1.1 0.7-0.2-1 0.1-1 1-1 3.2-1.9 0.2 0.9 1.8 1.2 4-0.1 4 2.7 1.6 3.2-0.1 3-1.5 2.9zM595 996.1l-8-1.1-2.3-1-0.8-2 1.9-2 2.2-0.7 4.7 0.7 2.4 2 1 2-0.1 1.7zM531 1002.2l-5-0.3-1.5-0.9-0.3-1 1.8-1.5 4-0.8 4 0.3 1.9 1 0.3 1-1.1 1z"/>
<path fill="#0000ed" d="M534 648.1l-4 0.6-4-0.7-1.2-1 0.1-2 2.1-1.3 4 0.3 3.5 2 0.4 1zM512 662.2l-1 0.7-1-0.3-3.6-2.6-0.2-1 1.7-1-1.2-2-0.1-3 1.4-3 2-1.6 2-0.7 3-0.1 2 0.7 2 1.7 0.9 2 0.1 3-2 3.5-2 1.4-3 0.7zM591 657.2l-4.2-0.2-1.8-1.2-0.5-1.8 1-1 3.2-1 6.1 0 0.4 1-0.8 2zM495 663.1l-10 0.9-11-0.5-11.7-2.5-2.6-1 0-1 13.3-1.7 13 0.4 7.5 1.3 4.9 2-0.2 1zM557 668l-5 0.3-1.2-0.3 0-1 4.6-3 2.6-0.9 4.5-0.1 2.5 1 0.1 1-1.7 1zM517 678.2l-2 0.6-3-0.1-2-0.9-2-1.8-7-1-2-1-0.1-1 4.1-2 4.3-1 1.4-2 2.3-1.6 3-0.6 2 0.3 3 1.9 1.4 2 1.6 0.7 1.6 2.3-0.7 2-2.6 0zM446 675l-5 0.5-2-0.7-1.3-1.8 2.6-3 4.5-2 5.2-0.4 2.1 0.4 0.9 0.8-1.1 2.2zM430 680.1l-3-0.4-3.7-1.7-2.2-2-0.1-1.3 1-1 2-0.5 5 0.8 2 1.6 1.1 2.4-0.1 1zM614 675.3l-2 0.6-1.3-0.9 1-1 1.3 0 1.3 1zM658 685.2l-4 0.6-5-0.8-1.8-1-0.3-2 2.1-1.7 2-0.6 5.4 0.3 3.1 2 0 2zM515 704.1l-3.9-0.1-6.4-3 0.2-1 1.3-1 3.4-1-2.1-2-1-3-1.5-0.6-1.4-2.4 1.2-1 8.2-2.8 3 0.5 3 1.5 1-0.6 4 0.4 3.6 1 1.2 1 1.1 4-1.4 1-5.5 0.8-3-0.7-2 2.6-3 1.3-0.4 1 1 4zM427 700l-6.7 0-1.2-2 0.4-3 1.5-1.2 6 1 2 1 1 2.2-0.7 1zM571 700.1l-4 0.5-4-0.7-5.6-2.9-0.9-1 0.1-1 1.4-1.1 3-0.8 4 0.5 7.4 3.4 0.5 1-0.3 1zM619 705.1l-12 0.6-4-0.9-1.6-0.8-0.4-1 1-1 2.8-1 7.2-0.9 15.8 1.9-0.5 1zM433 707l-5-0.4-1.2-0.6-0.1-1 3.1-2 3.2-0.7 4 0.4 1.7 1.3 0.2 1-0.9 1zM488 708.2l-2 0.3-3.1-0.5-1.4-1-0.2-1 1.8-1 3.9 0.4 2 1.6zM540 719.2l-5.4-0.2-4.7-3-7.9-2.1-2 3.4-4 2.1-6-0.8-1 0.5-2.4-1.1-0.6-1 2.4-2-0.3-3 0.6-2 3.3-3 4-0.5 1-1.6 7 1.2 7-1.2 2 1.2 2 2.7 2.1 5.2 3.9 3 0.6 1zM565 709.3l-3 0.3-1.5-0.6 0.9-1 3.6-1 3.4 0-0.8 1zM443 716.5l-2-1.3-0.4-1.2 1.4-1.1 3.7 0.1 0.1 1zM603 718l-9-0.4-2.5-0.6-0.7-1 3.3-2 9.9-1.6 7-0.1 3 0.7 1.1 1-0.9 2-2.2 1zM444 723.2l-2.3-0.2-1.6-1 0.3-2 1.6-1.8 2 0.4 1.6 2.4 0.1 1zM451 734.2l-0.7-0.2 0.3-1-3.6-0.6-3.2-1.4-1.5-2 1-3 3.7-3 7-2.2 5-0.6 10 0.4 5.2 1.4 0.2 1-1.4 0.6-6 1.1-2 1-0.3 1.3 0.6 3-1.6 2-3.7 1-7 0.4zM527 742l-7 0.1-3-1-3 0.2-2-0.6-2.3-1.7-1.2-2-0.3-3 0.6-2 1.6-2 2.6-1.4 3-0.2 3 1.1 2.3 2.5 0.6 4 3.1-0.2 3.6 1.2 0.9 1 0.2 2-0.6 1zM570 748.1l-10-0.2-1.2-0.9-0.1-1 1.3-4-0.7-1-3.5-2-2.8-3-5-2.1-4.8-3.9 1.8-1.1 6-0.4 22.1 6.5 0.7 1-0.7 3 4.5 3 0.8 1-0.1 1-3.3 2.8zM659 733.5l-4.1-1.5-2.6-2-0.4-1 3.1-0.7 4 0.8 0.9 1.9zM619 735.3l-4 0.6-7-0.9-2.6-1-1.3-2 0.9-1.3 3-0.8 11 1 1.9 1.1 0.3 1-0.4 1zM496 735.3l-6.7-0.3-4.6-2 2.3-1.1 6 0.2 3.1 0.9 1.2 1-0.5 1zM543 747.6l-1.7-0.6-0.4-1 2.3 0 0.6 1zM614 752.3l-3 0.3-3.5-0.6-3.9-2-0.8-1 0.4-1 1.7-1 2.9-1 6 0 2.1 1 1.1 2-1.1 2zM516 897.1l-4 0.3-2-0.7-2-1.7 0.2-1 2-1-1.6-2-0.6-2 0.3-3 1.2-3-1.5-1.9-5.3-2.1-3.4 0-5.3-2.7-6-1.4-3-1.6-2 0.5-3.4 3.2-3.6-0.2-1.2-0.8-0.3-1 4.6-4 0.7-2-0.7-2 0.8-2-0.3-1-2.6-0.8-9.9-0.2 0.3-1 4.6-1.2 14-1.1 6 0.3 8-2.5 6-2.6 2.8-1.9 1.2-5-0.3-1-3.7-2.6-12 2.2-7 0-2.8-1.6 0.1-3-1.6-1-6.7-2.9-9.3-2.1-4.6-2 0.1-1 1.8-1 8.9-3-5.5-1-4.6-2-0.8-1 0.1-1 1.6-1 11.3-2.4 17 0.4 5-0.9 3-1.4 0.2-0.7-2-3 0-2-3.2-0.7-1 0.7-2 0.1-6 3.6-3 1-4 0.5-5-0.5-25.2-5.7-2.4-2 0.3-1 1.8-1-1.5-1.7-7.2-3.3-0.6-1 1.6-1 6.2-1.3 4.2-2.7-0.2-1.1-3 1.1-1.3-1 0.3-3.8 2-0.9 2 0 3 1.5 3-1 4-0.2 4.6 1.4 12.4 2 1.2 3-0.2 1.6-11 3.5-1.5 1.9 0 1-1.2 1-0.5 2-2.6 2 0.8 0.2 1-1.2 3 0.6 1-0.7 4-0.1 10.4-3.8 2.9-2-1.6-3 0.3-1.1 2-1.1 7-0.1 14 2.7 2.1-1.4 0.8-1-0.9-1 0.1-4-0.5-1-1.9-1-6.7-2.6-6-1.3-13-0.7-1.2-0.4-0.8-1.2-7-2.8 6-3 1.6-2 0.3-2-4.8-3-0.7-1 0.6-1.2 3-1 1.7 0.2 1.3 1 1.7 3 3.3 2.3 6 0.2 3 0.9 2.1 1.6 3.2 1 2.7 3.1 2 0.1 0.3-1.2 1.7-0.6 1 0.6-0.5-3 1.4-4-3.9-1.1 1.6 1.1-1.6 1.2-3 0.6-4-0.7-2-2.1 0.3-1-3.2-3-0.3-3 1.4-1 4.8-1.4 3.5 0.4 7.4-2-1.8-5 0.5-4-2.1-2 2.2-2 2.4-1 2.9-0.3 7 2.2 1 0.8 8.2 0.3 1.6 1 0.1 1-1.9 1.7-3.6 1.3-3.4 0.5-1.1-0.5-0.9 3-1.8 2 0.8 0.4 4.5 6.6-4.5 3-5 0.9-1.3-0.9 0.3 0.8 9 2.3 2-1.1 3 0 6.2 1 1.5 1-0.4 1-4.5 3-4.2 1-1.3 2-2.3 1.6-3 1-5.1 0.4 1.1 0.2 1 1.6 2.1 0.2-3 2-0.7 1 0.4 1 11.2 1 2 1 0.7 2-0.7 2.4-2 1.4-5 0.1-1-0.5-6 0.1-0.7 0.5 1.7 1.4 7 2.2 2 0.1 4-1.5 2 0.7 0.3 1.1-2.3 0.8-4-0.3-6 3.5-3 1-4-0.6-4.6 1.6 6.6 0.7 1 0.9 2 0.3-0.7 4.1 1.7 1.6 3 0.3 2 1.7 5 1 2 1.4 4 0 7-2.5 10-0.6-2.4 4.1 3.2 5-0.8 1-6 0.3-1.6 0.7 1.6 1.8 5.9 3.2-0.1 1-0.8 0.5-17 3.4-5-1.2-2.4-1.7-0.2-1 6.6-2.4 1-1.6 1 0-12 0.4-5-0.6-0.5 1.2 0.7 1-0.2 1-3 0.8-6 0.3-6-0.8-2-1.4-1-2.6-8-2.5-3-0.4-6.5 0.6 3.5 0.7 7 4.3 7 2.8 1.1 1.2 10.9 0.5 5-0.5 3 0.9 6 3.6 4-0.1 1.9 0.6-0.1 1-1.8 0.6-4-1.3-2 0.1-7 2.1-1.8 1.5 0.8 0.6 11-0.3 2 0.6 1 1.1 0.5 2-0.7 2-4.2 2 0.1 1 3.3 2 0.3 1-1.4 1-1.9-0.5-1.3 0.5-0.3 3-1.6 2-3.8 2.1-4 0.6-4-1.2-3.3-2.5-6.7-0.3-0.9 0.3-0.1 2-1.8 1 0.1 2-1.7 2 1.4 0.3 1-0.9 2 0.2 2-0.7 3 0.6 1 1.1 6-0.1 3.3 2.5 4 1 5.3 3-3.8 6 1 3-0.1 3 1.3-0.4 6.1 1.4 1.9 1 0.7 1-0.1 1-1.6 0.9-5-0.3-4 0.5zM441 753l-4.2-1 1.9-1 2.3-0.2 2.8 0.2 0.7 1zM625 752.1l-5 0.7-3.4-0.8 0.6-1 4.8-0.6 3.8 0.6zM597 765.1l-7 0.4-2-0.5-0.9-1 0.5-1 2-1 4.4-0.7 5 0.4 2.3 1.3-0.8 1zM451 771.1l-4 0.6-6-0.6-3.7-1.1-2.1-2 0.7-1 3.1-0.8 9 0.2 3 0.9 1.9 1.7-0.2 1zM605 775l-10 0.5-5.5-0.5-0.7-1 0.4-1 2.8-1.8 4.5-0.2-2.6-1 8.7-2 4.5 0 0.7 1-8 2 6.2 0.8 2 1.2 0 1.1zM391 779.2l-6.1-0.2-4.5-2 1.6-0.9 4 0.4 4.5 1.5 1.2 1zM694 779.1l-5.7-0.1 3.4-2 3.3-0.7 3-0.2 1.6 0.9zM621 804.1l-4-0.6-0.6-0.5 0.3-1 1.3-1.2-4-1.2-2.2-2.6-1.8-0.5-1 0.7-2 0-8.8-3.2-1.3-1-0.2-2-0.7-0.5-5 0.8-4-0.7-3-2.8 0-1.2 0.7-0.6-1.7-1.5-4 1.4-2.9 0.1-2-1-0.1-1 2-2 3-0.9 1 0.5 2.9-0.6 4.1-2.6 6-0.2 3 1.1 2.3 2.7 2.9 1 4.7 3-0.3 1-2.7 1-0.9 1-1-0.4-1.4 0.4 0.4 0.2 2-0.2 1-0.9 5 0.5 15.7-0.6 3.5 2 0 2 1.6 3 0.3 2 1.9 1.1 12-2.6 3 0.6 2.4 1.9-0.6 3-3.8 2.2-8 0.3-7-2.2-3 0.5zM561 783.2l-2.8-0.2-0.1-1 2.9-0.4 0.8 0.4zM444 789.1l-4.4-0.1-3.6-1-0.7-1 0.4-2 1.3-0.9 2-0.2 7 1.1 1.2 1 0.1 1-1.3 1.4zM646 789.2l-5 0.2-1.4-0.4-0.5-1 5.9-1.1 1.5 0.1 1.5 1zM550 859l-6-0.7-6-3.3-1.4-2-0.2-3 0.7-2 2.6-2 3.3-1 5-0.6 8 0.5 3-1.4 1.6-3.5 3.1-3-1.3-3 2-3-2.1-1 0.3-1 7-4 1.2-1 0-1-8.4-5-0.6-1 2.3-1-1.8-3 1.3-3-6-6-2.6-0.6-6 0.4-6.9-0.8-4.9-3-0.9-3 1-4 3.7-2.5 5-1.8 6 0.1 3 1 0.3 1.2-1.5 3 2.5 1 1.7 0.2 8-3 4 0.6 4.2 3.2-0.6 3 0.4 1.2 8-1.7 8 0.5 5 3-0.5 1-1.9 1-3.7 1 2.1 1.4 6 1.8 12.2 0.8 3.3 1 1.2 1 0.1 2-2.8 2.7-1-0.1-1 1.2-1-0.2-1 0.9-4 1.3-3 0.1-2-0.7-1.5-4.2-1.5-1.2-16 1.3-5.9 1.9 0.9 1.1 10 0 8 1.3 3.8 1.6 2.5 3-3.3 3.5-5.8 2.5-5.2 0.9-10-0.1-0.8 0.2-0.3 1 6.1 1.9 9 0.4 7 1 1-0.2 0.7-1.1 1.3-3.8 3-0.6 7 2.5 6 3.9 1 1-1 1.7-1.3 0.3 0.3 0.5 3-0.5 4 0.4 5 2.9 1.6-0.3 3.4 1.5 8-1.1 6 0.2 3.6 1.4 1.4 2-0.4 2-0.9 1-4.7 1.5-7-1-7-2.5 0.5 1-1.2 1-2.3 0.5-3-0.3-2-1-6 0.7-4-1.2-2.7-2.7 0.6-3 2.7-2-3.6-0.6-1 0.7-10-0.5-4.8 1.4 5.2 3 0.3 1-1.6 1-10.1 2-11-0.9-1.3 0.9 0.4 4-4.1 3.2-5 0.7-2-0.3-2-1.1-2 0-2 1.5 1.1 2-1.1 0.9zM396 855.1l-10 0.2-7.5-1.3-1.2-1 0.2-1 1.2-1 9.7-3 1-1-1.3-1-3.8-1-8.3-1.4-5 0.6-16.7 4.8-4.3 1.8-5-0.5-8.4-3.3-9.6-1.4-19 1.7-24.3 0.7-5.7 0.6-1 0.7-4-0.2-2-1.3-0.5-1.8 0.3-2 1.2-1.1 4-1.4 16-3 12 0.9 10-0.4 5.1-1 9.9-3.5 17.2-2.5-19-2-21.2-0.9-8.8 0.9-11.2 2.4-28.5-0.4-2.9-1-4.8-6 1.4-4 1.8-2 12-2.1 16 1.3 11-1.3 34-0.8 11.3-1.1-0.5-1-6.8-0.5-30 0.1-11-0.8-9-2.3-2.8-1.5-1.6-2 0.9-2 2-1 9.5-2.3 7-0.4 12 1.7 7 0.3 24-4 10-0.9 26 5.7 19-2.7 3.8-1.4 0.9-1-13.7-1-4-1.1-3.6-1.9-0.3-1 1.9-1.3 8-1.4 8 0.2 5 1.1 2.3 1.4 0.5 1-0.8 3 11 2.6 5 3.4 4-2 3 0.1 3 1.7 2.5 4.2-2.5 4.5-6 2.3-5-4.1-2.6 3.3-0.2 2 1 2 5.8 4.9 7-2.2 6-0.7 2-1.6 12 0.6 2.5 1-3.7 3 0.2 1.1 3.2 1.9 0.5 1-1.4 1-6.3 1.3-13 0.4 0 0.8 1-0.2 0.3 0.7-5 2 2.7 3 1.1 3-3.6 5-2.4 1-2.1 0-2-1.7-2 0-1.5 2.7-3.5 2.6-11 5.3zM697 855.1l-10 0.3-6-0.9-4.2-1.5-10.8-5.7-2.3-2.3-0.9-3 3.3-7-0.3-2-4.8-5-3-1.7-5 2.6-7 1-8.7-1.9-4.3-2.5-5-0.7-4 0.5-2 2.2-2 1.1-4 0.2-4-1.3-2.1-1.5-0.9-3.6-1.1-1.4 0-2 3.1-2.6 5-0.7 8.9 1.3 9.1 3.5 8-1.1 2 0.8 6 0.1 3 0.9 5 2.8 2-0.3 0-0.8-1-0.1-0.6-0.8 0.5-2 5.1-0.2 2.8-3.8-0.2-2-4.4-6-0.1-2 0.9-2 5-3.4 11-2.6-0.8-2 0.5-2 3.3-1.7 5-0.9 11.6 0.6 3.1 1 1.5 1 0.3 1-1.5 1.2-5 1.5-14.7 1.3 0.9 1 5.8 1.8 14 1.9 5-0.3 8.6-2.4 13.4-5.6 15-1.2 13 0.8 1.1 1-4.1 2.4-0.8 1.6 3.1 2 4.7 1.1 10 0 14-1.8 11 0.1 11-2.5 9-1.1 4 0.5 3 1.2 4 1.9 1.7 1.6-0.4 7-1.3 1.6-3 1.4-23-1.7-17 1.6-41 0.9-3.1 0.2-1.3 1 37.4 2.4 23-1.2 11.1 1.8 2.4 1 0.8 1-2.4 3 1.1 0.9 5 2.6 5.5 1.5 2.9 2 0.2 1-1.7 4 0.2 1 3.5 4 0 1-1.6 1.2-5 1.3-14 1.3-16 2.9-15 1.3-8-0.8-6.1-3.2-1.9-0.3-31 2.1-10-1.1-16-2.8-12 3.1-1.4 1 1.4 1 7.8 2 2.4 2 0.2 1-1 1zM660 808.2l-2-0.2-1-0.8-4-1.3-2-1.9 0.1-1 1.9-0.9 3-0.1 2 0 2 1 0.6 3zM541 816.1l-3-0.3-5-2.5-6.8-2.3-0.3-1 3.1-2.2 4-0.8 10 2.3 6 0.6 2 1.1 0 1-1.1 1zM386.8 821l0.8-3-1.8-4-3.8-3.1-5-1.9-6 0.3-13.6 4.7-0.7 1 28.3 6.6zM695.5 821l28.7-6 1-1-17.2-5-6 0.2-5 2.3-3.4 3.5-1 4 1.4 1.9zM836 823.1l-4 0.4-4.5-0.5-1.9-1-1.4-2 0.9-1 1.9-0.5 7.8 2.5 1.9 1zM378.5 838l3.6-2 3.9-4.2 5.1-3.8 0.4-2-1.5-1.9-2-0.9-2-0.1-9 3.5-16 4-9.6 1.4 9.6 2.3 11 4.3 3 0.2zM794.4 839l2.8-1-14.2-7-8.4-2-6.6-0.5-16 0.5-22 2.3-14-1.8-15-3.8-7-2.5-3 0.4-2.5 2.4 0.4 2 5.1 4 3.9 4 3.1 1.7 3 0.8 4-0.3 14-4.6 9-1.1 24 1.6 2.7 0.9 4.5 3 6.8 1.5 7 0.3zM417.2 838l2.8-7.1 3-0.1 1-1.3 2-0.5-4-1.4-2 0-5 4.4-1.1 2 0.4 2 1.7 2.8zM454 836l-3 0.6-0.7-0.6 2.7-0.4zM477 852.1l-10 0.5-6.8-0.6-1.2-0.4-1-2-11-4.1-6.9-1.5-0.7-1 2.6-1.7 7.6-2.3 9.4-0.9 8 2.4 2 1.5 1 2 8.3 3 0.7 1-0.1 1-0.7 2zM657 845l-4-0.3-1.4-0.7-0.2-1 2.6-2 3.2-1 2.8 0 0.3 3-2.3 1.9zM622 859l-9-0.9-7 0.2-7-1.2-2 1.2-4 0.2-3-0.8-1.1-0.7-0.1-1 2.6-1 4.6 0.4 3-2.6 4-1.3 3-0.3 7 2.8 7-0.4 3.3 0.4 2.3 1 0.9 1-0.5 1.6zM649 858.2l-2 0.6-3 0-3.6-0.8-1.3-1 0.9-1.2 4-0.4 4.8 1.6zM440 863l-3.9-1-0.5-1 0.4-1.4 2-1.1 4-0.4 3 0.4 1.9 1.5 0 1-1.3 1zM580 864.1l-2 0.6-2-0.4-1.5-1.3 0.2-1 1.3-0.5 2.7 0.5 1.4 1zM561 865.2l-2.4-0.2 0.2-1 2.4 0zM533 872.1l-4 0.4-3.3-0.5-1.2-1-0.2-2 0.8-1 1.9-0.5 4.2 0.5 3.8 2 0.4 1zM348 880l-14 0-3.3-1-0.1-1 3.7-2 10.7-2.4 33-4.5 5-0.1 3.9 1 0.1 1-1.2 1-12 4-12.8 2.5zM746 880l-13 0.1-17.2-2.1-16.7-4-4.9-2-1.2-1 0.1-1 3.9-1 5 0.1 35.8 4.9 7.9 2 3.7 2-0.1 1zM607 877.1l-6 0-8-1.4-3-1.7 0.4-1 5-1 10.6 0.3 1.7 0.7 0 1-1.4 1 1.4 1-0.1 1zM448 878.1l-4 0.4-3.8-0.5-1.7-1 0-1 1.5-1 5-0.9 5.5 0.9 0.8 1-0.5 1zM599 885.2l-4 0.5-4-0.4-3.3-1.3-0.5-1 0.9-1 2.9-0.6 6.4 0.6 3 1 0.7 1zM443 896.1l-4.1-0.1-2-1 3.1-0.9 4.3 0.9zM466 896.1l-5 0.5-2.3-0.6 4.3-1.3 4.9 0.3zM613 901.1l-6-0.4-3.7-1.7-0.4-1 2.4-2 2.7-1.1 3-0.4 3 0.4 1.9 1.1 1 2-1 2zM553 918.1l-5 0.5-3.5-0.6-1.2-1 4.7-3.8 5-2.2 2.9-3 3.5-2 0.7-1-1.4-4 0.2-1 1.1-0.9 5-0.4 7 0.5 4 1.6 2.3 2.2 0.1 1-0.8 1-4.6 3 0.8 3-0.8 1zM542 901.1l-0.6-0.1 0.2-1 1.9 0-0.6 1zM518 916l-2 0.6-3-0.2-3.5-2.4-1.4-4 0.4-2 1.5-2.3 2-1.4 3-0.7 4 1.2 4-0.5 3 0.4 3.2 1.3 0.6 2-0.8 1.7-3.5 1.3-3.5 0-1.3 3zM492 913.1l-5.7-0.1-1.1-1 1.7-1 5.1-1.2 3.9 0.2 1 1-1 1zM470 925l-14 0.2-7-0.9-5-2.5-2-2.8-0.3-2 2.3-2.5 7-2.3 10.9 0.8 3.2 2 0.2 4 0.7 1.4 9 2.6-0.6 1zM610 917l-5-0.8-0.9-1.2 0.3-1 3.6-2 7-0.9 4.7 0.9 1.5 2-0.3 1-1.8 1zM658 918.2l-4 0.5-2.1-0.7 0.4-1 2.7-2 4-1.4 0.9 2.4-0.9 1.9zM444 928.3l-2 0.5-1.6-1.8-0.3-2 1.9-1.1 3 0.4 0.6 1.7zM532 941.7l-2 0.2-7-1.7-6 0.5 0-2.4-4 0.1-3-1.7-1.7-2.7-0.3-2-2.5-2 0.4-1 3.6-1 3.5-2.2 4 0 2.3 1.2 1.7 2 1 4.1 7.9-2.1 4.8-3 5.9 0 0.9 1-0.5 1-4 3-2 5.2zM611 932.1l-5 0.4-7-0.6-4-0.9-2.1-1-0.3-1 3.1-1 8.3-0.3 6.5 0.3 3.4 1 0.7 1-0.7 1zM445 934.2l-3.3-0.2-1-1 0.2-1 2.1-1.3 2.8 2.3-0.1 1zM568 940l-5-0.6-2.4-1.4 1.4-0.5 3 0.3 2.5 1.2zM485 942l-3-0.4-0.7-0.6 0.3-1 3.4-1.4 3.4 0.4 0.6 1-0.8 1zM621 945l-13.8 0-4.3-1-2.5-2 0.6-1.2 3-1.3 8-0.6 14 1.7 4.7 1.4 1.4 1-0.4 1-1.7 0.5zM437 944.3l-3 0.4-4-0.6-2.3-1.1-1-1 0.1-1 3.6-1 6.6 0.7 1.9 1.3-0.2 1zM521 959l-4-1-3 0.8-6-1.1-1 0.4-2.8-1.1-0.2-1 1-1.2 1.7-0.8-0.1-3 0.9-2-2.3-1-1.1-1-0.1-1 1.1-1 4.9-1.8 4.7-0.2 1.3 3.2 2.7 1.8 1.7 3 8 1 1.4 1-0.6 3-1.2 1.6zM422 953.1l-1.5-0.1-1.4-2 0-2 1.2-2 6.7 0 2.3 1 0.7 1-0.1 1-1.9 1.8zM565 953.4l-3 0.5-3-0.5-2.4-1.4-0.1-1 4.3-3 4.2-1.4 5 0 2.5 1.4 0.4 1-0.9 1.3zM656 967.1l-3 0.4-3.4-0.5-1.8-1-1-2 2.1-2 3.1-0.7 4 0 3 0.9 0.5 2.8-0.9 1zM518 965.1l-4 0.8-4.1-0.9 1.1-1 2-0.1 5.6 1.1zM428 973.3l-5 0.3-1.5-0.6-0.4-2 2.2-2 2.7-1.3 3-0.8 2 0.2 1 1.3-0.7 2.6zM515 979.1l-4-0.5-3.1-2.6-4.2 0-3.1-1-1.6-1 0-1 5-1.8 3-0.2 1.9-3 2.1-1.3 2-0.5 3 0.2 3.7 2.6 1.1 3 2.5 0 0.4 1-1.7 3.1zM452 979l-5 0.3-4.9-1.3-4.1-3 0-2 1.4-1 2.6-0.6 4.1 0.6 6.7 5 0.3 1zM612 973l-1.2-1 1.2-0.8 2.3 0.8zM562 984l-3.3 0-3.3-1-4.5-3-0.1-1 6.2 0 8.1 3-0.1 1zM479 988l-10-0.5-6.2-1.5 0.6-1 5.3-2 7.3-1.1 13 0.2 5 0.8 2.1 1.1-0.4 1-4.7 1.6zM516 997.1l-5-0.1-2-1-1.7-2-0.8-4 1.4-3-1.7-1 1.8-1.9 1-0.6 1.4 0.5-0.4 1.3 2-0.8 3 0.2 2.4 1.3 1.8 2 1 3-0.3 2-1.8 3zM594 995.3l-7-0.7-2-1.1-0.5-1.5 2.5-2.1 4.8 0.1 1.7 1 1.4 2 0.1 1.5zM533 1001.2l-5 0.5-2.4-0.7-0.4-1 2.8-1.4 4-0.2 2.2 0.6 0.7 1z"/>
<path fill="#0000fc" d="M531 648l-4.8-1-0.1-2 1.9-0.7 3.6 0.7 1.6 2zM512 661.8l-3-0.9-1.8-1.9 0.8-0.5 1 1 0.7-0.5-2.5-3-0.1-3 0.9-2.2 2-1.9 2-0.8 3 0 2.3 0.9 1.7 2 0.5 4-0.8 2-1.7 1.8-2 1-3 0.1zM589 657l-3-1-0.7-1 0-1 1.4-1 3.3-0.7 3.8 0.7 0.2 1-1.4 2zM489 663.1l-14-0.2-4.9-0.9-4.5-2 1.2-1 4.2-0.7 10-0.4 9 1.1 5 2-0.7 1zM556 667.1l-2.2-0.1 3.7-3 5.4 0 0.1 1.1zM516 678.1l-4 0.1-3.4-2.2-5.6-1-2.1-1-0.2-1 3.7-2 3.4-1 3.2-3.1 2-0.6 3 0.3 2.3 1.4 1.7 2.1 2 0.8 0.9 2.1-0.9 1.8-2.3 0.2-1.7 2zM445 675l-5-0.2-1.2-0.8-0.1-2 3.3-2.5 4-1.4 4.4-0.1 1.8 1-1 2zM430 679.3l-3-0.1-2.8-1.2-2.3-2-0.1-1 1-1 2.2-0.4 4 1 2 2.4 0 1.6zM657 685.1l-3 0.4-4-0.5-2-1-0.5-2 3.1-2 5.4 0.2 3 1.6 0.4 1.2-0.4 1.2zM513 702.7l-3 0.1-3.7-1.8 0-1 1-1 3.3-1-2.5-2-1.2-3-1.9-0.9-0.7-2.1 1.3-1 7.4-2.3 6 1.6 2.9-0.3 4 1 1.5 1 0.5 3-0.6 1-6.3 1.3-1-1.4-1.1 2.1-1.9 1.8-4 0.9 0 0.6 1 0 0.7 1.7zM571 699.1l-4 0.9-4-0.7-4.6-2.3-0.9-1 0.2-1 3.3-1.2 4 0.6 6.2 2.6 0.5 1zM425 700l-4 0.1-1-0.9-0.7-2.2 0.7-2 1-0.8 4.9 0.8 2.3 1 0.9 1-0.1 1.3-1 0.9zM618 704.1l-9 0.8-4-0.7-1.3-1.2 2.3-1.3 6-0.8 6 0.7 2.7 1.4zM436 706.2l-6 0.3-1.8-0.5-0.5-1 3.3-1.9 4-0.4 2.9 1.3 0.2 1zM487 708l-3-0.1-1.6-0.9-0.1-1 1.7-0.5 3 0.4 1.1 1.1zM539 718.4l-3 0-5-2.7-9-2-3 3.9-3 1.3-7-0.2-2.1-1.7 0.3-1 1.7-1-0.4-3 1.5-3 3-1.9 3-0.2 1-1.7 7 1.9 6-0.3 2 0.5 3 2.9 1.5 4.8 2.9 2 0.5 1zM609 716.2l-8 0.7-5.6-0.9 0.6-1 3.4-1 6.6-0.5 4.2 0.5 0.7 1zM443 722.2l-1.1-0.2-0.4-1 1.5-1.1 1.2 1.1-0.3 1zM460 732.1l-6 0.4-6-0.6-3.7-1.9-0.6-2 2.3-3 4-1.9 5-0.8 5 0.4 1.4 1.3 1.8 6-0.6 1zM527 741.1l-7 0.6-8-1.5-3-3.2-0.4-3 0.7-2 1.7-1.9 2-1 2-0.3 3 0.6 2.8 2.6 0.6 4 2.3 0 4.3 2.8 0.2 1.2zM659 732.6l-2-0.3-2.4-1.3-0.9-1 0.3-0.7 2-0.3 3 0.8 0.4 1.2zM573 747l-8 0.9-4.8-0.9-0.5-1 1.3-4-0.3-1-3.7-2-3-3.3-5.7-2.7-1.9-2 0.5-1 3.1-0.7 3 0.4 18 5.7 1 0.9-0.2 2.7 5.8 4-0.8 2zM618 735.1l-4 0.3-5-0.6-2.5-0.8-1.5-2 0.7-1 2.3-0.6 9 0.7 2.5 0.9 0.6 1-0.3 1zM612 752.1l-3-0.1-2.7-1-2.3-2 0.5-1 5.5-1.9 5 0.9 1.1 1-0.1 2-1 1.1zM505 776l-4 0-2.8-1-0.4-1 0.7-1-3.2-2-0.8-3 1.5-1.6 3-1.3 10-0.7 2.8-1.4-2.9-4-0.4-3 0.7-2-1.8-2 0.7-1 3.9-1.9 3-0.1 14.3 5-0.8 1-4.1 2-2.9 0-1.1 3-2.1 2 1.8 1 2.2 5-0.3 1.4-3.8 2.6-3.2 0.5-1-0.8-1.5 0.3-1.5 1.9-6-0.2-0.5 0.3 0.5 0.6 1.3 0.4zM595 765.1l-5 0.1-2-1.2 1-1.2 4-1 5 0.1 1.9 1.1-0.7 1zM449 770.4l-3 0.3-4-0.5-3.1-1.2-0.4-1 2.5-1 6 0.1 2.7 0.9 0.8 1zM480 773.8l-3.5-0.8-1-1 0.2-1 2.3-0.7 2 0.7 0.7 2zM597 775l-5-0.6-0.8-0.4 0.1-1 2.7-1.2 4-0.3 5.6 0.5 1.9 1-0.7 1zM511 792.6l-13-4.2-16-1.4-3.8-3 0-3 3.1-5 1.7-0.7 5 1.6 4 0 4 1.3 3.4 1.8 2.2 4 3.4 0.4 3-1.9 1.4 0.5-1.3-2-0.1-2 2-3.7 2-2 10 2 3-1 4 0.3 5 1.4-0.1 1-1 1-3 2-3.9 1-1.3 2-1.7 1.2-4 1.3-4 0-0.4 0.5 1.4 0.7 0 1.2zM595 790.2l-4 0.5-4-0.9-2.7-2.8 0.8-1-2.1-2.9-0.1 0.9-1.9 1.1-2 0.3-3-0.2-0.8-1.2 0.8-1.1 3-1.3 3-0.1 1 1 1-2 3-1.7 4-0.5 3 0.5 2.3 1.2 1.5 2 2.4 1 2.5 3-0.9 1zM441 788l-3-0.7-0.5-1.3 1.2-1 2.3-0.2 2.3 0.2 2 1-0.2 1-1.1 0.5zM621 803.3l-2 0.1-2-1 1.4-1.4-0.4-0.6-4.1-1.4-1-1-0.5-2-3.4 0.9-7-2-4-1.9-0.5-1 0.4-1 4.1-1.4 17-1.5 4 0.1 2.5 0.8 1.4 2-0.9 2 1.6 2 0.3 2 2.3 2-0.5 1zM604 818l-5-0.5-1.1-1.5-0.9-3.9-1-0.4-7 1.6-12 0.7-6 1.6-4-0.4-2.9-2.2 1.3-3-8.4-6.5-2-0.5-6 0.7-5.6-0.7-3.8-2-2.2-3 0.8-4 1.7-2 3.1-1.6 3-1 4-0.2 3 0.7 1 0.9-0.4 3.2 0.4 0.8 1.1 0.2 2.9 0.3 8-2.4 4 0.7 3.3 2.4-0.5 4 1.2 1 8-1.8 7 0.6 3.5 2.2-0.3 1-4.2 2 4 2.4 6 2.1 9-0.3 4 0.7 1.7 1.1 0.3 2-2 2.4zM536 839l-5 0.2-4.2-2.2 0.1-1 5.1-2.2 1-1.4 1-0.1 0-0.6-12 0.4-5-0.6-0.7 1.5 0.7 1-1.4 1-8.6 0.7-5-1-2-1.3-1-2.5-4.1-0.9-4.9-2.2-14 0.8-9-1.6-2.8-2 0.1-1 5.3-2 8.4-0.9 14 0.6 7.5-1.7 1-1-0.1-1-1.1-1-0.4-4-3.9-0.8-4 1.1-6 3.3-3 0.9-8-0.1-24.2-5.4-2.5-2 0.3-1 1.7-1-2.3-2.8-4-2.2-0.3-1 5.3-1.8 3.7-3.2 0-1-3.3 0-0.4-1 0.4-2 1.9-1 1.7 0 2 1.2 3-1.1 4-0.2 16 3.7 0.9 1.4 0.1 2-1.4 1-9.1 3-1.2 2 0 1-1.4 1-0.8 2-3.1 2 2 0.4 1-1 3 0.4 5-0.8 10-3.2 5.1-2.8-1.5-3 0.8-1 1.6-0.5 7 0.3 12 2.9 3.5-2.7-1-4 2.5-3.9 3 0.8 11 0.7 2 1.3 0.3 1.1-0.7 2-1.4 1-3.2 0.5-8-0.1-0.9 0.6 1.9 1.6 6.5 2.4 0.1 1-1 1-3.4 2-3.2 0.7-4-0.4-3-1.7 0 1.4 1.1 1-2.4 1 7.3 0.9 2.5 1.1-0.3 4 1.8 1.8 3 0.6 2 1.3 5 1 2 1.4 3 0.2 8-2.2 4 0 1.7 0.9 0.3 2 2.1 4-0.2 1-4.9 1.3-0.7 0.7 1.7 2 4.6 3-0.5 1zM393 797.1l-9-0.4-4-1.5-0.6-1.2 2.6-1.2 5-0.6 7 0.4 4 1.4 0.4 1-0.8 1zM693 797l-8-0.2-2.6-0.8-0.8-1 0.4-1 2-1 4-0.6 7 0.1 4.4 1.5 0.2 1-1.5 1zM697 854.1l-8 0.4-6-0.6-14-5.6-4.3-3.3-1-2 0.1-2 3.2-6-0.3-2-4.7-5-2-0.4-1.8-1.6 2-2 0.2-1-1.8-1 0.4-1.7 5 0.4 2.7-2.7 1-2-0.2-2-3.9-5-0.7-2 1-3 2.1-1.7 5-2 5-0.5 11 2.6 19 2.1 24-7.2 15-1.3 6 0.7 0.7 0.3 0.5 3 1.3 1 8.5 2.3 8 0.1 16-1.3 13 1.5 9-3.2 7-0.7 8 1.2 3 1.4 1.4 1.7-0.2 4-0.8 2-3.4 1.7-8-0.2-9-1.3-24 2.1-36.1 0.7-12.5 1-0.4 1 43 2.9 23-0.9 9 1.4 3.1 1.6-0.6 3 1.2 1 12.2 6 0.1 2.1-3.8 3.9 3.6 4-0.4 1-2.2 1-14.2 1.6-16 3.6-10 0.9-9-0.5-7-2.8-4-0.6-25 2.1-8 0-8-0.9-15-3.3-13.7 2.9-3.9 2-0.2 1 1.7 1 7.1 1.4 3.1 1.6 0.1 1zM644 802.2l-4 0.6-4-0.2-3-1-1.1-1.6 5.1-2.4 7-0.8 2 0.8 0.9 1.4-0.8 2zM396 854.1l-9 0.4-4.3-0.5-1.7-0.8-0.3-1.2 1.5-1 8.9-2 1.7-1-0.2-1-4-2-12.6-2.4-3 0.3-13 3.8-10 1.9-23-3.7-18 1.8-12 0.4-20-0.5-2.9-1.6-0.2-1 0.9-1 2.2-0.8 14-2.5 23-0.3 6-1.2 9-2.9 16-1.9 7-0.1 7 1 14 5.1 5-0.6 4-2.2 4.8-4.6 4.6-3 0.9-1 0.5-2-3.3-5-1-4-1.7-3-3.8-3.1-6-2.5-5 0.1-11 4-6.6 1.5-0.9 1 25.9 6 2.3 1 0.6 1-0.7 1-6.6 2.6-17 4-10 0.7-20-1.8-22-0.9-19 1.6-12-0.3-9-0.8-7-1.4-3-0.9-1.7-1.8 2.7-2.5 2-0.4 3 0.5 2-2.4 3-0.9 14-0.3 11-1.5 27.9-0.5 23.1-2-0.6-1-10.4-1.1-28 0-12-0.6-10-2.2-2.4-1.1-1.8-2 1.2-1.9 2-0.9 9-2.1 5-0.2 19 1.7 32-4.4 11 1.2 17 4.5 10-1.8 9-0.7 11-2.6 8 1.5 5 3.3 4-2.1 2 0.2 2 1 2 2.2 0.8 3.1-0.8 2.3-2 1.4-4 1.2-5-4.3-3 3.4-0.8 2 1.1 3 6.7 6.9 6-3.4 7-1.3 1-1.2 8 0.5 3.2 1.5-0.7 2 1.7 3-0.4 1-4.7 2-5.1 0.6-7-0.3-1 1.6-2 0.1-2.1-1 4-1-7.5-3-0.4-0.7-6 6.7-1 3 3 5.5 1 0.5 1-1.4 1-4.3 2-2.7 5 2.4 1.4 2 0 2-2.6 4-1.3 1-2.5 0.4-3-2.3-1-0.1-2 3.4-3 2.4zM660 807.8l-1 0.2-6-2.9-0.6-1.1 0.3-1 3.3-0.6 3.4 0.6 0.8 2zM542 815.2l-4-0.3-10.3-3.9-0.7-1 3-2 4-0.4 15.3 3.4 0.3 1-1.2 1zM797.4 840l5.6-0.8 2.4-1.2-10.4-2.8-11.8-5.2-8.2-1.4-7-0.6-15 0.7-20 1.9-6 0.1-10-1.4-16.3-4.3-3.2-2 0.4-1 3.1-1.3 16-3.9 12.4-1.8 0.6-1-9-1.4-14-4.3-3-0.1-4 1.1-5.7 3.7-2.3 3-1.4 5-3.4 5 0.5 2 0.9 1 4.4 3 4.1 4 3.9 2.3 3 0.8 4-0.4 12-4.3 12-1.3 22 1.5 8 3.7 7 1.5zM651 829l-5 0.6-7.6-1.6-3.4-2.4-6-1.8-6 1-1.9 2.2-2.1 1-4 0-5-2.4-1.7-5.6 0.3-1 1.4-1.6 2-0.9 5-0.4 6.7 0.9 7.3 4.8 11-1.9 8 0.8 3.8 1.3 2.8 3-1.2 2zM587 829.2l-5 0.5-14.3-0.7-1-1 4.6-3 0.9-1 0-1-5.6-4 0.4-0.8 19-0.6 7 1.8 3.4 2.6 0.4 1-0.4 1-2.2 2-3.4 2zM518 896l-5 0.9-3-0.9-1-1-0.1-1 2.1-1-2.3-3-0.1-3 1.5-4-2.1-2.4-6-2-1.3 0.4-3.2-2-2.5-2.5-7-0.8-2-0.9-1-1.2-6 4.9-3-0.4-0.4-1.1 4.4-3.4-0.3-4.6 1.8-3-0.4-2 3.9-1.2 7 0 7-2.3 9.6-4.5 1.4-1 0-3.2 1.8-2.8-3.8-1.5-2-2.1-12 2.5-6-0.1-1.7-0.8-0.4-1 0.4-1-2.5-2-6.8-2.7-10-2.8-2.8-1.5-0.1-1 2.9-1.5 7-2 8 0 3 0.9 12.3 6.6 1.7 2 6-0.1 4 0.6 7-1.1 3 0.8 3.8 2.8-0.2 1-6.6 2.4-2.6 1.6 1.6 0.7 10 0.1 2 0.9 0.9 1.3 0 2-1 1-5.2 2 4.5 3 0.4 1-0.6 0.6-1-0.3-1.8 0.7 0.1 2-1.3 2.2-4 2.4-4 0.6-3-0.7-4-2.6-8-0.7-1.3 0.8 0.4 2-1.6 1 0.1 2-2.1 2 2.5 0.6 1-0.9 5-0.4 2 0.4 1 1.3 5-0.1 2.5 1.1 1.5 1.9 1-0.5 2.3 0.6 4.6 3-1.1 4-1.2 2 0.9 4-0.3 2 2.7 0 4.6 3zM555 858.1l-7 0.5-6-1.8-3.7-2.8-0.7-2 0.2-3 2.2-2.3 4-1.4 15-0.8 1.5-1.5 1.1-3 4-3-1.4-3 2.8-2.1 3-0.5 8 1.7 11 0.7 7 1.8 1.3-0.6 0.7-3.9 0.8-1.1 2.2-0.6 8 2.6 5.1 4-0.1 1.3-1 0.1-1 1.3-15-1.3-6 2.6-0.7 1 4.8 2-0.2 1-4.9 1.8-6 0.7-8-1.1-2 0.6-1.3 1 0.4 4-2.1 1.8-5 1.5-4-0.3-3.2-1-2.7 2 0.9 0.4 0.4 1.6zM474 852l-9 0.2-5-0.7-1-0.4-1-1.8-4-1.9-2.5-0.4-8.3-4 5.7-3 4.1-1.1 6-0.5 4 0.8 4.2 1.8 2.8 3.2 7.8 3.8-0.8 2.9zM624 848l-3-1.1-5 0.8-4-0.9-2.5-1.8-0.6-3 1.7-2 3.4-1.4 4-0.2 3 0.7 3 2.4 2 0 2.1 2.5-1.1 1-0.3 2zM659 844.1l-5 0.2-1.1-0.3-0.3-1 1.4-1.2 5-1.5 1 1.7zM645 848.1l-4 0.3-5-0.9-3.6-1.5-1.3-1 0-1 5.9-1.8 7 0.2 2 0.7 1.6 1.9-0.7 2zM609 857l-7 0.1-3-0.9-1-1.2 0.4-1 1.6-1 3-0.9 3 0.1 2 0.8 1.9 2 0.5 1zM624 858.3l-3 0.4-4.7-0.7-2.1-1-0.3-1 4.1-1.9 5 0.2 2.9 1.7-0.1 1zM442 862l-3-0.3-1-0.7 0.3-1 2.7-0.7 3.3 0.7 0.4 1zM533 871.2l-5 0.6-2.1-0.8-0.4-1 1.5-1.5 3-0.1 3.4 1.6zM349 879.1l-10 0-3.4-1.1 0.7-1 2.3-1 9.1-2 25.3-2.7 3 0 1.8 0.7-3 2-6.3 2zM742 879l-12 0-13-1.8-9.1-2.2-5.7-3 1.8-0.7 3 0 26 2.8 8.4 1.9 2.3 1 0.7 1zM602 875.3l-6 0.1-3.7-1.4 1.1-1 4.6-0.5 5.9 0.5 1.1 1zM598 885l-6.6 0-2.7-1-0.6-1 1.9-1.1 5.5 0.1 3.5 1 0.7 1zM614 900.4l-3 0.5-3-0.4-3.4-1.5-0.5-1 0.7-1 3.2-1.7 5-0.3 2 1 1.2 2-0.2 1zM554 917l-5 0.6-2-0.6-0.5-1 1.9-2 5.6-2.7 3-3.2 3.8-2.1 0.3-1-1.4-4 0.6-1 3.7-0.8 7 0.3 4 1.3 2.5 2.2 0 1-0.9 1-4.8 3 0.3 2-1.1 1.5zM516 916.1l-4-0.6-2.7-2.5-0.6-4 1.7-3 2.6-1.6 2-0.3 4 1 1-0.4 4 0.2 3.6 1.1 0.7 1-0.9 2-3.4 1.8-1-0.4-1.5 0.6-1.5 3.1zM616 916l-8 0.6-2.2-0.6-0.8-1 1.6-2 4.4-1.1 6-0.2 2.7 1.3 0.4 1-0.6 1zM458 924l-6 0-5-1.5-3.4-3.5-0.4-2 0.5-1 3.3-1.9 4-0.8 6-0.1 4.1 0.8 2.1 2 0 6-0.6 1zM656 918l-1.3 0-1-1 2.6-2 2.7-0.6 0.4 1.6-0.4 1.2zM443 927l-1.5-1 0.5-1 2 0.3 0.2 0.7zM530 940.1l-6-0.9-6 0.7-1-2.1-2 0.4-3-0.7-2.7-2.5-0.8-3-2.3-2 0.4-1 3.6-1 2.8-1.7 4 0 3.5 2.7 0.8 4 0.7 0.3 9-2 5-2.7 3.8 0.4-0.4 1-2.9 2-1.1 4-1.4 2.1-2 1.5zM608 930.3l-3 0.3-4.7-0.6 4.7-0.9 3.9 0.9zM487 941.1l-4 0.2-0.6-0.3 0-1 1.9-1 2.7 0 1.1 1zM624 944.1l-14 0.5-4.2-0.6-2.4-1-0.7-1 0.7-1 2.6-0.9 7-0.4 10.7 1.3 3.5 1 1.2 1zM436 944.1l-4.6-0.1-3.6-2 0.4-1 1.8-0.5 6 0.3 2 1.2-0.2 1zM525 958.1l-5 0.5-3-0.8-4 0.5-6-0.5-2-0.8-0.4-1 0.5-1 2.1-1-0.1-3 1-2-2.2-1-0.8-2 4.9-2.3 3-0.3 2 0.7 1 2.6 2 1.3 1.5 2 0.5 3 0-1 1-0.5 6.2 1.5 0.5 3-0.5 1zM425 952.2l-4 0.6-1-0.8-0.7-2 0.7-2.2 1-0.9 2 0 5.4 1.1 0.8 1-0.2 1.1-1 1zM563 953.1l-4-0.4-1.2-0.7-0.3-1 2.5-2 5-1.8 5 0.3 1.6 1.5-0.4 1-1.7 1zM655 967.1l-5-0.3-1.6-0.8-1-2 1.6-1.6 3-0.8 4 0.1 3 1.1 0 2.4zM516 978.4l-4 0.1-3.5-2.5-3.1 0-3.1-1-1.5-1 0.1-1 1.8-1 4.8-1 1.1-2 2.4-1.8 2-0.6 3 0.3 3.1 2.1 1.2 3 2 0 0.6 1-1.2 3zM427 973.2l-4.1-0.2-1.1-1 0.1-1 2.1-1.9 2.6-1.1 2.4-0.4 1.7 0.4 0.5 1-0.7 2zM450 979.1l-5-0.4-3.9-1.7-2.4-2 0.1-2 1.8-1 2.4-0.3 4 1.2 5.1 4.1 0.1 1zM562 983.2l-4.4-0.2-3.7-3 2.8 0 6.3 2-0.2 1zM484 987l-11.2 0-4.2-1-0.4-1 3.8-1.6 6-0.8 9 0.3 4.7 1.1 0.1 1-2.2 1zM514 997l-4.1-1-2-2-0.8-2-0.1-2 1-2.4 2-1.8 2-0.7 3 0.1 2 1 1.7 1.8 0.8 2-0.1 3-1.1 2-2.3 1.6zM593 994.5l-6-0.4-1.6-1.1-0.1-1 2.7-1.9 3 0.2 2.5 1.7 0.4 1zM531 1001l-3.6 0-0.8-1 3.4-1 3.1 1z"/>
<path fill="#000fff" d="M511 660.9l-1.9-0.9 1.5-1-2.9-3-0.3-2 0.4-2 3.2-3.1 3-0.5 2 0.5 1.6 1.1 1.3 2-0.2 4-2.7 2.9-4 0.6zM591 656.1l-3.7-0.1-1.1-1 0.2-1 2.6-1 3 0.3 0.7 0.7-0.2 1zM489 662.1l-6 0.5-7-0.4-4.8-1.2-0.9-1 2.3-1 3.4-0.4 9 0.3 5 1.1 1.3 1zM514 678l-3-0.6-2-1.6-4.4-0.8-1.9-1-0.3-1 3.1-2 2.5-0.2 1-1.8 2-1.6 2-0.6 3 0.3 5.7 3.9 0.6 2-0.3 1-2.8 1-2.2 2.2zM446 674.1l-4 0.8-2.3-0.9-0.5-1 1.2-2 3.6-2 4-0.7 3.2 0.7 0.1 1-0.8 1zM430 678.1l-2 0.6-2.6-0.7-2.4-1.8-0.1-1.2 2.1-0.8 3 0.6 1.6 1.2zM655 685.1l-3.4-0.1-2.6-0.9-1-1.1 0.1-1 1.9-1.4 3-0.6 3 0.5 2.6 1.5 0.4 1-0.6 1zM513 701.3l-3 0.5-1.8-0.8-0.4-1 0.5-1 3.5-1-3.2-2-1.2-3-2.2-1-0.3-2 1.5-1 2.6-0.2 4-1.7 6 1.4 1.1-0.5 5.6 2 0.3 2-1 1.4-4 1.7-1-1.4-3 3.5-4 1-0.5 0.8 1.6 1zM427 699.1l-6 0.7-1.2-1.8 0.1-2 1.1-1.4 6 1.4 1.2 1 0.2 1zM568 699.2l-5-0.6-3.4-1.6-0.8-1 0.7-1 2.5-0.3 5.5 1.3 2.2 1 0.5 1zM614 703.2l-4 0.4-2.4-0.6 2.4-1 2 0 2.7 1zM435 706l-5 0-1.1-1 2.1-1.3 4-0.4 1.7 0.7 0.3 1zM517 718.2l-8 0.1-1.4-1.3 0.2-1 1.6-1-0.4-3 1-2.3 3-2.1 3-0.3 1-1.5 7 2.2 7 0.1 2 1 1.6 1.9 0.3 3-0.9 1.3-8-1.5-3 0.2-2-1-1.1 3zM486 707.4l-2.4-0.4 1.4-1 1.8 1zM459 731.3l-5 0.5-5-0.5-3-1.3-0.7-2 1.5-2 2.2-1.3 3-0.7 4 0.1 3 1.7 1.7 2.2 0.3 2zM523 741.1l-5 0.1-6-1.5-1.9-1.7-0.9-2-0.1-2 0.7-2 2.2-2 2-0.7 3 0.2 2 1.1 1.8 2.4 0.2 3 2 0.4 2.8 2.6 0.2 1zM571 747.1l-7 0.3-3-1-0.4-1.4 1.6-4-5.1-3-2.3-3-5.5-3 0-1 1.7-0.4 3.2 0.4 15.8 5.5 0.3 2.5 6.4 4-0.7 2zM615 735l-7-1-1.6-1-0.3-1 1.9-1.1 4 0 5.8 1.1 1 1-0.8 1.3zM614 751.1l-2 0.6-3-0.2-3.1-1.5-0.7-1 0.6-1 1.9-1 5.3-0.2 2 1 0.5 1.2zM506 775l-3 0-2-0.6-0.8-1.4-3.7-2-0.9-2 0.9-2 2.5-1.4 10-0.6 2-1.6 2.1-0.4-2.1-1.5-1.7-2.5-0.4-3 0.8-2-1.5-1 0.7-2 3.1-1.5 3-0.2 4.9 1.7 5.4 3 0.2 1-0.9 1-1.5 1-1.1-0.4-1 0.4-1.1 3-2.6 2 2.3 1 0.7 6-3.9 3-4.4-0.6-2 1.4-4 0.2-1.8 1 0.8 0.9zM597 764.2l-5 0.8-2.9-1 0.9-1.1 5-0.8 3.3 0.9zM599 774l-3.9 0-0.9-1 3.8-0.7 3.5 0.7zM510 790.4l-3-0.1-9-2.5-15-1.5-3-2.3-0.6-3 2.6-4.4 3-0.6 3 1.1 4 0.1 4 1.2 3.4 2.6 0.7 3 2.9 1.3 2 0.2 2-0.7 1-1.7 1 0.4 0.9-0.5-1.4-2 0-2 1.5-2.7 2-1.5 5-0.4 5 1.2 4-0.9 6.2 1.3 0.3 1-0.8 1-2.7 2-3.4 1-1.4 2-2.2 1.3-4 1-4-0.3 1.2 2-2.7 1zM592 790.1l-4-0.6-3-2.5 0.3-1-1.8-3 0.6-2 1.1-1 3.8-1.3 4 0.2 2.6 1.1 1.6 2 2.2 1 1.2 2 0 1-0.9 1-3.7 2.2zM582 784.3l-3 0.6-2.3-0.9 0.5-1 1.9-1 2.9-0.4 0.7 1.4zM622 802.2l-2 0.4-2-0.5 0.6-1.1-0.6-1-4-1.5-1-2.5-4 0.1-7-1.9-2.6-1.2-0.5-1 0.8-1 3.3-0.8 7 0.2 10-2 4.7 0.6 1.7 2-0.8 2 0.2 1-0.8 0.5-1.7-0.5 1.2 1 0.5 2 2 0 1.6 1 0.3 1-1.1 1zM574 814.1l-4 0.5-3-0.7-1-0.9 1.1-3-4.1-2.5-4-3.4-4-1.2-8 0.4-4.8-1.3-3.4-3-0.4-2 0.9-3 3.7-2.9 6-1.3 3.8 1.2 0.9 2-0.4 2 4.7 0.4 7-1.7 4 0.2 3.3 2.1-0.4 4 2.1 1.5 2 0.1 3-1.3 4-0.5 6.3 1.2 1.1 1-0.4 0.8-3.1 1.2 0.2 1 7.7 5-2.8 2-3 0.8zM537 838.2l-5 0.5-2.8-0.7-1.1-1 0.4-1 5.5-3.4 0.4-0.6-0.4-0.6-12 0.4-5-0.7-1 2.7-1 0.7-3 0.8-5 0.1-5-1.1-2-1.4-1-2.1-3.3-0.8-5.7-3-14 0.9-5-0.6-3.7-1.3-1-1 0.2-1 5.5-1.8 8-0.6 12 0.9 10-2.5-2.5-3-0.5-4.2-2-0.6-5 0.2-8 4.1-6 1-6-0.9-10-2.8-7.4-0.8-4.6-1.4-1.8-1.6 0.4-1 1.4-1-3.9-5 0.3-1 3.3-2 1-2 1.5-1 0-1-1.2-0.6-1.2 0.6-0.5-2 0.8-1 1.9-0.6 2 1.3 3-1.3 4-0.2 12.7 2.8 2.3 1 0.9 1 0.1 1.4-1 1-9.8 3.6-0.2 3.2-1 0.5-2.7 3.3-3.2 1 3.9 0.7 1-1 6-0.1 7-1.7 13.4-4.9-2.4-2 0.1-1 1.9-0.7 3 0 4.2 0.7 6.1 2 0.9 1-0.6 1-5.6 0.3-0.3 0.7 2.3 1.9 2.6 1.1 0.4 1.3 1-1.3 2-0.1 1 1.3 6.6 0.8 2.1 1 0.5 1-0.3 3 2.1 1.9 5 2 5 1 3 1.7 2 0 6-1.9 5 0.3 1.4 1 2.1 5-0.7 1-3.7 2 0.9 2 3.7 3-1.7 0.9zM393 795.1l-6 0.5-3-0.6 0-1 3-0.5 5 0.4zM523 799.1l-10 0.6-2.3-1.7-0.3-2 1.6-1.7 2-0.6 8-0.2 4 1 1 1.3-0.1 1.2-0.9 1.1zM694 795.1l-3 0.4-4.2-0.5 0.8-1 4.4-0.3 2.1 0.3 0.3 1zM643 801.2l-5 0.6-2.4-0.8-0.2-1 3.6-1.5 4-0.4 1.5 0.9 0 1zM694 853.1l-8.4-0.1-4.6-2.2-9-2-5-2.4-2.1-2.4-0.3-3 2.9-5 0.1-3-5.1-5-2.5-0.7-1.6-1.3 2.1-2 0.2-1-0.7-0.8-1 0 0-1.1 5 0.5 4.3-4.6 0.1-3-4-5-0.7-2 1.1-3 2.2-1.6 4-1.4 5-0.4 10 2.4 9 0.8 10 1.8 25-7.1 12-0.6 5 0.6 7.2 3.5 7.8 1.6 24-0.9 5 0.8 5 2 10 0.2 1.3-2.7 1.3-1 6.4-1 6.6 1 3.1 2 0.4 2-0.9 3-2.2 1.3-3 0.3-8.3-0.6-4.7-1.6-24 3.3-32 0.7-18 1.2-11-1.4-15-4.8-5 0.9-5.1 2.7-3.6 3-6.3 12 0.6 2 0.9 1 5.5 3.7 5 4.5 5.6 2.8 0 1-15 4-4.5 3-0.4 1 0.9 1 9.4 1.8 0.6 0.2zM394 853.1l-7 0.1-1.5-0.2-0.5-1 10.4-2 0.9-1-0.4-1-2.3-2-3.6-1.4-15-3.6-14 4.9-11 1.8-24-3.4-26 2.4-15-0.4-6.5-1.3-1.6-1 1.3-1 9.8-2.2 8-0.9 19-0.3 16-4.1 17-1.8 11 1 16 6.3 7-3.8 5-4.6 5.5-3.6 0.9-1 0.6-2-6.3-12-4.7-3.7-7-3.1-3 0.2-14 5.3-11 1.3-19-1.7-25 0.1-11-0.7-6-1-5-1.7-1.5-1-0.6-1 0.3-1 4-2 6.8-1.4 6-0.1 16 1.4 25-3.5 10-0.7 12 1.8 15 4.9 8-2.4 11-1 10-2.4 4 0.2 4 1.1 5 3.8 4-2.5 2.5 0.8 3.3 4 0 2-0.6 1-5.2 2.2-2.5-2.2-1.5-2.5-1-0.3-3.9 4.8-0.8 2 1.1 3 4.9 5 1 2-1.2 3-4 4-1 2 0.4 2 2.9 5-0.3 3-2.1 2.4-3 1.6-11 2.8zM516 808.2l-4.4-0.2-1.9-1-2.3-3 0.6-1.8 2-1.3 3-0.6 8.3 3.7 0.3 1-0.8 1zM463.6 803l-0.1-1-1.5-0.7-0.3 1.7zM659 806.9l-5.4-2.9 1.4-1 4 0.4 0.8 1.6zM543 814.2l-4 0.1-9.7-3.3-1-1 1.7-1.3 4-0.5 12 2.8 1.8 1zM607 817l-4 0.4-3-0.5-1.5-1.9 0.1-2 0.8-2 2.6-1.1 4-0.3 3.5 0.4 2.1 1 0.5 2-1.1 2.1zM359 830l-12 0.8-18.9-1.8-22.1-1-15 1.1-11-0.2-13-1.3-3-1.2-0.8-1.4 1.8-3 5-1.7 11-0.7 11-1.6 33-0.8 23-2.1 6 0.4 11 2.2 12.4 3.3 2.2 1 0.7 1-0.6 1-4.3 2zM815 835.2l-6 0.8-8-0.5-5.6-1.5-8.9-4-14.5-2.2-21 0.7-19 1.9-10-0.5-16.6-3.9-4.9-2-0.9-1 1.4-1.5 4.3-1.5 14.7-3.6 9-1 46 2.9 26-0.4 5 1 2.4 1.1 0.6 1 0 2 1.1 1 11.1 6 0.4 1-1.4 2zM619 827.2l-5 0-3.9-2.2-1.1-5 1-2 3-1.4 6-0.2 3.8 0.6 4.2 3 0.6 1-0.6 1.3-5 2.4zM586 829.1l-6 0.1-8-1.5-0.9-0.7 2.5-3 0-1-2.5-3 1.3-1 11.6-1.3 8 2.1 2.9 2.2 0.3 2-2.1 2-3.3 2zM439 829.1l-8 0.2-4-0.8-2.9-1.5-1.4-2 3.2-3 6.1-1.4 2-1.3 7 0.7 2.2 1 1.4 5-2.3 2zM649 829.2l-3 0.1-6.7-1.3-7.5-5 11.2-2.9 7 0.9 4.4 2 1.2 2-1.1 2zM494 845.1l-5-0.3-1-0.8 0.3-1-3.2-2-17.1-5.6-2.3-1.4-0.2-1 3.5-1.8 6-1.4 7 0.1 4 1.5 9.5 5.6 1.5 1.1 1 2 6-0.1 2.3 1-3 2zM612 838.3l-8-0.8-4-1.3-1.3-2.2 0.3-2.7 1-0.9 2-0.3 6.1 1.9 3 2 2.7 3zM553 858.1l-7-0.3-5-2.2-2.2-2.6 0-4 2.1-2 4.1-1.4 15-0.6 1.1-1 1.5-4 4.7-3-1.1-3 2.8-1.5 19 1.6 3.7 0.9 2.7 2-6 4 4.5 2-0.4 1-6.5 1.8-5 0-4-0.9-3 0.6-2.3 1.5 0.7 3-1.4 2.1-5 1.5-7.8-0.6-2.2 1.6 0 0.7 1 0.7-0.6 1zM422 843.3l-1 0.3-0.6-0.6-1.2-3 0.2-4 1.6-2.2 4 1.6 1.5 2.6zM788 847l-13 0.2-4-0.8-5.8-2.4-3.2-0.3-24 2.1-12 0.1-10-1.6-10.5-3.3 0.5-1 12-4.7 5-1.1 9-0.8 21 1.7 9 3.7 7 1.5 22 0.4 10.8 1.3-0.4 1-3.6 2zM475 851.1l-7 0.8-7-0.5-2-0.7-0.7-1.7-4.3-2-1.7 0-4.9-3-0.7-1 2.2-2 4.1-1.6 5-0.7 5 0.7 4 1.9 3 3 6.6 3.7-0.1 2zM514 846.2l-3 0-2.7-1.2-0.7-2 1-2 3.4-1.9 4-0.4 3.7 1.3 2.1 2-0.3 1-1.6 1zM625 847.1l-2 0.5-2-0.8-4 0.6-4-0.6-3-1.8-0.6-1 0-2 1.9-2 2.7-1.1 6 0.2 3.2 1.9 0.8 2 0.4-1 1.3 0 0.6 2zM814 841l-1.3 0 0.8-1 2.9 0zM659 843.3l-3 0.6-1.8-0.9 1.6-1 3.2-0.3zM644 847.1l-6 0-4-2.1 0.4-1 2.6-0.9 6-0.1 2.4 1 0.6 1-0.2 1zM493 873.1l-5-0.3-2-0.8 0.8-1-0.8-0.1-2 1.3-2 0-1.7-4.2 0.4-2 4.3-3.9 3-0.6 4 0.2 4-1.1 14.1-6.6 1.6-1-0.7-3.2 2-1.8 10 0.1 2.8 0.9 0.8 1 0.2 1-0.8 1.4-5.9 1.6-0.7 1 4.6 2.3 1.4 1.7-2.7 1-0.3 3-1.9 2-3.5 1.5-3 0.3-3-0.8-4-2.2-6-1.5-3 0.2-1.5 1.5 0.8 2-1.5 1 0.1 2-2.5 2 2.2 1zM606 856l-4 0.3-2.4-1.3 1.4-1.5 3.4-0.5 2 1 0.4 1zM623 858.1l-4.4-0.1-2.2-1-0.2-1 2.8-1.5 4 0.2 2.1 1.3 0 1zM530 871.1l-1.4-0.1-1.1-1 1.5-0.6 2.2 0.6zM516 896.2l-3 0.1-3-1.4-0.4-0.9 2.1-1-2-2-0.8-2 0.4-3 1.2-2-2.5-3.9-8-2.1-2-2 0.3-2-1.9-2 1.6-1 7-0.1 1 1.5 5 0 2 0.9 1.4 1.7 2.9 0 4.1 3-0.4 5-1.1 2 1 2-0.2 3 2.3 0.4 1.4 1.6-2.6 2zM357 877l-10 1-4.6-1 6.6-2.1 8.2-0.9 7.8 0-0.1 1zM737 877.4l-4 0.6-10.1-1-7.8-2-0.1-1 7.8 0 8.7 1 4.2 1 1.9 1zM598 884.1l-5 0.6-3.1-0.7-0.6-1 1.7-0.8 3 0.1 3.4 0.7zM613 900.2l-5.2-0.2-2-1-0.5-1 2.7-2.1 3-0.6 2 0.3 2 1.3 0.4 1.1-0.4 1.1zM554 916l-4 0.2-0.6-0.2 0-1 5.5-3 2.2-3 5.1-3-1.6-4 0.1-1 1.2-1 4.1-0.5 5 0.5 3.4 1 2.3 2-0.1 1-1 1-5.4 3 0.1 2-1.2 1zM518 915.1l-4 0.6-3.4-1.7-1.5-3 0.1-2 0.9-2 1.9-1.7 3-0.8 3 0.8 4-0.3 4 1.4 0.6 0.6-0.2 1-2.4 2-3 1-1 2.4zM612 916l-4 0.1-1.9-1.1 0.3-1 1.7-1 4.9-0.9 4 0.3 1.4 0.6 0.4 1-1.1 1zM455 923l-4-0.3-4-1.7-2.1-3 0.6-2 2.5-1.3 4-0.7 5 0.2 2.9 0.8 1.2 2-1.2 4-1.9 1.4zM519 939l-1 0.1-0.5-1.1 0.5-1.1-4 0.8-3-1.3-1.7-2.4-0.4-2-1.6-1 0-2 5.7-2.2 3-0.3 2 0.8 1.9 1.7 0.9 2 0.2 3.2 2-1.2 3 0.2 7-1.5 1 0.1 0.8 1.2-0.3 3-2.5 2.5-3 0.5-6-0.8zM486 940.5l-1 0.4-1.4-0.9 1.4-0.4 1.7 0.4zM436 943.4l-4 0.2-3-1.6 1.1-1 5.1 0 1.8 1zM614 944l-6-0.5-1.7-0.5-0.8-1 1.5-1 5-0.5 6.3 0.5 4.1 1-0.2 1zM521 958.1l-3 0.1-2-0.8-5 0.4-5.2-0.8-0.6-1 0.3-1 2.1-1 0-3 1-2-2.1-1-0.3-2 1.8-1.2 3-0.7 4 0.7 0.3 2.2 2 1 1.7 2 0.5 3 0.9 0 0.6-1.2 1.4 0.2 3.3 3-0.5 2zM423 952.1l-2 0.2-1.1-1.3-0.1-2 1.2-1.8 5 0.4 2.3 1.4-0.1 1-1.2 1zM564 952l-4 0.1-1.2-1.1 2.6-2 3.6-1.1 3.7 0.1 1.5 1-0.6 1zM657 966.1l-3 0.8-3-0.2-2-0.7-1-2 0.8-1 2.2-0.9 5-0.1 2.4 1 0.6 1zM515 978.2l-3-0.2-3-2-5.1-1-1.4-1 0.1-1 1.5-1 3.9-1 1.1-2 1.9-1.4 2-0.6 3 0.4 2.5 1.6 1.4 3 2.1 0.7 0.2 1.3-1.1 2zM428 972.2l-4 0.4-1-0.6-0.1-1 2.5-2 3.6-0.6 1 0.6 0.1 1zM451 978.1l-3 0.6-4-0.7-3.6-2-1.2-2 1.8-1.6 4 0.1 5.5 3.5 0.8 1zM484 986l-8 0.2-2.9-1.2 2.4-1 5.5-0.4 4.8 0.4 1.3 1zM516 996.1l-4 0.3-3.6-2.4-0.9-2-0.1-2 0.8-2 1.8-1.7 4-0.8 2 0.6 2.1 1.9 1 2-0.2 3-1.3 2zM591 994l-4-0.7-0.7-1.3 1.7-1.2 3.3 0.2 1.3 2z"/>
<path fill="#0024ff" d="M513 659l-2-0.4-2-1.5-1-3.1 0.5-2 1.5-1.8 4-1.2 3 1.3 1.2 1.7 0.4 2-1.6 3.5-2 1.2zM483 661l-3.2 0 0-1 1.5 0zM516 677.1l-4 0.1-3-2.2-2.8 0-1.7-1-0.3-1 1.8-1.6 2.5-0.4 1.2-2 2.3-1.4 4 0.1 5.1 3.3 0.5 2-0.4 1-2.6 1zM444 674.1l-3-0.5-0.4-1.6 2.5-2 2.9-1 3 0 1 0.9-1.7 2.1zM428 677.1l-2 0-1.2-1.1 2.2-0.3zM657 684l-3 0.7-3-0.4-2-1.2 0-1.1 2-1.3 4 0 2.6 1.3 0.3 1zM516 697.2l-3 0.5-3-1.1-1.4-1.6-0.7-2-2.2-1 0-2 1.8-1 2.1 0 3.4-1.4 4 1.2 3-0.3 3.4 1.5 0.4 1-1.2 2-1.6 1.2-2.1-1.2-0.9 2.5zM425 699.1l-4.3-0.1-0.5-2 0.8-1.7 4 0.6 1.9 1.1 0.2 1zM512 700.1l-1.3-0.1-0.8-1 2.1-0.3zM434 705.2l-2.6-0.2 1.6-0.7 1.8 0.7zM512 718.3l-2.4-0.3-1-1 0-1 1.4-1-0.5-2 0.4-2 1.1-1.6 2-1.3 4 0.1 0-1.7 8 3 6 0 2 1.2 0.6 1.3-0.2 1-1.4 0.9-7-1.1-3 0.4-1-0.5-3 4.4-2 0.8-3-0.3zM456 730.2l-6 0-1.9-1.2 0-1 2.9-1.7 3 0 3.1 1.7 0.5 1zM522 740.1l-4 0.8-2-1.1-4-0.8-2.3-3-0.1-2 0.9-2 3.5-2.2 4 0.7 2.2 2.5 0.3 2-0.5 2 1-0.6 1.4 0.6 0.5 1 0.1 1zM615 734.1l-5-0.5-1.5-0.6 0-1 4.5-0.1 3.3 1.1zM572 746.3l-6 0.7-3.9-1-0.4-1 0.9-2 3.1-3-6.4-2-0.9-2 1.6-0.9 4.2 0.9 2.2 1 0.4 1-0.8 1 1 0.9 6 1.5 2.5 1.6 0.1 1-0.8 1zM611 751l-3-0.8-1-1.2 0.7-1 2.3-0.7 3.6 0.7 0.6 1-0.4 1zM505 773.2l-2 0.3-3.8-1.5-1.4-1-0.9-2 1.1-2 2-1.1 8-0.4 5.5-2.5 0.5-1-2-0.7-2-2.3-0.5-3 0.8-2-1.5-1 0.3-1 2.9-2 3-0.2 3.9 1.2 3.4 2 1.4 2-0.5 1-2.8 1-0.5 2-1.9 2-2.9 1 3.6 1-0.9 6-2.8 2.3-2 0.1-1-0.6-3 1.5zM594 764l-2.2 0 1.2-1 1.2 0zM514 786.2l-4-0.5-1.3-1.7 1.9-1-1.5-2-0.1-2 1.1-2 1.9-1.5 5-0.7 5 1.2 3-0.8 4.6 0.8 1 1-2.6 3-3 1-2 2.3-4 1.5-5-0.2zM499 786.4l-5 0.4-10-1.2-3.1-2.6-0.4-1 0.5-3 2-2.1 2-0.5 11 2.3 2.5 2.3 0.2 3 0.9 2zM594 789l-4 0.2-4-2.1-0.5-2.1-1.3-2 0.7-2 3.1-1.7 4-0.2 2.6 0.9 1.9 2 2 1 0.3 3-2.3 2zM582 784.1l-1.9-0.1-0.6-1 2.5-1.1zM623 801.1l-4 0.1 1-0.6 0-1.1-3-0.2-2.6-1.3-0.6-1 0.6-2-3.4 0.9-1.6-1.9 2-2 5.6-2.6 4-0.6 3 0.5 1.2 0.7 0.4 2-0.6 1-2.9 1 1.5 1 0.6 2 3.3 1-0.1 1zM576 813l-6.2 0-0.7-3-5.4-3-2.7-3.2-6-1.1-7 0.5-4.6-1.2-3.5-3-0.4-2 0.6-2 2.9-3 5-1.3 2.4 0.3 1.6 0.9 1 1.3-0.2 1.8 2.2 0.8 10-1.4 4 0.4 1.8 1.2 0.4 1-0.8 3 2.6 1.7 3 0.7 7-1.6 4 1.2-2.8 2 7.3 5 0.6 1-0.6 1-3.5 1.3zM452 795.5l-1.4-0.5 0.3-1 2.1-1.1 0.8 1.1zM463 812l-3 0.9-4-0.1-4-0.9-2.6-1.9 1.5-2-2-5 2.1-2.6 0.6-2.4 1.3-1 0.4-2 2.7-1.9 4-0.6 8.5 1.5 5.7 2 1.2 1 0.3 1-0.7 1-11 3.7-0.1-0.7-2.1-1-0.4 2 1.6 0.6 1-0.5 1.8 2.9-3.8 3.5-3.3 1.5zM518 799l-5-0.5-1.5-1.5 0.3-1 2.2-1.4 5-0.5 5 0.6 1.5 1.3-0.2 1-1.3 1.1zM733 813l-7-0.4-6-1-9.7-3.6-1.6-1-0.1-1 5.4-2.5 10-2.9 6-1.1 8-0.2 8 0.9 15 3.7 20-0.6 6 0.3 3.7 1.4 2.3 3-5.1 2-7.9 1.1-30 0.8zM354 813.1l-6 0.4-19-1.7-31-0.4-11-1.8-3.7-1.6-0.7-1 0.5-1 1.6-1 7.3-1.7 22 0.8 26-3.4 8-0.5 11 1.5 7.7 2.3 4 2 0.3 1-1.2 1-4.8 2.2-6 2.1zM407 848.2l-6 0.2-8-3.8-10-2.2-3.2-1.4-0.1-1 7.3-6.4 6.9-4.6 1.4-3-6.2-12-8.6-6-0.9-1 0.7-1 3.7-1.2 10-0.9 11-2.5 6 0.9 3.8 2.7 0.3 3-4.2 5-0.7 2 1 3 4.2 4 1.7 3-1.1 3-4.1 4-0.9 2 0.5 2 3 5 0 2-2.5 3.1zM518 807.1l-4 0.7-3-0.7-2.2-2.1-0.3-2 1.5-1.3 2-0.5 5 1 3.2 1.8 0.3 1zM680 848.1l-3 0.5-4-0.4-4-1.5-2.3-1.7-1.2-2 0-2 3-5 0.3-3-4.8-4.9-4-1.1-1.3-1 2.3-2.6 3-0.6 5.4-5.8 0.2-3-4.1-5-0.8-3 2.3-2.8 4-1.5 5-0.3 10 2.5 10 0.9 4 1.2 0.7 1-9.8 7-6.2 12 1.4 3 5.9 3.9 8.3 7.1-0.6 1-1.7 0.8-11 2.8zM820 808.3l-7 0-2-0.8-0.6-1.5 1-2 1.6-0.7 5 0 3 1.7 0.1 2zM422 812.2l-1.6-0.2-1.6-3 0.3-2 1.9-2.5 3 2.4 1.4 2.1-0.9 2zM533 838l-2.8-1 3.9-3 0.9-3.1-13 0.6-5-0.6-3 3.2-3 0.8-4 0.1-3-0.5-3-1.3-2-2.6-2.3-0.6-6.7-4.8-13 1.8-5-0.6-2.6-1.4 0.3-1 4.3-1.2 7-0.3 10 1.5 11.5-3 0-1-2.8-3-0.7-4.6-3-1.7-4 0.9-8 4.3-4 1-8.8-0.9-3.2-1-2.9-2 1.2-1 12-3 10.7-3.8 4-0.3 2.9 1.1 2.1 2.6 4 0.8 1 1 3-0.4 6.4 1 2.3 1 0.8 1 0.3 4 3.4 2 8.8 2.1 3 1.9 2 0 2-1.2 3-0.6 4 0.2 2 0.9 1.7 2.7 0.2 2-2.9 2.3-1-0.7-1.7 0.4 2.2 1 0.1 2 1.5 2-0.4 1zM541 813.1l-9.2-2.1-1.3-1 2.3-1 3.2 0.4 6.5 2.6zM607 816.2l-6 0-1.2-1.2 0.1-2 1.1-1.5 3-1.1 3-0.1 2.9 0.7 0.9 1-0.3 2-1.5 1.5zM355 830.1l-8 0.3-19-1.9-22-1-14 0.7-10-0.4-12-1.4-2.9-1.4-0.2-1 1.1-1.2 3-1.2 20-2.9 28.2-0.7 28.8-2.4 9 0.8 7 1.4 11.5 3.2 2.7 2-2.1 2-4.1 1.5-8 2.2zM812 834l-5 0.5-5-0.4-4.1-1.1-6.2-3-19.7-2.6-20.1 0.6-19.9 2-9-0.3-15-3.4-3.7-1.3-2.5-2 0.5-1 1.8-1 8.9-2.6 9-1.9 8-0.6 44 2.9 25 0 6 1.4 1.9 2.8 3.1 2.8 7.2 4.2 0.5 1-0.6 1zM619 826.2l-3 0.6-4-1.2-2-1.7-0.8-3.9 1.8-2 2-0.8 4-0.8 5 0.9 3.6 3.7-0.5 1-3.8 2zM588 828.1l-7 0.8-4.4-0.9-2-1-0.3-1 1.3-3-1.3-2 0.2-1 3.5-1.4 5-0.6 4 0.6 3.5 1.4 3.2 3 0 1-3.3 3zM438 829l-7-0.1-4-0.9-2.7-2 0.1-2 2.6-2 5-1 2-1.2 6 0.7 2.2 1.5 1 4-2.2 1.8zM651 828.2l-4 0.8-6.6-1-5.7-4-0.1-1 8.4-2.5 7 0.9 3.4 1.6 1.2 2-1.1 2zM492 842.3l-22-6.8-2.7-1.5-0.2-1 2.9-1.6 5-1.2 4-0.2 4 0.7 7.5 4.3 5.1 4 0.2 1-0.8 1.7zM610 837.1l-4-0.1-4-1-1.9-2 0-2 2.9-1 4 1.1 3.7 2.9 0.3 1.2zM555 857l-6 0.8-6-1.8-3.2-3-0.3-2 0.5-2 2.7-2 4.3-1.1 14 0 1.4-0.9 0.7-4 6.2-4 0.1-2 0.8-1 16.8 0.6 3 0.8 1.9 1.6-4.6 4 0 1 2.4 1-0.4 1-4.3 1.1-7-0.8-5 0.9-2.8 1.8 0.8 3-1 1.5-5 1.4-5 0.1-2.1-1-2.3 3 0.7 1zM790 846l-7 0.7-6-0.2-5-1-5-2.2-3-0.4-27 2.7-11 0-13-2.6-4.1-2 0.1-1 7-3.6 7-1.9 9-0.6 10 0.5 11 1.3 9 3.8 5 1.3 21 0.5 5.9 0.7 2.3 1-0.2 1-1.8 1zM357 846.2l-10 0.6-23-3.3-17 2.3-12 0.3-10-0.8-3.5-1.3 0.5-1 2-0.7 7-1.3 24-0.9 19-4.6 14-1.3 7 0.3 6 1.2 5.6 2.3 3.4 2 0.6 1-0.8 1-3.8 1.7zM421 841.4l-1.1-4.4 1.1-2.2 2.8 1.2 0.8 1-0.6 1.9zM472 851.1l-7 0.3-5-0.8-1-0.6 0-1.2-7.4-2.8-2.3-2-0.3-1 1.9-2 3.1-1.3 4-0.5 5 0.3 2 0.8 10 7.7 0.4 1-0.5 1zM516 845.1l-5 0.4-2-1-0.6-1.5 1.6-2.3 4-1.5 3 0.2 3.1 1.6 0.6 1-0.4 1zM623 847.1l-10-0.7-2.9-2.4 0-2 1.9-1.9 2-0.8 3-0.3 3 0.6 2.4 1.4 2.6 3-0.4 2zM496 843.1l-3.1-0.1 3.1-0.8 0.6 0.8zM520 853l-6-0.6-1.5-1.4-0.1-1 1.6-1.3 4-0.4 5 0.5 2 1.2 0.2 1-0.8 1zM517 866l-3 0.3-3-0.7-2.5-1.6-5.7-2-1.7-1-0.4-1 3.7-3 3.6-1.7 4-1 4 0.2 6.1 2.5 2.2 2-2.2 1 0.2 2-1.3 2zM623 857.3l-3 0.1-1.3-0.4-0.4-1 1.7-0.9 2 0 1.9 0.9zM493 872l-4 0.3-1-0.3 0.8-1-0.8-0.1-5 0.4-1.3-1.3-0.7-3 2-2.3 4-2 3-0.3 4 0.6 2.3 3-1.3 1 0 2-0.9 1-2.8 1zM517 895.3l-4 0.2-2.3-1.5 1.5-1-2.2-2.6-0.5-2.4 0.5-2 1.5-2-2.8-3 0.3-1.4-5-1.5-2.7-0.1-1.2-1-0.6-2 1.4-3 4.1-0.6 0 1.7 3-0.4 3 0.3 2.5 2 1.5 0.4 1.1-0.4 3.4 3 0.9 5-1.2 2 1.1 2-0.2 3 2.3 1 0.1 1-2.3 2zM613 899.3l-4 0.1-1.9-1.4 1.9-1.6 3-0.3 1.7 0.9 0.4 1zM571 906.2l-4 0.8-2-0.3-3-3.7 0.2-2 1.8-0.8 4-0.1 4 0.6 2.8 1.3 0.8 1-0.1 1zM516 915.2l-3-0.3-2.5-1.9-0.9-3 1.4-3.2 2-1.3 2-0.4 3 0.8 3-0.5 3.2 1.6 0 1-1.4 2-2.3 1-1.8 3zM564 911l-4 0.8-1.4-0.8 0-1 1.4-1.3 5-1.1 1.6 1.4-0.3 1zM613 915.1l-4 0-0.4-1.1 5.4-1.1 1.2 0.1 1.1 1zM455 920.3l-2 0.5-3-0.7-2-1.7-0.2-1.4 1.2-1 2-0.5 5.4 0.5 0.9 1-0.1 1zM516 937.1l-3-0.2-2-1.3-1.1-1.6-0.4-2-1.6-1 0.2-2 6.9-2 2 0.4 2 1.4 1.2 2.2-0.2 3-1.6 2zM519 938.1l-1.1-0.1 1.4-2 2.7-2.1 3 0.7 6-1.5 2.4 0.9-0.2 2-2.2 1.5-3 0.1-4-1.1zM521 957.2l-3 0.7-2-1.1-5 0.8-4.1-0.6-0.9-1 0.1-1 2.1-1-0.1-3 1.3-2-2-1 0.3-2 3.3-1.2 4 0.9 0 1.8 2 1 1.3 1.5 0.6 2-0.3 2 0.4 0.3 2-1.8 1.1 1.5 0.5 2zM425 951l-4 0.7-0.8-1.7 0.5-2 4.3-0.1 2.1 1.1-0.2 1zM656 966l-5 0.3-2-1.3-0.1-1 3.1-1.5 4 0.1 1.9 1.4-0.4 1zM516 977.3l-4 0.1-2.3-1.4-4.2-1-1.2-1 0.1-1 1.1-1 3-1 1.4-2 1.6-1 2.5-0.5 2 0.4 2 1.4 1.3 2.7 2.1 1 0 1-1 2zM427 971.3l-2.1-0.3 1.1-1.1 2 0zM449 978l-3 0-2.8-1-2.5-2-0.2-1 1.1-1 1.4-0.2 3 0.8 3.4 2.4 0.6 1zM514 996l-3.8-1-2.1-3-0.1-2 0.9-2 3.1-1.9 4 0.7 2.5 3.2 0 2-0.8 2-1.7 1.5z"/>
<path fill="#003bff" d="M515 658.1l-3 0.3-2-1.1-1.1-1.3-0.4-2 0.6-2 2.9-2.3 3 0.1 2.6 2.2 0.4 2-0.5 2zM516 676.5l-4 0.2-2.3-1.7-2.3 0-1.5-1-0.4-1 1.5-1.5 2.1-0.5 1.9-2.4 2-0.7 2.1 0.1 2.9 2 1-0.3 1.9 2.3-0.5 2zM444 673.2l-1.5-0.2-0.4-1 0.9-1 2-1 3.1 0 0 1-1.2 1zM654 684.1l-3-0.5-0.9-0.6-0.1-1 3-1.1 3.4 1.1 0.3 1zM514 697.2l-2-0.2-2-1.1-1.5-2.9-2.2-1 0.2-2 6.5-1.9 4 1.1 2.9-0.2 1.6 1 0.4 1-1.1 2-2.4 0-1.4 2.8zM425 698.3l-4 0.3 0-2.5 4.2 0.9 0.3 1zM512 718.1l-2-0.7-0.7-1.4 0.7-0.5 1.4 0.5-1.2-2-0.1-2 1.9-2.8 2-0.8 3 0.3 1-1.4 3.4 1.7 2 2-1.4 1.8-1-0.4-1.2 0.6-0.6 2-1.2 1.4-2 0.9-3-0.2zM531 712.2l-2.7-0.2 0-1 2.3 0zM519 740.3l-2 0-1-1-3-0.3-2-1.6-0.8-3.4 1.8-2.8 2-0.9 2 0 3 1.7 0.9 2-0.5 3 0.6 0.4 1.3-0.4 0.3 1-0.6 1.3zM571 746.1l-4 0.4-3-0.4-1.1-1.1 0.1-1 3-2.6 5 0.1 3 1.3 0.5 1.2-0.9 1zM516 761.3l-2 0.1-2-0.8-1.8-2.6-0.1-2 0.9-2-1.5-1 0.5-1.1 2-1.3 2-0.4 3 0.5 2.8 1.3 2.4 2-0.1 2-2.2 1-1.5 3zM507 772.1l-2 0.9-4.5-1-2.4-2 0.2-2 3.1-2 6.6 0.1 3-2 2-0.3 1-1.2 3.5 0.4-1.1 5-1.5 2-1.9 1.1-2-1-2 1.6zM513 785.4l-3.2-1.4 1.4-1-1.6-2 0-2 2.4-2.9 5-1 5 1.3 3-0.7 3.5 1.3 0.1 1-1.5 2-2.6 1-2.5 2.5-4 1.1-5-0.7zM495 786.1l-7-0.3-4-1-1.3-0.8-1.2-2 0.2-3 1.3-1.4 2-0.7 10.9 2.1 1.8 2 0.3 2-1 2.4zM594 788.3l-4 0.2-3-1.4-1-0.9 0.4-1.2-1.6-2 0.8-2 2.4-1.3 4-0.1 2 0.6 3.6 2.8 0.4 2-0.5 1zM620 799l-4-0.6-1.3-1.4 0.7-2-1.4-0.5-1 0.8-1.3-0.3 0-1 1.9-2 3.4-2 3-0.7 3 0.2 1.9 1.5 0 1-0.5 1-2.6 1 1.5 2-0.3 1.5zM585 812.1l-12-0.3-3.4-2.8-5.6-3-2-3.3-12 0-1 0.4-3-0.5-4.3-2.6-1.2-2 0.2-2 2.3-3 5-1.5 3 0.9 1.8 1.6-0.2 1 1.6 1 10.8-0.8 3 0.4 1.5 1.4-1 3 1 1 5.5 1.8 7 0.8 4 2.1 3.7 3.3 0.3 1-0.9 1zM459 812.2l-5-0.2-2.5-1-0.8-1 0.3-0.6 1 0.3 2.4-0.7-2.6-1-1.1-3 0.3-2 1.3-2 0-3 1.2-1 0.5-2 3-1.8 4-0.2 6.4 1 6.4 3 0.3 1-0.9 1-2.4 1-5.8 1.5-3.6-0.5-0.4 2 3 1.2 1.1 1.8-3.5 3-2.6 1-0.6 1 1.3 1zM521 798.2l-6 0.1-2-1.3 1-1.4 3-0.8 5 0.2 1.8 1-0.2 1zM624 800.1l-3 0.6-0.3-0.7 0.3-0.7 1 0.2 2-2.2 2.3 0.7-0.3 1zM358 812.1l-10 0.9-21-1.8-24-0.1-12-1.4-4-1.3-1.7-1.4 0.5-1 2-1 5.2-1.1 21 0.5 34-3.8 12 1.7 6 2 3 1.7 0.3 1-2.7 2zM741 812.1l-9 0.6-10-1-8.3-2.7-3.1-2 0.1-1 3.6-2 7.7-2.5 8-1.4 4 0 9 0.6 17 3.5 24-0.3 4.1 1.1 1.1 1 0.1 1-2.2 2-7.1 1.5zM516 807.1l-3 0-2-0.8-1.3-1.3-0.1-2 1.7-1 2.7-0.2 5.1 2.2 0.3 1-0.7 1zM408 847.1l-4 0.5-3-0.4-7.5-3.2-8.8-2-2.7-1.3-0.4-0.7 0.5-1 4.9-4.5 8.2-5.5 1.2-3-0.5-2-5.4-10-8.1-6-0.4-1 1.3-1 11.7-1.4 10-2.5 5 0.5 3.8 2.4 0.3 3-4.4 5-0.5 3 1.7 3 4.3 4 0.9 3-1 2-4.4 4-0.8 2 0.6 2 3 5 0 2-1.5 2.2zM679 847.2l-3 0.4-4-0.5-3-1.2-2.1-1.9-0.4-3 3-5 0.4-3-7.2-8 1.3-0.3 1-2 4.9-4.7 0.9-2-0.5-3-3.8-4-0.8-3 2.3-2.5 4-1.3 4 0 9 2.4 10 0.9 3.1 1.5-0.5 1-8.1 6-5.4 10-0.5 2 1.2 3 7.2 4.7 5.9 5.3 0.4 1-2.3 1.6-9.5 2.4zM482 816.1l-4 0.5-5-0.6-3.4-1-1.7-1-0.2-1 2.3-1.2 20-5.7 2.2-0.1 1.9 1 0.1 1-1.7 2-6.5 4.3zM422 811.3l-1 0.3-1-1.6 0.1-2 0.9-1.7 2.7 2.7-0.1 1zM539 834.2l-4-1.8 0-1.9-12 0.7-6-0.5-5 3.5-7 0.1-4-1.6-2-2.3-3-1.4-2.1-2-0.5-2 3.3-2 7-2-3.8-4-0.8-6 2.9-0.9 1 0.5 3-0.3 5.2 0.7 3.5 2 0.3 4 3 2.2 10 2.3 3 1.9 2 0 2-1.4 3-0.4 3 0.3 2.5 1.1 1.2 2 0 2-1.7 1.5-3 0-0.5 0.5 2.2 1-1 3zM607 815.3l-3 0.4-2-0.4-1-1.3 0.3-1 2.7-1.8 4 0 1.4 0.8 0.2 1-0.6 1zM350 830l-23.4-2-20.6-1-20 0.2-10.5-1.2-3.5-1-0.8-1 0.9-1 3-1 16.9-2.9 27-0.7 29-2.3 8 0.4 9 1.8 8.9 2.7 2.6 2-2 2-7.5 2.5-9 2zM616 826l-3-0.6-3-2.2-0.6-3.2 4.6-2.8 3-0.6 4 0.7 2.8 2.7 0.3 1-0.6 1-5.5 3.6zM811 832.1l-6 0.6-11-3.7-22-2.1-20 0.8-20 2-7-0.1-15-3.1-4.1-1.5-2.5-2 2.3-2 7.3-2.3 9-1.9 6-0.6 44 3.1 24 0.1 4.1 0.6 2.9 1.2 5 5.8 4.4 3 0.3 1zM586 828.2l-5 0.2-4.2-1.4-0.5-1 1.3-2-1.3-3 0.5-1 3.2-1.2 4-0.3 3 0.5 3.5 2 1.8 2 0 1-3.2 3zM436 829.1l-9-1.6-1.8-1.5 0.1-2 1.7-1.5 7-2.3 5.4 0.8 1.6 1 1.2 3-0.1 1-2.7 2zM650 828.2l-3 0.4-5.6-0.6-5.2-4 0.2-1 6.6-2.1 7 0.9 3 1.7 0.8 1.5-0.8 1.6zM482 825l-5 0.7-3.3-0.7 0.7-1 3.6-0.4 4 0.4zM493 840.1l-3 0.5-16-4.3-3.8-1.3-1.5-1-0.2-1 1.5-1 5-1.4 7 0.3 4 1.9 4.5 3.2 2.5 3zM608 836.1l-5-0.8-1.5-1.3-0.1-1 1.6-1.1 4 0.9 2.2 2.2zM354 846.1l-7 0.2-24-3.7-4 0.1-11 2.3-7 0.6-10-0.3-5.6-1.3 0.6-1.1 8-1.6 24-0.7 15-4.3 14-1.7 12 0.9 6 2.2 3.5 2.3 0.3 1-2.7 2-7.1 2.3zM553 857.1l-5 0.1-5.5-2.2-2-3 0.6-3 2.9-1.8 4-1 13 0.8 3-0.6 0.6-0.4-0.7-3 0.4-2 9.7-6 11.1 0 3.7 1 0.9 1-1.1 2-3.9 3-0.7 1.6-8 0.4-7 2-1.2 1 1.5 3-0.6 1-2.7 1-5 0.5-3.8-0.5-2.1 2 0.4 2zM739 845.1l-9 0.4-9-0.8-9-2.7-1.4-1-0.1-1 2.9-2 6.6-2.5 6-1 7-0.3 18.4 1.8 11.5 5-1.6 1zM422 838.1l-1 0.7 0-2.7 1.2 0.9zM472 850.3l-6 0.7-5-0.6-1.1-0.4-0.9-1.5-6.5-2.5-1.9-2-0.2-1 2-2 2.6-1 8-0.3 2.7 1.3 7.8 7 0.3 1zM514 845.1l-4-0.7-0.8-1.4 0.4-1 1.4-1.3 3-1 3 0.2 2.1 1.1 0.6 1-0.4 1zM623 846.4l-7 0.2-2.8-0.6-2.5-2 0-2 1.3-1.4 3-1.1 5 0.5 2 1.1 2.5 2.9-0.5 1.6zM782 846l-7.8-1-3-2 3.1-1 9.7-0.4 7 1 1.3 0.4 0.4 1-3.7 1.4zM521 852.1l-5-0.3-1.6-0.8-0.3-1 1.9-1 2-0.1 3 0.2 2.1 0.9 0.2 1zM518 865.3l-3 0.6-3-0.4-6.3-2.5-3.1-3 2.9-3 4.5-1.7 5-0.2 4 1.1 3 1.4 1.3 1.4-1.7 1 0.1 2-0.7 1.3zM485 871.1l-2-0.6-1.3-2.5 0.6-2 1.7-1.3 4-1.3 3-0.1 3 1.1 1.4 1.6-1.3 1 0 2-1.2 1zM515 895l-3.2-1 0.7-1-2.1-3-0.4-2 0.6-2 2-2-1.6-0.7-1.8-2.3-0.2-2-5-1.2-1.5 0.2-1.8-2 0.1-1 2.2-2.2 3 0.7 3-0.3 2 0.5 1.6 1.3 3.4 0.8 1.8 2.2 1.8 5 0.1 1-1.3 1 1.5 3-1 3 1.1-0.6 1.3 0.6 0 1-2.5 2zM572 905.2l-3 0.6-3-0.2-2.3-1.6-0.7-2 0.9-1 2.1-0.4 6 0.7 2.4 1.7-0.2 1zM517 914.4l-3 0.3-2.8-1.7-1-2 0.6-3 1.2-1.4 2-0.9 7 0.3 1.5 1 0 2-1.5 1.3-1-0.3-1 3zM517 936.3l-3 0.3-2.9-1.6-1.1-3-1.4-1 0.3-2 6.1-1.4 3.5 1.4 1.2 2 0 2-1 2zM530 936.1l-1.1-0.1-0.2-1 2.5 0zM511 957.4l-3-0.4-1.2-1 0-1 2-1-0.1-3 1.4-2-1.8-1 0-1 1.7-1.3 2-0.2 2.1 0.5 0.8 2 2.1 1.2 1.2 1.8 0.1 2-0.9 2-1.4 1.2-4 0.5zM425 950.1l-4 0.8-0.3-1.9 1.3-0.8 2 0.2 1.5 0.6zM518 957.2l-1.3-0.2 3.3-3 0.1 2zM654 966l-3-0.4-0.9-0.6 0-1 1.9-1 2-0.1 2.6 1.1-0.2 1zM515 977l-2 0.1-6.2-2.1-1.1-1-0.1-1 1-1 2.4-0.6 1-1.8 2-1.3 4 0.2 1.9 1.5 0.8 2 1.9 1 0.1 1-1 2zM448 977l-2.9 0-2-1-0.9-1 0.4-1 2.1 0 2.1 1 1.2 1zM515 995.2l-3 0.1-2.9-2.3-0.5-3 1-2 1.4-1 2-0.5 2 0.4 2.5 2.1 0.5 2-0.4 2z"/>
<path fill="#0054ff" d="M515 657.4l-3 0.3-2.3-1.7-0.3-3 1.6-2 3-0.7 2.7 1.7 0.4 3zM515 676.2l-2 0.1-2.5-1.3-2.5-0.4-1.3-1.6 0.5-1 2.6-1 1.2-1.6 2-0.9 2 0.1 2.2 1.4 1.8 0.1 1.1 1.9-0.6 2zM515 696.3l-2 0.2-2-0.7-1.8-2.8-2.2-1 0.4-2 5.6-1.3 3 0.8 2.1-0.5 1.6 1 0.1 2-2.2 0-0.6 2.8zM517 716.3l-2 0.5-2.5-0.8-1.6-2-0.1-2 1.2-2 3-1.1 2.8 1.1 1.2 1.9 0.3-0.9-1.9-2 0.6-0.8 2 1 1.4 1.8-0.2 1-2.1 1-0.7 2zM519 739.4l-2 0.5-1-1.3-2 0-2-1.1-1.2-2.5 1.2-3 3-1.2 3.1 1.2 1.2 3-1.8 3 0.5 0.3 1-1 1.3 0.7zM571 745.3l-5 0.3-1.3-0.6-0.2-1 2.5-1.8 3-0.1 2.4 0.9 0.4 1zM517 760.2l-3 0.5-2.6-1.7-0.7-2 0.6-3-1-1 1.7-1.7 2-0.5 3 0.4 4.1 2.8 0 2-1.9 1-0.8 2zM506 772.3l-3-0.1-2.8-1.2-0.9-1 0.2-2 3.5-1.8 5 0.6 2-1.6 1-0.1 3 0.7 0.4 2.2-1.2 2-3.2-0.1zM519 784.1l-4 0-3-1.1-1.7-2 0.4-3 2.3-1.8 3-0.7 3 0.3 3 1.1 1-0.8 3.2 0.9 0.7 1-0.8 2-2.1 0.6-2 2.4zM495 785.1l-5 0.4-5-1-2-1.5-0.9-3 1.5-2 2.4-0.7 8.9 1.7 2.2 3zM594 787.3l-3 0.4-3-0.9-1.1-0.8 0.3-1-1.5-2 0.1-1 1.2-1.2 2-0.8 3 0.1 2 0.8 2.7 2.1 0.2 1-0.8 2zM621 798.1l-4.1-0.1-1.1-1 0-1 1.1-1-3.3-1 1.8-2 2.6-1.5 3-0.6 2 0.5 1 1.6-0.5 1-2.1 1-0.3 1 1.1 1 0 1zM558 802.2l-9 0.7-3-0.8-4-3.1 0-3 2-2.3 4-1.1 3 0.9 3 2.7 6-0.2 6.2 1 0 1-1.2 1.1zM460 809.1l-3 0.2-2-1-2.2-0.3-0.6-1-0.1-2 2.3-3-1.1-4 0.9-1 0.6-2 3.2-1.5 5-0.1 4 0.9 4.9 2.7 0.3 1-1.1 1-3.1 1.2-5 0.7-2.2-0.9-0.1 1-1.5 1 0.1 1 1.1 1 2.6 0.5 1.3 1.5-0.3 1.1zM520 797.3l-4.4-0.3 1.4-1.2 3.8 0.2 0.1 1zM624 799.1l-1 0.4-0.2-0.5 1.2-1.2 0.7 0.2zM737 812l-7 0.3-9-1.2-7.7-3.1-1-1 0.2-1 2.5-1.6 6-2.1 11-1.7 11 0.9 16 3 23 0 3 0.7 1.4 0.8 0.1 1-3.3 2-7.2 1.2-23 0.5zM356 812l-8 0.6-21-1.9-23-0.1-11.5-1.6-2.8-1-0.9-1 1.2-1.3 5-1.2 20 0.3 33-3.7 11 1.4 6 2.1 2.3 1.4 0.3 1-2.3 2-5.3 2.2zM408 846.2l-6 0.2-8.8-3.4-8.2-2-1.3-1 0.1-1 2.7-3 9.5-6.3 1.8-2.7-0.8-3.9-5-9.4-2-2.2-4.1-2.5-0.9-1 0.4-1 9.6-1.3 7-2.3 4-0.6 5 1.1 2 2.1-0.2 2-4.7 5-0.5 2 1 3 5.4 5 0.9 3-1.1 2-3.7 3-1.4 2 0.1 2 3.2 5 0.5 2-1.5 2.7zM517 806l-4 0.3-2-1.2-0.4-1.1 1.4-1.3 4 0.3 1.7 1 0.3 1zM585 811.1l-5 0.4-5-0.6-9-4.7-0.9-2.2 0.9-1.4 2-0.5 15 2.8 3.2 2.1 1.4 2-0.2 1zM679 846.1l-4 0.6-3.6-0.7-3.2-2-0.7-2 0.5-2 3.2-5 0.1-2-1.4-2-3.9-3.2-1-2.8 1-2 5.4-5 1-3-0.5-2-4-4-1-2 1.1-2.3 4-1.7 4 0 9 2.7 8 0.8 1.6 0.5 0.4 1-6.6 5-5.4 10-0.8 4 1.8 2.7 7 4.2 3.5 3.1 1.7 2-0.1 1-1.5 1-8.6 2.3zM479 816l-7.5-1-1.7-1 0-1 4.7-2 7.5-1.9 5-0.7 2.5 0.6-0.5 2-2.3 2-3.7 2.1zM458 811.2l-3 0.2-2.6-1.4 2.6-0.6 1 1.3zM510 834l-4 0-4-1.3-6.9-5.7 0-2 1.3-1 3.6-1.4 4.3-0.6 0.4-1-4.7-4.6 0-4.4 1.2-1 4.8-0.4 6.7 1.4 1.5 2 0.4 4 3.4 2 11 2.2 2 1.6 2 0 2-1.4 5-0.1 2 0.7 1.5 2-0.1 2-0.9 1-1.5 0.3-1-0.4-1.5 1.1 2 1-1.5 1.6-3 0.1 0-1.5 1 0.2 0-0.7-14 1.1-5-0.6zM606 814.1l-2.4-0.1 0-1 1.4-0.7 2 0.3 0.3 0.4zM358 829.1l-10 0.6-24-2.3-21-1-11 0.3-10-1.1-4.6-1.6 0.8-1 13.8-3.3 25.8-0.7 30.2-2.6 7 0.3 9 1.7 8.3 2.6 2.5 2-0.5 1-3.9 2zM616 825.1l-2-0.2-3-1.6-1-0.9-0.3-2.4 4.3-2.6 3-0.6 4 1.2 1.3 2 0.2 1-0.7 1-3.8 2.5zM736 829.1l-8 0.3-8-0.8-11-3-3.2-1.6-0.6-1 2.2-2 7.6-2.5 9-1.6 8-0.4 38 3.3 24 0.5 6 1.6 2.9 2.1 0.3 1-1.2 1.6-5 1-9 0.1-20-1.2-16 0.8zM587 827.1l-4 0.8-3.8-0.9-0.6-1 1.9-2 0-1-1.9-2 0.6-1 4.8-0.9 3 0.7 1.9 1.2 1.3 2 0 1-1.4 2zM438 828l-2 0.6-2-0.6-4-0.1-3-1.1-1.1-1.8 1.1-1.7 6-2.5 4.2 0.2 2.4 1 1.5 3-1.1 1.9zM648 828.1l-6-0.4-3.5-2.7-0.8-1 0.4-1 2.9-1.2 4-0.6 6 1.7 1.8 2.1-0.6 1-2.2 1.6zM488 838.3l-5-0.3-8.3-2-4.4-2-0.1-1 1.5-1 4.3-1 6 0.6 3.1 1.4 3.6 3 0.3 1.6zM357 845.2l-7 0.7-5-0.3-11-2-9.7-2.6 0.4-1 1.9-1 6.4-2.1 15-1.9 7 0.3 5 1 4.3 1.7 2.6 2 0.2 1-2.1 1.7zM735 845.1l-6 0.1-8-0.9-7.4-2.3-1.4-1-0.2-1 2.5-2 5.5-2.1 12-1.4 17 1.6 5 1.5 4.4 2.4 0.2 1-2.5 1-10.1 1.9zM572 844.2l-5 0.2-1.4-1.4-0.1-1 2-2 8.5-4.1 7-0.2 4.1 1.3-0.2 2-3.9 3.1zM469 850.1l-5 0.3-4-1-1-1.3-5.6-2.1-1.6-2 0-1 2.2-2 3-0.9 6-0.2 2 0.8 2 2.4 2 0.9 2.7 4-0.1 1zM622 846.2l-8-0.4-2.5-1.8 0-2 1.5-1.3 2-0.7 5 0.6 2 0.8 1.9 2.6zM516 844l-4 0.3-1.5-1.3 1.5-2 4-0.6 1.6 0.6 0.8 1-0.5 1zM307 844l-11 0.8-5.4-0.8 0.1-1 9.3-1.2 7 0.4 2.6 0.8zM788 844l-6 1-5-1 0.6-1 4.4-0.4 5.1 0.4zM554 856.1l-4 0.7-5-1.1-3.2-2.7-0.1-3 3.3-2.4 6-1 13 2.1 1.8 1.3-5.9 2-1.9-0.5-1.7 0.5-1.6 2 0.3 1.3zM517 865.1l-4 0.2-6.3-2.3-2.2-2 0-2 2.4-2 4.1-1.3 4 0 5 1.5 2.3 1.8-1.4 1 0.3 1-0.7 2zM487 870.4l-2 0.1-2.2-1.5-0.2-2 1.4-1.5 2-0.9 4-0.5 3 0.8 1.2 1.1-1.4 1 0.5 1-0.4 1-1.9 0.9zM516 894.2l-3-0.5 0-1.4 0.5-0.3-1.7-1-1.1-2 0.3-2.2 2.3-2.8-1.7-1-2.6-4.8-6.5-1.2-0.3-2 1.1-1 6.3 0 1.8 1 0.5 1 1.1-0.5 1.9 0.5 0.7 1 3.3 7-1.5 1 1.8 3-1.1 3 1.9 1-1 1zM572 904.2l-2 0.7-3-0.2-2-1.1-0.3-1.6 2.3-0.7 4 0.5 1.8 1.2zM516 914.1l-2-0.1-2-1-1.1-2 0.1-2 1-1.5 2-1.1 5-0.4 1 0.4 1.5 1.6-0.1 1-0.4 0.7-1.7 0.3-1.2 3zM515 936.1l-2-0.5-1.8-1.6-0.5-2-1.4-1 0.5-2 5.2-0.8 2 0.5 1.4 1.3 0.7 2-0.5 2-1.6 1.6zM511 957.1l-2-0.3-1.1-0.8-0.3-1 1.9-1-0.1-3 1.9-2-1.9-1 0.5-1 3.1-0.5 1 0.5-1.3 1 4.1 2 0.8 3-1.6 2.5-2 0.7-2-0.1zM518 976.2l-5 0.3-5-1.5-1-1-0.1-1 0.8-1 1.8 0 1-2 1.4-1 3.1-0.2 2 1.2 1 2 1.7 1-0.1 2zM515 994.5l-3 0-2.1-1.5-0.6-3 1.7-2.2 3-0.6 2.6 1.8 0.6 3z"/>
<path fill="#0071ff" d="M514 657.1l-2-0.1-1.9-2 0.8-3 2.1-1 2.8 1 0.7 2-0.8 2zM516 675l-3 0.7-4.8-1.7-0.4-1 0.4-1 2.4-1 1.4-1.4 3-0.3 4 1.6 0.4 1.1-0.8 2-1.7 0zM515 695.6l-2 0.3-2-0.9-1.1-2-2.2-1-0.1-1 0.7-1 2.7-0.6 4.5 0.6 1 1 0.5 2zM518 691.2l-1.7-1.2 2 0 0.4 1zM515 716.1l-2.7-1.1-0.9-2 0.6-2 3-1.4 2.8 1.4 0.6 2-0.9 2zM515 738.1l-2.5-1.1-1-2 0.6-2 2.9-1.5 3 1.4 0.6 2.1-1 2zM570 744.4l-2 0.4-1.4-0.8 2.4-0.9 1.6 0.9zM515 760.1l-2.7-1.1-0.9-2 0.5-2-0.7-2 2.8-1.6 4 0.9 2.1 1.7 0.4 1-0.3 1-1.8 0-0.9 3zM512 769.6l-2.9-1.6-0.7-1 0.6-0.9 2 0 1.5 0.9 0.3 1zM507 771.4l-1 0.5-3-0.3-2-1-0.8-1.6 0.8-1.3 2-1 5 0.9 1.1 1.4zM521 783.1l-3 0.8-4-0.4-2.5-1.5-0.6-1-0.1-2 1.7-2 2.5-0.9 4 0.1 3 1.3 1-0.8 1.2 0.3 1.3 1-0.3 2-1.6 0-1 2zM490 785l-4-0.7-2-1.3-1.1-2 0.5-2 1.6-1 2-0.4 6.8 1.4 1.4 1 1 2-0.3 1-1.9 1.5zM594 786.3l-3 0.6-3-1-1.4-2.9 0.1-1 2.3-1.4 4 0.4 2.8 2-0.2 2zM621 794.3l-2 0.4-3.7-0.7 2.7-2.4 3-0.8 1.7 1.2-0.2 1zM466 800.1l-3 0.3-2-0.7-2 1.1-3-0.4-1.4-1.4 1-1-0.6-2 1-1.2 2-0.9 7.1 0.1 4 2 1.3 2-1.2 1zM556 802.2l-7 0.3-2-0.5-3.2-2-1.1-2 0.3-1.5 2-2.2 3-0.7 3 0.8 3 2 5 0.1 2.1 0.5 1.2 1-3 3zM620 797.3l-2 0-0.6-0.3 0-1 2.6-0.3 0.6 0.3 0 1zM353 812l-6 0.2-22-2.1-21-0.2-7-0.9-3.5-1-1.1-1 1-1 4.6-0.9 17 0.2 33-3.9 10 1.2 7.9 3.4 0.4 1-2.3 2.1-5 2zM743 811.1l-11 0.9-7-0.5-6-1.4-4.4-2.1-0.9-1 0.3-1 1.3-1 5.7-2.3 11-1.6 9 0.7 16 3.1 23 0 3.5 1.1 0.3 1-2.8 1.5-5 1-19 0.5zM408 845.3l-3 0.5-3-0.4-15-4.9-1.5-1.5 3.5-4.1 9-5.4 1.2-2.5-0.7-4-3.5-6-1.2-4-3.5-4 0.5-1 14.2-4.3 4 0.4 2.6 1.9-0.2 2-4.4 4-0.9 3 1 3 5.7 5 1.1 2-0.9 2.5-4.5 3.5-1.2 2 0.3 2 3.2 5 0.6 2-1.1 2zM459 808.3l-4-0.7-1.1 0.4-0.7-1 0.4-2 1.4-1 2-0.4 5 1.2 1.3 1.2 0 1-2.3 0.7-1.2-0.7zM516 805l-3 0.1-0.5-1.1 2.5-0.3 0.7 0.3zM584 810.1l-4 0.6-4-0.6-6.7-3.1-2.3-2.1 1-1.3 2-0.3 11.4 1.7 2.2 1 1.8 2 0.1 1zM679 845.2l-4 0.6-3-0.5-2.3-1.3-1.1-2 0.6-2 3.2-5 0.3-2-1.2-2-4.5-3.5-0.9-2.5 1.1-2 4.9-4 1.6-3 0-3-4.4-4-1.1-2 1-2 2.8-1.2 5 0.2 7 2.8 5.2 1.2 0.5 1-3.5 4-1.2 4-3.5 6-0.7 4 1.2 2.5 9 5.5 3.4 4-0.5 1-1.9 0.9-7 1.8zM481 815.2l-3 0.4-4-0.5-2.4-1.1 0-1 1.7-1 7.2-2 3.5-0.4 2.6 0.4 0.5 1-1.7 2zM511 833.2l-4 0.5-4-1-5.2-3.7-1.8-2 0.4-2 1.4-1 7.2-1.7 1.2-1.3-5.9-5-0.1-3 1.8-1.6 5.7-0.4 4.3 1.2 1.5 1.8-0.1 4 2.2 2 13.4 2.7 1.1 0.3 0.9 1.3 2 0 1-1.4 5-0.2 2 0.6 1.5 1.7-0.2 2-0.9 1-1.4-0.4-4 1.8-13 1-5-0.5-3.4 1.1zM355 829.1l-9 0.2-19-2.1-22-1.3-13 0.1-6.4-1-2.4-1 0.5-1 3.3-1.5 5-1.2 27-0.9 29-2.7 9 0.6 7 1.4 7 2.3 2.3 2-1.9 2-3.4 1.4zM733 829l-9-0.2-8-1.4-7.2-2.4-2.2-2 2.2-2 7.2-2.4 7-1.3 9-0.5 36 3.5 20 0.2 8 1.3 3.8 2.2-0.2 1-2 1-5.6 0.8-25-0.7-15 0.8zM616 824.1l-3-0.4-2-1.1-1-1.2 0-1.4 4-2.4 3-0.5 3 0.9 1.1 1 0.3 2-2.4 2.1zM587 822.4l-3 0.3-2-0.7-0.9-1 1.7-1 1.4 0 2.5 1zM436 828.2l-7-1.1-1.7-1.1-0.3-1.5 1.9-1.5 4.1-1.9 5 0.8 1.3 1.1 0.9 2-1.4 2zM650 827.1l-3 0.6-5-0.6-3.1-3.1 0.6-1 2.5-1 4-0.3 4 1.2 1.3 1.1 0 2zM586 826.3l-3 0.7-1.8-1 1.8-1.4 3-0.4 1.2 0.8zM486 837.1l-4 0.1-5.5-1.2-4.6-2-0.1-1 4.2-1.4 5.4 0.4 4.9 3 0.5 1zM742 844l-10 0.9-8-0.4-8-2.1-2.4-1.4-0.3-1 2.3-2 4.4-1.7 12-1.5 16 1.7 4.9 1.5 2.9 2-0.4 1-2.6 1zM355 845l-7 0.4-7-0.9-10.5-2.5-2.2-1-0.3-1 3.4-2 3.5-1 14.1-1.7 10 1.1 4.1 1.6 2.5 2 0.1 1-2.7 1.9zM575 843l-6 0.5-1.2-0.5-0.5-1 2.2-2 7.5-3.3 5-0.2 2.1 0.5 1.2 1-0.7 2-1.6 1.2zM469 849.1l-4 0.7-4-0.5-1-1.5-5.8-1.8-1.5-2 0.2-1 1.1-1.2 3-1.2 5-0.5 3 0.8 4.1 4.1 1 3zM621 846l-7.5-1-1.2-1 0-2 1.7-1.2 2-0.5 6 1.4 1.3 2.3zM516 843.1l-2 0.5-1.9-0.6 0.3-1 2.6-0.8 1.7 0.8zM552 856.1l-4 0-3.1-1.1-2.1-2 0.1-3 3.1-2.1 5-0.7 5.7 0.8 3.1 1 1.2 1-2 1.4-3.8-0.4 0 1-1 1 0.2 2zM518 864.3l-4 0.6-6.5-1.9-1.9-2 0.1-2 2.3-1.8 3-1 4 0 4 1.1 2.4 1.7-1.2 1 0.4 1-0.6 1.7zM487 870.1l-1.9-0.1-1.4-1-0.2-2 0.8-1 4.7-1.3 3.9 1.3-1.9 1 0.8 1-0.8 0.9-2 0.1zM509 877.3l-2-0.2-1-0.9-1 1.1-1.1-0.3-0.7-1 0.3-1 1.5-1 2 0.9 2.7 0.1 0.8 1zM513 880l-3.2-1 3.2-3.2 0.6 0.2 0.6 2zM517 893.2l-3.3-0.2 1.6-1-2.4-1-1.4-2 0.5-2.6 2.1-1.4-1.2-2 1.1-1.7 2 0.6 2 2.1-2.4 1 1.9 1 1 2-0.5 2-1 1 1.8 1zM570 903.5l-2 0.2-1.3-0.7 2.3-0.6 1.5 0.6zM517 913l-3 0.4-1.9-1.4-0.6-2 1.5-2.4 4-1.1 2 0.2 1 0.7 0.5 1.6-1.9 1-0.5 2zM516 935.3l-2 0-2-1.3-0.3-3-1.7-1 0.9-1 1.1-0.2 1 0.7 2.7-0.5 1.8 1 0.8 3zM515 955.3l-3 0.1-1.7-1.4-0.4-2 1.1-2 3-0.9 2 1 0.9 2.9zM511 956.7l-2-0.7-0.5-1 1.5-0.8 1.6 1.8zM517 976.2l-7.9-1.2-1.1-1-0.1-1 2.3-1 1.8-2.3 3-0.2 1.9 1.5 0.4 2 1.7 0.3-0.2 1.7zM513 994l-2.1-1-1-2 0.7-2 2.4-1.2 2.7 1.2 0.8 2-0.7 2z"/>
<path fill="#008fff" d="M514 656.1l-1.7-0.1-1.1-1 0.2-2 1.6-1 2 0.8 0.5 1.2zM515 674.6l-4-0.1-1.7-0.5-0.5-1 0.4-1 3.8-1.9 5.2 0.9 0.4 1-0.6 1.6zM513 695l-1.7-1-0.5-1-2.2-1-0.1-1 1-1 1.5-0.3 1 0.9 2-0.3 1.3 0.7 0.6 1-0.4 2zM515 715.2l-2-0.9-0.6-1.3 0.6-1.7 2-0.9 1.6 0.6 0.9 2-0.5 1.2zM516 737l-2 0-1.2-1-0.2-2 1.4-1.4 2-0.1 1.5 1.5-0.2 2zM515 759.2l-2.3-1.2-0.3-2 0.6-1-1-1 1-1.4 2-0.5 2.9 0.9 1.6 2-2 1-0.5 2.2zM507 771l-3.4 0-1.8-1-0.3-1 1.5-1.4 2 0 2 1.4zM520 783l-3 0.5-3-0.5-2.4-2-0.1-2 1.5-1.6 2-0.8 5.2 0.4 1.8 1.2 0.9 1.8-1.1 2zM524 779.2l-1.8-1.2 0.8-0.5 1 0.5 0.5 1zM493 784l-3 0.5-3-0.5-2-1.3-1.2-2.7 1.2-1.3 2-0.6 6 1.2 2 1.7 0.2 1-0.5 1zM594 785.1l-2 0.8-3-0.4-0.9-0.5 0.9-1-1.2-1 0.3-1 1.9-0.8 2 0.4 1 1.4 1.7 1zM467 799.1l-5 0.8-3-1.1-1 1-1-0.3-1-0.5 0.8-1-0.8-2 3-1.8 5-0.1 2.3 0.9 2.3 2 0 1zM554 802.1l-5-0.1-2.8-1-2-2 0-2 1.8-1.8 3-0.4 5 1.8 4 0.4 1.7 1 0 1-1.7 1.7zM357 811.1l-9 0.8-23-2.5-21-0.3-5.2-1.1-1.4-1 3.6-1.2 15 0 32-4 10 1.3 6.4 2.9 0.4 1-0.6 1-3.5 2zM740 811l-8 0.7-8-0.7-5-1.4-3.8-2.6 0.3-1 1.4-1 4.1-1.8 11-1.6 10 0.9 13 2.9 21 0 3.5 0.6 0.8 1-4.3 1.7-21 0.6zM408 844.1l-3 0.7-3-0.4-12.7-4.4-1.4-1 0.6-2 2.1-2 8.4-4.3 1.9-1.7-0.7-7-3-5-0.2-2.9 1.8-6.1 2.5-2 3.7-1.2 3 0.2 1.5 1 0.4 1-1.4 2-4.8 3-0.3 2 0.9 3 1.2 2 5.7 4 1.2 2-0.6 2-5.9 4-0.5 1 0.6 3 3.8 6-0.4 2zM462 807l-3-0.4-1 1-3.3-0.6 0.3-1.2 2-0.8 4 0.3 1.1 0.7zM582 809.2l-3 0.3-3-0.5-4.2-2-1.5-1-0.3-1 4-0.4 7 1.2 1.9 1.2 0.4 1zM679 844l-5 0.7-3.4-1.7-0.4-2 3.8-6 0.6-3-0.6-1.1-5-3.1-1.4-1.8 0.4-2 0.8-1 5.7-4 2.1-5-0.3-2-5.8-4 0-2 2.5-1.2 3 0.2 2.7 1 3.1 3 1.3 7-3.3 6-0.7 7 1.9 1.7 7 3.3 4.1 4-0.1 1-1.4 1zM482 814l-5 0.8-3.1-0.8-0.1-1 5.3-2 5.1 0 0.3 1zM509 833l-3 0.1-3-0.9-2-1.2-4-4 0.6-2 1.4-0.8 3-0.9 4-0.2 3.2-2.1-0.8-1-5.4-2.2-2-1.8-0.4-1 0.4-2 2-1.4 5-0.2 4.1 1.6 0.7 2-1.2 4-0.2 1 0.6 0.3 14 2.2 4 1 1 1.3 2 0 1-1.4 3-0.3 3 0.6 1.2 1.3-0.2 2.1-2 0.5-1.1-0.6-0.5 1-2.3 1-12.1 1-5-0.3-4 0.8zM351 829l-8-0.3-19-2.2-24-1.6-8 0.1-3.1-1-0.4-1 0.6-1 2.9-1 26-1 30-3 8 0.4 7 1.4 6.6 2.2 2.2 2-1.9 2-4.9 1.9-7 1.6zM617 823.2l-3 0.1-2-0.8-1.4-1.5 0.1-1 3.3-2.1 4.6 0.1 1.4 1 0.4 2-1.4 1.4zM740 828.1l-9 0.8-9-0.6-9.3-2.3-4-2-0.6-1 2.1-2 6.8-2.2 7-1.4 8-0.3 35 3.9 21 0.2 6 1.4 2.1 1.4-2.1 1.3-6 0.9-20-0.8-15 1zM437 827.2l-2 0.7-4.3-0.9-1.9-1-0.5-1 0.5-1 3.2-2.2 4 0.1 2.1 1.1 1 2zM648 827.1l-5-0.2-2.4-1.9-0.4-1 1.8-1.4 4-0.6 4 1.8 0.7 1.2-0.7 1.2zM483 836.2l-7.2-1.2-1.8-1 0.1-1 3.9-0.8 3.8 0.8 2.5 2-0.5 1zM358 844l-7 0.9-7-0.4-10-2.2-2.8-1.3-0.5-1 3-2 7.3-1.6 7-0.7 8 0.5 5 1.4 3.2 2.4 0 1-1.1 1zM739 844l-8 0.6-8-0.6-6.5-2-1.5-1-0.4-1 2.3-2 4.1-1.6 11-1.2 15 1.7 3.5 1.1 2.6 2-0.8 1-2.5 1zM577 842.1l-6.6-0.1 0.1-1 1.5-1 5-2.2 4-0.1 2.1 1.3-1.8 2zM465 849.1l-4-0.5-1-1.2-4.8-1.4-1.4-2 0.2-1 1-1 3-1.1 4-0.4 3 0.8 2.7 2.7 0.9 3-0.6 1.2zM621 845.4l-1 0.4-5-0.9-1.6-0.9-0.5-1 0.5-1 1.9-1 5.7 0.6 1.5 1.4 0 1zM553 855.1l-3 0.6-3.5-0.7-2.6-2-0.3-2 1.9-2 4.5-1.1 5 0.5 3.1 1.6-0.6 1-1.5-0.6-2 0.5-0.5 1.1 0.6 2zM517 864.1l-3 0.3-5.6-1.4-1.7-2 0.2-2 2.1-1.6 3-0.7 4 0.2 3 0.9 1.5 1.2-1 1 0.2 2zM488 869.3l-1 0.3-2-0.6-0.6-1 0.2-1 1.1-1 2.3-0.6 3.2 0.6zM516 890.5l-2 0.1-1.6-1.6 0.3-2 1.3-1 2 0 1.2 1 0.3 2zM516 912.5l-2-0.1-1-0.7-0.5-1.7 0.3-1 1.2-1 2 0 0.7-1 1.2 0 1.3 1 0.1 1-1.3-0.4-0.7 0.4 0.2 2zM516 934.3l-2 0.1-1.5-1.4 0.2-2 1.3-1 2 0 1.1 1 0.2 2zM515 954.3l-2 0.4-1.5-0.7-0.6-1 0.4-2 1.7-1 2 0.5 1 1.5zM516 976l-3-1-3-0.3-1-1.7 2.2-1 1.8-1.8 2 0.2 1 0.9 0.4 1.7 1.8 1-0.4 1zM513 993l-1.6-1-0.4-1 0.2-1 1.8-1.2 2 0.9 0.5 1.3-0.5 1.2z"/>
<path fill="#00b3ff" d="M511 674.1l-1.1-1.1 0.4-1 1.7 0.1 1-1 3-0.5 1.2 0.4 0.5 1-0.1 1-1.6 0.6zM510 692.2l-0.4-1.2 1.4-0.9 0.6 0.9zM514 693.6l-1 0.1-0.8-0.7 0.1-1 0.7-0.5 1.5 0.5zM516 713.2l-1 0.7-1-0.5 0-1.4 1.7 0zM516 735.5l-1 0.5-1-0.6 0-1.4 2-0.1zM515 758l-1.4-1 0.2-1 1.4-1-2.3-1 2.1-1.1 2 0.5 1.4 1.6-2.3 1 0.2 1zM506 770.3l-2.3-0.3-0.5-1 1.8-1 1.4 1zM518 783l-3-0.2-2-1-1-1.8 1-2 4-1.2 4 1.2 1 1-0.1 2-1.9 1.5zM493 783.2l-3 0.7-3-0.7-2-1.9-0.2-1.3 1.2-1 2-0.4 4 1 1.9 1.4 0.2 1zM591 785l-0.5-1 0.5-0.9 2.3 0.9zM465 799.1l-4 0.1-3.8-2.2-0.1-1 1.9-1.6 4-0.1 2 0.6 2.3 2.1-0.3 1zM556 801l-4 0.9-3-0.4-3-1.5-0.8-2 0.8-1.4 2-0.9 7.6 1.3 2.3 1 0.3 1zM355 811.1l-11 0.2-25.5-3.3-1.7-1 19.2-3.6 12-1.2 10 1.2 5.1 2.6 0.4 1-1.9 2zM736 811.1l-6 0.2-7-0.9-4.2-1.4-2.2-2 0.3-1 4.1-2.3 5-1.2 6-0.5 9 0.9 15 3.5 20.2 0.6-12.2 0.3zM580 808l-3.1 0-2.3-1-0.5-1 4.2 0 2.1 1zM405 808.2l-1-0.2 0.4-1 2 0zM676 808l-1.7 0-0.7-1 2 0zM481 813.1l-3 0.7-1.4-0.8 3.4-1.1 1.2 0.1zM510 818.3l-3 0.4-4-1.5-1.8-2.2 0.6-2 1.8-1 2.4-0.3 5.2 1.3 0.9 2-0.8 2zM358 828.1l-13 0.5-17-2.2-36.1-3.4 2.7-1 24.4-1.6 30-3.2 7 0.5 8 1.7 4.4 1.6 2.2 2-0.5 1-3.1 1.8zM618 822.2l-3 0.5-2-0.4-1.5-1.3 0-1 2.5-1.7 4 0.2 1.5 1.5-0.1 1zM738 828l-8 0.6-9-0.8-9-2.6-2-1.2-0.6-1 2-2 7.6-2.4 6-1 7-0.3 33 4.3 23 0.3 3.6 1.1 0.7 1-4.3 1.4-15-0.8-13 0.7zM408 828.1l-3 0.4-1.9-1.5-0.6-3 0.9-2 2.6-0.3 4.2 2.3 0.4 2zM676 828.2l-3 0.2-2.9-1.4-0.7-1 0.4-2 4.2-2.3 2.6 0.3 0.9 3zM436 827l-2 0.2-3.8-1.2-0.7-1 2.5-2.8 3 0.1 2 0.8 1.1 1.9zM510 832.1l-3 0.5-4-0.9-4.5-3.7-0.5-2 1-1.1 3-1.1 16-1.7 5 0.3 7 1.6 0 1.5 4 0.1 0-1.7 4-0.1 1.9 1.2 0.4 1-0.4 1-0.9 0.2-3.3-1.2 0.8 1-0.5 0.7-2 0.7-20 1.4zM648 826.3l-5-0.1-1.5-2.2 2.5-1.3 3 0.1 2.5 2.2zM407 843l-4 0.4-10-3.4-2.1-1-0.6-1 0.2-1 2-2 3.5-1.8 4-1 2 0.2 5.7 7.6 0.3 2zM678 843.2l-3 0.4-2-0.6-1.1-2 6.1-8.6 2-0.2 4 1 3.5 1.8 2 2 0.2 1-0.7 1.1zM480 834.9l-3.1-0.9 1.1-0.5 2.9 0.5zM736 844l-6 0.3-7-0.7-5.1-1.6-1.6-1-0.4-1 2.2-2 2.9-1.2 11-1.3 14 1.8 4.1 1.7 0.6 1-0.9 1-3.8 1.4zM355 844.1l-7 0.4-6-0.8-6.7-1.7-2-1-0.5-1 1.2-1.2 4-1.4 11-1.4 9 1 2.6 1 2.3 2-0.1 1-1.8 1.4zM577 841.1l-2.1-0.1 0.1-1 3-1 1.2 0 0.8 0.9zM466 848.1l-4 0.2-0.9-0.3 0.9-1.1-5.9-0.9-1.4-2 0.3-1 2-1.3 3-0.7 4 0.3 2 1.4 1.4 2.3-0.1 2zM620 845.2l-2 0.1-3.2-1.3-0.7-1 0.7-1 1.2-0.4 5 0.3 0.8 1.1-0.2 1zM551 855l-2.1 0-2.8-1-1.4-2 0.3-1.3 2-1.5 3-0.7 4 0.5 1.8 1-1.8 0.4-1.3 1.6 0.5 2zM518 863l-3 1-5-0.8-1.8-1.2-0.7-2 1.5-1.8 2-0.8 6 0.2 2.6 1.4-1 1 0.3 2zM488 869l-2-0.5-0.2-1.5 2.2-0.9 2 0.2 0.2 0.7zM516 889.2l-2 0 0-1.8 1-0.4 1 0.5zM516 911.1l-2-0.1 0-1.4 1-0.6 1 0.5zM515 933.3l-1-0.3-0.2-1 1.2-0.9 1.1 0.9zM514 953.4l-1.7-0.4-0.1-1 0.8-0.7 1.6 0.7zM516 975.3l-2 0-3.8-1.3-0.1-1 2.4 0 0-1 1.5-0.7 1.1 0.7 0 1 2.1 1z"/>
<path fill="#00dbff" d="M516 673.1l-4.5-0.1 1.5-1.3 3-0.2zM519 782.2l-4.5-0.2-1.2-1-0.1-2 2.8-1.5 3.7 0.5 1.6 2-0.4 1zM492 782.3l-3 0.5-2.6-1.8 0.2-1 1.4-0.5 2.5 0.5 1.7 1zM465 798l-4 0.8-3.4-2.8 1.4-1.2 4 0.1 2.1 1.1 0.6 1zM553 801.1l-3 0-2-0.8-1.1-1.3 0-1 1.2-1 1.9-0.3 5.7 1.3 0.7 1-0.6 1zM352 811l-4 0.2-8-0.9-12-2.3-2.1-1 1.5-1 8.7-2 11.9-1.4 9 1.1 4.6 2.3-0.1 2-1.5 1.2zM740 810.1l-8 0.9-6-0.5-5.9-1.5-1.9-2 1.4-2 2.4-1.1 10-1.4 11.1 1.5 7.1 3-0.7 1zM509 817.5l-2 0.3-3-0.9-1.2-0.9-0.5-2 0.8-1 1.9-0.7 4.8 0.7 1.2 2zM356 828.1l-12 0.1-32.1-4.2-3.5-1 3.8-1 26.8-3.7 10-0.8 11 1.2 7 2.3 2.1 2-1.1 1.5-3 1.4zM735 828l-7 0.3-7-0.8-8-2.5-2.1-2 2-2 6.1-2 12-1.4 12 1.2 21.5 4.2-2.1 1zM617 821.5l-3 0.1-1-0.6-0.1-1 1.5-1 2.4 0 1.3 1zM435 826.5l-2-0.1-1.8-1.4 0.8-2.1 2.6 0.1 1.7 1 0.3 1zM510 831l-3 0.9-4-0.9-3.2-3-0.5-2 1.2-1 2.5-0.7 9-0.3 7-1.1 6 0.5 4.3 1.6-1 2-1.5 1-5.8 1.4-7-0.4zM645 826l-1.6-1 0-1 3.6-0.6 0.4 0.6-0.6 1zM538 826.1l-1 0.2-1-1.1-1.1-0.2 2.6 0 0.9 1zM403 841l-6.9-2-1.7-1-0.3-1 2.9-2.1 3.5 0.1 3.3 4 0.2 1.5zM677 841l-1-0.5 0.2-1.5 3.3-4 3.5-0.1 2.9 2.1-0.3 1-1.7 1zM740 843l-8 0.9-7-0.4-5.7-1.5-1.9-2 2-2 2.7-1 9.9-1.1 12 1.6 3.6 1.5 0.4 1-2 1.5zM351 844l-10-1.1-5.1-1.9-0.6-1 0.9-1 3.8-1.4 9-1.2 8 0.9 2.1 0.7 2.3 2-0.1 1-2.3 1.5zM465 847.2l-2 0.4-0.3-0.6 1.3-2 0-1-0.1 1-0.9 0.8-2 0.5-4-0.7-1.1-1.6 0.5-1 1.6-0.8 5-0.5 2.9 2.3 0.3 2zM620 844.3l-2 0.7-1.6-1-0.2-1 0.8-0.7 2.7-0.3 1 1zM551 854l-2 0.1-2-0.9-0.7-1.2 0.3-1 2.4-1.3 3.6 0.3 0.4 1-0.7 1 0.3 1zM516 863.1l-5.4-0.1-1.3-1-0.5-2 1.2-1.4 2-0.7 5 0.4 1.3 0.7-1 1 0.7 1-0.3 1z"/>
<path fill="#0afffd" d="M519 781.5l-3 0.3-1.6-0.8-0.5-1 1.1-1.5 3-0.4 1.8 0.9 0.5 1zM462 798.1l-2-0.2-1.8-1.9 2.8-0.9 2.5 0.9 0.5 1zM553 800.2l-3-0.1-1.3-1.1 1.3-1.2 2.9 0.2 1.5 1zM356 810l-6 0.8-6-0.4-8-1.4-5.3-2 0.9-1 7.4-2 8-1 5 0.2 5 1 3.5 1.8 0.4 1-0.5 1zM737 810.1l-5 0.5-7-0.6-3.6-1-2.1-2 0.7-1.4 3-1.5 9-1.2 10 1.5 3.6 1.6 0.6 1-0.5 1-2.8 1zM509 816.3l-2 0.6-2-0.4-1.7-1.5 0.2-1 1.7-1 2.8 0.1 1.6 0.9 0.3 1zM353 828.1l-12-0.6-20.9-3.5-2.4-1 2.6-1 15.7-2.8 13-1.4 7 0.5 5 1 4.8 1.7 2 2-1.8 1.9-2.6 1.1zM731 828l-7-0.3-5-1.1-4.7-1.6-2.1-2 2-2 4.8-1.7 5-1 7-0.4 15 1.9 5.3 1.2 5 2-1.1 1-9 2zM434 825.6l-1 0.3-1-0.7 0-1.3 2.1 0.1 0.7 1zM507 831.1l-4.3-1.1-2.3-3 0.3-1 2.3-1 10 0 8-1.4 7 1.4 0.3 1-7.3 3.1-8-1zM355 843.1l-5 0.5-6-0.5-4-1.1-2-1-0.5-1 0.8-1 2.5-1 8.2-1.2 8 1.1 3.1 2.1-0.2 1-1.3 1zM737 843.1l-6 0.5-6-0.5-4.2-1.1-1.7-1-0.4-1 1.3-1.6 3-1.2 9-0.9 10 1.4 3.3 1.3 0.5 1-3.6 2zM462 845.1l-3 0.3-1.4-0.4-0.4-1 0.9-1 2.9-0.7 1.1 1.7zM618 844.1l-1.1-0.1-0.2-1 2.5 0zM551 852.2l-1 0.5-1.5-0.7 1.5-1zM516 862l-5 0.4-1.1-1.4 0.1-1 2-1.4 4 0.1 0.9 0.3z"/>
<path fill="#64fff0" d="M517 781.1l-1.7-1.1 0.9-1 1.8 0 1 1zM354 810l-6 0.4-4.2-0.4-5.8-1.1-4.2-1.9 0.7-1 2.7-1 10.8-1.7 7 0.8 4.4 1.9 0.4 1-0.5 1zM734 810.1l-9-0.5-3-1-1.7-1.6 0.4-1 2.3-1.3 7-1.3 7.9 0.6 5.6 2 0.3 1-0.7 1zM508 815.3l-2 0.4-1.2-0.7 0.6-1 1.6-0.2 1 0.6zM358 827.2l-8 0.7-7-0.4-13.6-2.5-6-2 1.6-1 8.5-2 14.5-1.9 11 1 7.1 2.9 0.6 1-2 2zM738 827.1l-7 0.7-8-0.6-7.5-2.2-2.1-2 2-2 4.6-1.6 11-1.2 14.1 1.8 6.2 2 1 1-0.8 1-3 1zM522 828.3l-1 0.4-3.2-0.7-2-1-0.3-1 1.5-1 4-0.8 4 0.6 2.3 1.2zM508 830l-4-0.1-1.4-0.9-0.5-2 0.9-1 3-0.7 4.5 0.7 0.8 1-0.6 1zM734 843.1l-10-0.6-3-1.1-1.1-1.4 0.5-1 2.6-1.3 8-1.1 9.8 1.4 2.3 1 0.6 1-1 1-2.7 1zM352 843l-8-0.5-4.1-1.5-0.5-1 0.9-1 2.7-1 6-0.7 6.5 0.7 3.3 2-0.3 1-1.6 1zM513 862.2l-1-0.2-0.8-1 0.2-1 2.6-0.9 2 0.5 0 0.7z"/>
<path fill="#a5ffd7" d="M348 810l-6.8-1-4.5-2 0.7-1 2.6-1 8-1.2 8 1.2 1.9 1 0.6 1-0.6 1-2 1zM737 809.1l-5 0.7-5-0.4-4-1.1-1.3-1.3 0.5-1 1.7-1 6.1-1.1 6 0.4 5.2 1.7 0.4 1-1 1zM356 827.2l-7 0.4-6-0.4-10.8-2.2-4.6-2 1.1-1 7.1-2 13.2-1.6 11 1.4 4 1.7 1.4 1.5-2.1 2zM736 827.1l-7 0.4-7-0.8-5.1-1.7-2.2-2 1.3-1.5 4-1.7 11-1.3 12 1.5 5.7 2 0.6 1-0.7 1-2.5 1zM524 827l-3 0.6-2.1-0.6-0.3-1 2.4-0.8 2 0.1 1.6 0.7zM507 829.1l-2.3-0.1-1.1-1 0.2-1 2.2-0.7 2 0.4 0.4 1.3zM354 842.1l-8 0.2-3.8-1.3-0.6-1 1.1-1 3.3-0.9 6.2-0.1 3.7 1 1.1 1-0.3 1zM737 842.1l-5 0.7-5-0.3-4-1-1.7-1.5 0.7-1 2.1-1 5.9-0.9 6 0.5 4.7 1.4 0.6 1-1 1z"/>
<path fill="#d1ffaf" d="M353 809.1l-8 0.1-4.6-1.2-1.2-1 0.7-1 2.1-0.8 6-0.9 5 0.5 3.4 1.2 0.6 1-0.7 1zM734 809.1l-6.7-0.1-3.2-1-0.9-1 0.5-1 2.3-1 6-0.7 5 0.8 2.1 0.9 0.5 1-1.2 1zM354 827.1l-6 0.2-7-0.8-6.6-1.5-4-2 0.9-1 6.5-2 11.2-1.3 10 1.1 4 1.8 1.2 1.4-0.6 1-2.6 1.5zM734 827l-6 0.1-6-0.8-3.8-1.3-2.3-2 1.1-1.3 4-1.8 10-1.1 11 1.4 4.7 1.8 0.5 1-0.7 1-2.2 1zM734 842.1l-7-0.1-3.3-1-0.8-1 0.8-1 2.3-0.9 5-0.5 5 0.6 2.4 0.8 0.7 1-1 1zM354 841.2l-6 0.7-3.4-0.9-0.7-1 2.1-1.2 5-0.2 2.4 0.4 1.6 1z"/>
<path fill="#f0ff51" d="M354 808.1l-6 0.9-4.7-1-1.4-1 0.8-1 2.3-0.7 5-0.4 4.3 1.1 0.8 1zM735 808.2l-6 0.4-2.6-0.6-1.2-1 0.7-1 2.1-0.7 4.9-0.3 3.6 1 0.5 0.7zM350 827l-11-1.3-5.1-1.7-1-1 0.7-1 4.4-1.6 11-1.4 9 1 2.8 1 2 2-1.8 1.9-2 0.8zM738 826.1l-6 0.7-7-0.3-5.6-1.5-2.1-2 2-2 2.7-1 9-0.9 10 1.4 3.8 1.5 0.5 1-2.9 2zM735 841l-6 0.5-2.7-0.5-1.2-1 1.9-1.2 5-0.5 3.5 0.7 1 1zM351 840.2l-2 0.5-1.7-0.7 1.7-0.3z"/>
<path fill="#ffdb00" d="M350 808.1l-3.5-0.1-1.8-1 1.1-1 2.2-0.4 3.4 0.4 1.3 1zM732 808.1l-4.2-1.1 1.3-1 2.9-0.3 2.5 1.3zM356 826.1l-6 0.6-6-0.4-5.8-1.3-3.4-2 0.7-1 2.5-1.1 10-1.6 8 0.6 5.2 2.1 0.4 1-0.4 1zM736 826.1l-6 0.5-5.9-0.6-3.5-1-2.1-2 0.5-1.1 3-1.4 9-1.1 9 1.3 3.2 1.3 0.5 1-3 2zM733 840.2l-2 0.5-2.8-0.7 2.8-0.8z"/>
<path fill="#ff8a00" d="M353 826.1l-5 0.2-5-0.7-5.1-1.6-0.9-1 0.7-1 2.3-1 9-1.3 8 1 2.8 1.3 0.6 1-0.6 1-1.7 1zM733 826l-9-0.5-3-1.1-1.2-1.4 0.5-1 2.7-1.3 8-0.9 8 1.2 2.2 1 0.6 1-0.8 1-2.4 1z"/>
<path fill="#ff3800" d="M356 825.1l-9 0.7-5-1-3.1-1.8 0.7-1 4.4-1.4 4-0.5 5 0.2 5.5 1.7 0.6 1-0.6 1zM736 825.1l-4 0.6-6-0.3-4-1.3-0.9-1.1 0.6-1 2.2-1 5.1-0.7 6 0.3 4.4 1.4 0.6 1-0.8 1z"/>
<path fill="#eb0000" d="M354 825.1l-8 0.1-4.4-1.2-0.9-1 2.3-1.6 5-0.9 6 0.4 3 1.1 0.7 1-0.7 1zM734 825l-7.5 0-3.2-1-0.8-1 0.8-1 1.7-0.7 6-0.7 5 0.8 2.4 1.6-1 1z"/>
<path fill="#a40000" d="M351 825l-6-0.5-2.8-1.5 1.8-1.3 5-0.9 5 0.7 1.6 0.5 0.9 1-0.9 1zM735 824.2l-6 0.6-4-0.7-1.1-1.1 2.1-1.4 6-0.5 4 0.9 0.9 1z"/></g>
<text x="238.35" y="85.94" font-size="30" fill="#1a1a1a" stroke="#1a1a1a" stroke-width="0.45" text-anchor="start" >20</text>
<text x="238.35" y="176.54" font-size="30" fill="#1a1a1a" stroke="#1a1a1a" stroke-width="0.45" text-anchor="start" >10</text>
<text x="255.10" y="267.34" font-size="30" fill="#1a1a1a" stroke="#1a1a1a" stroke-width="0.45" text-anchor="start" >0</text>
<text x="228.35" y="357.74" font-size="30" fill="#1a1a1a" stroke="#1a1a1a" stroke-width="0.45" text-anchor="start" >-10</text>
<text x="228.35" y="448.24" font-size="30" fill="#1a1a1a" stroke="#1a1a1a" stroke-width="0.45" text-anchor="start" >-20</text>
<text x="334.05" y="546.20" font-size="30" fill="#1a1a1a" stroke="#1a1a1a" stroke-width="0.45" text-anchor="start" >-20</text>
<text x="424.55" y="546.20" font-size="30" fill="#1a1a1a" stroke="#1a1a1a" stroke-width="0.45" text-anchor="start" >-10</text>
<text x="529.62" y="546.20" font-size="30" fill="#1a1a1a" stroke="#1a1a1a" stroke-width="0.45" text-anchor="start" >0</text>
<text x="611.75" y="546.20" font-size="30" fill="#1a1a1a" stroke="#1a1a1a" stroke-width="0.45" text-anchor="start" >10</text>
<text x="701.42" y="546.20" font-size="30" fill="#1a1a1a" stroke="#1a1a1a" stroke-width="0.45" text-anchor="start" >20</text>
<text x="488.50" y="581.2" font-size="33" fill="#1a1a1a" stroke="#1a1a1a" stroke-width="0.45">x <tspan dx="1.9">(</tspan><tspan font-family="DejaVu Sans Light, DejaVu Sans, sans-serif" font-weight="200" font-style="italic" font-size="30.4" stroke-width="0.5" dx="-1.5">μ</tspan><tspan dx="3.1">m</tspan><tspan dx="0.7">)</tspan></text>
<text transform="translate(217.0,260.2) rotate(-90)" font-size="33" fill="#1a1a1a" stroke="#1a1a1a" stroke-width="0.45" text-anchor="middle">y <tspan dx="0.6">(</tspan><tspan font-family="DejaVu Sans Light, DejaVu Sans, sans-serif" font-weight="200" font-style="italic" font-size="30.4" stroke-width="0.5" dx="-1.5">μ</tspan><tspan dx="3.1">m</tspan><tspan dx="0.7">)</tspan></text>
<text x="0.60" y="45.20" font-size="48" fill="#111" stroke="#111" stroke-width="0.45" text-anchor="start" >a</text>
<text x="77.35" y="692.64" font-size="30" fill="#1a1a1a" stroke="#1a1a1a" stroke-width="0.45" text-anchor="start" >20</text>
<text x="77.35" y="762.54" font-size="30" fill="#1a1a1a" stroke="#1a1a1a" stroke-width="0.45" text-anchor="start" >10</text>
<text x="94.10" y="832.24" font-size="30" fill="#1a1a1a" stroke="#1a1a1a" stroke-width="0.45" text-anchor="start" >0</text>
<text x="67.35" y="902.24" font-size="30" fill="#1a1a1a" stroke="#1a1a1a" stroke-width="0.45" text-anchor="start" >-10</text>
<text x="67.35" y="972.14" font-size="30" fill="#1a1a1a" stroke="#1a1a1a" stroke-width="0.45" text-anchor="start" >-20</text>
<text x="192.98" y="1052.40" font-size="30" fill="#1a1a1a" stroke="#1a1a1a" stroke-width="0.45" text-anchor="start" >-1.5</text>
<text x="310.05" y="1052.40" font-size="30" fill="#1a1a1a" stroke="#1a1a1a" stroke-width="0.45" text-anchor="start" >-1</text>
<text x="405.73" y="1052.40" font-size="30" fill="#1a1a1a" stroke="#1a1a1a" stroke-width="0.45" text-anchor="start" >-0.5</text>
<text x="529.12" y="1052.40" font-size="30" fill="#1a1a1a" stroke="#1a1a1a" stroke-width="0.45" text-anchor="start" >0</text>
<text x="623.12" y="1052.40" font-size="30" fill="#1a1a1a" stroke="#1a1a1a" stroke-width="0.45" text-anchor="start" >0.5</text>
<text x="740.70" y="1052.40" font-size="30" fill="#1a1a1a" stroke="#1a1a1a" stroke-width="0.45" text-anchor="start" >1</text>
<text x="835.77" y="1052.40" font-size="30" fill="#1a1a1a" stroke="#1a1a1a" stroke-width="0.45" text-anchor="start" >1.5</text>
<text x="332.44" y="1086.00" font-size="34.1" fill="#1a1a1a" stroke="#1a1a1a" stroke-width="0.45" text-anchor="start" >Frequency detuning (THz)</text>
<text transform="translate(53.2,823.2) rotate(-90)" font-size="33" fill="#1a1a1a" stroke="#1a1a1a" stroke-width="0.45" text-anchor="middle">y <tspan dx="0.6">(</tspan><tspan font-family="DejaVu Sans Light, DejaVu Sans, sans-serif" font-weight="200" font-style="italic" font-size="30.4" stroke-width="0.5" dx="-1.5">μ</tspan><tspan dx="3.1">m</tspan><tspan dx="0.7">)</tspan></text>
<text x="-1.00" y="670.30" font-size="48" fill="#111" stroke="#111" stroke-width="0.45" text-anchor="start" >b</text>
<defs><linearGradient id="jet" x1="0" y1="0" x2="0" y2="1"><stop offset="0.000" stop-color="#b00000"/><stop offset="0.125" stop-color="#ff0000"/><stop offset="0.125" stop-color="#ff6a00"/><stop offset="0.250" stop-color="#ffa800"/><stop offset="0.375" stop-color="#ffff00"/><stop offset="0.440" stop-color="#e4ff96"/><stop offset="0.500" stop-color="#c8ffd2"/><stop offset="0.560" stop-color="#82ffeb"/><stop offset="0.625" stop-color="#00fff0"/><stop offset="0.625" stop-color="#00e6ff"/><stop offset="0.750" stop-color="#00a0ff"/><stop offset="0.875" stop-color="#0a6cff"/><stop offset="0.875" stop-color="#0000ff"/><stop offset="1.000" stop-color="#00004a"/></linearGradient></defs>
<rect x="720.65" y="26.15" width="9.1" height="164.7" fill="url(#jet)" stroke="#fff" stroke-width="1.3"/>
<text x="738.60" y="33.57" font-size="27" fill="#fff" stroke="#fff" stroke-width="0.45" text-anchor="start" >1</text>
<text x="737.90" y="115.87" font-size="27" fill="#fff" stroke="#fff" stroke-width="0.45" text-anchor="start" >0.5</text>
<text x="737.90" y="198.07" font-size="27" fill="#fff" stroke="#fff" stroke-width="0.45" text-anchor="start" >0</text>
<rect x="370.2" y="422.9" width="50" height="4" fill="#fff"/>
<text x="338.00" y="467" font-size="31" fill="#fff" stroke="#fff" stroke-width="0.45">5 <tspan font-family="DejaVu Sans Light, DejaVu Sans, sans-serif" font-weight="200" font-style="italic" font-size="28.5" stroke-width="0.5" dx="1.6">μ</tspan><tspan dx="0.6">m</tspan></text>
<rect x="878.65" y="651.25" width="8.3" height="180.1" fill="url(#jet)" stroke="#fff" stroke-width="1.3"/>
<text x="896.20" y="659.67" font-size="27" fill="#fff" stroke="#fff" stroke-width="0.45" text-anchor="start" >1</text>
<text x="895.20" y="749.67" font-size="27" fill="#fff" stroke="#fff" stroke-width="0.45" text-anchor="start" >0.5</text>
<text x="895.20" y="838.97" font-size="27" fill="#fff" stroke="#fff" stroke-width="0.45" text-anchor="start" >0</text>
<g fill="none" stroke="#fff" stroke-width="5" stroke-dasharray="14 4.57"><path d="M419.1 637.9H658.3"/><path d="M655.8 635.4V1012.5" stroke-dashoffset="8.6"/><path d="M416.6 1010H658.3" stroke-dasharray="13.9 4.65" stroke-dashoffset="5.15"/><path d="M419 640.4V1012.5" stroke-dashoffset="12.5"/></g><rect x="416.5" y="635.4" width="5" height="5" fill="#fff"/>
<text x="149.89" y="962.50" font-size="30.35" fill="#fff" stroke="#fff" stroke-width="0.45" text-anchor="start" >Remaining Speckle</text>
</svg>
</body></html>
